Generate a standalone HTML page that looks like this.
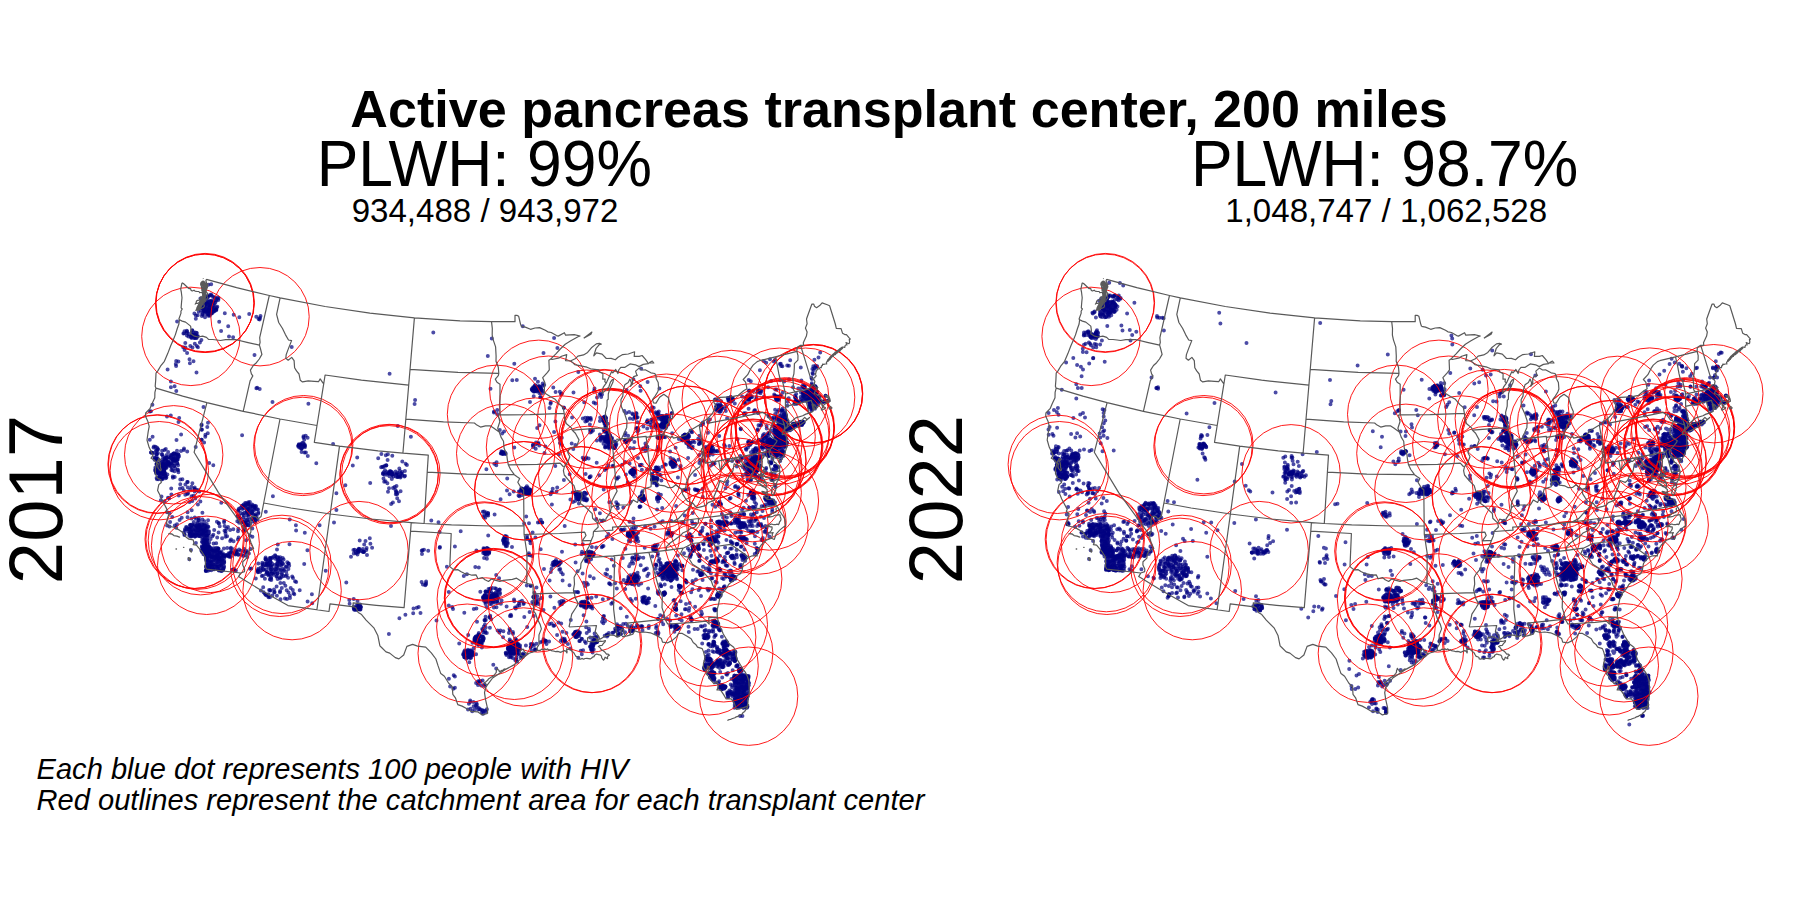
<!DOCTYPE html><html><head><meta charset="utf-8"><title>Active pancreas transplant center, 200 miles</title><style>
html,body{margin:0;padding:0;background:#fff;overflow:hidden}
svg{display:block}
text{font-family:"Liberation Sans",Arial,Helvetica,sans-serif;fill:#000}
.st{fill:none;stroke:#595959;stroke-width:1.2;stroke-linejoin:round}
.c{fill:none;stroke:#f00;stroke-width:.9}
.d{fill:none;stroke:#000080;stroke-width:4;stroke-linecap:round;opacity:.7}
</style></head><body>
<svg width="1800" height="900" viewBox="0 0 1800 900">
<rect width="1800" height="900" fill="#fff"/>
<path class="d" d="M208.4 284.8h0m-1.4 12.7h0m2.9-2.3h0m4.5 2.3h0m4.1 0.9h0m-16.4 6.7h0m0.5-0.7h0m0.5 1.5h0m0.8-1h0m0.5 1.3h0m0.9-1.8h0m0.2-1.5h0m0.8 5h0m1.1-4.8h0m1.1 4h0m1.1-5.8h0m0.4 6.2h0m0.3-3.2h0m0.7-0.3h0m0.9-3.4h0m1 1.2h0m1-0.7h0m1.6-1h0m-21.1 13.4h0m6.3-3.1h0m2.4-0.4h0m1.2 1.4h0m1 0.3h0m0.5-1.2h0m0.7 1.6h0m1.3 1.9h0m0.1 0.3h0m0.8-4.9h0m0.8 0.9h0m0.7 0.9h0m0.5 0h0m0.6 1.8h0m1.1-0.3h0m1.3-1.2h0m1-0.7h0m1.7-1.4h0m-39.3 12.1h0m42.1 0.3h0m40.4-2.4h0m-72.8 11.4h0m34.3 0.1h0m-36.9 2.4h0m4.7 0.8h0m2.5-1.4h0m0.9 2.7h0m1-0.2h0m0.8 2.8h0m0.8-1h0m0.5-4.4h0m0.5 4.2h0m0.6-3.9h0m0.8 3h0m236-3.4h0m-248 10.4h0m9.5 0.9h0m6.6-3.7h0m53.1 14.9h0m565.7-2.6h0m-630.3 10.8h0m576.3-0.5h0m14.6 1.1h0m-613.2 5.8h0m473.6-0.8h0m141.2-2.5h0m30 2.7h0m3.2-3.3h0m-426 8.1h0m399.4 5.5h0m23.9-5.4h0m-555.7 13.8h0m277.4 0.2h0m2 0.1h0m2.4-0.3h0m1-0.5h0m3.1-1.4h0m104.5-3.8h0m123.5-1h0m30.2 6.9h0m2.2-1.2h0m7.9 0.3h0m0.7-0.2h0m1.4-0.8h0m1.7 0.4h0m-638.9 4.6h0m355.4-2.1h0m1.1-0.1h0m0.8 0.5h0m0.7 1.2h0m1.2 0.5h0m1.5-2.5h0m1.1 1.7h0m0.7-0.3h0m0.7-0.3h0m0.4 0.3h0m1.1 3.1h0m1.6 0.1h0m18.3 1.1h0m33.6-5.6h0m32.1 1.3h0m122.1 1.1h0m8.4 1.8h0m2.4-0.9h0m14.7 2.6h0m2.5-5.1h0m21.6-0.9h0m5 5.1h0m1.9-0.5h0m1.1 1.8h0m1.1-2.7h0m0.3-1.7h0m0.4 0.5h0m0.4 4h0m0.5 0.6h0m0.4 0.1h0m0.3-3h0m0.1 2.1h0m0.3-4.1h0m0.4 4.4h0m0.6-4.1h0m0.4-0.9h0m0.2-1h0m0.6 5.1h0m0.4-6.1h0m0.6 5.7h0m0.4-0.1h0m0.4-3.3h0m0.2 3.4h0m0.1-3.9h0m0.8 2.8h0m0.8-1.8h0m0.6 1.3h0m9 3.6h0m-295.6 6.1h0m20.5 1.9h0m45-0.3h0m120.3-4.2h0m12.2-0.6h0m1-0.8h0m0.8 0.5h0m1.1-0.9h0m0.4 2.1h0m0.6 1.2h0m1.1-0.7h0m10.7 1.9h0m2.6-5.3h0m1.4 1.1h0m0.8 1.5h0m0.9-1.3h0m2.8-1h0m23.3 0.3h0m0.7 0.3h0m1 0.9h0m0.5-1.4h0m0.5 2h0m0.8-1h0m2-2.1h0m13.5 6.9h0m0.9 0.2h0m0.6-5.7h0m0.4 5h0m0.6 0.8h0m1.3-0.2h0m0.3-0.1h0m2.3-3.7h0m1.9-2.5h0m1.4 0.5h0m1.8 3.4h0m2.1-1.4h0m1.1-0.1h0m0.4 1.1h0m0.3 1.8h0m0.3-1h0m0.6 0.3h0m0.5 2.4h0m0.6-4h0m0.4-0.5h0m0.5-1.4h0m0.3-0.5h0m0.5 0.5h0m0.2 1.6h0m0.6-2.4h0m0.6 1.5h0m0.4-1h0m0.6 2.8h0m0.3-2.9h0m0.6 0.8h0m0.7-1h0m1.9-0.4h0m2.4 4.5h0m3.4 0h0m-674.3 10h0m343.1 0.3h0m69.9-3.5h0m89.7-0.4h0m62.5-0.9h0m0.6 1.7h0m0.1 0h0m0.8-1.9h0m1-0.8h0m1.1 0.3h0m0.7 0.5h0m0.4 4.6h0m1-3.4h0m26.7 0.9h0m28.8 3h0m4.6-1h0m2.7 0.3h0m24.5-4h0m1.2-2.5h0m1 3.1h0m0.5 1.9h0m2.6-1.8h0m0.5-0.2h0m-644.2 8h0m401.3 2.1h0m16.3 0.8h0m11.8-1h0m3.4 0.2h0m0.7-0.6h0m0.5 1.5h0m1.3-0.2h0m26.1-4.7h0m2.9 2.8h0m1.4 0.8h0m14.9 2.3h0m4.8-6h0m2.1 5.2h0m0.3-0.3h0m2.8-2.3h0m2.4 3.2h0m0.6-1.4h0m2.3 0.4h0m0.6 0.3h0m4.5-5.4h0m72.1 1h0m14.2-1.6h0m15.2 5h0m3.4 2.1h0m2.3-0.4h0m1.2 0h0m3-2.9h0m0.9-2h0m1.4 0h0m0.6 0.5h0m-584.5 9.6h0m335.6 3.4h0m49.7-7.6h0m16.3 0h0m1.5 1.3h0m1 5.1h0m31.8-4.4h0m9.9-0.8h0m4.1 6h0m4.4-4h0m3.2 3.3h0m2.2-2.4h0m0.4 0.2h0m0.8-2.6h0m0.5-0.2h0m0.4 4.8h0m0.7-6h0m0.7 2.7h0m0.6-2.7h0m0.4 2h0m0.4 0.6h0m1 1.4h0m1-0.1h0m39.8-2.5h0m53.3 3.1h0m11.6 1h0m3.8-0.5h0m1.6 1.2h0m0.2-2.1h0m0.2 1.6h0m0.4-0.2h0m0.3-3.8h0m0.3-1.9h0m0.7 0.5h0m0.6 4.5h0m0.7 1.8h0m0.4 0.5h0m0.2-1.4h0m0.2-1.9h0m0.3 1h0m0.6-0.5h0m0.4-1.1h0m0.1 2.5h0m0.3-6.3h0m0.1 1.2h0m0.5 6.3h0m0.1-3.8h0m0.5-3.4h0m0.4 6.8h0m0.1-2.3h0m0.6-3.5h0m0.9 0.4h0m0.5 6.2h0m0.7-0.7h0m0.2-0.3h0m1.2 1h0m0.8-0.3h0m1.2-0.8h0m0.7-2.9h0m0.4 1h0m0.9-1.3h0m0.7 1.8h0m0.5-1.7h0m0.3 1.4h0m0.7 0.3h0m0.4-0.8h0m1.6-0.5h0m0.6 1.6h0m1.3-1.2h0m0.9-2.1h0m0.1-0.6h0m0.3 2.1h0m0.7 0.8h0m1.3-2.3h0m-601.7 7.3h0m40.4 5.5h0m262-3.6h0m86.9-1.5h0m12.7-0.2h0m2.8 1.9h0m1 2.4h0m0.4 0.3h0m1.7 0.1h0m15.9-1.7h0m12-1.1h0m18.9-3h0m5.7 6.8h0m22.5-0.9h0m2.9 0.5h0m0.3-0.6h0m4.3-2.3h0m48.5-3.9h0m22.3 6.8h0m5.4-2.3h0m5.3 0.2h0m1.2-2.9h0m0.3 4.1h0m0.4-6h0m0.3 7.6h0m0.6-7.2h0m0.5 1.4h0m0.5 3.1h0m0.3-3.9h0m0.3 1.9h0m0.3-1.2h0m0.2 5.9h0m0.3-2.5h0m0.6 1.7h0m0.5-4.8h0m0.2 0.6h0m0.2-2.1h0m0.3 0.4h0m0.3 5.5h0m0.4-2.8h0m0.2-0.1h0m0.3-2.2h0m0.2 2.6h0m0-2.5h0m0.2 6h0m0.3-4.3h0m0.4-1.3h0m0.2 2.7h0m0.3-1.8h0m0.2 1.9h0m0.3-0.6h0m0.4-3.9h0m0.3 1.8h0m0.2 0.8h0m0.4-2.9h0m0.2 2.9h0m0.5-2.9h0m0.4 0.7h0m0.4 1.4h0m0.7-1.8h0m0.6 0.6h0m0.8-0.9h0m0.9 0h0m0.3 0.3h0m0.4-0.3h0m0.4 1.1h0m0.6-0.5h0m0.7-0.3h0m-590.6 11.3h0m100.8 3.4h0m1.5 0.3h0m232.2-0.9h0m23.9 0.4h0m37-2.4h0m3.9 0.3h0m2.7 3h0m0.8-0.7h0m1.1-3.2h0m0.8-1.1h0m0.2 0.4h0m0.9-0.1h0m0.3 0.3h0m0.2 3.7h0m0.5-6.2h0m0.8 1.3h0m0.7 2.5h0m0.8 0.4h0m0.6-1.4h0m0.8-1.6h0m13 2.6h0m3.1-0.4h0m17.3 3.3h0m13-5.9h0m2.6-0.5h0m20.9 2.8h0m1.1-2.9h0m1.5 1.4h0m1.3-1.5h0m0.7 4.5h0m1.4 0.3h0m0.3-0.5h0m0.9-4.9h0m5.4 5.8h0m4.7 1.6h0m2.1-3.7h0m47.4 2.8h0m0.8 0.6h0m4-1.6h0m7.6-1.5h0m1.7 1h0m0.2 2.5h0m1-3.1h0m1.8 2h0m0.9-5.2h0m0.9 5.1h0m0.4-1.5h0m0.5 0.3h0m0.6-3.3h0m0.4 5h0m0.4-1.5h0m0.6 1.9h0m1.2-2.9h0m0.5 2.8h0m0.3-2.9h0m0.2 2.1h0m1-0.1h0m1.2 0.8h0m1.2-1.5h0m0.1-2.7h0m0.6 0.4h0m0.2 1.3h0m0.7-4.7h0m0.1 2.3h0m0.4 2.1h0m0.5-0.9h0m0.1 0.1h0m0.3-3.1h0m0.6 0.8h0m0.7 2.4h0m0.3-2h0m0.3 5.7h0m0.6-7.3h0m0.5 1h0m0.1 2.1h0m0.1-0.2h0m0.4-2.6h0m0.3 3.4h0m0.6-3.6h0m0.6 2h0m0.7-1.8h0m0.5 5.2h0m1.3 0.2h0m-632.7 4.5h0m3.1 1.2h0m7.4 2.2h0m16.5 1.1h0m14.7-4.1h0m103.1-1.6h0m2 2.2h0m0.6-3h0m0.5 3.4h0m2.6-1.8h0m28.6-2h0m200 3h0m6.1-1.5h0m36.2-0.7h0m32.2 2.2h0m1.6 1.3h0m4.6-0.4h0m0.9-0.3h0m1.7-3.7h0m27.1 4.3h0m3.9-1.5h0m22.7 4.6h0m18.9-6.7h0m3.7 2h0m15 2.8h0m0.6-1.2h0m1.1-2.6h0m0.6 4.9h0m0.6-3.6h0m0.8 3.1h0m1.3 1.1h0m1.4-0.3h0m10-6.2h0m22.2 5.1h0m6.7 0.2h0m2.4-1.4h0m1.5 1h0m4.8-2.3h0m1.9-1.2h0m1.7 0.5h0m0.5-1.6h0m1.2-0.3h0m1 7.3h0m0.2-3.4h0m0.3-1.8h0m1-0.9h0m0.6 1.2h0m0.5-0.2h0m0.5-1.4h0m0.3 2.8h0m0.4-0.3h0m0.2-0.9h0m0.3-2.9h0m0.4 0.7h0m0.4 1h0m0.4 0.1h0m0.2-1.9h0m0.5 4.2h0m0.7 0.2h0m0.6-2h0m0.3 3.3h0m0.3-4.9h0m0.3 1.5h0m0.3 2.2h0m0.5-1.6h0m0.4-1.6h0m0.3 1.5h0m1.8-0.3h0m0.6-2.3h0m1 0.4h0m0.4 6.6h0m0.4 0.1h0m2.1-6.5h0m1.9 1.2h0m-632.3 6.9h0m2.4 6.8h0m0.4-3.2h0m1.3-3.6h0m5.1 3.5h0m3.1 1.5h0m1.4-0.7h0m3.2 0.7h0m1.4 1.5h0m0.9-5.3h0m0.3 4.8h0m1.1-5.4h0m0.9 4.4h0m1.1-1h0m1-1.2h0m0.4 1.3h0m0.6-2.6h0m129.4 1.5h0m78-0.8h0m115-1.6h0m1.2-1.5h0m1.3 0.9h0m1.9 0.9h0m77.5 3.8h0m3.5-0.3h0m86.9 1.8h0m30-5.6h0m6.7-1h0m3 1.9h0m29.8 3.2h0m7.7-1.4h0m2.2 3.3h0m1-6.1h0m1.1 3.3h0m0.5-0.8h0m0.6 4h0m0.2-2.6h0m1 1.3h0m0.5 0.3h0m0.8-0.5h0m0.9 0.1h0m0.9-2.2h0m6.6-1.5h0m0.9-2.7h0m0.7 3.4h0m0.8 0.5h0m0.2-0.2h0m3.2 3.2h0m2.6-5.3h0m1-0.2h0m1 2.4h0m1.2-2.4h0m0.6-1.3h0m1.1 1.5h0m1.2 0.2h0m0.9 0.1h0m0.6-2.1h0m1.2 0.8h0m-626.9 10.7h0m0.6 3.7h0m0-0.2h0m1.1 0.9h0m1.4-0.3h0m0.8-5.7h0m0.8 2h0m0.4 1h0m0.5 0.9h0m0.5-2h0m0.2-0.1h0m0.3 0.7h0m0.7-3h0m0.2 0.3h0m0.9 5.8h0m0.9-6.3h0m0.4 5.5h0m0.5-1.5h0m0.8-2.2h0m0.8 2.5h0m0.9-1.5h0m2.4 3.5h0m2.1-6.7h0m0.3 4.8h0m2.5-5.5h0m1.2 5.1h0m174.7 0.3h0m32 0.3h0m20.8-2h0m91-1.6h0m116.2 3.6h0m16.8-2.2h0m26.1 4h0m6.6-0.9h0m8.1-4.5h0m1.1 2.6h0m1.2-2.3h0m0.3 2.7h0m0.3 1.1h0m0.6-4.4h0m0.5-0.1h0m0.5 0.5h0m0.3 1.8h0m24.2-1h0m11.5 2.5h0m16.4-4.3h0m9.6 5.3h0m7.7-1.3h0m2.9-1.1h0m0.3 0.4h0m0.7 0.5h0m1-2.5h0m0.2 4.3h0m0.4 0h0m0.1-0.3h0m0.4-1.1h0m0.6 1.5h0m0.5-3.4h0m0.4-0.4h0m0.5 3.8h0m0.7-4.1h0m0.6-1.4h0m0.5 5.6h0m0.2-0.8h0m0.3-5h0m0.7-0.6h0m0.5 0.2h0m0.1-0.3h0m0.6 0.4h0m0.4-0.5h0m0.6 4h0m0.5 0.2h0m0.5 0.7h0m0.8 0h0m6.6 2.5h0m5.1-5.5h0m4.5 4.4h0m4.4-5.7h0m-624.2 10.5h0m0.4-1.7h0m1.7-1.6h0m0.8 5.3h0m0.7 1.5h0m0.7-0.9h0m0.6 0.1h0m1.1-2.3h0m0.7 1.3h0m0.6 0.5h0m0.4-5.4h0m0.6 3.8h0m0.2 2h0m1.2-6.1h0m8.8 3.1h0m3.9 1h0m206.2 2.6h0m2.4-0.1h0m2.1-1.1h0m0.9-2.7h0m0.5 0.8h0m0.5 1.4h0m0.9 1.5h0m0.9-1.2h0m4-0.1h0m3.1-2.3h0m2.4 4.6h0m167.4-1.3h0m36.5-5.9h0m24.5 3.7h0m0.7-1.6h0m1.1 1.9h0m0.5-3.3h0m0.5 2.6h0m0.6-1.1h0m0.7 0.9h0m0.5 0.7h0m16.6 2.7h0m2.7-3.9h0m2.2-2.7h0m1 6h0m1.8 0.4h0m82.9 1.2h0m3.8-3.2h0m1.3-0.8h0m0.7-0.3h0m0.8 1.8h0m0.6-2.6h0m0.3 0.6h0m0.3-0.3h0m0.3-0.1h0m0.4-2.7h0m0.7 1.4h0m0.2-0.5h0m0.3-0.5h0m0 1.7h0m0.1-2.2h0m0.1 2.1h0m0.4 0.1h0m0.2-1.6h0m0.6-0.6h0m0.5 2.2h0m0.5-1.6h0m0.5 0.4h0m0.5-0.8h0m0.6 3.1h0m0.3-0.6h0m0.1-2.4h0m0.2 2.2h0m1.5-2h0m7.9 4h0m6.7-3.4h0m3.3 1.1h0m-617.6 8.8h0m1.2-2h0m1.6 1.3h0m2-2.3h0m2.4-0.2h0m8.9 0.9h0m13 5.2h0m196.5-0.3h0m7.6-2.8h0m6.1-2.1h0m2.6 0.6h0m189.1-0.3h0m27.6 1.5h0m34.6 1.3h0m0.9-1h0m0.2-2.6h0m1.1 2.9h0m0.2 1.5h0m1.1-0.4h0m0.4 0.1h0m1.3-2.7h0m20.9-0.2h0m72.6 2.6h0m5.6-3.6h0m15.2 3.2h0m-591.4 8.7h0m5.5-3.9h0m8.9 4.6h0m1.8 0.8h0m191.9 1.8h0m7.5-1.7h0m111.5 0.5h0m14.2-0.7h0m0.7-1.3h0m2.5 1.3h0m1.3-2.2h0m0.8 2.2h0m1.2-2.1h0m0.7 2.6h0m1.3-1.1h0m0.6 0.9h0m26.2 1.3h0m86-0.2h0m40.5-0.7h0m11.8-1.4h0m3.6 1.2h0m36.6-3.4h0m15.9 4.9h0m1.6-1.4h0m23.1-3.6h0m-604.2 7.5h0m16.7-1.2h0m84.8 3.1h0m124.1-2h0m112.6 0h0m14.1-1.7h0m2 1h0m3 0.3h0m21.9 0.3h0m22.2-1.8h0m3.1 2.4h0m0.3-1h0m0.6 0.5h0m0.8 4.3h0m0.4-0.3h0m0.5 1.3h0m1.1-4.9h0m0.7 1.1h0m0.5-0.3h0m0.5 0h0m0.6 0.9h0m0.9 2.9h0m1.2 0.6h0m0.5-0.3h0m2.3-6.4h0m53.1 5.9h0m0.6-0.5h0m1.2-2.8h0m0.2 0.7h0m0.5-1h0m0.6-0.1h0m0.4 1.3h0m1.5 2.5h0m12.9-1.6h0m0.8 1h0m2.3-3.9h0m77.4-1h0m12.1 0.2h0m0.6-0.7h0m0.5-0.8h0m0.4 1.5h0m0.3 3.8h0m0.7-1.4h0m0.6-3.5h0m0.6 4h0m10.9 1.4h0m0.8-0.9h0m0.7 2.3h0m1.4-1.4h0m0.5-0.6h0m0.7 2.1h0m-604.4 1.5h0m35.7 0.3h0m42.2 3.9h0m2.5 0h0m1-2.2h0m2 1.2h0m1.8-2.3h0m2.5 4.6h0m2.6 1h0m144-6.5h0m179.9 2.4h0m37.3-1.3h0m7.1 5.2h0m17.2-0.9h0m3.1-6.5h0m32.5 5.9h0m42.6-3.2h0m1.3 0.8h0m26-2.8h0m7.2 6.3h0m8.5-0.9h0m4.2-6.1h0m2.6 0.7h0m0.5 0.1h0m0.3-0.5h0m0.5-0.4h0m0.8 0.1h0m0.8 4.7h0m1.1-0.7h0m0.8-3.5h0m-606.2 11.6h0m35.3 0.5h0m36.5-4h0m4.1 5.3h0m3.4-5.6h0m0.7 4.1h0m1.3-3.4h0m0.4 6.4h0m2.5-2.6h0m1-1.2h0m3.1 3.8h0m2.9-1.9h0m224.5-1.8h0m3.7 2.2h0m1.7 1.6h0m129.6-7.3h0m104.1 5.6h0m18 1.5h0m4.3-1h0m10.2-0.6h0m17.9-4.4h0m-590.6 8.3h0m13.1-0.2h0m4 0.5h0m5.6 3.2h0m14.5 2.4h0m18.7-6.8h0m3 1.9h0m3.2 3.3h0m2 1.1h0m2.8-6.2h0m3.5 1.9h0m2.2-0.7h0m0.9 4.1h0m2.4-2.9h0m180.9 3h0m87.7-5.8h0m14.6 3.2h0m60.8 1.2h0m31.9-2.3h0m48.2 4.1h0m13.6 1h0m21.9-1.4h0m1.4-0.3h0m1.4 0.5h0m0.2-0.9h0m2.7 0.8h0m0.9 0.7h0m0.8-0.2h0m1.4-0.3h0m0.9-5h0m4 5.7h0m3.8-0.2h0m1.9-1.5h0m0.6-1.9h0m0.4-0.1h0m0.8 3h0m0.8-5.4h0m2.2 5.9h0m3 0h0m7.1-4h0m4.4-0.1h0m5-2.6h0m-591.4 10.2h0m15.4 2.7h0m1.7-1.9h0m2.5-0.3h0m0.7-1.5h0m0.9 1.7h0m0.4-2h0m0.4 0.1h0m0.7 4.7h0m1.8-1h0m1.1-2.8h0m1.1 3.4h0m0.4-3.9h0m0.3 3.1h0m0.4 1h0m0.6-3.2h0m0.8-0.8h0m0.6 3.8h0m0.1-0.2h0m0.5 1.9h0m0.9-3.9h0m0.3-1h0m1 0.9h0m0.8 2.6h0m0.4-0.5h0m0.6-5.1h0m0.6 3.6h0m0.6-0.8h0m0.4 0.7h0m1.2-3.8h0m1.5 7.4h0m11.5-5.3h0m6.8 2.3h0m11.5 2.8h0m6.8-1.6h0m1.2-4.3h0m6.3 3h0m138.7-2.5h0m230.2 4.2h0m10.3-1.1h0m4.5-1.9h0m32.7 2.9h0m42.6-3.2h0m8.6-2h0m4.1 0.2h0m1.3-0.2h0m1.5-0.7h0m12.6 3.3h0m1.1-3.4h0m0.3 3.2h0m0.5-2.5h0m1.8-0.1h0m0.3 1.9h0m0.5-2h0m1.2 0.7h0m4.6-0.6h0m3.5 6.7h0m5.7-6.7h0m3.6 2.5h0m3.4 2.6h0m-581.2 4.9h0m5-1h0m1.3 0.8h0m1.2 0.9h0m1.2-1h0m1.3 2.3h0m1.6-1.4h0m1.5-0.5h0m1.1 1.4h0m1.3-3.8h0m0.9 1.8h0m1.2 5.3h0m0.9-4.7h0m0.7-2.6h0m0.5 0.8h0m1.4 2.7h0m0.6-3.5h0m0.5 3.8h0m0.6-1.7h0m1.4-0.9h0m8.3 4.2h0m8.3-4h0m13.1 4h0m131.2 0.8h0m134-0.2h0m1.2-1.8h0m2.3 3.1h0m25.3-6.8h0m79.8 6.5h0m15.4-6h0m0.5 2.8h0m1.2-0.3h0m1-0.2h0m1 0h0m0.5-2.6h0m0.3 3.5h0m1.4-2.7h0m2.5 3h0m1.9-3.8h0m31.6 1.7h0m1.7-0.1h0m15.4 1.5h0m3-1.6h0m2 2.1h0m15.2 2.4h0m1.5 0.6h0m2.7-1.1h0m0.7 1.6h0m0.7-2.8h0m2.3 2.4h0m1.6-5.4h0m9.9 5.8h0m13.1-0.1h0m1.2-3h0m1.5 2h0m1.3-1.9h0m0.7 1.6h0m6.5-6.3h0m10.8 7.8h0m-565.6 3.1h0m6.3-1.4h0m1.1 0.7h0m0.2 4.3h0m0.2 0.5h0m0.3-2.9h0m0.2 2.7h0m0.3-6.5h0m0.1 5.8h0m0.3-3.5h0m0.3 3.2h0m0.4-5.4h0m0.5 7.2h0m0.4-5.6h0m0.3 2.8h0m0.4-1.9h0m0.3 3.9h0m0.6 0.7h0m1.1-1.4h0m7-3h0m14.7 4.4h0m58.6-3.4h0m80.9-0.6h0m84.5 2.9h0m48.9-2.8h0m1.1-3.3h0m2.1 5.5h0m22.8-5.5h0m53 3.8h0m19.6 2h0m32.9-5.3h0m17.8 5.7h0m3 0.2h0m36.4-0.5h0m0.9-0.3h0m1.6 1.7h0m3.4-2.7h0m10.8 0.1h0m1.2-0.9h0m1.8-3h0m1.6 0.4h0m1.2-0.9h0m1.5 7h0m8.6-0.3h0m7.6-4.6h0m4.9 1.2h0m9-0.9h0m-545.3 7.3h0m0.9 0.4h0m0.7-2.4h0m0.6 1.5h0m0.4 1.1h0m0.2 0h0m0.3 2.8h0m0.4-5.1h0m0.2 4.4h0m0.6 1.1h0m0.3-5.9h0m0.3 6.3h0m0.2-1.4h0m0.6-5.2h0m0.4 3.3h0m0.4-2.5h0m0.3-0.7h0m1.1 6h0m0.4-3h0m0.5 0h0m0.8 2.5h0m0.4-0.2h0m0.9-2.8h0m0.8 2.2h0m1.3 2.6h0m1-0.7h0m0.5-3.8h0m1.2-1.1h0m0.8 4.8h0m0.7-6.1h0m1 3.7h0m2-0.9h0m2 2.7h0m0.9 1.6h0m3.5-0.4h0m2.6-2.4h0m1.6-4.2h0m3.4 5.7h0m0.8-1.3h0m2.8-3.5h0m5.2-0.6h0m2.5 1.9h0m28.3 4.4h0m78.7-1.8h0m3.7-3h0m0.7 1.5h0m0.8-0.6h0m4 0.6h0m3.3-1.9h0m55.7 3.9h0m54.4-3.5h0m7.3-1.3h0m0.8 4.4h0m0.7 0.5h0m0.5-0.8h0m1.4 1.6h0m1.1-2.5h0m0.6 0.2h0m39.2 2.1h0m12.7-5.4h0m43.7 3.9h0m2.7-0.6h0m1 2h0m1.1-0.7h0m0.5 0.8h0m0.6-0.7h0m1.1-0.9h0m0.8 1.2h0m1.4-0.3h0m43.6 1.6h0m18.3-7h0m2.2 7h0m30.2-7.2h0m3.2 6.2h0m2-3.9h0m1-0.2h0m4.6-1.4h0m1.4 6.3h0m15.8-5.6h0m12.4 2.6h0m3.9 3.1h0m9.1-0.2h0m3.1-5.9h0m12.8 3.1h0m0.5-3.3h0m-551.8 9.8h0m1-0.2h0m1-2.5h0m1.2 5.8h0m0.7-0.1h0m1.2-0.5h0m0.5-4.2h0m1.8 4.2h0m0.6-3.3h0m2-1.3h0m0.6 1.8h0m0.6 1.8h0m0.7-3.7h0m0.7-0.3h0m0.9 2h0m0.5-0.2h0m0.6-0.4h0m0.3 1.5h0m1.3-2.2h0m0.6 2.4h0m1.2-1.6h0m0.3 0.1h0m6.7-1.6h0m33.6 6.9h0m1.4-3.7h0m1.8 1.8h0m2-3.6h0m1 4.2h0m2.5-5.4h0m3.9 6.9h0m0.6-3.6h0m1.7-1.3h0m2.2 0h0m1.1-0.7h0m5.8 5.5h0m195.6-5.5h0m70.4 3.7h0m2.9 0.5h0m3.2-0.4h0m25.5-0.6h0m1.7-5.1h0m1.4 0.3h0m22.5 3h0m20.7-2h0m3.3 2.3h0m4.2-2.2h0m19.5 1.5h0m7.4 4.8h0m1.3 0h0m2.3 0.1h0m5.8-2.4h0m23-0.5h0m11 1.1h0m1.6-0.1h0m2.7-0.4h0m1-0.4h0m0.6 0.8h0m0.5-0.8h0m0.3-2.3h0m1.4 2h0m6-0.7h0m1 0.2h0m6.9-2.4h0m2.2 4.8h0m8.1-2.8h0m2.6 0.7h0m-539.2 6.2h0m0.7 3.8h0m0.9-6.2h0m1.4 0.2h0m0.9 2.6h0m0.8-3.1h0m0.7 6h0m0.9-5.6h0m0.7 0.1h0m0.5 4.6h0m1.3-5.2h0m1.9 4h0m0.9-1.5h0m0.4 1.4h0m0.9 2.4h0m1.3-0.7h0m1.3-3.9h0m1.5 4.2h0m0.3-0.7h0m8.7 0.5h0m18.1-1.1h0m8 1.2h0m2.7-2.2h0m2.1-2.6h0m1.9-0.1h0m2.4-0.6h0m2 0.4h0m1.8 4.5h0m0.6-2.6h0m3.2 2.3h0m2.2-0.2h0m2-3h0m1.8-1.4h0m3 6.6h0m2.6 0.8h0m160.6-5.1h0m104.6 2h0m2.4-4.5h0m0.6 0.2h0m4.7 0.3h0m47.9 4.8h0m36.8 0.7h0m11.8-1.5h0m4.7-1.9h0m1.3 0.4h0m0.8 1.8h0m1.1 1.6h0m0.1-0.3h0m1.1-0.5h0m0.2-3.1h0m0.2 0.3h0m0.4 1.3h0m0.2 3.3h0m0.2-3.7h0m0.4 1.8h0m0.1 0.1h0m0.6 0.4h0m0.1-2.8h0m0.2 1h0m0.2 2.1h0m0.3-3.5h0m0.3 0.4h0m0.2 4.5h0m0.1-1.8h0m0.5-3.9h0m1.4 3.8h0m0.4-0.3h0m0.2-0.7h0m0.5-3.3h0m0.4 4.3h0m0.3-2.4h0m0.5 1.3h0m0.7-2.8h0m0.1 2.9h0m0.3-1.5h0m0.2-2.7h0m0.5 0.3h0m0.4-0.5h0m0.4 3.8h0m0.4-0.3h0m1.3 0h0m2.2-4h0m3.1 1.6h0m15.1 5.8h0m11-0.2h0m1.2-7h0m10.1 6h0m6.7-4.6h0m4.9 5.4h0m9.7-6.3h0m-479.2 11.3h0m5-3.9h0m2.7 2h0m1.5 3.6h0m0.9-4.4h0m4.5 3.1h0m1.6-3.2h0m3.7-0.3h0m5 1.8h0m177.1 1.2h0m87-3.9h0m39.2 4.1h0m20.4 0.7h0m18.5 2.6h0m1.9-0.5h0m1.7-2.3h0m1.5-2.4h0m0.5 3.4h0m1.4-1h0m1.3-0.9h0m0.6 0h0m10.8-2h0m11.6 1.7h0m2.4 3.8h0m0.6-2h0m0.5 1.3h0m1.8-4.5h0m1-1.1h0m0.8 1.6h0m0.2-0.4h0m0.3 0.5h0m0.2 0.9h0m0.4 1.5h0m0.3-1.9h0m0.4 1.3h0m0.2-2.7h0m0.5 2.2h0m0.4-2.8h0m0.4-0.6h0m0.5 3.3h0m0.3 0.4h0m0.2-0.8h0m0.9 0.8h0m0.4-2.9h0m0.3 0.5h0m0.4-1.6h0m1.2 3.9h0m1.6-1h0m19.6 4.2h0m4.6-4.5h0m0.4-0.1h0m0.5-1.4h0m9.4-0.2h0m11.2 5.1h0m4.1-1.7h0m3.6 0.5h0m0.7 0.1h0m1.9-0.9h0m0.8 2.8h0m0.6-0.8h0m1.1-1.1h0m-458.3 9.2h0m8.8-0.7h0m136.2-3.8h0m4.4 1.3h0m104.6 2.3h0m32-5.1h0m24.1 2.5h0m24.1 1.7h0m15.3-1.7h0m3.1-1.1h0m1.1 1.4h0m2.2-1.9h0m3.9 0.4h0m2.3 3.2h0m22.6 1h0m10-5.5h0m7.9 6.4h0m0.3-0.9h0m0.9 0.7h0m5-6.1h0m7.1 0.5h0m24.2 1.5h0m14-2.2h0m-467.1 12h0m4.9 2h0m3.9 1.2h0m4.5 0.2h0m11.6-3.1h0m5 0.6h0m155.3-1.1h0m36.2 2.8h0m1.1-2.9h0m3-0.3h0m0.9-2.4h0m2.1 6.4h0m1.3 0h0m1.8-2.2h0m1 2h0m0.9-2.6h0m1.4-1.3h0m1.4 1.2h0m75-0.8h0m50.3-3.1h0m33.5 5h0m4.8-0.9h0m0.6 1.4h0m0.6-0.9h0m16.7-0.7h0m11-3.5h0m15.9 1.2h0m9.3 5.4h0m0.7-1.7h0m0.9 0.9h0m1.1-0.3h0m-452 1.2h0m16.7 2.4h0m27.2 4.9h0m45.3-2.3h0m125.9-4h0m0.8 1.4h0m0.3-0.9h0m1.1 4.3h0m0.8-3.9h0m0.5 2.5h0m0.5-0.9h0m0.9 0h0m0.9-0.9h0m0.7-0.1h0m0.8-0.2h0m0.5-0.7h0m0.8 3.9h0m0.5-3h0m1-1.3h0m0.7 4.3h0m0.6 0.9h0m1.1-1.5h0m0.2-0.5h0m1.3 0.3h0m3.5 3h0m18-0.4h0m4.9-0.3h0m9.8-5.4h0m2 2.1h0m1.6-3.4h0m22.2 5.7h0m4.1-1h0m18.4 1.6h0m1.7 1.2h0m1.8-0.1h0m2.1-0.7h0m4.1-5.2h0m19.7 6h0m24.5-5.1h0m7.3 0.7h0m0.3 1.1h0m2 0.5h0m1.2 2.6h0m2.3-5.1h0m26.8 5.2h0m25.3-7.6h0m14.1 3h0m3-2.3h0m-364.3 9.7h0m1.4 3.3h0m1.8-4.9h0m1 2h0m1.5-2.4h0m0.6 0.1h0m0.4 2.4h0m56.3 0.8h0m36.2 1.1h0m38.5-4.8h0m23.5 3.5h0m20.3-3.4h0m25 0.5h0m21.6 0.1h0m3 0.4h0m0.8-1h0m0.8 1.9h0m2.1-1h0m3.3 1.5h0m82.8 2.5h0m1.4-0.8h0m8.8 1h0m10.2-2.5h0m19.7 3.7h0m-309.4 4.3h0m79.1 5.1h0m5.4-2.8h0m20.9-2.4h0m22.9 1.2h0m70.2 0h0m54.4 3.2h0m17.9-3.7h0m14.5 2.4h0m10.3-2.6h0m-217.2 11.4h0m6.1 1.1h0m63.6-1.9h0m17.3-5.7h0m32.6 3.2h0m14.4 3.2h0m4 1h0m9.2 0.2h0m5.9-2.8h0m5.5 1.7h0m19.2-5.1h0m9.1 5.1h0m5.1-0.8h0m1.1-0.4h0m2.2 2.1h0m21.7-1.3h0m11.6-0.7h0m1.2-3.9h0m0.8-1.1h0m0.5 1h0m0.5 1.6h0m0.7 2.4h0m0.6 1.2h0m0.8-3h0m0.4 1h0m-249.7 10.3h0m10.6-1.9h0m3.9-3.2h0m4.1 3.1h0m16.6-1.7h0m9.5 0.6h0m53.5 1.2h0m8.5-0.8h0m0.5 1.9h0m0.2 0.5h0m0.5-0.3h0m0.2 0h0m1.5-0.3h0m0.7 0.1h0m0.6-0.7h0m9.8-4.8h0m17.9 5.9h0m2-1.6h0m6.6-2.1h0m2.6 4.6h0m1.9-2.3h0m2.5-2.9h0m7.8-0.7h0m0.8 0.2h0m1.7 1h0m9.8-0.5h0m15.1 1h0m17.2-3.1h0m2.8 0.7h0m25.8 6.5h0m1.6-4.7h0m2.6 4.2h0m4.1-3.7h0m4.1 3.9h0m4.7-5.1h0m-246 8.6h0m0.6 0.5h0m1 3.6h0m1-6.1h0m0.4 0.3h0m0.8 1h0m0.2-0.2h0m0.1-1.2h0m0.5 6.1h0m0.9 0.7h0m1.5 0h0m0.5 0.1h0m0.6-3.5h0m0.5-0.8h0m20-1.8h0m8.7 6.6h0m3.5-5.5h0m1.6 4.6h0m23.5-0.8h0m4.4-1.6h0m16 0.1h0m3.2-0.7h0m0.7 0.2h0m11.1-3.1h0m4.1 4h0m5.9 1.9h0m6.5-2h0m0.8 1.2h0m0.9 0.7h0m0.4-2.7h0m0.4 2.9h0m0.6-2.5h0m0.7-3.6h0m1.2 4.8h0m106.4-4h0m1.4 0.4h0m2.8-0.4h0m5.5 3.7h0m0.9 1.3h0m8.5 0.4h0m0.8-0.7h0m2.9-1.1h0m-261.1 10.5h0m3.1-1h0m2.6 0.9h0m7.3-6.7h0m29.4 3.2h0m0.6-0.9h0m0.6-0.5h0m0.7 5.1h0m0.3-5.8h0m0.6-0.4h0m0.3 4h0m0.9-2.3h0m0.7 1.8h0m0.2-1.4h0m0.5-3.5h0m0.9 0h0m0.3 0.5h0m0.6 2.9h0m0.3 1.9h0m0.8-4.8h0m1.5 4.1h0m0.5 0.2h0m0.9-3.5h0m0.6 1.9h0m6.3-2h0m5.8-1h0m3.4 5.3h0m35.1-1.3h0m20.3-2.1h0m0.9-1.1h0m0.5 3.3h0m0.5 1h0m0.7-4.1h0m115.3-0.8h0m4 6.4h0m1.5-6.7h0m2.9 3.8h0m1 0.9h0m2.3 1.5h0m3.6-0.7h0m0.5-3.3h0m0.3 4.5h0m0.2-6.3h0m0.4-0.1h0m0.3-0.2h0m0.1 6.3h0m0.9-1.5h0m1.2-4.4h0m7.5 6.6h0m-271 4.1h0m0.6 1.6h0m0.6-0.3h0m1.7-4.5h0m1 4.1h0m0.6 0.6h0m0.5-1.9h0m0.6-1.9h0m0.6 1.1h0m0.6-0.4h0m0.8-1.7h0m0.7 2.5h0m33.7-1.1h0m2.9 3.4h0m1.4-1.3h0m1.8-2.4h0m1.8 0.1h0m1 0h0m1.7-1.1h0m1.9 1.1h0m3.9 0.8h0m55.8 3.4h0m127.7 0.9h0m0.8 0.9h0m2.3-1h0m1.2 0.8h0m9 0.6h0m3-7h0m1.6 2.9h0m1.5-1.8h0m0.6 1.6h0m0.3-0.7h0m0.4-0.6h0m0.7 3.8h0m0.8-5.5h0m1-0.2h0m1 0.6h0m2.5 3.1h0m0.6 1.4h0m1.2-2.9h0m0.2 2.2h0m0.5 3.1h0m0.4-1.3h0m-219.1 2.9h0m188.5 3.2h0m0.6-4.4h0m1.9 0h0m1.5 4.7h0m0.4 2.6h0m0.5-7.6h0m0.9 3.9h0m0.1 0.6h0m0.6 0.5h0m1.1 1.9h0m0.6-2.6h0m2.8-1.3h0m1.4-2.5h0m0.9 1.4h0m0.2 5h0m0.9-1.3h0m0.4-4.2h0m1.4 2.3h0m1.2-0.6h0m0.4 4h0m0.9-0.7h0m3.3-3.6h0m2.2 1.6h0m1-4.4h0m4.8 1.1h0m2.4 4.5h0m-33.2 2.6h0m0.9 1.5h0m0.5 0h0m3.7 3.5h0m1.4-4.6h0m0.7-0.5h0m1 3.4h0m0.5 1.9h0m0.6 2.2h0m6.2-7.6h0m8.2 4.9h0m8.4 2.8h0m2.6-5.7h0m0.7 1.6h0m0.6-2.5h0m0.8-0.4h0m0.3 1.3h0m1.7 5.5h0m-288.1 0.8h0m24.3 4.6h0m231.2-3.3h0m1.5-1.1h0m0.5 2.7h0m0.8 0.6h0m0.9-0.3h0m4.1 3.3h0m15.5-4.8h0m0.6 2.1h0m0.6 0.6h0m1.1-4.8h0m0.5 7.5h0m0.4-1.1h0m0.9-4.6h0m0.6 1.6h0m0.9 3.1h0m0.9-0.1h0m0.7-6h0m0.7 2.8h0m1.3 2.7h0m0.4-5.7h0m0.4 0.1h0m1.1 2.7h0m0.8-2.1h0m0.7-0.1h0m0.3 0.5h0m1 4.4h0m0.6-0.9h0m0.5-4.5h0m-295.4 12.5h0m31.2-2.9h0m235.6 2.2h0m1.4-2.9h0m0.6 1.8h0m0.3-0.7h0m0.5 0.5h0m1.6-0.6h0m0.5 1.1h0m4.4 3.2h0m2.7-3h0m3.1-3h0m0.7 0.6h0m0.9 3.4h0m0.8 0.7h0m1-0.1h0m0.4-0.9h0m1 0.7h0m0.3 0.7h0m0.6 0.5h0m0.7-3.3h0m0.7 4.6h0m0.9-1.5h0m0.3-3.4h0m0.3 2h0m0.8-2.1h0m0.6 3.6h0m0.3 0.1h0m0.6-5.9h0m0.4 4.2h0m0.9-0.8h0m0.8 1.3h0m-20.6 5.9h0m0.8 2.3h0m2.9-3.3h0m1.3 2.5h0m1.9-2.3h0m0.4 4.3h0m0.9 1.5h0m0.4-7h0m0.4 1.2h0m0.4-1h0m0.6 5.4h0m0.6-6h0m0.3 5.3h0m1-5.6h0m0.6 2.9h0m0.7 4.4h0m1.2-6.2h0m0.6 0.7h0m0.4 3.1h0m0.7 2h0m0.7 0h0m0.5-3.6h0m0.2 0.9h0m0.7 1.4h0m0.3-1.6h0m0.6 2.5h0m0.4-1.5h0m0.4-1.2h0m-277.3 4.5h0m6.2 2.6h0m258-1.6h0m0.7-0.7h0m0.7 2.3h0m0.9 3.2h0m0.4-6h0m1.4 2.3h0m0.6 4.7h0m1.3-2.6h0m0.7-3.2h0m0.7 5.2h0m1.3-2.1h0m0.7 1.2h0m1.3-3.7h0m0.6 1.9h0m0.3-1.4h0m0.9 5.2h0m-276.3 1.1h0m8.9 0.4h0m3.5 1.9h0m3.9-1.8h0"/>
<path class="d" d="M211.2 284.3h0m-3.8 12.2h0m3.6-2.1h0m4.4 3.9h0m-13.8 9.4h0m0.6-1.8h0m0.5-1.4h0m0.6-0.2h0m0.9 3.6h0m0.4-2.3h0m0.7-0.3h0m0.2-1.2h0m1.2 2.6h0m1.1-5.2h0m1.2 1h0m0.7 0.8h0m0.4 3.1h0m0.5-4.6h0m0.5 0h0m1 4.7h0m0.9-3.6h0m1.3 1.5h0m1.8-3.6h0m-20.2 14.6h0m6.4-1.1h0m1.1-3.2h0m1.4-2.2h0m0.5 0.6h0m0.8-1.2h0m0.4 3.4h0m1.3-2.5h0m0.3 2.6h0m0.8 3h0m0.8 0.9h0m0.5-7.7h0m0.6 1.7h0m0.5 3.1h0m1.3-3.7h0m1.2 1.3h0m1.6-1.2h0m9.4 4.1h0m-29 5.4h0m43.5-1.5h0m20.7 0.7h0m-72.9 13.5h0m41.1-5.1h0m-41.3 9.2h0m4.1 1.8h0m0.5-1.3h0m1.2 0.6h0m0.7-1.3h0m0.8 1.3h0m0.8 0h0m0.5-1.4h0m0.4 0.7h0m0.6-0.1h0m1.4 0.5h0m293.9 2.3h0m-306.3 9h0m11.3-1.7h0m94.9 1.1h0m196.1 8.9h0m-311.6 5h0m17.3 0.4h0m576.5-2h0m20.2 0.9h0m-614.4 3.9h0m584.1 6.1h0m27.3-4.7h0m26.1 0.8h0m3 1.1h0m-299.5 12.5h0m294.6-2.2h0m-640.5 9.5h0m341.4-6.9h0m22.6 4.9h0m3-3.5h0m1.1 5.1h0m1.3-0.3h0m3.9-1.4h0m204.5-5h0m31.4 0.2h0m21.3 0.1h0m2.8 7.1h0m7.6-2.7h0m0.6 3.1h0m1.1-1.5h0m2.1 0.2h0m-559.2 1.7h0m275.5 1.3h0m1.1-1.6h0m0.7 1.6h0m0.8 1.8h0m1.6-0.6h0m1.4-2.7h0m0.7 2.9h0m0.6-2.5h0m0.7 1.3h0m0.7-1.2h0m1 0.2h0m1.6 2.1h0m19.1 2.6h0m37.6 1.2h0m41.1-4h0m108.6-0.2h0m8.2-0.8h0m3.1 3.5h0m14.2 2.6h0m7.9-3.1h0m18.4-0.1h0m3.3 0h0m1.3-0.6h0m1 2.4h0m0.9-3.2h0m0.3 1.6h0m0.3-0.9h0m0.7 0.6h0m0.2 1.1h0m0.4-3.4h0m0.3 3.7h0m0.2-3.5h0m0.2 5.3h0m0.9-1h0m0.1-3.9h0m0.5 1.6h0m0.2 3.1h0m0.5-5.6h0m0.8 3.8h0m0.2 0.1h0m0.4-1h0m0.5 0.4h0m0.1 1.5h0m0.6 0.8h0m0.3-5.5h0m0.9 2.1h0m0.9 1.5h0m-544.5 8.3h0m261.2-5.7h0m17.1 6.3h0m46.2-5.1h0m120.9 2.9h0m10.5 0.4h0m0.8-1.6h0m0.8 0.8h0m0.9-1.2h0m0.4 2.7h0m1-1.9h0m0.8-0.1h0m11.4 3.9h0m2.4-4.9h0m1 1h0m1.2 1.5h0m0.6-3.4h0m6.3 1.7h0m19.7-0.1h0m0.5-0.7h0m1.1-0.1h0m0.4 0.6h0m0.6-0.4h0m0.7-0.1h0m8.7 3.4h0m7.4-4.2h0m0.4 4.2h0m0.6 1.1h0m0.6-0.2h0m0.7-0.8h0m0.9 0.1h0m0.4-0.1h0m3.4-1.4h0m1.3-4.5h0m1 1.4h0m2.5 0.8h0m1.4-0.5h0m0.9 5.6h0m0.4-2.2h0m0.3 2.6h0m0.4-2.8h0m0.9 1.9h0m0.3 0.1h0m0.5-6.5h0m0.5-0.3h0m0.3 4h0m0.3-2.4h0m0.5-1.2h0m0.3 0h0m0.8 5h0m0.4-4h0m0.4 4.6h0m0.5-5h0m0.5 2.1h0m0.6 3.3h0m1.9-0.9h0m0.6-5h0m2.8 5.6h0m5.7-1.7h0m-675.7 4.2h0m344.9 5.2h0m127.1 1.2h0m34.4 0.4h0m57.8-5.3h0m0.2 2.3h0m0.3 0.6h0m0.8 0.4h0m1.1 0.1h0m0.8 2.3h0m0.9-6.4h0m0.4 3.7h0m3.7-0.6h0m29.6 2h0m24.2-0.5h0m3.5 0.2h0m5.3-4.5h0m22.1-1h0m1.2 2.7h0m0.9 0.6h0m0.3-0.3h0m2.8-2.3h0m1.3-0.2h0m-636.8 12.7h0m403.6 0.6h0m7.2 0h0m13.3 0.1h0m0.4-0.5h0m0.6-1.4h0m0.8-0.4h0m21.1-3.3h0m6.8 1.3h0m2.4 3.4h0m1.2-4.1h0m15.8 5.9h0m4.9-3.6h0m1.1-2.1h0m2.2 2.5h0m1.8 3.1h0m1.4-3h0m0.8 3.5h0m2.2-4h0m2.6 2.9h0m40.5 0.5h0m35.8-6.2h0m22.8 1.7h0m6 4.5h0m2.3-2.6h0m3.2-1.4h0m1.4 2.8h0m1.8-0.3h0m1.1-0.5h0m1.2-1.3h0m0.9 2.9h0m-579.1 7.9h0m332.2-1.6h0m47.6-4.4h0m16.4 0h0m1.4 2.3h0m1.1 3.7h0m37.4-0.5h0m4.1-6.2h0m5.7 1.3h0m3.4 3.8h0m4 0.1h0m0.9 1.2h0m0.6-2.1h0m0.5-1.6h0m0.5 0.8h0m0.5 1.5h0m0.6 1.9h0m0.7-0.9h0m0.6-3.5h0m0.5 2h0m0.3-2.3h0m1.1-1.4h0m33.8 4.3h0m57.3 0h0m2.9-4.8h0m12.9 5.3h0m2.9 1.8h0m1.2-6h0m0.1 3h0m0.3 3.2h0m0.5-0.7h0m0.2 0.6h0m0.3-1.9h0m0.9 1.8h0m0.6-6.8h0m0.6 5.3h0m0.2 0.5h0m0.3 0.8h0m0.1-4.5h0m0.4 3.8h0m0.7-4.4h0m0.2-0.1h0m0.2 3.4h0m0.2-4.2h0m0.4 0h0m0.2 2.4h0m0.3-3.4h0m0.4 2.3h0m0.4 4.8h0m0.1-6.8h0m0.7 3.9h0m0.9-1.4h0m0.3 4.8h0m0.7-0.3h0m0.5-0.8h0m0.9-0.3h0m1.2 0.8h0m1 0.1h0m0.7 0h0m0.3-2.4h0m1.2-1h0m0.4 0.9h0m0.4 0.3h0m0.5-1.2h0m0.5 1.6h0m0.5-0.4h0m1.7 0.3h0m0.9-1.2h0m1.2-2h0m0.5 0.1h0m0.2 0.1h0m0.5 0.2h0m1-1h0m0.7 1.1h0m-601.6 6.6h0m103.9 6.3h0m248.4-3.9h0m37.5-0.1h0m12.7-0.1h0m2.4 0.5h0m0.9 3.3h0m0.5-5.7h0m1.9 6.2h0m18.1-0.3h0m9.8-7.5h0m21.9 7.3h0m12.3-2.2h0m12.7 1.4h0m2.8 0.1h0m1.1 0.3h0m10.8 0.6h0m41.4-6.5h0m23.3 4.9h0m4.1 0.9h0m6.2-6.8h0m0.5 3h0m0.3-1.9h0m0.2 3.3h0m0.4-1.2h0m0.6-2h0m0.5 3.3h0m0.5 2.2h0m0.3-4.8h0m0.4 0.2h0m0.2 0.6h0m0.2 2.4h0m0.2-3.4h0m1.1-0.8h0m0 2h0m0.2-1.4h0m0.3-0.5h0m0.2 6.5h0m0.4-0.1h0m0.3-3.4h0m0.2 3.8h0m0.3-7.7h0m0.2 3h0m0.1-2h0m0.1 3.3h0m0.3 0.8h0m0.4-3.4h0m0.3 2.3h0m0.2 0.7h0m0.3-1.8h0m0.3-0.4h0m0.3-0.7h0m0.3 0.6h0m0.2-0.6h0m0.4 1.5h0m0.3-2.8h0m0.4 0.3h0m0.5 2h0m0.5-0.5h0m0.5-2.2h0m0.6 0.7h0m1 1.1h0m0.7-0.4h0m0.4-0.8h0m0.4-0.4h0m0.4-0.3h0m0.8-0.1h0m-641.9 11.5h0m51.9 0.1h0m101.3 3.3h0m1.2-3.3h0m233.8 3.5h0m22-3.8h0m40.3 0h0m1.7-2.7h0m1.8 2h0m0.6 2.2h0m1.1-3.1h0m0.7 0.7h0m0.4-2.2h0m0.7 5.2h0m0.3-4.9h0m0.2 1.4h0m0.9 1.2h0m0.4 0.3h0m0.7-2.3h0m1.1 3.9h0m0.5 0.7h0m3.3-0.5h0m10.5 0.2h0m4.2-1.5h0m27.9-2.6h0m2.2-0.1h0m4.5-0.3h0m18.7 3.3h0m1-3.2h0m1.2 1.1h0m1.2-0.7h0m1.4 0.6h0m0.5 5.1h0m0.4-6.2h0m2.3 5.6h0m7.5-4h0m2.4 3.8h0m37-3.2h0m11.2 3.9h0m1.8 0.4h0m6.1-0.5h0m5.3-1.6h0m0.8 1.9h0m0.5-5.5h0m1.3-1h0m1.2 0.4h0m1.3 3.8h0m0.6 1.7h0m0.3 0.6h0m0.6 0.2h0m0.6-1.3h0m0.5-2.4h0m0.2-0.7h0m0.7 2.1h0m1.1 0.5h0m0.7-0.9h0m0.1 1.6h0m0.2 1.5h0m1.3-1.9h0m1.2-3.5h0m0.9 0.2h0m0.3 0.7h0m0.4-0.7h0m0.3 2.3h0m0.6-0.7h0m0.2 2.8h0m0.4 0.5h0m0.4-5.1h0m0.2 5.3h0m0.4-7.7h0m0.5 0.4h0m0.6 0.9h0m0.4-0.1h0m0.4-0.6h0m0.5 2.2h0m0.4 1h0m0.2-2.7h0m0.3-0.7h0m0.1 4h0m0.6 1.7h0m0.5 0.5h0m0.5-4.6h0m0.7-0.3h0m0.6 4.1h0m1.2 1h0m-631.2 3.7h0m1.8 2.5h0m8.4-0.1h0m18 0.8h0m114.5-3.4h0m0.6-2.2h0m1.9-0.1h0m0.8 7.7h0m0.5-7.8h0m2.7 1.6h0m196.6 5.5h0m31.7-6.4h0m12.3 1.6h0m59.8 1h0m3.4-0.5h0m1.4-2.9h0m4.4 2.2h0m0.5 1.1h0m15.2 0.8h0m15.3 2.9h0m11.9-0.7h0m18.3-2.5h0m13.6-3.3h0m16.4 2.6h0m2.4 4.1h0m0.5-0.2h0m1.1-1.5h0m0.5-3.3h0m0.8 0.4h0m1 4.9h0m1-0.5h0m2.5 0.5h0m9.7-5.2h0m22.9 1.1h0m5 4.4h0m2.6-3.6h0m1.5 0h0m5.4-1.1h0m2-0.2h0m0.9-1h0m0.8 1.2h0m1.1 2.2h0m0.7-1h0m0.4-2.4h0m0.5-0.1h0m0.6 2.3h0m0.7-0.4h0m0.6-3.3h0m0.4 3.4h0m0.5-0.4h0m0.1 0.4h0m0.3-2.1h0m0.3 5.5h0m0.6-7.1h0m0.2 0.6h0m0.3 2.7h0m0.3-2.8h0m0.4 2.8h0m1 2.8h0m0.4-1.4h0m0.3 0.4h0m0.2-1h0m0.4 1.2h0m0.3-4.7h0m0.5 0.6h0m0.4 2.1h0m0.3 0.3h0m1.7-0.8h0m0.8 3.7h0m1.2-3.8h0m0.1 2.9h0m1 1.5h0m1.9-5.8h0m-633.7 7.2h0m3.4 5h0m1.9 1.3h0m0.6-4.6h0m4.8-0.1h0m2.5 5.7h0m2.3-2.3h0m3.8 0.3h0m0.8-1.7h0m1.2 3h0m0.8-0.1h0m0.4-5.7h0m1.3 1.9h0m1-0.9h0m0.7 1.9h0m1 0.3h0m0.5-1.1h0m1.1 0.8h0m178.1 1.1h0m30.4 2.5h0m113.7-6.6h0m1 0.2h0m1.2-1.3h0m2.2 1.3h0m78.2 5.4h0m4.7-0.5h0m89.9 1.3h0m29-3.9h0m2.7-2.8h0m30 2.9h0m5.7 4h0m5-7.7h0m2.1 5.4h0m0.5-0.9h0m1.2-0.7h0m0.6 0.9h0m0.4 0.4h0m0.7 2.6h0m0.6-1.6h0m1-1.3h0m0.8 1.1h0m0.6 0.5h0m1.3-0.4h0m6.2-6h0m1.1 0.9h0m0.3 2.4h0m0.7-0.8h0m0.5-0.3h0m4 0.1h0m1.7-0.8h0m0.9 2.2h0m1-1.8h0m1.5-0.8h0m0.7 0h0m1.5 0.3h0m0.4 4.7h0m0.9-5h0m0.9-0.1h0m-627.6 14.2h0m1.6-3.7h0m0.5-3.5h0m0.1 3.8h0m1.3 2.5h0m1.3-0.7h0m0.7 2.1h0m0.7-1.5h0m0.5 1.1h0m0.5-0.7h0m0.4-2.9h0m0.2-0.4h0m0.6 0.2h0m0.4 3.4h0m0.8-1.5h0m0.3 1.7h0m1-7.2h0m0.6 3.9h0m0.6 0.1h0m0.5-0.2h0m0.9-1.8h0m1.9 4.3h0m1.5-2.7h0m1.9-1.6h0m0.2-1.9h0m2.8-0.1h0m32 2.9h0m171.9 4.3h0m5.2-1.8h0m20.6-0.4h0m148.4 0.8h0m58 0.3h0m26.6-0.8h0m16.5 2h0m8.3-3.1h0m6.1 0.3h0m1.4-3h0m0.5 5.1h0m0.5 0.1h0m0.1-0.2h0m0.9-0.9h0m0.2-2.1h0m0.6-1.6h0m0.4 1.9h0m24.6-3.8h0m12.6 2.5h0m15.3-2.5h0m9.9 1.4h0m7.6 0.7h0m2.1 3.7h0m0.8-4.3h0m0.2 3.7h0m1-4.8h0m0.3 5.7h0m0.3 0.6h0m0.3-4.2h0m0.2 3.6h0m0.7-1.3h0m0.5 2.1h0m0.4-3.9h0m0.4-0.3h0m0.8 1.1h0m0.6-3.6h0m0.5 7.6h0m0.3-6.6h0m0.2-1.2h0m0.6 0h0m0.5 3.4h0m0.3 3.6h0m0.6-6h0m0.2 4.7h0m0.6-5.4h0m0.6 1h0m0.6 6.4h0m0.7-1.3h0m9.5-4.4h0m2.2 0.9h0m4.5 3.5h0m-620.8 3.9h0m1-1.8h0m0.3 2.3h0m1.9 1.4h0m0.7 1.2h0m0.7-5.4h0m0.8 1.3h0m0.9-0.8h0m0.7 5.2h0m0.7 0.4h0m0.6-2.8h0m0.8-0.4h0m0.1 1.8h0m0.4 1h0m2.7 0.8h0m7.8-6.3h0m207.7 5.3h0m2.1-3.3h0m3.4 2.8h0m1-1h0m0.6 1.2h0m0.8-0.6h0m0.4-0.7h0m1 0.3h0m3.5-0.8h0m1.8 1.2h0m3.2 0.6h0m4.2-2.3h0m180.7 3.1h0m21.1-5.8h0m24 4.6h0m1.2-2.3h0m0.6-0.1h0m0.6 4.1h0m0.5-4.8h0m0.6 0h0m1 1h0m6.7-1.1h0m10.3 4.1h0m2.5-2.9h0m2.4-0.5h0m1.1 0h0m2.5 4.9h0m84.1-6h0m2.3 5.7h0m1-3.8h0m0.2 1.3h0m0.9-2.9h0m0.5 4.7h0m0.3-3.3h0m0.3-0.9h0m0.4 0h0m0.7 0.8h0m0.3-1.6h0m0.2 0.3h0m0.3 0.9h0m0.1-0.9h0m0 0.9h0m0.3-1h0m0.3-0.9h0m0.2 2.4h0m0.6-1.8h0m0.5 0.7h0m0.4 1.3h0m0.6-2.2h0m0.5 1.9h0m0.6-1.7h0m0.2 1.5h0m0.2-1.8h0m0.5 1.3h0m1.4-1.1h0m12.1 4.7h0m3.2-4h0m2.6-1.7h0m-617.6 8.3h0m1.8 1.7h0m1 1.5h0m3.2-2.3h0m1.5 0.1h0m13.9 2.1h0m12.1 3.7h0m193.1-1.9h0m7.9-4.9h0m5.1-0.1h0m5.9 0.3h0m185.3 0.6h0m28.9 0.1h0m33.3 2.2h0m0.8-1.7h0m0.6 1.3h0m0.7 0.4h0m0.5-1.7h0m0.9 1.6h0m0.4 0.9h0m1.4-1.8h0m70.2 3.1h0m23.7-1.8h0m8.2-2h0m12.3 1.5h0m-591.3 5h0m7.5 3.3h0m6.8 1.5h0m3.1 0.9h0m191.3-1.8h0m7.2 3.2h0m117.5 0.2h0m7.5-3.2h0m1.7 2.5h0m2-1.2h0m0.8-1.1h0m0.8 1.4h0m1.3 2h0m0.8-0.4h0m1.4-1.6h0m0.4 1.8h0m26.8-4.3h0m99.3-3.4h0m28.6 5.7h0m10.3 0.1h0m7.1-0.9h0m33-3h0m15.9 5.1h0m1.8-0.1h0m-591.7 5.4h0m17.3-1h0m12.7 0.9h0m144.9-3h0m60.8 5h0m121.3-2.8h0m5.5-1.7h0m2.5 0.2h0m2.5-1.6h0m22.3-0.1h0m24 0.1h0m0.7 3h0m0.2-1.6h0m0.7 2.3h0m0.8-2.9h0m0.5 4.3h0m0.5 1.6h0m1.3-3.7h0m0.4-0.1h0m0.4-0.6h0m0.5 0.4h0m0.6 0.2h0m1.3 1.3h0m0.9 2.7h0m0.8-2.1h0m2.3 2.1h0m52.7-1.6h0m0.9 1.2h0m0.9-2.9h0m0.5 2h0m0.3-2.5h0m0.8 0.5h0m0.1 2.7h0m13.5 0.6h0m0.9-2.1h0m0.9-0.8h0m44.1 0.5h0m35.6-2.8h0m12-0.6h0m0.8 0.1h0m0.3 0.3h0m0.6-1.2h0m0.2 0.6h0m0.6 1.9h0m0.7 3.9h0m0.7-5.4h0m11.1 5.1h0m0.5-0.9h0m0.7 0.3h0m1.4 0.8h0m0.4-0.6h0m0.7 1.2h0m-579.6 2.5h0m31.8 0.7h0m22.2 3h0m1.7-2.8h0m2.6 0h0m0.5-0.8h0m2.1 3.7h0m2.5-0.4h0m3.2 0.8h0m295.8-1.9h0m34.1-4.2h0m31.2 5.2h0m13.3-3.7h0m10.9-0.8h0m2.4-0.8h0m68.7 4.7h0m6.7-0.2h0m1.7 0.2h0m28.3 2.8h0m5.4-5.5h0m9.4 3.9h0m4.2-4.1h0m0.8-0.8h0m0.1-1h0m0.3 3.1h0m0.4-0.9h0m0.9 0.6h0m0.8 0.5h0m1.1-1.1h0m0.7 0.9h0m-603.8 9.8h0m68.2 2.8h0m1.6-0.3h0m4.4-7.3h0m2.7 3.6h0m0.7 1.3h0m1.4 1.2h0m0.4-5.6h0m2.8 0.8h0m2.1-0.5h0m1.6 5.3h0m3-1.9h0m225.7-0.9h0m3 3.6h0m7.5-0.5h0m162.5-5.2h0m73.1 2.8h0m11.8-2.4h0m8.9 4.8h0m5.9-2.3h0m-586.7 9.7h0m17.4-4.8h0m8.6 1.6h0m2.8 1.9h0m9.2-0.4h0m16 1.9h0m14.7-2.9h0m3.9 2.7h0m2.3 1.2h0m1.9-3.3h0m2 0h0m3.3-0.8h0m2.3-0.8h0m1.2 1.6h0m34-0.4h0m194-2.4h0m45.3 6.1h0m13.2-0.8h0m61-2h0m57.2 2.2h0m23.4 0.1h0m21.4 1h0m12.1-2h0m1.3 0.1h0m1.4 2h0m0.4-0.5h0m2.6 0.2h0m0.9-0.8h0m1.4 0.7h0m0.7-1.8h0m1 1.3h0m4.4-6.8h0m3.3 5.2h0m2.2-1.5h0m0.5 1.8h0m0.3 1.2h0m1.1-0.3h0m0.4 1h0m2.8 0.3h0m6.5-2.5h0m3.1 2.3h0m4.3-5.1h0m5.1 5.5h0m-586.2 1.6h0m10.3 5.2h0m2.3 0.2h0m1.8-2.2h0m1-3.9h0m0.6 6.8h0m0.3 0.1h0m0.7-6.4h0m0.8 0.3h0m1.5 1.3h0m1.8 3.5h0m0.5 1.3h0m0.2-0.7h0m0.4-3.9h0m0.3 2.7h0m0.7 1.1h0m1-4.4h0m0.4-1.7h0m0.3 5.2h0m0.5-4h0m0.6 3.9h0m0.8-4.9h0m0.6 5.2h0m0.7-5h0m0.5 6h0m0.7-0.8h0m0.6-5.3h0m0.5 6h0m0.7-4.5h0m0.8 2.7h0m1.7-2.5h0m16.1 3.9h0m3.5-3.9h0m10.3 1.8h0m6.5-2.9h0m1.9-1.4h0m49.2 0.9h0m164.8 6h0m162.4-1.3h0m8.9 1.9h0m13.1-5.4h0m55.6 4.9h0m15.7-0.1h0m3.6-6.6h0m4.6 5.7h0m0.9-5.4h0m2-0.7h0m12.4 1.7h0m0.7-0.5h0m0.3-1h0m0.6 0.5h0m1.6 1.6h0m0.4-0.5h0m0.9-1h0m1.8 3h0m4.4-2.2h0m2.9 6h0m7-7.2h0m3.8 7.1h0m2.3-4.2h0m-577.4 8.1h0m0.8-0.9h0m1.3 0.2h0m1.1 0.8h0m1.7-0.7h0m1.1 1.5h0m1.5-2h0m1.3 1.1h0m1.8 0.2h0m0.9 0.7h0m1.1-3.6h0m0.9 2.3h0m0.9-0.6h0m0.5 4.8h0m0.4-2.3h0m1.6-0.2h0m0.4 2.4h0m0.5-3.9h0m0.9 3.3h0m2.7 0.2h0m8-6.5h0m8.5 3.7h0m22.7-0.7h0m189.8-3.4h0m64.7 7h0m1.3-2.6h0m21.4 2.5h0m8.4-1.4h0m92.2-2.3h0m0.3-2h0m0.6 0.8h0m1.2 1.5h0m0.9-2.9h0m0.9 3.9h0m0.6-2.5h0m1.2 1.2h0m0.8-1.6h0m2.4 0.6h0m30.4 0.3h0m3.3-1.8h0m1.3 0.6h0m16.2 4.3h0m2.2-3.1h0m10.1-0.4h0m7.4 0h0m1.6 4.9h0m2.7 0.6h0m0.3-0.7h0m1.1-0.1h0m1.9-2.2h0m3.4-0.4h0m11.8-0.2h0m9.9 0.5h0m1.1 1.4h0m1.4-1h0m1.2 1h0m1.7 1.4h0m5.8-7.1h0m11.5 5.7h0m-561 8.2h0m0.6 1.6h0m0.9-2.6h0m0.3 1.3h0m0.2 0.4h0m0.2-6.4h0m0.3 0.4h0m0.2 4.3h0m0.2-3.7h0m0.3 2.2h0m0.2-3.6h0m0.6 0.4h0m0.4 2.2h0m0.4 1h0m0.3 3.3h0m0.3-4.4h0m0.6 1.5h0m0.6 2.5h0m0.8-4h0m8.1 5.3h0m16.3-6.6h0m126.1-0.8h0m12.4 7.3h0m114.8 0.2h0m17.2-5.9h0m1.5 2.8h0m1.8-2.4h0m23.1 0.7h0m61.4 3.8h0m11.6-1h0m34.8-4.8h0m16 6.7h0m3.2-3.2h0m35 1.8h0m1 0.6h0m3.7-0.1h0m1.5 0h0m11.3-1.6h0m1.5-1.1h0m0.8-2.5h0m2-1.7h0m0.9 0.9h0m2.1 0h0m13.4 0.3h0m5.8 2.9h0m4.3 2.6h0m14-3h0m-552.9 6.5h0m0.3-0.1h0m0.9 1.2h0m0.5-0.1h0m0.4-0.2h0m0.2 1.4h0m0.3-0.9h0m0.4 2.7h0m0.6-2.4h0m0.2-3.5h0m0.3 3.2h0m0.3-0.7h0m0.2 1.6h0m0.5 0.6h0m0.4-2.3h0m0.4-1.7h0m0.4-0.7h0m1 1.2h0m0.5 5.2h0m0.5-1.3h0m0.8 0.1h0m0.7-4.2h0m0.6 4.1h0m1.2-5.3h0m0.9 3.2h0m1.2 2.4h0m0.7-5.5h0m1 1.9h0m0.6 1.9h0m0.7 3.4h0m1.6-2.5h0m1.6 2.4h0m1.9 0.2h0m0.7 0.1h0m4.1 0.2h0m2.2-7.2h0m2.8 4.7h0m2.2 0.4h0m1.9-2.2h0m3.3-0.8h0m3.4 0.4h0m2.9 1.1h0m29.8-2.7h0m77.7 0.1h0m2.8 4.7h0m0.9-2.3h0m1.1-3h0m3.7 2.7h0m3.4-3.7h0m55.8 2.1h0m60.8 2.8h0m0.6 0h0m0.7-0.1h0m0.8-3.5h0m1.3 2.8h0m0.8-3.7h0m1.1 5.2h0m0.6-0.4h0m39.8-0.1h0m33.1-1.5h0m23.8 1.2h0m1.8-0.7h0m0.8 0.6h0m0.9-0.8h0m0.6 0.7h0m0.5 2.5h0m1.2-0.8h0m0.6-1.4h0m1.5 0.6h0m59.6-3.8h0m2.5-0.2h0m2.1 4h0m31.5-3h0m3.3-0.8h0m0.4-0.1h0m1.8-1.6h0m3.8 0.5h0m5.2 1.5h0m16 5.6h0m10.4-7h0m6.1 7h0m5-0.4h0m13.3-1.2h0m2.5-5.5h0m1 1h0m-552.1 8.5h0m1.1 2h0m0.7 1.2h0m1.3-3.9h0m0.9 0.1h0m1.2 5.1h0m0.9-5.5h0m1.1-1h0m0.9 0.5h0m1.8 2h0m0.7-1.9h0m0.5 5.2h0m0.7 0.1h0m0.8-1.6h0m0.9-3.3h0m0.4 4.5h0m0.5-2.2h0m1.1-0.2h0m1 1.4h0m0.4 1.9h0m1 0.5h0m1.9-6.9h0m21.4 0.9h0m18.1 2h0m1 4.3h0m1.3-2.3h0m2.2-0.6h0m0.8-2.4h0m4.5-2h0m2 1.8h0m0.9-0.6h0m1.7 4.3h0m2 1.8h0m1.2 0.6h0m5.7-0.3h0m198.2-4.9h0m69 3.1h0m1.7 0.7h0m3.1 0.3h0m26-6.4h0m1.6 1.1h0m2.4-0.6h0m32.1 1.2h0m9.6 0.5h0m4.1 0h0m6.8-0.8h0m17.1 5h0m6.6 0.6h0m1.7-0.2h0m6.4-1.5h0m1.2 0.2h0m23.4-1.5h0m10.9 3.1h0m1.5-2.1h0m2.4 0.2h0m1.2-0.7h0m0.5 0.9h0m0.6-2.6h0m0.2 0.7h0m5.4 2.3h0m2.1-0.8h0m6.1-5.1h0m2.7-0.3h0m3.6 1.2h0m6.7-0.1h0m1.8 0.9h0m-539.4 12h0m0.8-3.4h0m1.1-2.2h0m1.1 3.6h0m0.8-3.4h0m1.3 2h0m0.3-2.3h0m0.9 0h0m0.8-0.3h0m0.4 4.8h0m1.3-1.8h0m2.4-0.2h0m0.6 2.2h0m0.2-2.1h0m1.1 3.3h0m1-4.4h0m1.5-1.3h0m1.4 4.6h0m0.4-0.6h0m10 0.8h0m18-0.7h0m6.7 2.4h0m3.1-0.5h0m2-4.2h0m2.7 3.2h0m1.3-3.9h0m2.9 0.3h0m0.9 1.6h0m0.6 4.1h0m3.2-6.7h0m2.1 2.3h0m2.1 2.7h0m1.9 0.4h0m3.2-0.3h0m4.3-1.1h0m186.9-1.8h0m76.9-2.2h0m1.9-0.6h0m1.5 0.3h0m3.7 5.1h0m54.6-4h0m31.5 3.6h0m10.9-3.8h0m4.3 3.8h0m1.5 0.3h0m0.8-3.7h0m0.7 2h0m0.9-1.5h0m0.3 1.1h0m0.3 4.2h0m0.1-0.5h0m0.4-2.2h0m0.3-2.2h0m0.2 1.6h0m0.3 0.3h0m0.3-3.5h0m0.4-0.1h0m0.1 2h0m0.3-2.6h0m0.2 5.1h0m0.3 0.2h0m0.2 0.6h0m0.2-5.2h0m0.2 0.4h0m0.6 3.1h0m1.3-3.1h0m0.3 1.4h0m0.3 2.8h0m0.7 2h0m0.3-0.7h0m0.2-3h0m0.7 1.3h0m0.4-4.8h0m0.2 0.2h0m0.3 4.1h0m0.2-1.2h0m0.6-0.7h0m0.4 3.7h0m0.2-0.1h0m0.9-5.6h0m1-0.5h0m4.1 1.7h0m1 4.1h0m16.5 0.8h0m9.9-3h0m8.3 1.3h0m2.7 0.1h0m7.7-3.7h0m7.3-1.7h0m-478.9 14.3h0m7.2-2.6h0m4.1-2.6h0m2.9 6.3h0m1-1.2h0m2.4-3.6h0m3.4 1.3h0m2.8 1.2h0m2.3-3h0m6.2 3.5h0m178.8-3.4h0m94.2-2h0m32.6 5.9h0m34.5 1.7h0m1.8-2.2h0m0.8-0.9h0m1.8 0.3h0m1.5-0.5h0m1.1 0.6h0m1.4-0.7h0m0.7 1.4h0m1 2h0m18.8-7.1h0m3.4 0.6h0m2.1-0.6h0m0.8 5h0m0.3-4.3h0m1.9 4.9h0m0.9-0.7h0m0.8-0.5h0m0.3 1.8h0m0.3-3.2h0m0.2 0.8h0m0.4-4.3h0m0.3 3.2h0m0.3-2.6h0m0.2 1.7h0m0.6 1.6h0m0.4-1.3h0m0.6-2.2h0m0.2 3.5h0m0.4 0.1h0m0.3 0.4h0m0.7-2.7h0m0.4-1.6h0m0.4 5.9h0m0.7-0.7h0m1.2-3h0m1.6 3.5h0m23.1-4.1h0m0.8 1h0m0.6-0.7h0m0.4 0h0m9.7 4.2h0m12.2 0.4h0m2.6-2.5h0m4.1 1.7h0m1.3 1.6h0m1 0.2h0m0.6-1.9h0m0.8-1.5h0m1.3 2.2h0m-454.9 4.4h0m14.6-1.9h0m127.9 3.4h0m3.2-3.1h0m104.7 4.6h0m38.7-0.8h0m18.4-0.9h0m27.2-1.2h0m11.3-0.1h0m3.3-1.1h0m1.8-1.4h0m2.9 0.4h0m2 1.6h0m4.8 0.8h0m23.5 1.1h0m6.8 2.4h0m7.7-0.7h0m0.8 1.4h0m0.6-0.3h0m5.1-6.9h0m7.2 2.8h0m31 4h0m7.1-6.8h0m-466.3 13.4h0m4.4-3.8h0m4.9-0.6h0m5.9 2.8h0m10 3.4h0m4.4-1.4h0m186-2.4h0m5 3.8h0m0.8-0.6h0m3-3.3h0m1.4-3.2h0m1.8 4.9h0m2.3 2.1h0m0.7 0h0m0.9-0.5h0m1.3-0.5h0m2 0h0m0.4-0.4h0m77.4-2h0m70.8-3.6h0m15 5.9h0m0.4-0.7h0m0.9-1.3h0m0.8 1.1h0m16.6-0.4h0m16.9-3.1h0m11.2-0.9h0m7.7 5.8h0m1.3 0.4h0m0.5-1.8h0m1.3 1.9h0m-452.2 1.8h0m18.5 1.7h0m62.3 1.2h0m133.8-1.8h0m0.9 2.5h0m0.3 0.2h0m0.6 0.7h0m1-2h0m0.5-2.2h0m0.7 1.9h0m0.5-2.4h0m0.7 0.9h0m1.4-0.2h0m0.4-0.3h0m0.9-1.2h0m0.3 2.1h0m1-1.5h0m0.6-0.1h0m0.9 1.5h0m0.6-1.3h0m0.5 0.5h0m1.1 0.4h0m0.1 1h0m1.6-1.2h0m3.9 2.8h0m18.3 1.4h0m12.4 0.2h0m1.3-5.1h0m2.2 6.2h0m2.7-3.3h0m22.6 4.1h0m2.7-1.8h0m18.4-0.4h0m1.9 0.5h0m1.3-0.2h0m2.3-3.7h0m8.5-1.8h0m16.3 6.1h0m29.7-4.8h0m1 4.8h0m0.3-1.5h0m1.9-3.8h0m1.4 5.4h0m2.2-4.1h0m31.7 2.6h0m29.7-2.1h0m7-2.9h0m1.8 0.7h0m-365.3 12.1h0m1.5-0.6h0m1.6 1.2h0m1.5-4.1h0m1.1 2.6h0m0.6 1.2h0m0.3-2.9h0m58.2 0.5h0m55.1 2.2h0m20.1-1.7h0m21.8 1.2h0m22.7-4.5h0m42.4 1.3h0m2.6 1.4h0m1.5 0.8h0m1.1-0.8h0m1.5-0.8h0m1.2-1.5h0m3.6 3.9h0m82.4-0.5h0m1.4-2.8h0m9.9 4.1h0m15.3 2.5h0m14.3-2.2h0m-302.4 3.7h0m72.4 3.5h0m4.6-1h0m21 0.3h0m72.4-0.7h0m21 4.3h0m55.6-4.3h0m19.3 4h0m11.7-0.4h0m10.8-5.2h0m-217.2 6.7h0m42.4 6.6h0m27.1-1.6h0m31.8 1.9h0m19-6.4h0m13.4 5.7h0m4.7-2.7h0m8.3 2.2h0m6.7 0.2h0m10.4 1.6h0m14.6-3.6h0m7.6 2.7h0m5.4-1.3h0m1.2 1.3h0m4.3-6.5h0m20.5 6h0m10.8-0.8h0m0.9-0.3h0m0.7-2.6h0m0.3 1.9h0m0.7 0.9h0m0.8-3.5h0m0.4 0.9h0m0.7-0.7h0m0.6 1.2h0m-239.8 11.5h0m1 0.1h0m4-2.6h0m14.3-2h0m11.3 2.4h0m4.1 0.9h0m60.3 0.8h0m1.7-0.7h0m0.4-0.2h0m0.4 1.1h0m0.4-3.2h0m1.3 2h0m0.5-2.1h0m0.5-0.3h0m0.6 4.5h0m10-4.8h0m18.1 4.1h0m5.3-2.2h0m3.3-2.6h0m2.4-0.2h0m1.8 4.3h0m2.4-4.5h0m7.9 1.4h0m0.8-2.4h0m1.7 1.4h0m22.9 2.9h0m2.2 1.6h0m18.1-5.6h0m12.8 3h0m15.5 3.2h0m1.1-0.8h0m2.2 0.5h0m5.5-5.5h0m5.5-0.8h0m-259.4 14.8h0m15.6-2.8h0m0.7-3.8h0m0.7 6.4h0m1.3-5.8h0m0.1 2.4h0m0.8-0.5h0m0.1 0.2h0m0.2 2h0m0.6-5.4h0m1.7 6h0m0.7-2.1h0m0.6-1.5h0m0.3-1.9h0m0.6 3.4h0m26.4 1.5h0m2.5 1.5h0m3.6-2.4h0m1.8 3.3h0m24.9-2.6h0m3.4-0.6h0m16.6-2.2h0m2.1 1.7h0m0.8 0.9h0m11.3-3.9h0m5 1.4h0m8.6-1.1h0m2.2 0.2h0m0.8 5.2h0m0.9-0.9h0m0.4-0.5h0m0.5-1h0m0.4-2.2h0m0.8 3.2h0m1.3-4.7h0m106.9 0.5h0m1-1.1h0m3.1-0.3h0m5.1 7.5h0m0.7-6.4h0m8.7 6.1h0m2.1 0.5h0m2-1.1h0m-260.7 8.5h0m3.4-0.1h0m1.7 0.5h0m7.2-7.2h0m29.2 2.9h0m0.6 1.7h0m0.9 2.2h0m0.3-2.3h0m0.4-0.1h0m0.5 2.6h0m0.9-4.9h0m0.5 3.4h0m0.5 0.6h0m0.3-4.1h0m0.6 4.4h0m0.8-6.7h0m0.3 1.6h0m0.5-1.6h0m0.4 3.6h0m1.3 2.3h0m1 1h0m0.5-6.8h0m1 5.9h0m0.6-1.8h0m10.9-0.6h0m2.2-3.5h0m2.7 5.3h0m45.2 1.3h0m10.1-3.8h0m0.5 1.9h0m0.6 2.1h0m0.5-3h0m0.7-3.4h0m115.3 5.9h0m4.1-3.8h0m1.8-1.5h0m2.9 2h0m0.6 4.4h0m4.6-7.3h0m1.2 2.1h0m0.6-0.9h0m0.2 4.9h0m0.3-4.7h0m0.3 0h0m0.3-0.5h0m0.2 6.2h0m1.2-0.8h0m1-5.7h0m-264.8 9.7h0m1.3-1.2h0m0.7-0.1h0m0.4 0.2h0m1.6 0.2h0m1.4 2.7h0m0.3-1.5h0m0.4 0h0m0.6 0.6h0m0.7 2.5h0m0.7-0.2h0m0.8-5.4h0m1.1 2.9h0m33.1-2h0m3.6-0.3h0m1.2 4.3h0m1.4-4h0m1.8 0.3h0m1.1 6.4h0m1.9-7.3h0m3.3 2.4h0m2.3 2h0m59.1-2.7h0m124.6 4.2h0m1-2.4h0m2.1 2.2h0m2 1.6h0m9.4-6h0m1.9-0.3h0m1.6-0.2h0m1.2 2.4h0m0.6-1.3h0m0.4 3.5h0m0.2-3.4h0m0.7-1.7h0m1 0.2h0m1.1 4.1h0m0.8-3.1h0m2.6 5.8h0m0.5-6.3h0m1.1-0.4h0m0.1 5.3h0m0.6 1.3h0m0.3-1.8h0m-218.5 3.4h0m188.1 4.4h0m0.4 0.9h0m2.1-2.5h0m1.3 0.1h0m0.5 3.5h0m0.8-3h0m0.5 2.9h0m0.1-1.1h0m0.7-0.5h0m1-1.6h0m0.6 0.5h0m3.3-0.7h0m1-3.5h0m0.9 2.8h0m0.1-1.8h0m1.1 2.3h0m0.3-0.5h0m1.4-2.5h0m1.1 0.8h0m0.5 5h0m1.2-3.1h0m3.7 1.1h0m2-1.7h0m4.8-2.8h0m1.5 5.8h0m1.7-1h0m-33.5 3.5h0m1 0h0m0.7-0.4h0m4.3 4.7h0m0.5-4.3h0m0.9-0.2h0m0.7 6.2h0m0.7-2.4h0m0.9 0.1h0m6.2-0.4h0m12.5-1.7h0m3.8 5.6h0m2.6-4.3h0m0.5-0.4h0m0.7-2.4h0m0.8 3.1h0m0.6-0.6h0m2.8 3.8h0m-268.4 7.8h0m4.4-1.7h0m230-4.4h0m1.6 2.8h0m0.4-1.4h0m0.7 0.9h0m0.9 0.1h0m5 2.1h0m14.9-2h0m0.4-1.5h0m0.6 5.3h0m1-1.6h0m0.6-2.8h0m0.5-2.1h0m0.9 1.7h0m0.8 5.4h0m0.6-7.1h0m1.1-0.5h0m0.5 3.6h0m1.2-3.2h0m0.9 5.5h0m0.2-2.2h0m1-2.5h0m0.5-0.3h0m1.2 1.8h0m0.4-2.7h0m0.4 1.3h0m1.1 3.4h0m0.4-3.5h0m0.5 5.6h0m-293.9 4.8h0m29.7-3.1h0m235.6 0.4h0m1.6 4h0m0.4-4h0m0.2 1.7h0m0.7-1h0m1.6 2.2h0m0.5-1.5h0m5.3 5h0m1.7-5.9h0m3.2 4.2h0m0.7-1.9h0m0.9 1.8h0m1-1.8h0m0.6 2.4h0m0.8-0.2h0m0.7-4.5h0m0.3 3.8h0m0.6-2h0m0.6-2.8h0m1.1 4.1h0m0.6 1h0m0.4-3.4h0m0.2 5.5h0m0.9-7.6h0m0.5 1.9h0m0.3-0.1h0m0.6 2.4h0m0.4-4h0m1.4 1.7h0m0.5-1h0m-20.9 9.3h0m1-1.7h0m2.9 0.8h0m2.2 1.3h0m0.8-2.4h0m0.5 6.4h0m1-6.6h0m0.2 3.6h0m0.6 1.3h0m0.3 1.7h0m0.6-0.9h0m0.6 0.6h0m0.2-3.8h0m1.2 1h0m0.7-2.1h0m0.7-0.8h0m1.3 3.8h0m0.3-2.8h0m0.6 1.8h0m0.7 0h0m0.4 4.2h0m0.5-2.9h0m0.3 2.4h0m0.7-5.3h0m0.3 0h0m0.6 2.7h0m0.5-2.9h0m1.3-0.7h0m-275.2 9.1h0m3.4 5h0m257.7 0.6h0m1-1.4h0m0.4-6.2h0m0.9 1.2h0m0.7 5.1h0m1-4.6h0m0.7-1h0m1.2 6.1h0m1.3 0.2h0m0.9-4.2h0m0.8-0.4h0m0.5 2.2h0m1.3 1.4h0m0.6-2.7h0m0.2 4h0m1.3-0.5h0m-275.1 4.4h0m8.5-1.8h0m2.4 4.3h0m259.3 2.2h0"/>
<path class="d" d="M200.4 298.5h0m7.2-2.5h0m4-0.6h0m6.1 2h0m-16 9.7h0m0.6-2.1h0m0.4-0.5h0m0.7-0.6h0m0.8 1.4h0m0.4 0.2h0m0.8 2.4h0m0.2-3.6h0m1.2-0.8h0m1.2 1.1h0m1.2 3.1h0m0.6 0.1h0m0.4-0.9h0m0.7 0.8h0m0.9-1.4h0m0.7 0.1h0m0.7-1.2h0m1.6 2.3h0m1.8 0h0m-18.9 7.7h0m4.7-2h0m1.3-1.7h0m1.1-1.9h0m0.6 0.5h0m1-1.6h0m0.5 0.1h0m1 3.1h0m0.2 4h0m1.2-5.9h0m0.4 1.4h0m0.7-0.9h0m0.7-2.2h0m0.6 5.5h0m1.1-1.8h0m1.2-0.2h0m1.9-2h0m17.8 5.1h0m-31.8 1.4h0m54.4 0.6h0m4.2-0.7h0m-68.2 14.3h0m330.5-4h0m-335.9 6.8h0m4.2 3.1h0m0.4 0.5h0m1.4-1.6h0m0.8 0.3h0m0.8-0.9h0m0.6 2.5h0m0.4-1.6h0m0.4 2.5h0m0.8 0h0m32.3-1.5h0m325.1 1.6h0m-363.8 8h0m7.6 1.2h0m-13.3 2.7h0m358.9 3h0m-365.1 8.6h0m335.9 2.2h0m259.5-2.1h0m40.6-1.8h0m-638.3 6.3h0m603.8-2.1h0m9 1.7h0m24.9 4.2h0m3.4-3.6h0m-282.2 12.5h0m276.9 0.2h0m-641 2.4h0m362.3 5.9h0m2.1-0.4h0m2.9 0h0m1.1 0.4h0m1.2 0.1h0m12.8 0.1h0m197.5-6.3h0m33.4 0.4h0m18.7 5h0m1.4-0.6h0m7.5-2.7h0m0.8 3.4h0m1.7 0.7h0m1.4 0.5h0m-556 1.1h0m272.8 1.6h0m0.9-1.1h0m0.5 0.1h0m0.7 1.2h0m2.3 0.7h0m0.6-2h0m1.1-0.9h0m0.5 1h0m0.4 3.6h0m0.7-4.2h0m1.2 0.8h0m14.2 2.1h0m17.9 0.6h0m27.1 0.9h0m58.8-5h0m90.9 6.9h0m7.6-3.8h0m3-1h0m14.4-1h0m19.7 6.2h0m7.8-2.4h0m1.6-4.9h0m1.8 4h0m0.5-1.5h0m1 3.6h0m0.2-2.3h0m0.4 0.4h0m0.5-2.2h0m0.2 5.2h0m0.5-5.1h0m0.3 1.8h0m0.2 0.3h0m0.2 2.1h0m0.8-0.5h0m0.2-5.4h0m0.4 2.2h0m0.6 0.4h0m0.2-2.5h0m0.8 5.4h0m0.2-3.1h0m0.4-0.2h0m0.4 4.9h0m0.1-6.8h0m0.7-0.1h0m0.5 2h0m0.8 1.8h0m0.8-1h0m-508.7 12h0m231.8-6.6h0m44 5.1h0m17-5.3h0m119.9 4.2h0m7.8-1.1h0m0.8 1.3h0m0.9-4.4h0m0.4 2.1h0m0.4-1.1h0m0.9 0.4h0m2.5 5.2h0m10.7-5.4h0m1.7-0.7h0m0.8-1h0m1.3 2.8h0m1.5-1.7h0m5.7-0.6h0m19.4-0.1h0m0.6 3.1h0m0.8-3.5h0m0.5 2.9h0m1-1.9h0m0.3-0.3h0m9.6 1.1h0m6.4 2.7h0m0.7 2.4h0m0.3-2.6h0m0.8 0.3h0m0.8 0.7h0m0.6 0.8h0m0.6-0.7h0m3.3-1h0m1.3-4.7h0m1.7 4.2h0m2.4-1.2h0m0.7-1.8h0m1.1 4.2h0m0.3 0.5h0m0.3 0.7h0m0.5-1.9h0m0.7-2.2h0m0.3-2.7h0m0.6 1.4h0m0.5 1.3h0m0.3-1.5h0m0.5 1.3h0m0.2 0.9h0m0.4-3.2h0m0.9 6.6h0m0.3-4.3h0m0.3-1.3h0m0.5 1.7h0m0.7 3.7h0m0.4-4.5h0m2.2 2.2h0m0.7 1.8h0m4.2-0.2h0m4.2-1.2h0m-624.9 6.3h0m346 1.1h0m101.2 2.6h0m65-1.2h0m0.9 1h0m0.2 0.1h0m0.6-2.9h0m0.8-2h0m1-0.3h0m1 3.7h0m0.6-1.7h0m0.6-1.1h0m4.4 4.6h0m29.3-0.7h0m26.2 1.4h0m1-0.5h0m26.6-4.9h0m1.1-0.9h0m1.3 5.1h0m0.3-4.1h0m0.5 1.5h0m2.7-2.2h0m2.7-1h0m-323.6 7.9h0m91.3 5.3h0m5.5 0.2h0m12.7 1.1h0m0.3 0.3h0m0.7-0.9h0m1.3-0.4h0m23.4-6h0m3.9 6.9h0m2.7-2.8h0m0.9 1.6h0m17.9 1.9h0m2.9-6.6h0m1.1 4h0m2.7 2.1h0m1.3-3.3h0m1.4 2h0m2.2-0.5h0m1 0.3h0m2.4-1.1h0m57.6 1.7h0m26.9-6.3h0m14.6 4.4h0m6.6-2.3h0m1.8 3.8h0m3-0.4h0m1.4-3.1h0m2.2 0h0m0.7-1.3h0m1.3 6.5h0m-607.1 2.4h0m29.5 0.8h0m347.4-1.2h0m34.5 2.9h0m13.7-3.6h0m1.6 4.8h0m1-4.7h0m40.8 0.8h0m3.3 3.1h0m4.8 0.4h0m2.5-0.8h0m3.1 1.9h0m0.9-2.2h0m0.6-0.3h0m0.7 3.5h0m0.3-3.6h0m0.8-1.6h0m0.3 0.1h0m0.9 0.7h0m0.4 1.3h0m0.6-1.7h0m0.2 4h0m1-2.8h0m35.5-1.3h0m57.4 3h0m1.6-4.8h0m13.4 5.2h0m1.9 2.1h0m1.3-2.1h0m0.1 1.6h0m0.4-3.2h0m0.3 0.7h0m0.2 0.2h0m0.5 1.4h0m0.8-1.1h0m0.6-3h0m0.6 3.3h0m0.1-1.9h0m0.3-0.6h0m0.2 3.5h0m0.7-4.1h0m0.3 0.7h0m0.2 1.8h0m0.3 1.6h0m0.1-6.4h0m0.5 0.3h0m0.2 6.9h0m0.3-0.5h0m0.4 0h0m0.3-4h0m0.1 3.6h0m0.8-2.8h0m0.8 4h0m1-0.3h0m0.2 0h0m0.4 0.3h0m1-0.9h0m1.1 0.3h0m0.9-0.7h0m0.7-2.7h0m0.6 0.6h0m1-0.5h0m0.4 0.8h0m0.4-0.3h0m0.6 0.1h0m0.5-0.3h0m0.6-0.9h0m1.5 1.7h0m1.1-3h0m1.3-0.3h0m0.1 2.5h0m0.2 0.1h0m0.5 0.2h0m1.3-2.7h0m0.7 0.2h0m-598.3 12.6h0m294.4-4.6h0m90.2-0.1h0m3 0.6h0m11.9 0.8h0m2.1-0.2h0m0.7 2.8h0m0.5-2.3h0m2.1 4.2h0m26-7.5h0m2.2 1.6h0m22.2 1h0m22.2 4.9h0m2.2-1.3h0m2.6 1.3h0m2.8-5.5h0m17.5 2.4h0m49.6-2.6h0m9.1-1.7h0m2.8 4.6h0m5.1 1.8h0m0.4-5.2h0m0.3 5.3h0m0.3-0.5h0m0.3-4.3h0m0.8 3.8h0m0.4-0.4h0m0.5-3h0m0.2 4.7h0m0.5-4.3h0m0.1 3.8h0m0.2-3.3h0m0.4 2.8h0m0.9 1.7h0m0-0.4h0m0.3-5.4h0m0.2 1.3h0m0.4-1h0m0.2 1.8h0m0.4-0.4h0m0.3 2.4h0m0.2-2.4h0m0.1-0.1h0m0.1-2h0m0.1-0.6h0m0.4 5.8h0m0.3-1.6h0m0.4-2.4h0m0.3-0.2h0m0.3 2.7h0m0.1-2.5h0m0.4-2.4h0m0.3 0h0m0.2 0.5h0m0.4 0.8h0m0.4-1.9h0m0.3 1h0m0.5 0.1h0m0.4-0.9h0m0.8 2.4h0m0.4-1.2h0m1.1-1.2h0m0.6 1h0m0.4 1h0m0.5-1.5h0m0.2 0.4h0m0.9-0.3h0m-639.2 7.9h0m51.5 5.8h0m99.4-6.3h0m4.1 1.5h0m231 5.5h0m23.2-5.4h0m38.6 0.2h0m2.8-0.7h0m0.8-0.4h0m0.5 1.8h0m1.1 1.9h0m0.7-3.3h0m0.5-0.9h0m0.6 5.3h0m0.3-3.4h0m0.2 3.2h0m0.9-2.4h0m0.4 4.1h0m0.7 0.6h0m1.1-3.7h0m0.6 0h0m3.9 2.1h0m10.4-0.2h0m5.3-2.8h0m26.5-2.5h0m2 1.5h0m5.4-1h0m17.8 0h0m1.2-0.5h0m1.2 2.2h0m1 4.3h0m1.4-6.8h0m0.4 4.3h0m0.3 1.5h0m2.5 0.7h0m8 1h0m1.8-1h0m47.5-1h0m1.1-1.1h0m1.9 2.3h0m7.4-3.4h0m3.8-2.2h0m0.5 6h0m0.9-6.9h0m1.8-0.6h0m0.4 7h0m1.2-2.1h0m0.7 2.6h0m0.4-0.7h0m0.3-2.6h0m0.6 3.7h0m0.6-1h0m0.7-2.9h0m0.4 0h0m1 1.3h0m0.5-0.3h0m0.2 0.8h0m0.1 0.9h0m1.5-0.1h0m1.2-4.1h0m0.7-0.6h0m0.6 2.7h0m0.2-0.5h0m0.3 3.8h0m0.6-6h0m0.2 2.6h0m0.3-2.1h0m0.5 5h0m0.1-6.8h0m0.4 0h0m0.5 1h0m0.7-0.1h0m0.3 1.6h0m0.7-1.9h0m0.2 3.9h0m0.5 2.7h0m0.1-0.4h0m0.3-0.5h0m0.2-2.1h0m0.6-3.2h0m0.4-1.3h0m0.5 0.1h0m1 5.6h0m0.4-3.1h0m1.4 4h0m-631.2 7.7h0m2.3-1.4h0m9.9 2.8h0m15.9-3.4h0m114.3-3h0m1 1.8h0m1.7-2.5h0m0.6 3.5h0m1.9-2.8h0m1.4 1.7h0m209.4 0.3h0m21.2-3.2h0m26.4 0.5h0m43.3 2h0m3.5-2.7h0m3.7 2.7h0m2.1 1.2h0m0.4-3.2h0m18.8 3.4h0m12.3-2.2h0m11.9 0.8h0m30.1-2.4h0m3.2 3.1h0m15.6 1.7h0m1.3 1.9h0m0.6-1.8h0m1.1-0.5h0m0.6 1.1h0m0.6-1.4h0m1.1-2.5h0m0.8 3.8h0m4.1 0.9h0m12.4-4.9h0m19.7-0.8h0m5.4 5.6h0m1.3 0.6h0m2.8-0.5h0m4.1-3.9h0m2.3-1.5h0m0.6 0.5h0m0.8-0.6h0m0.9-1.3h0m0.8 3.2h0m0.3 0.1h0m0.8-3h0m0.7 4.4h0m0.4-2.7h0m0.6 1.9h0m0.3-0.4h0m0.5-1.5h0m0.3 0.2h0m0.2-0.9h0m0.3 1h0m0.6 4.8h0m0.2-7.1h0m0.3 6.9h0m0.4 0.5h0m0.4-2.4h0m1 2.1h0m0.3-2.6h0m0.3 0.5h0m0.2-4.2h0m0.3 2.6h0m0.5-3.2h0m0.3 3.1h0m0.5 0.4h0m1.1-2.5h0m0.9 2.5h0m1.1-2.6h0m0.8 6.7h0m0.2-6.9h0m1.6 3.1h0m1.2-2.5h0m-633.6 6.9h0m3.5 7.3h0m1.8-6h0m1.2 5.3h0m4.7-4.2h0m2.3 4.3h0m2.1-4h0m3.7 0.1h0m0.8-0.4h0m1.3 0h0m0.7 0.8h0m0.5 2.9h0m1.2 0.8h0m1.2-5h0m0.7 3.9h0m0.7-2h0m0.7 1.1h0m126.3-4.7h0m73.7 5.7h0m9.7-4h0m113.7-1h0m1.1 0.6h0m0.9-1.5h0m40.9 0.5h0m39.4 6.7h0m54.1-1.5h0m50.1 0h0m20.9-2.7h0m1.5-2.9h0m30.5 6.9h0m5.3-1.6h0m5.3 1.8h0m1.6-1.5h0m1 0.6h0m0.6-6h0m0.5 6.9h0m0.4-2.1h0m0.9 1.6h0m0.6 0.7h0m0.9-0.6h0m0.9-0.9h0m0.6 0.4h0m3.7-4.5h0m3.7-0.6h0m1.1 1.1h0m0.2 1.2h0m0.9-1.4h0m0.3 0.2h0m4.3-2.5h0m1.5 3.1h0m0.9 0.5h0m0.9-3h0m1.6 0.7h0m0.9-0.8h0m1.3 0.5h0m0.3 1.5h0m1-0.1h0m1 1.3h0m-626.8 8.1h0m0.7 0.3h0m0.4-0.4h0m0.1 1h0m2.1 1.1h0m0.7-2.8h0m0.7-0.7h0m0.7 1.5h0m0.4 2.5h0m0.6 1.2h0m0.3-5.4h0m0.1 1.7h0m0.7 1.4h0m0.3-3.8h0m0.8 1.8h0m0.5-3.2h0m1 7.6h0m0.5-5.7h0m0.5 1.9h0m0.9-1.8h0m0.6 2.8h0m2.4-1.1h0m1-3.5h0m1.9 5.5h0m0.9-5.7h0m2 3.3h0m36.1 1.7h0m169 1.6h0m4-1.5h0m108-1.5h0m102.4-1.1h0m25.5 2h0m18.1 0.3h0m16.5 2.7h0m9.1-3h0m5.4-3.2h0m0.9-0.6h0m0.6 6.2h0m0.4-1h0m0.1 0.2h0m1-2.8h0m0.3 1.8h0m0.4 1.2h0m0.6-0.8h0m27.9-5.2h0m9.9 3.6h0m18.7-3.1h0m6.7 0.6h0m6.7 3.6h0m2 1.3h0m0.9-2.5h0m0.7 0.5h0m0.4 2.6h0m0.4-3.5h0m0.2-2.9h0m0.4 5.8h0m0.4 0.1h0m0.5-1.3h0m0.5 2.2h0m0.3-3h0m0.9-2.3h0m0.7 0.6h0m0.3 0h0m0.4-2.1h0m0.3 0.6h0m0.2 5.8h0m0.6-1.2h0m0.6 0.6h0m0.2-5.1h0m0.6 0.1h0m0.3-1.5h0m0.9 2.2h0m0.3 2.1h0m0.6 3.4h0m0.6-2.2h0m11-2h0m4.2 2.5h0m2 0.8h0m-621.5 2.5h0m0.7 4h0m0.3-2.5h0m1.9-0.5h0m0.7 0.5h0m0.8 1.1h0m1 1.4h0m0.7 1.6h0m0.9-6.7h0m0.7 4.9h0m0.6-3.3h0m0.5-0.5h0m0.1 1.2h0m0.8 4.9h0m6.3-5.4h0m6.3-0.4h0m205.4 4.3h0m3-0.4h0m2.4-0.3h0m1 0.4h0m0.8-1.3h0m0.5 1.4h0m0.5-0.5h0m1 1.2h0m3.6 0.3h0m3 0h0m2.9-1h0m3.2 2h0m194.3-0.5h0m26.6-0.6h0m5.2-2.4h0m1-0.3h0m0.6 2.6h0m0.7-1.5h0m0.2-3.5h0m0.7-1.1h0m0.9 3.2h0m11.9-2h0m7.4 0.9h0m1.6-1h0m1 1.8h0m1.7-2.1h0m21.5-1h0m64.9-0.2h0m2.1 2h0m0.8 1h0m0.8 2h0m0.4-3.5h0m0.5 1.5h0m0.3 1.2h0m0.5-2.6h0m0.2-0.3h0m0.7 1.3h0m0.2-1.3h0m0.2 0.1h0m0.3 0.5h0m0.1-0.3h0m0 1h0m0.3-0.9h0m0.3-0.5h0m0.3 6.3h0m0.6-6.1h0m0.5 4.3h0m0.5-4.1h0m0.5 2.8h0m0.5-3.7h0m0.5 1.1h0m0.3-0.3h0m0.1-1.4h0m0.6 2.3h0m4 4.7h0m10.6-0.2h0m2.9-0.4h0m-618.2 3.5h0m3.2-1h0m1.2 1.5h0m1.4-0.1h0m3.3-1.8h0m7.1 0h0m9.6 2.6h0m187.8 3.7h0m17.2 0.4h0m8.6-6.9h0m3.5-0.1h0m107.7 2.1h0m83.5-2.1h0m37.1 6h0m24.4-3.1h0m0.5-2.3h0m0.7 3.2h0m0.7-0.7h0m0.6 3.5h0m1-2.9h0m0.3 1.1h0m1.7-2h0m90 0.4h0m8-3.4h0m3.9 0.3h0m13.3 3.5h0m-590.4 8h0m7.7 1.9h0m4.5-2.3h0m4.7 3.9h0m193.6-3.5h0m3.5-1.9h0m122.3 5.6h0m2.7-0.8h0m1.5-1.8h0m1.9 0.4h0m0.9 0.7h0m1 0.2h0m1-1.4h0m0.9 1.9h0m1.5-0.3h0m0.4 0.9h0m73.1-1.9h0m53.1-3.9h0m28.9 4.3h0m11.2-0.1h0m28.6-1.6h0m12.6 0.6h0m13.4 3.1h0m2.3 0h0m-585.8 5.9h0m17.3-3.1h0m8.3 1.1h0m202.2-1.6h0m1.8-1.2h0m121.8 3.3h0m4.8-3.7h0m2.8 1.6h0m2.1-0.3h0m23.1-1.7h0m23.5 2.1h0m0.3 0h0m0.4 4.3h0m0.7-3.1h0m0.7 0h0m0.5 0.2h0m0.4 3.7h0m1.4-2.7h0m0.5-2h0m0.4 1.7h0m0.4-0.3h0m0.7-0.8h0m1.2-1.8h0m1.1-0.8h0m1.4 1.4h0m53.4 5.2h0m0.9-2.9h0m0.9 0h0m0.8-3.3h0m0.4 2.6h0m0.7 2.4h0m0.4-1.8h0m0.3 3h0m13.4-1.9h0m1.4-3.7h0m0.5 4.8h0m70.7 0.2h0m9.1-2.6h0m11.9-1.4h0m0.6-2.5h0m0.3 3.2h0m0.6 3.1h0m0.3-5.9h0m0.8 6.2h0m0.5-1.6h0m0.8 1.4h0m11.1-0.4h0m0.5-1.5h0m0.7 2.5h0m1.4-1.3h0m0.6 1.9h0m0.5-0.1h0m-577 1.3h0m48.1 7h0m3.3-0.9h0m1.8-1.2h0m2.4-2.7h0m0.5 1.2h0m2.7 2.3h0m3.4 0h0m136.6-2.8h0m181.9-2h0m13.6-1.3h0m30.9 4.4h0m22 1.9h0m3-6.1h0m15.6 0.7h0m57.3 5.2h0m3.9-2.8h0m1.7 0.2h0m28.4 3.6h0m6-0.6h0m9.4-0.5h0m3.6-2.3h0m0.6-3.8h0m0.2 0.5h0m0.3-0.2h0m0.8 0.2h0m1 1.3h0m0.5-0.5h0m1-0.1h0m0.8 1h0m-586 9.5h0m50.5-1.9h0m2.8 2.8h0m3 2.5h0m2.9-0.2h0m0.7-5.8h0m1.3 4.2h0m0.3-1.9h0m3.1 1h0m1.6 2.2h0m3.1-5.9h0m8.9 2.6h0m218.3 3.5h0m4-2.1h0m107.1-4h0m89.5 6.2h0m47-1.1h0m10.6-0.4h0m11.5 0.2h0m8.7-3h0m-590.3 5.9h0m19.2 1.6h0m6.1 3.9h0m3.9 0.7h0m15.5-1.5h0m7.3-1h0m15 2.1h0m3.8-0.7h0m2.2-2.7h0m2 0.8h0m3.1 3.4h0m2.8-7.5h0m1.7 4.5h0m1.6-1.9h0m77.6 3.7h0m151.3-4.7h0m52.6 4.7h0m4.3 0.2h0m87.3-0.8h0m33.2-0.6h0m29.3 0.4h0m13.7 2.1h0m12.6-0.1h0m0.5-2.1h0m1.2 0.9h0m0.7 0.3h0m2.4-5.1h0m1.2-1.1h0m1.4 7.4h0m0.3-0.3h0m1.1-1.1h0m4.6 1.1h0m3.7-6.4h0m1.5 4.7h0m0.6 0h0m0.3-2.4h0m1.1 1.8h0m0.4 1h0m2.8 0.6h0m8-1.7h0m2.2-4.8h0m3.8 3.4h0m7.9-1.7h0m-587.8 9.7h0m9.9-0.7h0m2.4 2.3h0m1-0.3h0m1-0.4h0m0.4-3.9h0m0.3 0.9h0m0.8 5.2h0m0.7-6.4h0m1.7 5.9h0m1.6 0.8h0m0.6-4.6h0m0.1-1.3h0m0.3 3.4h0m0.3 1.9h0m0.7 0.6h0m1-6.1h0m0.4 4.5h0m0.3-4.1h0m0.7 0.9h0m0.4 1.9h0m1.1 1.4h0m0.4-5.4h0m0.8 4.8h0m0.5 0.7h0m0.7 0.8h0m0.4-0.5h0m0.5-1h0m1.2-0.1h0m0.5-1.3h0m2.2 3.6h0m15.5-5.3h0m5.5 3.9h0m13.2 1h0m1.8-6.9h0m3.3 1.3h0m47.7 5.2h0m268.6-4.4h0m59.9 3.1h0m8.9-1.6h0m17.1 1.1h0m51.6 2.1h0m16.1-5.8h0m2.2 3h0m4.3-2.8h0m1.2 0.1h0m11.9 0.4h0m2.4-0.6h0m0.3 2.2h0m0.4-0.5h0m0.6-2.6h0m1.6 0.4h0m0.3 1.3h0m1.1-1.3h0m2.5 1.8h0m4.4 4.5h0m5.6-4.8h0m3.7-1.1h0m4.5 1h0m-581.5 6.5h0m5.6 0.2h0m0.7-0.2h0m1.5 4.1h0m0.9-2.3h0m1.9-2.2h0m1.2 3.7h0m1.5-1.1h0m1.5-1.6h0m1.4 2.9h0m0.9-0.1h0m1.3-1.3h0m1-1.3h0m0.4 2.1h0m0.5 0.1h0m0.7 3.8h0m1.4-6.8h0m0.3 2.9h0m0.5 4.6h0m1.6-7.1h0m3.8 3.3h0m9.7 2h0m8.9 1.4h0m21.4-2.9h0m235.8-1.2h0m16.2 4.1h0m1.4-0.6h0m21.2-3.2h0m79.7 1.2h0m21-2.5h0m0.2 0.5h0m0.7-1.9h0m1.2 4.9h0m1.3-2.6h0m0.5 1.1h0m0.6-4.2h0m1.2 0.9h0m0.7 0.9h0m2.5 5.1h0m30.4-6.3h0m3.7 1.1h0m1.1 1.1h0m17.5 4h0m1.2-1.6h0m10-4.4h0m7.2 1.6h0m3.1 4.4h0m0.9-6.6h0m0.3 5.2h0m1.6 2.2h0m2.5-0.5h0m2.4-3h0m16.8-3.6h0m4.8 5.5h0m1.2-5.7h0m1.6 6.4h0m1.1-1.2h0m1.9 1h0m9.1-2.6h0m12.3-2.8h0m-565.4 13.8h0m0.5-0.3h0m1-4.1h0m0.2 4.6h0m0.2-2h0m0.4-2.9h0m0.2 4.8h0m0.2-1.4h0m0.2-0.5h0m0.3 0.8h0m0.4 0.3h0m0.3-1.1h0m0.5-3.3h0m0.3 4.6h0m0.4 1.3h0m0.3-7.8h0m0.5 7.4h0m0.8-0.8h0m2 0.9h0m16.6 0.2h0m19-7.6h0m118 4.1h0m75.5 3.3h0m63.2-7.4h0m1.5 0.6h0m1.4 5.4h0m2-2.8h0m23.1-3.2h0m65.3 7.1h0m32.6-6.7h0m15.9 7.1h0m10.1-2h0m36.4-5.3h0m1.7 7.1h0m0.9-0.1h0m3.7-0.7h0m5.7-3.3h0m6.9-2.7h0m1.7 0.4h0m0.6 0.3h0m2.4-0.9h0m0.4 0.8h0m2.5 6.5h0m13.4-5.6h0m5.7 2.1h0m4.8 2.1h0m21-6.3h0m-560.6 11.8h0m0.5-3.1h0m0.9 5.3h0m0.2-0.2h0m0.5-1.8h0m0.1-3.4h0m0.4 0.5h0m0.4-0.4h0m0.6-0.7h0m0.1 6.5h0m0.3 1h0m0.3-4.9h0m0.5-0.7h0m0.3-1.8h0m0.5 5.7h0m0.3-1.7h0m0.4 2h0m0.9-0.8h0m0.8-3.8h0m0.2 6h0m0.8-6.3h0m0.7 1h0m0.9 4.3h0m0.9-4.1h0m1.7-2.3h0m0.6 2.6h0m0.9 0.2h0m0.8 4h0m0.8-6.1h0m1.1 3.3h0m1 1h0m2.2 1.7h0m1.2 0.7h0m2.3-0.8h0m2.5-1.7h0m2.5-1.4h0m2.9 0.8h0m1.8-2.4h0m2.3 4.3h0m3.2 0.2h0m3.8 0.3h0m3.8-1.5h0m58.5-3.2h0m48.3 1.8h0m2.2-1.9h0m0.9-1.4h0m2.9 2.2h0m1.9 0.5h0m3.4 3.4h0m57-5.1h0m59.5-1.6h0m0.5 2.4h0m0.6 0h0m0.9 3.7h0m1.4-0.9h0m0.8-2.6h0m0.9-1.7h0m0.6 3.4h0m40.7 2.8h0m51.6-1.4h0m4.7-1h0m1.5-0.6h0m1 3.7h0m0.6-4.4h0m0.8 2.4h0m1-1.9h0m0.6 3.4h0m0.7 0.2h0m33-7h0m28.1 1.1h0m2.7 1.1h0m21.7 4.5h0m12.6 0h0m2.4-6.4h0m0.6 0.5h0m4.6-0.5h0m0.9-0.4h0m11.4 2.2h0m16.3 2.5h0m5.1-4.8h0m4.8 6.1h0m7 0.7h0m12.8-7.2h0m0.9 0.8h0m-568 10.3h0m17 1.2h0m1.1-2.3h0m0.7-1.7h0m1.4 0.1h0m0.7 4.6h0m1.1 0.4h0m1.3-4.4h0m1.1 2.7h0m0.6-0.1h0m1.7-3.1h0m0.8 5.1h0m0.6-2.7h0m0.6 3.9h0m1.3-5.2h0m0.3 5.8h0m0.6-7.5h0m0.6 5.3h0m1 2.6h0m0.8-1.5h0m0.7-6.3h0m0.9 6.1h0m4.5-5.7h0m29.6 6.9h0m7.3-4.2h0m0.8 0h0m2 4.8h0m1.8-5.3h0m1.8 5.1h0m3.4-5h0m2.2 2.9h0m0.8-1.2h0m1.8-3.2h0m2 3.2h0m1.4-1.1h0m20.6 4.5h0m248.6-1.1h0m3.2-2.8h0m2.8 2.7h0m16.8-0.1h0m11.2-1.9h0m1.9 1.4h0m2.4-2.9h0m39.2 4.7h0m2.9-0.5h0m4.7-4.5h0m14.4-2.3h0m8.5 7.3h0m6.5-0.7h0m2.6-0.2h0m5.3-1.3h0m14.5-5.6h0m10 0.4h0m11.4 5h0m2.2-0.8h0m1.3 0.1h0m1.2-1.3h0m0.6 2.3h0m0.4 0.4h0m0.7-2.7h0m5.6 1.5h0m1.7-3.9h0m6.1-0.3h0m2.6 0.6h0m8.4-0.8h0m2.2 2.4h0m-538.3 11.7h0m0.3-4.4h0m1-1.7h0m0.8 4h0m1.6-2.9h0m0.3 4.1h0m1.4-1.7h0m0.5 0h0m0.7-3.6h0m0.9 4.4h0m0.5-3.6h0m1-0.6h0m2.5-0.5h0m0.5-0.1h0m0.3 2.2h0m1.4 0h0m1.4 0.4h0m0.9 4.2h0m1.3-6.7h0m0.8 1.8h0m10.8 4h0m23 1.3h0m0.6-2.6h0m4-4.4h0m0.9 5.4h0m2.9-4.3h0m2-1.1h0m2 7.5h0m1-1.7h0m1.4-6.1h0m3.2 7.2h0m1.3-5.4h0m3.1-1.5h0m1 1h0m4.8 1.7h0m3.3-1.2h0m189.6 1.6h0m74.7-2.8h0m0.7-0.6h0m3.3 1.4h0m2.7 3.6h0m68.9-2.8h0m17.8 2.2h0m9.4-3.6h0m4.4 6.5h0m1.6 0h0m0.7-1.8h0m0.6-1.9h0m0.9 3.1h0m0.4-3.9h0m0.2 0h0m0.3 1.3h0m0.3 0.2h0m0.2-0.4h0m0.3 0.1h0m0.3 2.4h0m0.3-2.9h0m0.3 0.7h0m0.2-1h0m0.3 1.1h0m0.1 0.2h0m0.3-4.3h0m0.2 2.7h0m0.2 3.3h0m0.4 1.7h0m0.7-0.6h0m1.3-4.1h0m0.1 4.1h0m0.4 0.6h0m0.5-0.5h0m0.3-2.7h0m0.4 1.6h0m0.6-2.3h0m0.3-0.5h0m0.2-2.4h0m0.3 3.2h0m0.5-2.1h0m0.4 1.2h0m0.3 0.3h0m0.3 0.8h0m1.1 1.4h0m1.1-3.1h0m4.2-1.1h0m0.7 0.2h0m20.5 0.8h0m6.3 4.5h0m9.8-2.1h0m1.4 1h0m8.3 1.1h0m11.3-5.2h0m-482.2 6.2h0m7 6.5h0m3.7-3.3h0m1.6 3.8h0m1.1 0.8h0m3.2-7.2h0m2.8 0.4h0m2.8 5.3h0m3.4-2.4h0m8.7 0.4h0m204-1.4h0m66.6-0.8h0m42.6-0.6h0m23 4.4h0m1.8 1h0m2.1 0.8h0m0.4-0.2h0m1.6-1.5h0m1.1-1.3h0m1.4-1.6h0m0.8-2.5h0m1.5 4.6h0m19.8-2.7h0m3.1-0.9h0m0.7 1.2h0m0.8-2.5h0m1.2 0h0m1.3 4.6h0m1-1.8h0m0.4 4.3h0m0.2-4.9h0m0.4 4.3h0m0.2-5h0m0.3-1.9h0m0.4 2.5h0m0.2-1.4h0m0.3 4h0m0.5-1.2h0m0.6-0.6h0m0.5-0.4h0m0.2 2h0m0.3-0.8h0m0.9-3.9h0m0.3 0.4h0m0.3 0h0m0.3 4.3h0m1.1-1.7h0m1.6 1.2h0m1 2.7h0m23.4-4.3h0m0.5 0.1h0m0.4-0.5h0m0.9-1.3h0m10.1 5.1h0m12.1-4.1h0m5-0.9h0m0.9 4.2h0m1.4-4.1h0m1.1 2.9h0m0.7 1.6h0m0.8-0.2h0m1.1-0.6h0m-453.6 10.8h0m14.4-5.8h0m129 3.2h0m67.1 2.6h0m44.2-0.3h0m47.3-4.9h0m25.4 0.6h0m11.7-0.6h0m6.8-2.4h0m2.1 1.2h0m2 2.3h0m2.6 1h0m2.1-3.4h0m23.7 2.8h0m10.4-3.8h0m8.2 5.2h0m0.6 1.9h0m0.7-0.9h0m0.8-0.4h0m5.6-4.5h0m16.1-1.6h0m21.3 7.2h0m8.1-6.7h0m-466.2 13.8h0m4.2-4.1h0m4.2 2.2h0m6-1.4h0m10.5-3.1h0m9 2.3h0m184.6 5.3h0m1.2-4.2h0m2.7 0.4h0m1.2 3.8h0m1.5-4h0m2.2 3h0m1.8-6.3h0m1 4.3h0m1-1.1h0m0.9-0.5h0m1.8-1.6h0m34.8 3.3h0m43.8-0.4h0m79.6 0.6h0m5.6 1.5h0m0.5 0h0m0.6-1.2h0m14.1-3.2h0m3.4 2.8h0m17.9-4.7h0m17.1 7.2h0m0.7-1.9h0m1.4 1.4h0m0.3-1h0m2.9-4.8h0m-452.3 8.3h0m20 0.7h0m59.6 5.8h0m133.6-6.7h0m0.8 2h0m0.3-2.9h0m1.2 3.8h0m0.5-2.8h0m0.6 1h0m0.6-1.3h0m0.5 3.2h0m0.8 1.1h0m1.3-2.4h0m0.9-0.5h0m0.3-0.8h0m0.8 1.6h0m0.5 1.2h0m0.6 1.5h0m1-5.7h0m0.5 1.2h0m1.2 1.3h0m0.4-1h0m0.6-1.4h0m1.3 6.7h0m16.1-3.3h0m8 1.2h0m11.3-4h0m1.2 0.1h0m1.6 4.8h0m5.2-3.6h0m20.1 2.8h0m19.4 1.6h0m1.9-0.1h0m1.7 1.2h0m2.6-1.9h0m1.1 2.2h0m14.7-4.6h0m27.6-0.2h0m11.9 1.4h0m0.9 1h0m0.7-3.6h0m1.9 5.2h0m1.7-2.7h0m26 0.2h0m12.5 3.3h0m25.3-5.4h0m6.4-2.4h0m2.2 0.1h0m-365.6 13.5h0m1.5-2.2h0m1.5-1.7h0m1.9 3.4h0m0.4-0.6h0m0.7-0.7h0m0.7-0.7h0m87.8-1.6h0m27.6 2.8h0m20.1-1.2h0m20.9-1.1h0m26.1 3.9h0m37.5-4.6h0m3.2 0.7h0m0.8-1.9h0m1 3.3h0m2.1-3.2h0m1.7 2.8h0m30.9 1.1h0m54.6 0.7h0m0.9 0.8h0m12.7 1h0m25.3-1.7h0m1.8 1.2h0m-295.5 2.9h0m65.3 6.8h0m5.4-0.6h0m33.1-2.3h0m78.5 1.4h0m24-1.7h0m36.5-0.5h0m18.2-1.9h0m10.2 5.6h0m-255.2 0.7h0m48.5 3.8h0m64.5-0.4h0m9-1.6h0m27.9-0.8h0m30.5 4.5h0m1.9 1.3h0m7-3.7h0m7.4 3.9h0m8.1-1.6h0m7.6 0h0m21.2-5.6h0m2.2 5.3h0m3.9 0.8h0m2.3 0.9h0m10-0.6h0m16.4-1.3h0m8.2 0.6h0m0.9 0.1h0m0.6-5.3h0m0.7 1.2h0m0.3 0.9h0m0.8 1.6h0m0.5 1.1h0m0.9-1.7h0m0.5-0.1h0m-239.8 10.7h0m1.6 0.9h0m5-4.5h0m14.3 1.5h0m10.1-3.6h0m47.6 6h0m16.5-1h0m1.5 0h0m0.3-0.6h0m0.4-1.2h0m0.5 3h0m1.2-3.7h0m0.7 1.1h0m0.3 0.4h0m1.6-0.1h0m14.5 0.6h0m12.8 2.4h0m5.8-3h0m3.9-2.1h0m1.5 3.1h0m1.9-5.3h0m4.6 3.7h0m5.2-3.3h0m1.3 1.4h0m1.3-1.9h0m23.2-0.4h0m2.4 4.9h0m17.6-4.4h0m18.5 0.5h0m9.9 1.7h0m1.3-0.6h0m3.1 2.1h0m4.4-0.4h0m5.8-2h0m-246.6 13h0m2.3-3.5h0m1-2.8h0m0.9-0.4h0m0.8 1.8h0m0.3 3.3h0m0.6 1.5h0m0.1 0.1h0m0.3-0.9h0m0.6-0.8h0m1.7-0.1h0m0.6-4.6h0m0.6 3.5h0m0.7 1.2h0m0.3-4h0m26.4 2.3h0m2.7 2.9h0m3.6 0.2h0m14.8 1.5h0m12.7-4.7h0m2.3 1.8h0m17.1-1h0m1.7-1.3h0m10.6-2h0m2.7-0.5h0m4 2.7h0m9.3 5h0m1.7-1.1h0m0.8-2.1h0m0.4-0.5h0m0.5-3.4h0m0.4 4h0m0.6-0.5h0m0.9 1.8h0m10.6-5.8h0m97.6 1.6h0m2.3-1.5h0m1.5 0.4h0m5.1 5h0m8.3-5.1h0m1.3 6.4h0m2.1-1.7h0m-261 10.3h0m3.6-2.1h0m2.1 1.2h0m2.4 0.7h0m8.7-7.6h0m26.8 5.3h0m0.8-3.8h0m0.9 6.5h0m0.2-0.4h0m0.3-0.6h0m0.6-3.2h0m0.9-0.8h0m0.4 1.8h0m0.6-3.9h0m0.2 6.3h0m0.6-4.4h0m0.8 2.6h0m0.5 0.3h0m0.4-4.4h0m0.5 1.7h0m1.5 3.2h0m0.7-5.4h0m1.1 3.9h0m0.3 1h0m0.6-0.1h0m11-2.8h0m3.1-1.1h0m12.6-1.6h0m36.6 6.2h0m8.1-0.6h0m0.4-3.2h0m0.7-0.5h0m0.6 0h0m0.6-0.7h0m115-1.2h0m4.2 0h0m2.1 1.5h0m2.6 6.2h0m2 0.1h0m4-1.8h0m0.4 0.6h0m0.5-4.7h0m0.2 3.9h0m0.4-3.8h0m0.2 0.7h0m0.3-2.6h0m0.6 7.2h0m0.8-1.1h0m1.7 1.6h0m-264.8 0.9h0m0.7 4.4h0m0.8-2.8h0m0.9-2h0m1 5.4h0m1.4-4.7h0m0.4 2.9h0m0.4-0.5h0m0.5-1h0m0.7 3.3h0m0.6-4.2h0m0.8 1h0m4.2-0.4h0m30.3 0.8h0m3.7 1.1h0m1-1.2h0m1.4-0.3h0m1.9-0.9h0m2 5.5h0m0.8-4.4h0m3.6 3h0m2.3-4.3h0m69.5-1h0m113.9 6.2h0m1 0.8h0m2.4-0.8h0m4-6.6h0m7 1.8h0m2 1h0m1.9 0.2h0m1 0.7h0m0.4-2.2h0m0.4-0.2h0m0.6 0.7h0m0.5 4.1h0m1-4.9h0m1.2-0.2h0m2.7 3.6h0m0.5-1.4h0m0.9-0.2h0m0.6 0.8h0m0.5-0.1h0m0.4 3.8h0m-266.2 2.6h0m234.8 5h0m1.2 0.3h0m0.5 0.2h0m2.7-1.3h0m0.7-2.8h0m0.5-2.5h0m0.9-0.1h0m0.3 6.3h0m0.2-2.5h0m1 0.3h0m0.6-2h0m1.2 3h0m3-3.7h0m0.8-0.5h0m0.7 1.1h0m0.5 2.4h0m0.7-1.4h0m0.6 1.3h0m1.2 0.9h0m1 0.6h0m0.5-0.8h0m2.2-4.5h0m3.6 3.3h0m1.3-2.1h0m4.7-1.6h0m2.3 4.2h0m-283.3 9.9h0m251.3-5.3h0m0.4-1.7h0m3.4 5.3h0m1.5 0.5h0m0.9-1.7h0m0.7 1.3h0m0.5 0h0m0.8 0.4h0m1.1-1.1h0m11.9 1.1h0m8.1 1.8h0m3.9 0h0m1.2-6.3h0m0.3 2h0m1.1-2.7h0m0.3 1.7h0m1 4.4h0m3.4 1h0m-267.8 5.6h0m4.9-1h0m228.1-3.6h0m1.4 1.6h0m0.5-1.2h0m0.8-0.3h0m1.2 1.3h0m7.6-0.8h0m11.8-0.4h0m0.4 4.2h0m0.6-1.6h0m1.1-0.1h0m0.7 1.7h0m0.7 1.7h0m0.6-2.1h0m0.8 2.8h0m0.7-2.6h0m1-0.6h0m0.7 2.5h0m0.9-0.1h0m0.9-4.6h0m0.3 1.3h0m1.1-0.3h0m0.4 2.2h0m1.2-4.7h0m0.3 5.3h0m1-4.9h0m0.5 0h0m0.5 5.9h0m0.4 0h0m-270.8 2h0m241.2 1.9h0m1.6 2h0m1.1 0h0m0.3-2h0m0.4 1.1h0m1.4-0.1h0m0.7-0.7h0m0.7-0.7h0m5.2 5.3h0m4.1-1.8h0m0.9-2.9h0m0.6 1h0m0.9-1.2h0m1.2 4h0m0.5-2.4h0m0.6 2.1h0m0.8-2.7h0m0.3-2.9h0m0.6 3.2h0m0.8-4.2h0m1 3.4h0m0.5 1.2h0m0.3-1.6h0m0.4 3h0m0.8 0.1h0m0.6-4.1h0m0.4 4.2h0m0.4-3h0m0.9 4.5h0m0.9-3.2h0m0.6-3.1h0m-21 8h0m3.1 1.2h0m1.1-2.7h0m2.2 3.1h0m0.7-0.9h0m0.3-0.3h0m1 1.6h0m0.2-3.3h0m0.6 6.5h0m0.4-2.2h0m0.5-0.5h0m0.5-0.2h0m0.2-1.5h0m1.4-1.8h0m0.6 6.3h0m1.2-2.3h0m0.8-2.5h0m0.4 0.2h0m0.4-1.6h0m0.7 1.5h0m0.6 2.2h0m0.3-2.1h0m0.3 1.2h0m0.8 1.2h0m0.3-4.3h0m0.6 1.1h0m0.4 0.2h0m-278.4 10.1h0m4.7 2.5h0m3.3-1.6h0m257.8 0.4h0m0.9-3.8h0m0.3 3.7h0m0.9-1.9h0m1.1 3.2h0m0.8 0h0m1-5.6h0m0.9 2.8h0m1.1 0.6h0m1.1 2.2h0m0.7 1.7h0m0.7-0.4h0m1.4-4.3h0m0.3 2.1h0m0.2 1.5h0m1.4-0.5h0m-272.9 2.9h0m7.2 3.2h0m3.1-1.7h0m255.2 5.4h0"/>
<path class="d" d="M206.7 299h0m1.8-2.2h0m4.6-0.1h0m5.2 3.2h0m-16.4 7.6h0m0.5-4.9h0m0.3-0.4h0m1.1 5h0m0.5-3.8h0m0.5 1.7h0m0.6-1.6h0m0.7-1.8h0m1 1.5h0m1.2 0h0m1.3 2.2h0m0.2-3.1h0m0.4-1.4h0m0.7 2.1h0m0.9-1.4h0m1 6.1h0m0.8-5h0m1.7 0.1h0m2 4h0m-18.6 4.9h0m4.3-3.3h0m1.1 7.3h0m1-3.3h0m0.5-0.9h0m0.8 2.3h0m0.9-1.1h0m0.6-1.8h0m0.7-1.1h0m0.8 0.8h0m0.4 4.2h0m0.8-4.8h0m0.6 3.3h0m1.2-2.3h0m1.2-0.2h0m0.8-2.7h0m1.8 2.1h0m33 3.7h0m-44.2 3.3h0m53.6 1.8h0m-74.1 12.3h0m7.8-0.5h0m-8.9 2.6h0m5.1 3.2h0m2.9-0.4h0m0.2 1.9h0m1.3-5.9h0m1 0.2h0m1 5.6h0m0.3-1h0m0.4 0.3h0m0.5 0.4h0m0.6-4.7h0m36.4 4.3h0m-49.9 9.9h0m9.3 0.2h0m7.4-4.8h0m-12.8 10.3h0m370.3-4.9h0m-367.9 11.2h0m574.3 1.8h0m11.2-1.3h0m43.5-2.1h0m-240.2 14.4h0m202.9-6.1h0m19.6 1.7h0m13.7 0.4h0m-618 4.4h0m436.9 6.8h0m179.1-6.2h0m-637.9 13.3h0m359.7 0.5h0m1.1-1.2h0m3.3 0.3h0m1.1 1.8h0m2.9-4.3h0m97.6 2.8h0m127.8 1.1h0m24.9-0.1h0m10-2.2h0m2.1 1.7h0m6.8 0h0m0.9 1.1h0m2.3-1.6h0m1 1.5h0m-325.6 1.1h0m42 1.6h0m1 1.1h0m0.7-2h0m0.6 1.2h0m2.1-2.5h0m1.2-0.2h0m0.5 2.6h0m0.8-0.9h0m0.1-1.3h0m1.1 0h0m0.9 1.5h0m18.3 1.9h0m34.3-1.1h0m7.9 3.7h0m145.5 0.8h0m5.7-4.1h0m4.8-2h0m3.4 2.1h0m14.2 4.7h0m20.6-2h0m6.9-0.9h0m1.6 2h0m1.6-1.3h0m0.8 0.2h0m0.6 0.1h0m0.2-3.2h0m0.4 1.6h0m0.5-1h0m0.2 1.8h0m0.6-1.7h0m0.2 4.2h0m0.3-1h0m0.3-4.6h0m0.7 3.6h0m0.2 0.1h0m0.3 0.1h0m0.6-1.5h0m0.2 3.3h0m0.8-1h0m0.4-3.3h0m0.4 2.5h0m0.3-0.3h0m0-0.1h0m0.8 0.6h0m0.6-1.1h0m0.7-2h0m9.2 4.7h0m-410.5 4.3h0m125.4-2.8h0m53.2 5.4h0m121-2.8h0m13-1.9h0m1.3 2.9h0m0.7-3h0m1.2 0.5h0m0.4-0.8h0m0.4 0.6h0m1.1 0h0m9.3-1.6h0m3.7 5.8h0m1.5-3.3h0m1-1.5h0m1 0.9h0m1.7-1.4h0m12.6-0.1h0m12.5-0.6h0m0.6 3.9h0m0.7-2.7h0m0.7 2.7h0m0.9-0.1h0m1-4h0m14.4 7.8h0m1-6.2h0m0.5 4.4h0m0.3-2.7h0m0.7 4.4h0m1.2-2.1h0m0.4 1.2h0m2.2-6h0m1.7-0.9h0m1.6 2.1h0m1.8 0.1h0m2.2 1h0m1 2.8h0m0.5 1.8h0m0.2-2.7h0m0.4-3.4h0m0.5 3.1h0m0.6-2.2h0m0.3-0.9h0m0.6 6.1h0m0.6-4.2h0m0.3-3.4h0m0.4 6.5h0m0.3-6.3h0m0.4 2h0m0.8 3.5h0m0.4-2.3h0m0.7 2.7h0m0.3-2.9h0m0.5-0.4h0m0.3 0.4h0m2.4-0.8h0m0.9 2.7h0m4.5-0.9h0m-675.1 11h0m264.8-7.3h0m149.2 3.5h0m88.2-0.3h0m64.2-0.6h0m0.5 2.9h0m0.2-5.1h0m0.7-0.3h0m0.9 6.9h0m1.1-1.1h0m0.8-5.5h0m0.5 4.9h0m0.9-2.2h0m4.3-1.3h0m49 3.9h0m6.8-0.4h0m0.7-1h0m26.4-0.7h0m1.1-3h0m1.2 0.4h0m0.5 1.7h0m0.9 1.9h0m2.2 0.1h0m-647.9 7.7h0m330.1-2.4h0m90.6 3.7h0m3.2 2h0m12.6-2.1h0m0.5 0.9h0m0.8 0h0m0.9-0.8h0m24.2 0.7h0m5-1.5h0m1.2-3.9h0m1.5 4.1h0m18-5h0m2 0.3h0m0.9 1.7h0m2.8 5.6h0m2.3-0.4h0m0.5-1.7h0m2.5-2.8h0m0.6 5.1h0m4.6-6.8h0m72.1 0h0m14.1-0.1h0m14.3 5.1h0m4.3-1.5h0m1.8 2.4h0m1.6-0.2h0m2.8-1.6h0m1.1-3h0m1 0.8h0m1.2 1.8h0m-584.6 8.6h0m196.3 0.4h0m187.5-4.3h0m14.6-0.7h0m4.5 2.5h0m1-3.1h0m2.2 3.4h0m39.7-1.2h0m3.3 0h0m4.8 4.5h0m3.2-1.5h0m2.6 0.2h0m0.5 1.5h0m0.6-3.3h0m0.7 1h0m0.3 2.9h0m0.7-1.2h0m0.4-6.6h0m1 3.4h0m0.4 4.5h0m0.4-4.6h0m0.5-0.2h0m0.7 0.6h0m35.7 0.2h0m58.2-2.1h0m5.3 4.3h0m9.8 1.2h0m1.7 0.4h0m0.4-0.4h0m0.1-0.3h0m0.5-2h0m0.2 2.6h0m0.4-1h0m0.3-0.9h0m0.9-0.6h0m0.7 1.4h0m0.4 0.1h0m0.2 0.1h0m0.2-0.6h0m0.2-2.6h0m0.7 4h0m0.5-5.5h0m0.1 0.4h0m0.2-1.3h0m0.1 6.7h0m0.5-0.3h0m0.2 0h0m0.3-6.8h0m0.6 2.1h0m0.1 0.1h0m0.3-1.4h0m1.1 6.3h0m0.4-5.6h0m0.9 5.4h0m0.2 0.4h0m0.8-1.3h0m1 0.7h0m0.9 0.5h0m0.9-0.3h0m0.6-1h0m1-1.8h0m0.6-0.5h0m0.5 0.5h0m0.2-0.1h0m0.6-0.7h0m0.6-0.7h0m1.1 1.5h0m1.2-0.4h0m0.9-2.1h0m1.2 1.7h0m0.1 0.2h0m0.2-1.8h0m0.6 2.5h0m1.4-2.7h0m-622.1 12.4h0m26.7-1.4h0m294.3 0.2h0m88.1-1h0m9.7 2.1h0m6.2 1.4h0m1.2-4.9h0m0.5-0.1h0m1.5 4.1h0m15.5 0.2h0m12.1-7.2h0m10.3 0.5h0m13.6 7.3h0m22.6-0.3h0m1.9-0.1h0m2.5-0.7h0m3.5-2.9h0m27.9 4.1h0m38.6-6.6h0m10.3 4.4h0m3.5-3.3h0m3-1h0m0.5 3.3h0m0.3-4.6h0m0.3 0.8h0m0.7 1.3h0m0.4 0.6h0m0.6 4.1h0m0.3-4.9h0m0.1-1.6h0m0.5 6.5h0m0.2 0.8h0m0.3 0.2h0m0.4-0.1h0m0.7 0.1h0m0.1-6.8h0m0.3 0.6h0m0.2 2.5h0m0.4-0.8h0m0.1-2.4h0m0.4 6h0m0.3-5.3h0m0.2 6.2h0m0.1-4.3h0m0.1 0.7h0m0.2 3.4h0m0.5-3.6h0m0.2-1.4h0m0.3-0.9h0m0.3 2.6h0m0.3-1.8h0m0.2 1.7h0m0.4-1.7h0m0.2-1h0m0.4 1.2h0m0.2-0.1h0m0.5-0.9h0m0.3 0.3h0m0.4-1.3h0m0.5-0.4h0m0.8-0.4h0m0.7 1.4h0m0.8-0.7h0m0.5-0.7h0m0.4 0.8h0m0.6 0h0m0.3 0.3h0m0.9-0.5h0m-615.5 11.4h0m28.8-3.2h0m98.2 0.7h0m107.4-0.8h0m148.3 0.7h0m12.5 6h0m29-6.7h0m2.6 1.6h0m0.8 0.6h0m1.3 1.6h0m0.6-0.9h0m0.4 2.1h0m0.8-0.5h0m0.4 2.5h0m0.1-4.9h0m0.2 4.2h0m1-2.8h0m0.5 1.4h0m1.1-3.8h0m0.6 4.5h0m0.5-3.7h0m13.4 2.1h0m1.3 1.6h0m8.1-0.3h0m23.9-4h0m1.7-0.1h0m18.9 1.1h0m4.1 0.6h0m1.4-2.3h0m1 1.6h0m0.9 3.1h0m1.6-5.9h0m0.3 1.1h0m0.3 5h0m4.6-1.3h0m6-0.5h0m1.8 1.1h0m47.4 0.4h0m1.1 0.5h0m2.5-0.5h0m6.8-1.7h0m3.9 1.2h0m0.3 0.3h0m1-3.2h0m1.8-0.5h0m0.7-0.6h0m1 6.2h0m0.6-3.7h0m0.5 4h0m0.5-2.2h0m0.2 1.3h0m0.7-1.4h0m0.6-1.8h0m0.6 3.6h0m1-2h0m0.3 2h0m0.3 0.1h0m0.9-1.5h0m1-1h0m1.4-2.2h0m0.2 0.5h0m0.5-1.4h0m0.2-1.5h0m0.6 2.2h0m0.3 0.3h0m0.3 3.8h0m0.3-4.3h0m0.4 3.8h0m0.3 0.7h0m0.4-3.4h0m0.7 3.1h0m0.4-5.4h0m0.4 0.4h0m0.6 1.1h0m0.5-2h0m0.1 0.2h0m0.1-0.8h0m0.3 6.4h0m0.2-4.4h0m0.8 0.2h0m0.3-1.2h0m0.6 1.9h0m0.8-1.7h0m1 0.7h0m-632.8 9.4h0m3.3 3.4h0m5.3 0h0m14.9 0h0m10.2 0.8h0m111.6-6.4h0m1.5-0.6h0m1 4.1h0m0.5-1.4h0m2.1-1.2h0m1-1.1h0m228 0.3h0m2.8 3.4h0m37.6 0.2h0m32.3-2.8h0m3.6 1h0m3.5 0h0m1.9 0.6h0m1.4-2.3h0m26.3 3.9h0m4.8-0.7h0m11.7 0.5h0m29.9-2.2h0m3.5 1.4h0m14.7-0.4h0m1.3-1.4h0m0.9 2h0m0.8 0.1h0m0.7-0.4h0m0.5 2h0m1.2-3.1h0m0.9 1.3h0m4.4 3h0m28.3-2.7h0m4.4-4h0m4.7 4.7h0m1 1.8h0m5.6-4.1h0m1.1 2h0m2.4-2.7h0m0.6-0.1h0m1.2-1.7h0m0.7 3.4h0m0.5-3.6h0m0.3 6.8h0m1-5h0m0.6 1h0m0.4 1h0m0.6 0.1h0m0.2-2.5h0m0.5 1h0m0.3-2.5h0m0.2 3.2h0m0.3-1h0m0.6-0.7h0m0.4-1.1h0m0.2 0.7h0m0.4-1.4h0m0.4 6.6h0m1-2.8h0m0.2 1.3h0m0.4 2.8h0m0.2-4.3h0m0.2 2.4h0m0.5-3.6h0m0.5-0.4h0m0.3 5.7h0m1.8-5.4h0m0.4 0.8h0m1-2.8h0m0.7 0.3h0m0.3 6.6h0m1.6 0.5h0m1.4-4.9h0m-632.8 6h0m2.6 5.7h0m1.6 0h0m1.4 0.5h0m4.8 0.5h0m2.2-1.6h0m2.4 0.6h0m3.3-1.1h0m1-2h0m1.5 2.7h0m0.3 1.6h0m0.6-6.1h0m1.1 6.1h0m1.2-6.8h0m1.2 1.2h0m0.4 5.3h0m0.4-5h0m127.7-2h0m75.5 1.6h0m10.9 1.7h0m109.6-3.4h0m1.2 1.4h0m1.8-1.2h0m54 1.7h0m26.6 4.9h0m85-1.1h0m28.8-3.1h0m9.8-2.8h0m1.7 0.2h0m30.3 5.7h0m6.7 1.3h0m4 0.3h0m1.7-0.8h0m0.8 0.3h0m0.6 0.3h0m0.7-0.8h0m0.3 0.8h0m0.9 0.5h0m0.4-3.5h0m1 3.6h0m0.8-1.9h0m0.8-2.2h0m6.7-2h0m0.8 0.6h0m0.8-2.2h0m0.6 0h0m0.5 1.8h0m1.8-1.5h0m3.8 2.4h0m1.1-0.4h0m0.8 0.4h0m1.2-2.2h0m0.9 1.8h0m1 1.4h0m1.1-2.9h0m0.4-0.9h0m1.1 2.1h0m0.8 0.4h0m-626.5 9.4h0m0.6 1h0m0.2-0.6h0m0.7-0.3h0m1.7 0.7h0m0.8 2.5h0m0.9 0.1h0m0.2-1.3h0m0.5-2h0m0.6-0.1h0m0.2 1.9h0m0.4 1.7h0m0.6-1.2h0m0.2 0.8h0m0.9-2.3h0m0.8 0.8h0m0.6-2.3h0m0.4 1.5h0m0.9-2.5h0m0.5-0.8h0m0.9 1.9h0m2.2-0.5h0m2.2-2.9h0m0.6 0.5h0m2.4-0.6h0m0.6 3.2h0m139-0.1h0m67.1 3.8h0m18.9-5.4h0m94 3.6h0m112.2 0.3h0m16.7-3.6h0m16.5 2.8h0m16.7 2.7h0m12-4h0m0.9-1h0m1.1 0.2h0m0.6-1.2h0m0.3 0.4h0m0.1-0.6h0m1-0.6h0m0.4 1.1h0m0.2 0.6h0m5.7 3.8h0m22.8-5.3h0m11.1 2.8h0m22.2-2.5h0m6.2 6.2h0m4.3-3h0m0.4 2.5h0m0.7-0.2h0m1-5.6h0m0.2 2.4h0m0.5 4h0m0-1.7h0m0.4-5.6h0m0.6 2.4h0m0.5 1.5h0m0.3 1.4h0m0.3-1.2h0m0.9-1.7h0m0.8 4.2h0m0.3-0.8h0m0.4-4.8h0m0.3 6.2h0m0.6-4.3h0m0.2-2.6h0m0.5 4h0m0.3 1.2h0m0.6-5.2h0m0.7 6.4h0m0.5-0.4h0m0.4 0.5h0m0.8-5.1h0m0.6 4.5h0m10.8-4h0m4.1 3.7h0m3.7 1h0m-622.9 4.7h0m0.5-2.2h0m1.8 3.8h0m0.4-4.7h0m0.6 4.8h0m1.2-2h0m0.6-2.7h0m1-0.2h0m0.8 3.4h0m0.5 2.1h0m0.5-0.2h0m0.5-4.8h0m0.1 3.2h0m1 1.1h0m7.1-2.7h0m5.6-0.3h0m205.6 2h0m3.2-0.3h0m2.1 1.3h0m0.8-0.7h0m0.7-0.1h0m0.5-1.1h0m0.8 3.5h0m1-0.6h0m3.6 0.5h0m3-6.4h0m2.8 3.5h0m84.3-2.7h0m118.4 0.8h0m25.1 1.9h0m1.2-1.1h0m1.3 3.4h0m0.3-2.8h0m0.8-2.9h0m0.6 2.5h0m0.5-1h0m0.6 3.2h0m15.1-4.4h0m4.2 2h0m2.3 0.2h0m0.3-0.7h0m2.2-0.9h0m35.8 5.6h0m50.5-0.8h0m1.7-1.4h0m0.9 1.8h0m0.9-5.5h0m0.5-0.8h0m0.2 0.5h0m0.4 3h0m0.4-1.3h0m0.4-1.7h0m0.6 0.4h0m0.1 0.8h0m0.5-0.1h0m0 0.1h0m0.1-1h0m0.1-0.1h0m0.2 1.7h0m0.3-1.2h0m0.5 0.9h0m0.5-1.7h0m0.6 6.6h0m0.4-0.2h0m0.6-3.3h0m0.5-0.6h0m0.4-3h0m0.2 3.3h0m0.1-0.1h0m1-2.1h0m8 0.1h0m6.4 6.1h0m3.4 0.5h0m-618.5 3.3h0m2.8-1.3h0m1.2-0.3h0m2.1 1.1h0m2.6-0.4h0m7.2-0.6h0m14.3 4.3h0m196.3-3.5h0m6-2.3h0m7.8 0.9h0m3.1-0.7h0m163.5 3.7h0m52.3-1.8h0m18.1-1.8h0m18.3 6.2h0m0.2-3.2h0m1 1.8h0m0.4-0.1h0m1-3.6h0m0.5 1.6h0m1.1 1.4h0m4.6 0h0m86.6 0.6h0m8-4.6h0m5.5 2.4h0m-590.3 9.4h0m12.6 2h0m7.6-3.6h0m3.3 4.8h0m150.7-6.4h0m49.2 1.8h0m6 4.2h0m119.4 0.2h0m1.7-2.1h0m2.6 1.3h0m1.2-0.8h0m0.4-0.4h0m1-3.1h0m1.4 4.6h0m1.3 0.5h0m0.6-1.3h0m22.5-1.4h0m77-4h0m27.2 0.2h0m31.7 4.1h0m9.5 1.8h0m28.8-6.4h0m11.3 2.8h0m13.5 4.7h0m23.7-6.9h0m-606.2 13.3h0m18.1-4.4h0m8 4.6h0m200.9-5.9h0m104.4 6.7h0m21-4.1h0m3.1-2h0m3.5 0.5h0m1.4-0.3h0m40.8 6.2h0m5.4-7.4h0m0.2 5.4h0m0.6-1.7h0m0.9-3.8h0m0.4 7.1h0m0.5-2h0m0.8 0.2h0m1-3.7h0m0.6 1.1h0m0.5 1.8h0m0.2-1.1h0m1.2 1.5h0m1.1 0.1h0m0.7-4.4h0m1.6 6.6h0m53.4-1.3h0m0.7 0.4h0m1.3-0.7h0m0.4 0.6h0m0.4 0h0m0.6-1.5h0m0.4 0.3h0m1 1.4h0m13.4-0.6h0m0.9-0.4h0m1.1 0.7h0m70.9-0.3h0m17.7-2.8h0m2.7-2.7h0m0.3 1.6h0m0.6-0.6h0m0.2 0.2h0m0.6-1.1h0m0.8 5h0m0.3-4h0m0.8 0h0m11.2 3.7h0m0.5 2.5h0m1.5-1.3h0m0.5-0.1h0m0.7-0.3h0m-608.2 2.3h0m37.1 4.2h0m43.9 1.4h0m1.9-1.3h0m2.4 0.5h0m2 1.8h0m0.6-3.1h0m3.4 0.7h0m2.8 1.3h0m138-3.2h0m182.3-1.5h0m34.1 1.1h0m8.6 2.1h0m21.8 2.1h0m2.8-5.4h0m19.7 7h0m56.2-3.6h0m1.3-2.8h0m24 6.2h0m8.8-0.5h0m3.7-3.3h0m9.4 0.5h0m2.9-3.6h0m0.5 0.7h0m0.3-0.2h0m0.2 1.6h0m0.8-0.5h0m1.1-0.6h0m0.4-1.4h0m1.2 3.9h0m2-2h0m-583.3 7.8h0m46.8 0.8h0m3.8-2h0m2.1 3.8h0m2.7-3.1h0m0.7 1.5h0m1-1.8h0m2.2 1h0m1.2 2.9h0m2.1-3.2h0m3.7-0.5h0m78.4 0.3h0m149.9 2.5h0m1.8 0.9h0m111.8 0h0m92.8-0.2h0m47 2h0m4.4-1.1h0m10.1-5.7h0m18 3.4h0m-592.6 8.3h0m14.1 1.9h0m4.9-1.8h0m3.8-0.6h0m16.3 3.6h0m18.6-1.8h0m1.9-3.7h0m3.9 0.1h0m2.2 5h0m3-0.7h0m3.5-3h0m1.3 2.4h0m2.1-4.4h0m1.4-1h0m174.7 4.4h0m92.8 3h0m15.5-1.2h0m56.7-3.3h0m36.8 3.7h0m38.2-1.6h0m21.2 2.8h0m18.7-3.3h0m7.3 1.9h0m1.2 1.5h0m0.4-1.7h0m0.8 1.2h0m2.8-2.1h0m0.6-0.1h0m1.4 1.2h0m0.4 0.1h0m4.5 1.1h0m4-3.7h0m1.8 2.8h0m0.7-2h0m0.5 0.4h0m0.4 1.2h0m1.1-2h0m1.3 3h0m2.9 0.3h0m8-3.1h0m3.1 0.6h0m3.8 2.5h0m-591.1 1.9h0m9.9-1.2h0m9.4 4.7h0m2.6-0.6h0m0.5 0.8h0m1.1 0.1h0m0.4 2h0m0.4-3.2h0m0.8 3.5h0m0.9-1.6h0m1.6-5.8h0m1.3 1.2h0m0.6-1.1h0m0.1 0.6h0m0.6-0.7h0m0.3 2.9h0m0.4 1h0m1-2h0m0.4-1.2h0m0.3 2.6h0m1 2.1h0m0.3-0.4h0m1 0.4h0m0.5-0.2h0m0.7-1.6h0m0.6-1h0m0.6 2.6h0m0.5-3.8h0m0.6 0.5h0m0.9 5.6h0m1.5-5.2h0m6.3 3.5h0m11.4 1.2h0m7.7-1.9h0m10.7-1h0m1.7-3.2h0m3.1 0.1h0m70.8 0h0m301.4 4.5h0m9.6 1.9h0m4.3-1.7h0m19.7-3.2h0m48 1h0m16.5 1.1h0m2.1 1.5h0m4.1-5.3h0m1.1 0h0m11.7 6.9h0m2.2-0.5h0m0.3-3.5h0m0.7-1.6h0m0.7-1.4h0m1.3 2.4h0m0.4-0.9h0m1.2-1.7h0m3.3 5.8h0m4.6-4.5h0m4.6 5.9h0m3.5-6.5h0m4.4 6.3h0m-580.9 3.2h0m5.3-0.4h0m0.8 1.9h0m1.6-1.2h0m1-1.1h0m1.5-0.7h0m1.7-0.8h0m1.2 0.8h0m1.4-1.2h0m1.1 1.4h0m0.9-0.3h0m1.4 0h0m0.9 5.9h0m0.4-6.9h0m0.7 7.5h0m0.6-1.3h0m1.4-3.6h0m0.3 0.2h0m0.5 4.5h0m1.7-3.8h0m4.5-1.1h0m12.2 2.1h0m12.4 2.7h0m66.9-6.7h0m198.8 6.7h0m1.4-3h0m1.7 0h0m20.4 1.4h0m81.3-3.8h0m19.4 0.3h0m0.4 1.4h0m1.1-0.4h0m1.1-2.6h0m1 0.9h0m0.3-1.6h0m0.5 3.9h0m1.2-0.6h0m1.4 1.9h0m2.7 0.8h0m30.8-5.7h0m2.8 3.6h0m1.6-2.9h0m16.7 4.4h0m1.3-0.1h0m14.3 2h0m3.3-0.4h0m2.7 0.8h0m0.7-1.4h0m0.8-0.9h0m1.2 2.2h0m2.6-2.2h0m2.4-5.3h0m20.2 6h0m1.8-1.2h0m1.1 1.2h0m1.1 1.5h0m1.2-0.6h0m2.8 0.5h0m10.1-7.5h0m12.3 4.5h0m-567.2 5.4h0m0.7 5.3h0m0.6-5.8h0m0.3 5h0m0.3 0.7h0m0.2-5.9h0m0.2 0.9h0m0.2 3.6h0m0.2-5.7h0m0.3 4.3h0m0.4-3.9h0m0.5 0h0m0.3 7.4h0m0.3-2h0m0.6-0.2h0m0.1-0.5h0m0.6-0.9h0m1.1 3.4h0m4.6-4.2h0m16.6-2.5h0m47.6 3.6h0m87.7-3.5h0m74.4 6h0m63.7-5.4h0m1.1 1.3h0m1.3-0.4h0m6 4.5h0m63.2-2.5h0m26.6 2.7h0m28.5-5.8h0m22.6 6.3h0m2.1-2.5h0m36.6-4.6h0m1.3 6.6h0m1-0.4h0m4.5-1.7h0m5.3-0.9h0m6.4-0.8h0m2-3.1h0m1.4 1.1h0m1.4-0.4h0m0.8 0.1h0m2.7 1.5h0m13.6 1h0m4.8 0h0m6.5-3.5h0m-552.3 9.9h0m11.1 0.3h0m0.7 1.8h0m0.7 0.1h0m0.2 0.2h0m0.4-2.7h0m0.2 2.4h0m0.3-0.3h0m0.4 0.2h0m0.6 1.7h0m0.2 1.2h0m0.3-4h0m0.3-0.5h0m0.5-0.5h0m0.3 0.1h0m0.5-0.7h0m0.2 0.1h0m0.9 3.3h0m0.6 2.5h0m0.6 0.7h0m0.3-6.9h0m0.7-0.4h0m1 1.2h0m0.9 1.1h0m1.4-0.6h0m1 1.3h0m0.5-0.7h0m1.1 3.8h0m0.8-2.6h0m0.7-3.1h0m1 4.5h0m1.3-0.9h0m2.2 2.3h0m1-6.5h0m2.6 6.7h0m3.1-1.8h0m2-1h0m3.4 1.1h0m1.2-2.3h0m2.1 3.5h0m5 1.3h0m1.8-3.4h0m5.4-3.7h0m102.9 1.2h0m2.7 3.2h0m2.1-1.7h0m0.6-2.2h0m4.1-0.4h0m1.3 2.9h0m57.5-1.2h0m6.5 0.1h0m55.3 0.5h0m0.7-1.8h0m0.5-0.8h0m0.9 4.6h0m1.5-5h0m0.8 1.7h0m0.8 1.3h0m1.3-1.5h0m42.1 6.1h0m49.9-4.1h0m4.6 3.7h0m1.4 0.1h0m0.8-0.8h0m0.6 0.1h0m0.7-0.3h0m1.1 0.1h0m0.9-2.1h0m1.3 2.7h0m42.1-0.8h0m19.7-3.4h0m1.1-0.4h0m27.7 2.6h0m6.5 0.8h0m2.5-3.2h0m0.5-2.8h0m4.8 6.4h0m0.8 1.4h0m12.4-0.2h0m16.1-2.6h0m4.5 2.8h0m4.5-5.8h0m7.3 4.9h0m13-2.4h0m0.6-2.1h0m-551.8 6.1h0m0.8-0.1h0m1 4.8h0m0.8-0.9h0m1.2 2.4h0m1.4-2.7h0m0.5-1.3h0m1.2-2.1h0m1.3 3.4h0m2-3.7h0m0.4 0.6h0m0.6-0.2h0m0.6 0.3h0m0.9 1.5h0m1 1.5h0m0.3 2.9h0m0.5-4.9h0m0.6 2.6h0m1.1-1.4h0m0.8 3.2h0m1.1-5.5h0m0.4 3.9h0m6-3.8h0m32.1 5.6h0m3.3-5.3h0m1 6.5h0m2.6-1.1h0m1.2-1.3h0m1.9-3.5h0m4.5-0.8h0m0.8 0.2h0m1.2 3.2h0m1.5 0.9h0m2.3 2.1h0m4.6-1.3h0m63.8-5.6h0m203.2 5.1h0m2 1.4h0m3.4 0h0m26.4-3.4h0m1.2-3.4h0m1.8 1.2h0m2.8-1.5h0m40.2 5.4h0m2.8-4h0m3.2 1.2h0m20.5 2.4h0m7.6 2.6h0m1.4 0.1h0m2.7-0.5h0m5.2-2.9h0m14.9-3.4h0m16.5 1.1h0m4.4 3.1h0m2.1 1.3h0m2.1-0.3h0m0.5-1.5h0m0.6-2.4h0m0.4 0.3h0m1.1 2.2h0m5.9 0.5h0m1.1 0.4h0m7-3.4h0m2.2 0.5h0m8-1h0m2.9-0.4h0m-539.3 13.5h0m0.6-0.6h0m1-1.7h0m0.7 2.2h0m1.6-2.8h0m0.5-2.3h0m1.1 0.5h0m0.8 0.4h0m0.7 1.3h0m0.5 0.5h0m1.3 0.8h0m1.6-3.3h0m1.2-1.9h0m0.4 4.7h0m0.3 0.6h0m1.7-4.9h0m1.2 6.5h0m1.5-0.7h0m0.7-0.4h0m0.9-2.5h0m11.8 3.3h0m21.9 0.6h0m2.3 0.7h0m2.3-3.4h0m1.6 1.2h0m3.1 2.3h0m1.7-4.1h0m1.7-3.3h0m0.6 0.6h0m3.2 4.3h0m1.6-0.2h0m1.4-5h0m3.4 5h0m2.1-0.9h0m3.5-2.2h0m39.4 4.6h0m218.3-1.9h0m9.7-3.5h0m0.8-1.2h0m3.7 0.5h0m19.4 6.5h0m63.1-5.9h0m14.7-0.9h0m4.6 5.1h0m1.4 0.5h0m1.1-1.1h0m1-1.7h0m0.2 2.2h0m1-2.7h0m0.2-0.2h0m0.2 1.2h0m0.3 0.3h0m0.3 0h0m0.3-2.3h0m0.3 1.6h0m0.2-0.3h0m0.3 1h0m0.3 0.9h0m0.2 1.8h0m0.3 0.9h0m0.2-3.1h0m0.3-3.9h0m0.2 5.9h0m0.2-4.4h0m0.3 3.6h0m0.9 1.8h0m1.1-2.6h0m0.1 2.4h0m0.4-0.1h0m0.6 0.5h0m0.2-2.8h0m0.5 1.8h0m0.6-2.2h0m0.2-1.6h0m0.3-0.5h0m0.2-0.1h0m0.6 0.6h0m0.4 1.4h0m0.4 3.6h0m0.2-5.9h0m1.1 0.1h0m1.4 3.2h0m4.3-3.6h0m10.7 4h0m12.8-1.3h0m3.8 1.2h0m9.8-1.2h0m6.2-3.3h0m4.9 5.5h0m10.1-3.3h0m-482 4.7h0m7.4 2.3h0m3.1 0.3h0m1.8 0h0m0.8-1.1h0m3.4-1h0m2.5 6.4h0m4-2h0m4.2-1h0m7.2 2.1h0m206.1 0.2h0m83.5-4.7h0m24.4 1.2h0m21.5 1.9h0m1.8-1.3h0m2 1.3h0m0.8-1.7h0m1.3-0.8h0m1.2 5.7h0m1.3-2.5h0m0.8 1.8h0m9.6-3.1h0m11.8-1.6h0m3.1 3h0m0.5-3.4h0m1-1h0m1.3 1.6h0m1-2.5h0m1 2.6h0m0.4 0.9h0m0.3-1h0m0.3 1.3h0m0.2-0.2h0m0.4-2.5h0m0.3 2.3h0m0.3-0.6h0m0.3 2.1h0m0.6-0.6h0m0.4 3.6h0m0.6-7.1h0m0.3 6.8h0m0.2-2.5h0m0.9 2h0m0.3-1.3h0m0.3-4.9h0m0.2 3.5h0m1.3-1.5h0m1.5-1.9h0m0.9 0.8h0m23.6-0.9h0m0.4 0.8h0m0.4-1h0m1.3 1.6h0m13.8 0.5h0m8.6-1.5h0m4.5 3.8h0m0.8 0.4h0m1.6-1.3h0m0.9-0.2h0m0.8 2h0m0.6-0.1h0m-471.1 9.3h0m20.6-4.3h0m62.5-0.4h0m79.6 2h0m100.9 0.9h0m22.8-5.1h0m35.9 5.6h0m24-2.3h0m14.3-3.6h0m4.4 3.7h0m1.9-1.5h0m2 1.6h0m2.6-2.6h0m1.9 1.5h0m24.3 3.5h0m9.7-5.7h0m8.3 5.2h0m0.5 0.8h0m0.9 0h0m5.1-6h0m1.1 1.8h0m28.9-0.7h0m9.2 4.6h0m-463.7 4.3h0m5.2 4.6h0m4.5-4.6h0m4 1.3h0m12.1-1.6h0m6.1-0.4h0m19.1 4.3h0m173 1.2h0m0.8-3.8h0m2.8-2.7h0m1.2 6.5h0m2.4 0h0m1.1-1h0m1.8 1.3h0m1.1-6.9h0m1 6.6h0m0.7-5.4h0m1.9-0.3h0m35.1 5.3h0m82-6.6h0m41 2.8h0m5.6 1.5h0m0.6 2.1h0m0.7-2.5h0m15.7 0.5h0m10.8-0.6h0m16.2-3.5h0m9.7 6.6h0m1.1-1.2h0m1-5.6h0m0.8 4.3h0m2.6-3h0m-442.1 9.4h0m27.1 2.4h0m46.1-2.7h0m129.7-1.3h0m0.7 1.9h0m0.3-0.4h0m1.2 4.8h0m0.4-5.8h0m0.7-1.9h0m0.5 1.6h0m1.1-1.6h0m0.5 5.7h0m1.1 2.1h0m0.8-6.5h0m0.4 3h0m0.9-2.9h0m0.4 3.8h0m1-3.8h0m0.7 3.9h0m0.6-4.8h0m1 1.2h0m0.4 1.5h0m0.9 1.9h0m1.3-3h0m16 3h0m9.2 2.6h0m9.8 0h0m2.1-0.3h0m1.7-1h0m13.3-6.2h0m11.6 7.6h0m19.4-0.6h0m1.9-0.7h0m1.2-1.3h0m3-3.6h0m0.9 6h0m20.1-5.4h0m23.4 2.7h0m10.7 0.2h0m0.8-4h0m0.6-0.6h0m2.6 3.8h0m2 2.1h0m25.9-2.5h0m15.1 3h0m24-4.1h0m4.4-2.8h0m-364.3 11.7h0m1 0.1h0m2 1.7h0m0.6-1.9h0m2-2.2h0m0.6 4h0m0.6-0.1h0m53-1.1h0m38.7-1.3h0m34.3-0.2h0m20.1-0.5h0m12.8-1h0m35 2.4h0m27-2.9h0m3 1.6h0m0.7-2.4h0m1.2 3.6h0m2.2-2.9h0m2.7 2h0m64.1-0.7h0m20.6 2.5h0m0.4 1.2h0m13-1.9h0m25.5 1.7h0m-315.4 8.6h0m64.9-5.4h0m25.1 4.8h0m20.5-1.7h0m19.7-3.9h0m73.9 4.4h0m54.4 2.4h0m9.3 0.2h0m23.1-2.3h0m1.7 2.9h0m-215 2.2h0m8.7 5.7h0m65.9-4h0m9.6-0.1h0m40.8-1.6h0m15 2.4h0m3.2 1.9h0m7.7-0.2h0m8.2 1.5h0m5.4-0.5h0m14.9-1h0m13.9-0.6h0m4.3 1h0m1.8 1.5h0m2.2 0.2h0m12.6-7.9h0m21.2 1h0m0.8 0.9h0m1.2 4.6h0m0.4-2.6h0m0.5 2.5h0m0.7-0.8h0m0.6-1.4h0m0.6-1.8h0m0.7 2.1h0m-329 9.5h0m89.8 1.9h0m3.5-6.9h0m3.2 3.6h0m15-2.1h0m9.6-0.3h0m52.5 1.5h0m12.1 3.3h0m0.5-2.9h0m0.5 2.2h0m0.3 1h0m0.4-1.2h0m1.3-1h0m0.6 1.2h0m0.6-1.7h0m7.9 0.2h0m18 2.9h0m3.3-0.8h0m7.1-6.2h0m2.7 6.1h0m1.3-0.4h0m2.1-0.6h0m9-2.5h0m0.4-2.5h0m1.5 2.6h0m1.2-1.6h0m24.1 3.2h0m17-1.3h0m2.6-2.9h0m20.7 0.2h0m7.2 5.9h0m1.3 0.3h0m2.9-4.5h0m6 4.6h0m4.7-4.9h0m-245.4 9.4h0m0.6-2.1h0m1 4.6h0m0.9 1.2h0m0.6-5h0m0.6 1.5h0m0.4-1.5h0m0.1 3.5h0m0.4 0.7h0m0.8 0.7h0m1.5-1.5h0m0.7-5.4h0m0.4 3.6h0m0.7-0.9h0m0.8-0.9h0m27.1 2.9h0m2.8 1.9h0m2.7-3.3h0m20 3.8h0m8.1-1.6h0m4.5-0.5h0m13.9 0.1h0m1.7 0.1h0m10.8-5.6h0m3.8 4.8h0m5.5 0.5h0m7.2 1.5h0m1.1 0.4h0m0.9-3h0m0.2 2.3h0m0.5 0h0m0.4-2.1h0m0.6-0.3h0m1 1.9h0m105.5 1.2h0m2.6-5.5h0m2.2 0.7h0m2 5.3h0m5.1-1.9h0m8.2 1.2h0m1-1.7h0m2.6-0.3h0m-261.2 9.4h0m3.3 0.6h0m2.6-1h0m3-1.9h0m8.3-0.9h0m26.2 4.6h0m0.7-3.6h0m0.9-2.6h0m0.2 5.1h0m0.5-0.7h0m0.5 1.6h0m0.8-7.1h0m0.8 4h0m0.1 0.8h0m0.3-4.9h0m1.1 0.7h0m0.4 3.5h0m0.5-2.3h0m0.4 3.4h0m0.6 0.1h0m1.2-4.2h0m0.9 0h0m0.9 4h0m0.4-4.6h0m0.8 0.4h0m11.5 5.2h0m3.3-1.2h0m33-5.5h0m22.1 2.6h0m1.4 2.5h0m0.3-2.9h0m0.7-0.3h0m0.7 2.7h0m0.6 0.7h0m116.6-3.1h0m2.5-1.3h0m3.9 6.7h0m0.9-2.8h0m2.1 1h0m3.8-2.9h0m0.5-2.7h0m0.4 5.5h0m0.3-3.2h0m0.2 3.9h0m0.4 0.2h0m0.2-1.4h0m0.7 1h0m1.1-4.5h0m5.9 5.6h0m-269.4 3h0m0.6 2.7h0m0.8 0.5h0m1 1.1h0m1.1-1.1h0m1.3-0.6h0m0.4-2.9h0m0.6 2.6h0m0.5-0.4h0m0.7-0.8h0m0.7-3.1h0m0.8 0.3h0m33.4 0.1h0m2.3 0.8h0m2.2-0.3h0m1.9-0.4h0m0.7 5h0m1.8-5.4h0m1.9 5.1h0m1.1-5h0m4 2.9h0m2.7-0.7h0m181.6-2.7h0m0.7 4.4h0m2.1-1.9h0m1.5 4.7h0m9-6.3h0m1.8 0.8h0m2.6 0.3h0m1.4 5.8h0m1-0.9h0m0.2-3.4h0m0.5-3.1h0m0.5 7.4h0m0.6-6h0m0.9-1.9h0m1.2 2h0m2.7 4.9h0m0.6-4.7h0m1.2 4.8h0m0.2-6.2h0m0.6 0h0m0.3-0.5h0m-242.2 12.4h0m211.4 2.9h0m0.8-3.5h0m2-3.6h0m1.1 4.4h0m0.8 1.9h0m0.4-6.7h0m0.9 7h0m0.2-0.5h0m0.3-0.1h0m1-3.2h0m0.7 3.5h0m2.8-3.4h0m1.4 3h0m0.9-4.5h0m0.4 2.5h0m0.9-0.9h0m0.5-0.4h0m0.9-3h0m1.6 5.7h0m0.4-1h0m0.5-1.5h0m3-3h0m2.6 2.2h0m1.2 1.1h0m4.9-3.1h0m2.4 5.9h0m-241.1 2h0m208.9-0.3h0m0.3 0.3h0m3.5 4.4h0m1.7 1.7h0m0.7-2h0m0.7 1.7h0m0.8 1.6h0m0.5-1.6h0m1.3-0.8h0m12.4 1.3h0m7.5 0.8h0m4.4-5.3h0m0.6 1.1h0m0.6 4.3h0m0.8-5.7h0m0.4-1h0m0.9 6.7h0m-293.3 3.1h0m29.9 4.2h0m231.2-5.4h0m1.8 1.2h0m0.4-2h0m1 1.7h0m0.8-0.9h0m1.5 4.7h0m15.9-3.1h0m2.7 0.8h0m0.5 3.1h0m1.3-5.2h0m0.3 3.5h0m0.6 1.1h0m1-2.6h0m0.4 4.1h0m0.8-0.5h0m0.8-2.9h0m1.1-3.1h0m0.6 3.5h0m0.9 2.6h0m0.8-7.2h0m0.4 3.2h0m0.9 0.8h0m1.1 2.8h0m0.6-1.9h0m0.3-4.7h0m1 6.6h0m0.5-7h0m0.4 2.1h0m-298.3 8.3h0m31.1-0.9h0m238.8 1.3h0m1 1h0m1 1.4h0m0.3-3.1h0m0.5-0.6h0m1.4 3.1h0m0.7-1.2h0m0.7-0.6h0m5.1-2.4h0m4.2 0.9h0m0.8-0.6h0m0.9 4.8h0m0.9-4.2h0m0.9 1.8h0m0.4 2.9h0m0.7-3.7h0m0.8-1.6h0m0.3 1.4h0m0.8-1.4h0m0.8 3.1h0m1 3h0m0.2-3.2h0m0.4 4h0m0.5-2.3h0m0.7-0.6h0m0.5-1.6h0m0.5-0.3h0m0.3-1.2h0m1 0.7h0m0.8 1.6h0m-20.9 4.6h0m0.6 4.3h0m3.3-3.3h0m1.4-0.4h0m1.9 6.1h0m0.5-4h0m0.6-2h0m0.6 3.6h0m0.4-1.1h0m0.4-1.8h0m0.5 3.7h0m0.7-1.3h0m0.2-3h0m0.5 6.4h0m1.2-2.7h0m0.5 2.5h0m1.5-1.8h0m0.6 1.2h0m0.4-1h0m0.4-4.9h0m0.8 1h0m0.7 0.3h0m0.1 3.3h0m0.3 2h0m0.8-1h0m0.5-3h0m0.3 3.9h0m0.6-3.8h0m-277.3 6.2h0m5.5 3.5h0m3 2.4h0m256.3-5.3h0m0.6 1.4h0m0.9 2.9h0m0.5-3.6h0m1.3-0.2h0m0.5 0.2h0m1.2-0.3h0m0.6-0.8h0m1.2 3.1h0m1.3-5.1h0m0.5 6.6h0m1.1-6.1h0m1 2.7h0m0.3-2.7h0m0.6-0.2h0m-278.6 8.9h0m10.1 0.1h0m4.6 0.8h0m3.1 1.8h0"/>
<g class="c"><circle cx="634.9" cy="579.5" r="49.2"/><circle cx="282.0" cy="564.4" r="49.2"/><circle cx="292.1" cy="590.6" r="49.2"/><circle cx="279.7" cy="567.3" r="49.2"/><circle cx="157.1" cy="464.3" r="49.2"/><circle cx="157.7" cy="463.9" r="49.2"/><circle cx="159.3" cy="470.7" r="49.2"/><circle cx="173.7" cy="454.8" r="49.2"/><circle cx="194.2" cy="539.3" r="49.2"/><circle cx="195.1" cy="539.3" r="49.2"/><circle cx="197.4" cy="540.2" r="49.2"/><circle cx="210.2" cy="543.4" r="49.2"/><circle cx="206.7" cy="565.3" r="49.2"/><circle cx="200.6" cy="545.7" r="49.2"/><circle cx="390.9" cy="473.8" r="49.2"/><circle cx="389.1" cy="474.8" r="49.2"/><circle cx="389.2" cy="473.5" r="49.2"/><circle cx="752.1" cy="468.7" r="49.2"/><circle cx="752.9" cy="468.2" r="49.2"/><circle cx="748.6" cy="696.2" r="49.2"/><circle cx="709.1" cy="665.8" r="49.2"/><circle cx="718.3" cy="624.7" r="49.2"/><circle cx="706.7" cy="637.1" r="49.2"/><circle cx="723.7" cy="652.8" r="49.2"/><circle cx="669.1" cy="570.9" r="49.2"/><circle cx="668.0" cy="570.7" r="49.2"/><circle cx="702.3" cy="571.9" r="49.2"/><circle cx="610.7" cy="437.5" r="49.2"/><circle cx="611.2" cy="439.4" r="49.2"/><circle cx="610.2" cy="438.1" r="49.2"/><circle cx="610.2" cy="438.0" r="49.2"/><circle cx="608.0" cy="438.5" r="49.2"/><circle cx="587.7" cy="475.4" r="49.2"/><circle cx="632.5" cy="471.9" r="49.2"/><circle cx="561.6" cy="445.0" r="49.2"/><circle cx="523.6" cy="490.7" r="49.2"/><circle cx="657.7" cy="499.2" r="49.2"/><circle cx="640.9" cy="497.3" r="49.2"/><circle cx="591.5" cy="643.5" r="49.2"/><circle cx="592.6" cy="643.4" r="49.2"/><circle cx="537.4" cy="602.9" r="49.2"/><circle cx="757.0" cy="460.9" r="49.2"/><circle cx="756.7" cy="461.1" r="49.2"/><circle cx="813.6" cy="393.7" r="49.2"/><circle cx="813.3" cy="394.1" r="49.2"/><circle cx="813.3" cy="393.6" r="49.2"/><circle cx="805.6" cy="397.2" r="49.2"/><circle cx="658.6" cy="425.8" r="49.2"/><circle cx="666.4" cy="423.2" r="49.2"/><circle cx="538.7" cy="389.3" r="49.2"/><circle cx="548.5" cy="405.2" r="49.2"/><circle cx="588.8" cy="603.3" r="49.2"/><circle cx="581.0" cy="495.7" r="49.2"/><circle cx="581.3" cy="496.0" r="49.2"/><circle cx="523.9" cy="490.8" r="49.2"/><circle cx="505.7" cy="453.3" r="49.2"/><circle cx="780.5" cy="430.2" r="49.2"/><circle cx="779.8" cy="435.1" r="49.2"/><circle cx="773.7" cy="446.3" r="49.2"/><circle cx="359.0" cy="550.6" r="49.2"/><circle cx="784.8" cy="427.7" r="49.2"/><circle cx="785.0" cy="429.1" r="49.2"/><circle cx="784.8" cy="428.6" r="49.2"/><circle cx="785.3" cy="426.9" r="49.2"/><circle cx="779.6" cy="397.2" r="49.2"/><circle cx="731.2" cy="399.5" r="49.2"/><circle cx="717.2" cy="405.4" r="49.2"/><circle cx="737.0" cy="522.2" r="49.2"/><circle cx="735.8" cy="524.3" r="49.2"/><circle cx="718.9" cy="523.9" r="49.2"/><circle cx="713.6" cy="540.2" r="49.2"/><circle cx="759.0" cy="525.0" r="49.2"/><circle cx="496.5" cy="414.3" r="49.2"/><circle cx="686.7" cy="435.3" r="49.2"/><circle cx="687.0" cy="435.1" r="49.2"/><circle cx="672.7" cy="463.2" r="49.2"/><circle cx="655.5" cy="480.3" r="49.2"/><circle cx="483.7" cy="551.0" r="49.2"/><circle cx="484.8" cy="551.9" r="49.2"/><circle cx="190.9" cy="336.4" r="49.2"/><circle cx="772.5" cy="446.2" r="49.2"/><circle cx="772.9" cy="446.1" r="49.2"/><circle cx="772.8" cy="445.2" r="49.2"/><circle cx="752.7" cy="445.0" r="49.2"/><circle cx="710.5" cy="449.8" r="49.2"/><circle cx="710.0" cy="449.6" r="49.2"/><circle cx="751.1" cy="432.9" r="49.2"/><circle cx="766.1" cy="436.7" r="49.2"/><circle cx="732.7" cy="578.9" r="49.2"/><circle cx="630.6" cy="534.7" r="49.2"/><circle cx="587.8" cy="555.3" r="49.2"/><circle cx="494.3" cy="598.0" r="49.2"/><circle cx="493.5" cy="597.6" r="49.2"/><circle cx="493.6" cy="598.5" r="49.2"/><circle cx="486.3" cy="598.9" r="49.2"/><circle cx="514.3" cy="650.3" r="49.2"/><circle cx="523.5" cy="657.0" r="49.2"/><circle cx="467.2" cy="653.2" r="49.2"/><circle cx="485.8" cy="627.0" r="49.2"/><circle cx="303.7" cy="444.7" r="49.2"/><circle cx="302.8" cy="446.4" r="49.2"/><circle cx="736.6" cy="487.1" r="49.2"/><circle cx="752.2" cy="492.6" r="49.2"/><circle cx="769.4" cy="501.0" r="49.2"/><circle cx="750.3" cy="469.9" r="49.2"/><circle cx="205.2" cy="302.6" r="49.2"/><circle cx="204.8" cy="303.2" r="49.2"/><circle cx="204.8" cy="303.3" r="49.2"/><circle cx="260.0" cy="316.7" r="49.2"/><circle cx="694.7" cy="488.6" r="49.2"/><circle cx="712.8" cy="463.1" r="49.2"/><circle cx="586.6" cy="419.2" r="49.2"/><circle cx="604.1" cy="418.6" r="49.2"/><circle cx="605.0" cy="419.3" r="49.2"/><circle cx="535.5" cy="447.1" r="49.2"/></g>
<g transform="translate(0,0)"><path class="st" d="M206.5 279.3l30.1 8.3l32.7 7.9l10.8 2.4l45 8.6l44.8 6.6l44.5 4.8l45.7 2.9l31.4 0.8l23.5 0.1l0-6.4l2.2 0.1l1.5 0.9l1.7 7.3l0.9 2.7M179.5 319.7l2.7 1.4l3.4 1l2.5 2l2.5 2l0.6 4.2l-0.6 3.4l3.9 2.5l3.5 0.8l4.6-0.9l3.9 1.3l2 2l4.3 0.1l4.1 0.5l3.6 0.5l5.1-0.8l4.9 0l4.9-0.2l11.6 2.8l12.4 2.9M269.3 295.5l-9.6 42.2l0.4 4.6l-0.7 2.9M259.4 345.2l1 3.3l1.5 5.9l-2.6 4.6l-2.9 3.7l-3.1 2.8l-2.9 4.6l1 3.7l1.4 2.1l-1.7 3.1l-1 1.9l-6.9 30.4M156 388.2l26.7 7.9l24.2 6.5l36.3 8.7l36.8 7.7l37 6.5M206.9 402.6l-12.8 49.7l24.4 40.3l30.9 42.5M280 419l-16.3 84l-2.6 13.5l-3.2 2.5l-2.3-2.4l-3.9-0.2l-0.9 3.3l0.1 5.2l0 7l-1.5 3.2M249.4 535.1l0.2 2.7l1.3 4.6l2.7 6.1l-4 2l-2.5 3.3l-0.4 4.3l-3.9 3.6l-0.1 3.4l1.9 3.9l-0.1 2.6l-3.9 1.4M263.7 503l27.2 5l39.3 6l40.7 5l40.3 3.6l12.9 0.9l27.4 1.4l40.4 1.1l32.1-0.1M339.5 446.2l-9.3 67.8M317 425.5l-2.7 16.9l25.2 3.8M339.5 446.2l38.6 4.7l24.8 2.3l25.4 1.9l-1.1 17.1M323.7 383.9l-6.7 41.6M280.1 297.9l-3.5 16.4l2.1 8.2l3.8 6l2.9 6.1l3.1 5.4l3.1 0.6l-2.9 7.3l-2.5 6.7l-0.4 3.6l2.4 2l3.5-2.8l2.4 3.2l0.5 7.1l1.9 3.2l2.5 3.1l1.3 6.3l2.2 1.6l5.7-1.1l6.1 0.5l4.2 0.4l1.7-2.8l2 2.9l1.5 2.1M323.7 383.9l1.4-8.9l36.3 5.2l47.3 5M414.4 317.9l-5.7 67.3l-2.9 34l-2.9 34M410 369.3l48 3.1l40.8 0.9M405.8 419.2l37.7 2.6l30.9 1.2l2.5 2.1l3.6 2l5-1.3l5 0.1l3.1 2.2l3.1 2.1l2.5 1.7M427.2 472.2l39.4 1.9l47.7 0.6M427.2 472.2l-3.1 51.3M330.2 514l-13.3 95.9M411.2 522.6l-0.6 8.5l-3.7 42.6l-2.8 34l-27.8-2.4l-23.2-2.4l0 2.6l0.9 1.3M410.6 531.1l40.6 2.4l-1.4 33.1l4 3.3l4.2-0.2l2.7 1.8l3.5 1.8l4.8 1l2.8 0.9l4.2-0.4l2 4l4.3-1.3l2.7 2.3l3.5 1.7l2.9-2.5l3.5 1.2l4.9 1.1l3.5-0.9l4.9-0.6l4.2-0.4l4.2-1.2l5 3.3l5.2 1.8M524 525.9l0.1 8.6l2.9 18.8l-0.2 30l3.2 1l3 0.5l0.2 9M533.2 593.8l0.4 17.4l2 2.5l1.6 5.1l3 5.8l1.2 4.3l-2.4 6l-0.1 5.1l0.3 4.2l-2.1 3.4l0.2 2.9M524 525.9l-0.4-35.9l-3.2-3.4l-2.6-4.3l1.9-3.9l-2.6-1.7l-2.8-2M514.3 474.7l-3.7-5.2l-2.3-4.7l-1-5.5l-0.6-5.1l-2.6-6l-0.6-6.9l-2.5-4.2l-1.8-5.2M499.2 431.9l-1.5-3.7l2.1-6.5l-1.5-6.5l1.6-0.3l0.1-30.7l-3-2l-1.7-3.1l3-3.4l0.5-2.4l-0.5-6.1l-2.3-5.9l0.1-5.1l-0.5-9.3l-2.3-6.8l-1.1-5l0.1-6.7l-0.8-6.8M499.9 414.9l30.1-0.3l34.2-1.2M508.3 464.8l29.2-0.5l22.6-1.1l3.1 3.3l1.1 0.3M551.1 358.7l-2.2 1.6l0.4 9.5l-1.8 2.6l-4.8 5.3l2.2 5l-0.6 6.8l0.3 3.4l5.6 3.5l5 2.9l4.5 5.3l3.4 2.9l1.1 5.9l0.5 5.1l1.5 5l5.2 4.4l0.7 2.2M572.1 430.1l20.6-1.4l14.9-1.2M572.1 430.1l3.3 3.2l3.6 6.6l-2.2 6.1l-7.4 2.5l-1.7 4.1l2.1 4.1l-1.7 4.4l-3.8 5.7l-0.9 3.9l0.9 4.3l4.8 5.8l4.9 4.8l1.6 5.6l5.9 0.9l0.6 4.2l-1.9 7l6.3 4.7l5.7 5.7l0.4 4.6l5 4.8M612.1 440.5l3.7 40.4l-1.2 4.4l2.5 5.8l-2.9 5.4l-2.2 4.5l-1 4.4l0.2 2.5M651.4 481.5l-0.4 5.2l-7 2.2l-1.9 7.4l-2.5 1.2l-2.2 5l-4.2-2.6l-2.9 4.9l-5.3 0.2l-6 0l-5.9 1.1l-1.9 1.8l-1 4.4l-4.2 6.4l-0.4 2.2l-6.2-1.7l-1.8 3.9M646.2 437.3l5.2 44.2M616.2 439.4l29.9-3.1l0.1 1l17.1-2.6M651.4 481.5l4.8-0.6l3.2 4.3l5.4 0.7l2.9 1.7l4.6-0.1l3.6-2.7l2.3 1.9l3.7 2.6l3.8-1.1l0.6-5.3l2-4.6l2.7-3.9l3.4-3.9l5.3-3.5l1.4-3.7l1.4-8l-1-5.9l1.4-1.8M699.1 424.7l3.8 22.9l2.5 15.6l13.3-2.3l25.3-4.7l21.7-4.5M718.7 460.9l1.6 8.8l4.1-5.5l3.4-2.8l4.6 0l2.3-2.2l5.2-0.1l2.6 4.4M742.5 463.5l3.5 2.8l3.5 1l3 1.5l0.7 3.4l-1.9 3.8l-0.2 2.7l3.9-0.8l1.8 2.3l5.1 1.5l4.4 1.7M742.5 463.5l-0.8 3.4l-7.5-3.2l-1.3 7.2l-3.4 4.6l-2.2 5.1l-2.4 1.8l-5-1.9l-1.6 6l-4.4 10.3l0.6 3.4l-6.4 2.4l-2.2 2.8l-3.3 1l-5.9 1.5l-4.1-5.1M681.9 489.3l0.6 4.6l2.6 3.9l2.5 3.5l5 1.5M692.6 502.8l-4.6 5.5l-4.2 4.4l-5.3 5.9l-6.7 3.5M671.8 522.1l26.8-3.6l22.6-2.9l26.7-4.9l28.2-5.7M671.8 522.1l-31.3 3.2l-28 1.8l0.3 3l-18.2 1.4l-1.1 0.1M597.6 523.1l0.6 3.9l-2.8 2.8l-1.9 1.8l-0.4 4.3l-1.8 4.4l-2.3 6.2l-2.5 4.4l0.3 4.3l-2.6 2.7l-3.2 5.3l-0.4 5.2l-4.6 5.4l-1.9 3.5l0.4 6.8l-1.1 6.1l0.8 2.5l1 5l3.1 5.9l-2.6 4.4l-4 6.1l-1.2 6l-1.5 6.9M524.1 534.5l35.5-1l25.1-1.3l1.3 3.3l-3.8 5.4l9.1-0.6M698.6 518.5l-0.3 4.2l-3.5 4.5l-4.6 1.4l-2.4 2.2l-4.6 1.9l-3.6 3.6l-4.5 3.1l-5 3.6l-3.7 3.9l0.1 3.5M683.1 548.2l-16.6 2.2l-17.6 2l-35.7 3.5l-29 2M683.1 548.2l4.1-1.9l5.2-2.8l18.5-2l0.3 1.7l1.5-1.1l2.8 4.4l15.2-2.2l18.2 13M683.1 548.2l-2.6 5.5l4.6 2.9l2.9 0.4l4.5 7.2l5.5 3.5l4.8 3.6l5.2 6.1l3.4 3.8l1.4 4.1l4.6 6.2l2.4 1.6l2 0.4M648.9 552.4l9.9 35.5l3.5 7.7l-0.1 5.1l-0.2 6.9l1.6 5l1.5 6.6M665.1 619.2l2.6 4.8l27.2-1.7l11.3-1.1l3 3l-0.5-6.5l6.1-0.4l2.5-0.2M665.1 619.2l-37.7 3.9l1.1 4.1l2.5 2.4l-0.5 3.4l-0.8 2.2M613.2 555.9l1.5 1.5l-0.9 32.7l-0.2 18.8l2.4 20.3l0.9 7.9M569 627l27.5-1.5l-1.3 6l2.4 3.3l2.5 4.4M533.2 593.8l41-1.1M570.9 360.8l3.8 3.8l12.2 2.6l3.7 1.6l8.4 1l0.2 2l3.7 1.8l-0.1 5.6l2.4-0.2l-0.4 2.6l1.4 1.6M707.7 418.5l0.8 4.6l34.1-6.4l20.3-4.3l3.8 2.6l3.8 5.3l2.8 1l-2.1 5l-1.3 2.9l-0.3 4.5l2.8 3.7l4.7 3.4l-0.9 1.9l-2.6 3.2l-3.2 3.4M765.7 451.7l0.9-1.6l1.1-0.9l1.6-0.2l1.1 0.3M765.7 451.7l5.8 21l8.4-1.8M771 481.2l3-0.3l4.9-2.4M773.3 421.3l11.3 3.7M787.7 424.2l-1.4-1.4l2.7-2.4l-1.2-1.5l-2.4-12.6l0.1-12.3l-3.3-14.1l-2-0.4l-1.4-5.8l-1.5-8.4l-2-8.5M785.5 394l9.7-2.1l14.1-3.1l0.4-0.8l2.5-3l2.1-0.6M785.4 406.3l20.8-4.7l5.1-1.3l0.5 2l1.2 1.8l2 1.2l1.8 2.7M806.2 401.6l1.9 6.9l0.4 4.9M795.2 391.9l-1.7-2l-0.1-5.8l-0.7-6l1.2-4.3l0.4-5.8l0.1-4.4l3.5-3.5l0.1-4.5l-1.1-4.2M814.9 380.8l-2.2-2.1l-2.7-2.5l-5.4-17.9l-4.1-13M796.9 351.4l-21.6 5.4l-15.8 3.9M182 282.9l-1.3 6.3l0.6 2.8l0.7 5.8l-0.4 4l-0.5 6l1.1 1.2l-1.3 2.3l0.1 1.8l-2.1 5.9l0.5 1.1l-0.5 3.9l-1.7 4.8l-1.8 5.8l-2.5 6.2l-2.2 5l-3 7.8l-3.3 7.7l-3.9 4.9l-2.7 4.7l-1.8 2.3l-0.3 6.9l-0.5 6.1l0.8 2l-1.1 4.2l-0.1 5.3l-2.8 6.1l-2.1 4.9l-4.2 4.3l-0.2 3.3l2.3 4.9l1.4 5.2l-1 5.2l-1.2 8.4l2.1 7.3l2.8 5.8l1 2.4l-1.8 2.7l3.2 1.9l2.5 3.3l-1.4 5l-0.1 5.3l2.2 4.5l3.4 1.5l0.4 2.8l-2.5 2.1l-1.2 5.8l2.3 4.5l1.5 3.8l2.5 4.9l3.1 5.8l-0.9 1.9l2.9 2.7l-1.4 3.9l-1.1 5.4l1.8 2.7l6.4 1.5l3.8 2.1l5 3.5l2.4 3.8l3 2.3l4.3 0.7l0.7 3.1l-0.7 1.6l3.2 0.6l2.9 3.5l2.6 3.1l3.3 5.5l0.2 6l-0.1 3.1l1.1 2.7M156.8 463.4l1.6 0.5l-0.6 1.6l0 1.8l0.7 1.3l1 1l0.8 1.1l0.9-0.7l-0.4-1.5l-0.5-1.5l0.1-1.6l-0.3-1.4l-0.2-1.5l-0.9-2l1.7-0.9l-1.7-1.2l-0.7 1.3l-0.8 1.3l-0.5 2M206.4 569.1l34.2 3.9l-2.1 3.6l23.7 14.3l25.8 14.7l41 5.9l1-7.6l24 2.9l2 1.1l2.2 4.7l3.4 2l4.5 5.5l8 8.1l3.7 7.2l2.1 10.4l1.7 1.7l4.4 4.4l3.7 1.2l5.6 4.5l3.6 1.3l4.8-3.9l3.2-8.6l5.7-2l5 1.7l8.1 1l5.6 5.7l4.6 6.2l2.2 6.9l2.7 7.7l3.6 2.7l4.3 6.9l3.6 3.5l0.5 7.6l2.6 3.5l2.4 6.8l4.3 1.5l4.8 2.6l4.1 2.6l6.6 0.5l4.6 3.1l5.4-1.4M487.6 713.5l-0.2-5.7l-1.9-8.4l-1-6.8l1.2-5l1.5-2.5l2.3-3l3.1-4.1l6.8-4.6l6.7-4.3l8.3-4.5l4.4-4l5.6-3.9l4.7-3.5l8.2-2.7M487.2 685.1l-1.2-0.6l-1-0.9l-0.8-1.1l1.4-0.3l0.9-1l1.1-0.9l0.8-1.2l1.2-0.8l1.1-0.8l1.2-0.8l1.5-0.8l1.2-1.2l1-1.4l0.7-1.1l0-1.4l0.5-1.3l0.4-1.2l0.6 1.2l1.1 0.8l0.5 1.4l1.2-0.6l1.1-0.7l1.4-0.2l0.9-1.1l1.4-0.3M524 656.3l-3-0.8l-0.8-5l2.9-1.4l1.5 3l3 1.6M537.3 650.5l1.6-0.1l1.5-0.1l1.3-1.2l1.7 0.6l1.4-0.9l1.2 0.9l1.6-0.8l1 1.3l1.5-0.6l1.1 1l1.5 0.4l1.5 0.2l1.5 0.5l1.5-0.4l1.5 0.3l1.4 0.7l1.5-0.4l1.4-0.8l1.6-0.5l1.5 0.8l0.8 1.5l0.2-1.4l-0.4-1.4l0-1.4l1.1 0.8l1.5-0.4l1.1 0.8l1.2 0.6l0.6 1.3l1.3 0.5l0.8 1.3l0.8 1.4l0.9 1.4l1.3 0.4l1.3 0.4l0.5 1.8l1.5 0.2l1.3-0.8l1.7 0.8l1.4-0.7l1.9-0.2l1.8 0.3l1.6 0.3l1.4-0.8l0.8-1l1.5-0.4l0.5-1.4l2.1-1.3l1.9 0.6l1.9 0.4l1.1 1.1l0.2 1.6l0.8 1.3l1 1.2l1-1.4l0.6-1.6l1.2 0.7l1.3 0.8l-0.2-1.4l0.6-1.2l1.4-0.9l-1.2-1l-1.7-0.1l-1-1.2l-1-1.2l-1.2-0.9l-1.5-0.7l-1-1.1l-0.9-1.5l-1.5-0.9l1.7-1l1.9-0.1l0.9-1.4l1.1-1.3l1.1-0.9l0.3-1.4l-1.8 0.6l-1.9 0.2l-1.5-0.2l-1.4 0.2l-1.5 0.3l0.6-2.3l2.2-0.1M597.3 640.7l-3.7 1.1l-5.9-0.5l-0.2-3.4l4.3-1.4l4.6 1.7l0.9 2.5M600.1 639.2l3.5-2.3l2.9-1.2l2.9-0.8l5.1 0.5l2.4 1.7l3.8-1.9l0.2-3l0.8-3.2l1.5 0.4l0.8 4.2l1.6 2.4l-3.2 0.6l4.7-0.7l2.6-0.7M629.7 635.2l3.1-1l1.9-3.3l2.3 0.7l3 0.9l4.4-0.5l6 0.8l5.4 2.3l5.6 3.3l1.1 3.8l5.3 0.6l4.2-2.2l4.7-4l1.9-3.3l3.7 0.1l4.8 2.8l4 2.5l2.1 3.8l2.5 1.9l1.8 2.7l4.7 1.5l1.3 3.3l1.6 6.1l-1.6 5l-0.2 4.2l2.5 3.6l1.3-2l0.6-3l1.7 1.4l-0.9 4.1l-2.6 2.4l2.9 3l2.3 3.6l3 3.6l2.8-2.4l1.5 4.9l-1.5 3.6l3.5-0.2l3.1 4.6l2.5 4.4l5.2 0l2.9 3.8l1.4 4l0.9 2.8l3.1-0.5l4.1-1.3l3.7-1.2l0.7-3.5l-0.2-3.3l1.3-3.1l0.3-6l-0.6-9.8l-1.3-4.1l-1.9-3.9l-3-4.1l-1.6-2.8l-4.1-6.7l-1.3-5.3l0.8-1.1l-2.7-5.4l-4.3-3.3l-2-3.1l-4.1-6.9l-1.6-3.7l-2.8-6.4l-1.6-6.8M748.8 704.1l-1 1.7l-0.3 1.9l-1.2 1l-0.8 1.4l-0.8 1.3l-1.5 1l-1 1.5l-1.4 0.9l-1.6 0.7l-1.3 0.9l-1.6 0.4l-1.4 1l-1.5 0.5l-1.5 0.5l-1.5 0.7l-1.6 0.2l-1.4 0.9M717.3 617.1l-0.1-3.2l-0.1-4l1.5-5.7l1-5.3l2.6-4.7l-0.4-0.7l2.4-2.3l2.7-3.5l1.7-3.2l2.5-2.2l2.9-2.7l3.2-4l3.2-1.8l1.8-3.8l1-6.2l1.8-3l3.9-3.5l3.3-1.5l4.3-0.1l0.6 0.3l1.1-6.3l3.3-5l4.7-4.5l5.3-1.9l2.7 1.2l2.1-5.7l3.4-3.7l3.6-3l2.2-1l-0.4-6.4l-1.7-3.2l-3.1-4.5l-2.7-4.7l-1.5-2.3l-2.4-4.8l-0.6-1.2M771.5 538.3l0.3-1.5l0.5-1.3l0-1.5l0.9-1.3l-1.6 0.1l-1.7-0.1l-1.6 0.1l1.8-0.8l1.2-1.5l0.8-1.8l-0.1-1.8l-1.6 0l-1.6-0.8l-1.7 0.7l-1.5-0.4l1.4-0.1l1.1-1.1l1.4-0.2l1.2-0.8l1.4 0l1.6 0.5l1.6 0l1.7-0.6l1.5 0.5l0.7-1.2l0.3-1.4l0.9-1.1l0.6-1.2l-0.2-1.6l-0.7-1.5l0.1-1.6l-1.4-0.4l-1.5 0.6l-1.5-0.2l-1.4 0.5l-1.4 0.7l-1.4 0.5l-1.4 0.2l-1.5 0.2l-1.5 0.3l1.5-0.8l1.1-1.2l0.9-1.4l1.3-0.5l1.3-0.5l1.3-0.3l1.3-0.7l0.5-1.4l-0.4-1.5l0.3-1.5M773.1 499l-1.4-0.1l-1.3 0.5l-1.4 0.1l-2.1-0.4l-1.1-1l-1-1.1l-1.2-0.7l1.4 0.5l1.5 0.8l1.5 0.4l0.3-1.9l-1.6-1.4l-1.1-1l-1.6-0.2l-1.2-0.9l-0.9-1.2l1.5 0.1l1.5 0.6l1.5 0.4l1.3 0.8l-0.6-1.2l0-1.4l0.1-1.3l-1.4-1l-1.2-1.1l-1.6-0.5l-1.3-0.9l-1.1-1l-1.2-1l-0.9-1.2l-1.3-0.9l0.9 1l1 0.9l1.4 0.3l0.9 1l1.3 0.5l0.8 1.2l1.5 0.2l0.9 1l0.5-1.4l-0.2-1.6l0.1-1.5l-1.4-2.1l-0.5-1.5l-0.9-1.3l-0.8-1.3l-1.5-0.7l-1.4-1l-1.4-0.9l1.6 0l1.4 0.4l1.3 0.8l-0.6-1.3l-0.8-1.2l-0.3-1.4l-1-1.1l-0.5-1.6l0.6-1.6l-0.1-1.6l-0.3-1.2l-0.1-1.3l-0.4-1.3l-2.1-0.4l1.3-0.4l1.1-0.7l1.3-0.6l1.1-1l1.1-1.2l-0.3-2.6l1.8 0.5l-0.8 1.4l-0.9 1.2l-0.8 1.4l0.3 1.5l-0.3 1.5l-0.1 1.6l0.1 1.6l1.1 1.2l1.3 0.9l-0.6 1.5l-1.2 1.2l1.5 0.7l1.7-0.2l-1 0.9l-1 0.9l-0.4 1.3l1.3 1.4l1.1 1.6l1.7 0.1l1.7 0.1l0.8 1.1l0.8 1.1l0.2 1.4l2.5 0.7l0.6 1.4l-0.2 1.5l-0.1 1.4l-1.4 1.4l-0.7 1.7l0.3 1.5l-0.5 1.4l0.2 1.5l1.1 2l0.8-1.1l1.1-0.7l-0.1-1.4l0.4-1.2l0.7-1.2l0.1-1.3l0.3-1.3l0.2-1.4l0.2-1.3l0-1.4l0.4-1.4l0.7-1.2l1-1l0.3-1.3l-0.1-1.5l0.8-1.3l-0.2-1.4l0.5-1.4l0-2l-0.7-1.4l-0.3-1.6l-0.3-1.5l-0.5-1.3l-1.4-0.6l-0.7-1.5l-1.4-0.6l-0.7-1.1l-0.8-1.1l-0.7-1.1l-0.2-1.5l-1.2-0.6l-0.7-1.1l-0.7-1.2l-0.7-2.5l0.7-1.5l0.8-1.4M770.4 449.3l-0.8 2.3l0 3.1l3.2 2.5l3.6 1.3l2.7-0.1l0.3 4.1l1.6-1.6l3.7-7.3l2.3-7.2l-0.4-3.4l-0.1-2.7l-0.1-3.4l-0.9-2.8l-3.2 0.5l0-2.6l1.9-1.7l0.4-3.6l0-1.7M784.6 425l-1.8-4.9l1.8 6.6l2.1 1.3l1-3.8l1.4-0.8l3.8-3.1l2.8-2.4l7-2.1l3.1-1.7l2.7-0.7l4.5-1.9l0.1-2.5l-1.1-5l1.9 2.1l0.5 3.4l1.6-0.5l0.8-1l2-2.3l2.6-3.2l0.8 3.7l4.2-3.1l3.9-1.8l-0.4-2.2l-1.4-3.2l-3.4-0.4l0.7 0.7l2.2 1.7l1.2 1.8l-3.5 1.8l-2.6 0l-2.6-2.4l-0.2-1.8l-1.8-2.1l-2.4-1.2l-2-0.3l0.8-2l0.7-1.1l2.3-3.2l-2.2-0.3l-1.2-1.8l-0.2-0.9l0.6-3.6M850.4 339.2l-1-1.1l-3-3.5l-1.6 0l-2.3-1.4l-1.4-4.6l-4.8-0.3l-1-4.3l-5.7-18.2l-2.3-1l-5.2-1.9l-2.4 2.7l-3.1 2.1l-2.2-1.5l-0.6-2.1l-2 0.1l-5.3 14.8l0.6 4.8l-1.7 4.3l1.7 4l-0.7 4l-3.1 6.7l0.3 2.6l-3.1-0.1l-3.4 2.3l-0.2 3.8M784.5 431.7l1.2 0.6l1.8-0.6l3.7-1.3l5.8-3.2l6.7-4.6l5.9-5.1l-2.7 2l-2.2-2.1l-3.8 4.1l-5.9 1.5l-5.1 2.1l-2.7 2.3l-2.1 1.3l-0.6 3M821 409.6l2.2-3l2.2 0.9l0 0.8l-3.2 1.8l-1.2-0.5M828.7 408.7l1.6-2.4l1.7 1.6l-1.6 1l-1.7-0.2M759.5 360.7l-2.3 0.9l-4.1 3.5l-1.9 2.7l-3.5 6.9l-4.5 4.8l2.4 2.6l1.4 6.7l-3.3 2l-5.4 4.5l-7.2 1.6l-11.3 0.4l-6.5 3.1l0.9 2.6l2.3 3.4l-4.4 7.4l-4.4 4.7l-3.8 2.8l-4.7 3.7l-3.3 1.9l-5.8 3.5l-4.4 5l-6.1 1.5l-6.3 1.2l-0.6-1.5l-2.7 0.8l-3.3-1.5l-3.4-1.2l0.9-3.1l2.4-2.9l-0.2-3.8l2.3-2l0-4l3.7-0.5l0.4-3.5l0.3-3.5l-2-4.4l-1.7-5.4l-1.2-4.2l-4.4-3.1l-4.2 3l-3.6 5.8l-2.5-0.2l-1-3.3l2.6-3.5l2.5-4.1l1.1-3l-0.5-6.5l-2.1-4l0-2.6l-1.3-2.4l-3.9-0.7l-5.2-2.9l-3.3 0.1l-3.3-1.9l-3.5 3l1 3.3l0.7 1l-3.6 1.2l-1.2 2.2l0.1 5.1l-2.1 2.5l1-3.5l-1.6-3.8l-1.7 3.3l-3.4 2.4l-1.4 4.7l-0.6 6.6l-1.9 3.6l0.4 6.8l3.2 6.9l2.5 7.6l-0.3 6.4l-2.3 5.4l-2.6 5.4l-1.7 1.6l-3.6 2l-2.6 0.3l-1.7-1.3l-1.2-2.9l-1.1-2.9l-2.4-5.2l0.1-2.3l-0.4-4.2l-1.4-4.7l-0.4-6.3l1.6-6.1l0.1-6l1.1-1l0.1-5.3l0.7-2.4l1.2-3.6l2.6-5.3l0.8-3.5l-1.7 1l-1.6 2.3l-1.4 4.4l-3.9 4.1l-2.8 2.3l0.3-3.7l1-2.7l2.7-3.6l2.5-5.4l3-6.2l1.1 1.2l2.9-3.3l2.2 4l0.8-3.5l2.1-2.7l4.2 0l5-3.4l5.5 0.9l3.5 1.8l4.2-2.2l5.3-0.7l-3-4.4l-3.4-3.8l-2.9 0.8l-5 0.1l0.4-4.6l-6.3 2.2l-5.6 0.6l-4.7 2.7l-2.7 2.5l-4.2-1.4l-4.8 0.1l-4.2-4.4l-5.6-1.2l-2.7 2.9l2.3-7.5l3.2-3.7l2-0.5l-1.9-0.7l-3.1 0.5l-4.9 3.9l-3.8 4.6l-4.1 2.5l-5.6 1.2l-2.7 2.7l-4.3 2l-5.4-0.2l0.8-3.5l0.4-2.5l-5.2 1.6l-2.2 1.6l-7.2 1.7l-1-0.8l4.8-4.8l4.4-4.9l4.9-4.8l5.6-3.4l7.2-4l2.1-0.8l-5.9-1.3l-8.6 0.5l-1.2-2.5l-6.2 3.4l-1.7-0.5l-5.3-3.1l-3.5-0.7l-2.4-1.6l-5.7-2.6l-4.6 0.4l-4.5 1.3l-5.2-2.2l-4-0.8M649 362.8l4.8 0.2l-1.5-2l-3.3 1.8M583.7 338.3l8.2-6.2l-1 2.2l-7.2 4M189 288.7l-5.6-5.2l-1.4-0.6M203 278.3l0.4 0.5M206.5 279.3l-0.7 1.6l0.6 1.2l0.3 1.5l1.4 0.6l-1.3 0.9l0.2 1.8l-1.1 1l0.1 1.6l-0.2 1.7l1.1 1.4l1 1.5l-1.1 1.9l0.9 1.5l-0.6 1.3l-1.3 0.7l-0.1 1.6l-1.2 0.8l-0.6 1.2l-0.1 1.5l0.6 1.4l-0.8 1.4l-1.8 0.9l-1.6 0.1l-1.6 0.4l-1.3 1.1l-1.5 0.5l1-1.2l1.8-0.5l0.6-1.7l0.8-1.3l1.6-0.6l0.4-1.6l0.4-1.5l0.5-1.4l0.5-1.4l0.8-1.3l-0.8 1.7l-1.6 0.8l-1.5 0.8l-1.1 1.2l-1.1 0.9l-1.7 0l-1.2 0.8l0.9-1.2l0.3-1.6l1.1-1l2-0.2l0.4-1.7l0.6-1.3l1.3-0.6l1.2-0.6l-0.5-2.3l-0.8-1.4l-2 0.6l-0.8-1.3l-1.9 0l-2-0.3l-1-1l-1.7 0.8l-1.2-0.6l-0.6-1.9l-1.5 0.2M204.9 289.4l-1.3 1.3l-0.8 1.6l0.8 1.2l0.1 1.4l0.4 1.3l1.4 1.3l-0.6-1.4l0.9-1.5l-0.2-1.4l-0.9-1.2l0.2-2.6M200.3 284.6l1.2 1.2l-0.2 1.7l2.2 0.6l0.7-1.5l0.8-1.6l-2-1.4l-1.2 0.9l-1.5 0.1M814.6 378.6L814.6 377.4L815.9 376.5L816.1 375.4L814.8 373.9L816 373L815.9 371.8L816.5 370.9L817 370L817.8 368.9L819.3 368.8L820 367.5L821.3 367.6L821.4 365.9L822.4 365.6L822.6 364.1L823.9 364.3L825 364L826.7 364L826.4 362.3L827.3 361.5L828.1 360.8L828.7 359.8L830 359.4L830 358L830.3 356.7L831.2 356L833.2 356.4L833.2 354.8L834 354L835.6 354.6L835.1 352L837 353L837.4 351.6L838.2 351.1L839.8 351.5L840 350L840.1 348.5L841.7 348.7L842 347.4L843 347L844.8 347.4L845 346L845.5 345L847 344.9L846 342.6L848.9 343.7L849.5 342.8L849.6 341.5L849.2 339.7L850.6 339.5"/><g style="fill:none;stroke:#5a5a5a;stroke-linecap:round;stroke-linejoin:round"><path d="M203 283.5l2.5 3l-1.5 3" stroke-width="5.5"/><path d="M204.5 290l-.6 8" stroke-width="3.6"/><path d="M203 299.5l-2 4l-2.6 5" stroke-width="4.6"/><path d="M190 549.6l1.2 2M188.6 558l1 2.2" stroke-width="2"/><path d="M168.9 533.6l3 .4l2 1.6l3 .6l2.6 1M176 549h.5M183.5 547.3h.4" stroke-width="1.3"/><path d="M828 360.5l4.5-5l5-4l4.5-3.5" stroke-width="2.4"/></g></g>
<path class="d" d="M1109.2 282.8h0m-2.6 16.8h0m2-3.7h0m4 0.9h0m2.3-1.5h0m3.4 1.7h0m-19.2 3.8h0m3.8 4.5h0m0.6-5h0m0.7 5.5h0m0.7 0h0m0.6-0.4h0m0.5-0.8h0m1.3-1.1h0m0.3 1h0m0.7-1.5h0m0.6-1h0m0.8 3.9h0m1.3-3.3h0m0.4 2.9h0m1-3.6h0m1.3 1.1h0m1.1 2.3h0m0.6 2.1h0m2.1-1h0m-24.6 7.2h0m7.2 0.9h0m2.2-5.9h0m0.6 5.2h0m1.1-3.5h0m1.6 5h0m1.2-6.4h0m0.3 5.3h0m1.1-6h0m0.6 4.2h0m0.6-3.8h0m1.1 2.2h0m0.3 1.9h0m1-3.7h0m1 1.6h0m1.1-1.4h0m13.2 4.4h0m-26.5 2.9h0m6 0.3h0m55.7 0.9h0m-74 13.5h0m33.1-5.6h0m42.5 5h0m-78.6 4.6h0m3.1 0.1h0m2.1 1.5h0m0.6-0.8h0m1-1.3h0m1.1 1.5h0m0.9-1.1h0m1-1.4h0m0.7 1.1h0m0.1 0.3h0m0.6 2.3h0m1.1-4.8h0m353.8 3h0m-362.5 6.9h0m5.7 1.5h0m7.3-3.4h0m-19.1 8.2h0m409.4 1.7h0m229.5 2.3h0m-628.6 5.4h0m581.6 4.2h0m-593.8 4.3h0m401.8 3.1h0m199.4-3.6h0m13.8 2h0m19.6 0.2h0m1.4 2h0m-565.4 7h0m339.2-2.8h0m201.1-0.8h0m23.1 1.5h0m-556.9 12h0m275.9 0h0m1.3-1.2h0m2.1-0.8h0m0.7 2.2h0m2 0.3h0m0.8-1.4h0m0.6 0.7h0m68.7-1.8h0m167.4 1.3h0m5.6-6.5h0m18.1 6.3h0m2.1 0.5h0m4.6-2.7h0m4.2 3.7h0m1.7-0.3h0m1.7-1.2h0m-637.6 1.7h0m197.7 4.4h0m157.1-3.8h0m1.3 0.5h0m1.1 1.7h0m0.3-1.1h0m0.6 0.7h0m1.2 0.5h0m1.7-0.6h0m1.6-1.9h0m0.3 1.5h0m0.8 0h0m1.4 1.5h0m1.3 3.2h0m56.5-1.6h0m145.2 2h0m3.1 0.7h0m5.7-4.7h0m2.3 2.7h0m3.4 1.2h0m16 0.6h0m24.5-0.4h0m3.4-6.6h0m1.6 4.6h0m0.7 2.7h0m0.8 0h0m0.6-3.1h0m0.3-0.1h0m0.5-0.9h0m0.2-2.1h0m0.1 5.3h0m0.5-1.8h0m0.6-0.3h0m0.4 1.6h0m0.2 0.6h0m0.4-1.9h0m0.1 1.7h0m0.5-0.2h0m0.3 0.2h0m0.3 0.1h0m0.2-3.4h0m0.3-0.5h0m0.1-0.8h0m0.1 3.9h0m0.3-3.5h0m0.2 3.7h0m0.3 0.7h0m0.2 0h0m0.1-1h0m1.1 1.7h0m0.6-1.3h0m1-3.9h0m8.9 5.2h0m-394.6 5.3h0m165.3 0.5h0m119.7 0.5h0m11.5-2.8h0m0.8 1.5h0m0.9-3.7h0m1.2 1.2h0m0.7 3h0m0.8-3.6h0m1.1 1.8h0m5.8 2.8h0m7.8-4.2h0m1.8 4.8h0m0.8-6.9h0m1.3 2.4h0m1.1 0h0m5 0.6h0m18.8 0.7h0m0.4-1.9h0m1 1h0m0.5-0.9h0m1.1 2.1h0m1.1-0.8h0m7.8-0.5h0m6 0.2h0m0.9 5h0m1.1-0.4h0m0.4-2.6h0m0.5 2h0m0.5 0.2h0m2.2-0.4h0m3.1-5.1h0m1.4-1.1h0m1.9 2.2h0m2 0.8h0m1.2 4.4h0m0.6-1.2h0m1-6.7h0m0.7 7.9h0m0.4-1.1h0m0.3-4.3h0m0.4 4.8h0m0.2 0.3h0m0.4-6.2h0m0.6-0.4h0m0.6 2.8h0m0.2-1.6h0m0.8-0.8h0m0.3-0.1h0m0.4 4.6h0m0.6-1.8h0m0.5 2.1h0m0.5-5h0m1.5 0.4h0m1.8-0.7h0m3.9 5.8h0m2-1.1h0m-623.9 7.7h0m296.2 1.3h0m48.6-5.9h0m104 3.3h0m3.9-2.5h0m60.6 5.4h0m1.2-0.7h0m0.4-3.4h0m0.4 3.8h0m0.5 0.2h0m1.1-4.3h0m0.6 3.3h0m0.8 1h0m0.5-4.8h0m0.8 1.8h0m13.1-3h0m19.7 6.2h0m19.4 0.3h0m2.3-0.3h0m4.6-0.5h0m2.8 1.5h0m25.6-7.3h0m0.7 3.7h0m0.6-3h0m0.7-1h0m2.7 1.7h0m0.7 1.9h0m-666.5 5.1h0m31.6 1.5h0m23.5 1.8h0m370.5-1.2h0m11.3 1.9h0m6.1 2.8h0m10-4.3h0m2.7 1.6h0m1.1 1.4h0m1 0.8h0m24.4-0.2h0m1.4-1.4h0m2.8-2.7h0m1.2 3.4h0m18.8-6.4h0m3.6 6h0m0.9-6.1h0m1 4.8h0m2.7 1.6h0m2.2-0.6h0m1.2-1.6h0m2.4 1.6h0m0.9 0.7h0m74.9-3.1h0m27-0.2h0m5.2 3.1h0m2.3 0.4h0m4.3-6.1h0m0.9 3.4h0m1.2 0.3h0m1.4 3.6h0m-583.3 3.3h0m308.2 4.3h0m90.2-7.4h0m2.2 1h0m0.7 3.2h0m0.9-4h0m1.6 6.6h0m38.4-2.8h0m3.1-2.8h0m5.6 6.2h0m4.3-6.5h0m0.8 3.6h0m1.5-3h0m0.5 0.2h0m0.6-0.4h0m0.4 5.7h0m0.4-2.3h0m0.6-2h0m1 1.2h0m0.4 0.8h0m0.5-4.5h0m0.5 5.2h0m0.3-1.5h0m1 0.7h0m33.4-1.3h0m44.2 3.5h0m17-4.7h0m12.2 5.3h0m1.4-7.4h0m1.9 7.8h0m0.6-1.1h0m0.5-0.1h0m0.4-1.9h0m0.3 3.1h0m0.2-2.2h0m0.7-1.6h0m0.4 2.1h0m0.5-3.9h0m0.4 3.3h0m0.6-0.4h0m0.3-3.5h0m1 2.3h0m0.2 3.5h0m0.2-5.4h0m0.2 0h0m0.1 4h0m0.5-3.7h0m0.3 4.9h0m0.2-6.9h0m0.2 6.4h0m0.7-0.2h0m0.4-4.9h0m0.1 3.2h0m0.5-2.5h0m0.5 0.8h0m0.9 3.9h0m0.4 0.6h0m0.7 0.2h0m0.6-0.7h0m0.6 0.5h0m1.6-0.3h0m0.9-2.7h0m1.3 0.6h0m1-1.3h0m0.3 0.1h0m0.6 0h0m0.5-0.6h0m0.2 1.1h0m0.5 1.1h0m0.4-0.2h0m0.3-1.4h0m0.1 0h0m1.3-1.4h0m1-0.7h0m1 2.6h0m0.8-1.6h0m1.3-0.6h0m-650.4 13.4h0m49.5-4.1h0m104.4 3.4h0m240.9-5.2h0m41.3 0.2h0m2.2 2.4h0m11.6-1.7h0m1.6 0.9h0m1-0.3h0m1.3 1.1h0m1.9 2.9h0m2.2 0.2h0m22.8-6.5h0m17.1-0.2h0m9.8 6.3h0m23.9 0.4h0m0.9-1.3h0m1.5 1.4h0m4.5-4.8h0m63.5-1.5h0m8.2 5.1h0m2.4-5.9h0m1.7 0.8h0m2.7 0.2h0m3.9-0.3h0m0.9 0.8h0m0.2-0.5h0m0.7-0.8h0m0.2-0.3h0m0.4 1.5h0m0.2 2.9h0m0.6-0.5h0m0.3-1h0m0.2-1.1h0m0.5 0.3h0m0.5-1.1h0m0.2-1.3h0m0.7 5h0m0.5 1.1h0m0.2-1.6h0m0.2-0.6h0m0.3 3.2h0m0.3-7h0m0.1 6.8h0m0-4.2h0m0.2 4.9h0m0.1-4.5h0m0.4 3.9h0m0.3-5.9h0m0.2 2.8h0m0.1 0.1h0m0.4-3.1h0m0.3 4h0m0.1-2.1h0m0.2-0.2h0m0.3-1.7h0m0.4 0h0m0.4 0.9h0m0.2-1.6h0m0.4 1.4h0m0.2-0.2h0m0.2 4.1h0m0.3-2.6h0m0.7-2h0m1 0.4h0m0.2-0.5h0m0.5 0.5h0m0.5-0.6h0m0.2 1.1h0m0.6-1.8h0m0.1 0.5h0m0.4 1.5h0m0.8-0.2h0m0.7-1.3h0m-591.6 8.8h0m100.3 1h0m3.2 4.9h0m231.4 0.4h0m24.1 0h0m41.4-5.8h0m0.8 2.7h0m2.3-2.4h0m0.8-1.6h0m1.2 4.9h0m0.9-2.3h0m1.1 0.7h0m0.7-0.8h0m0.6 0.6h0m0.6 4.1h0m0.2-4.7h0m0.6-2.7h0m0.3-0.1h0m0.6 2.1h0m0.3 3.3h0m3.3-0.6h0m9.7-1.4h0m2.6 2.6h0m3.7-1.6h0m25.1-0.8h0m1.8-3.5h0m2.7-0.2h0m19.7 3.7h0m3.8-2.6h0m2.4 1.5h0m0.3 3.5h0m0.2-1h0m0.6-4.5h0m0.5 3.1h0m0.5 0.1h0m0.6-1.5h0m1.3 4.2h0m7.8-3.5h0m1.9-2h0m33.5 1.9h0m16.4 1.4h0m2.9 1.4h0m9.3-2.2h0m1.1-1h0m0.2 5h0m0.3-2.9h0m1.8 1.5h0m0.3-0.4h0m0.8 1.3h0m0.4-0.3h0m1.5 0.8h0m0.5-0.2h0m0.9-1.1h0m0.3-1.5h0m0.4 1.4h0m0.5-0.6h0m0.5 0.6h0m0.5 0.6h0m0.5 0.5h0m0.6 0.4h0m0.5-0.4h0m0.3-1.9h0m1.5 1.6h0m0.5-6.5h0m0.5 4.2h0m0.4-1.1h0m0.4-1.9h0m0.3 2.2h0m0.2-2.1h0m0.3 4.2h0m0.8-2.1h0m0.4-3.5h0m0.6 3.2h0m0.3-3.2h0m0.4 2.8h0m0.7-2.7h0m0.5 4.3h0m0.2-1.8h0m0.2 0.2h0m0.1 3.7h0m0.3-4.5h0m0.4-1.3h0m0.5 1.2h0m0.7 2.5h0m0.7-3.4h0m0.9 4.5h0m0.5-4.6h0m-631.1 11.5h0m1.7 1.7h0m7 0.3h0m7.2-0.4h0m20.3-0.5h0m107.9-2.4h0m0.2-0.7h0m1.1-2.8h0m1.5 3.3h0m1.1-0.4h0m1.9-1.6h0m111.5 6.4h0m87.8-0.2h0m1-0.5h0m30.2-4h0m26.6-2.4h0m12.3 1.3h0m31.4 0.5h0m2.8 3.6h0m4.4-5.9h0m1.3 0.5h0m1.5 0.5h0m26.5 4.1h0m1.7-4.6h0m29.4 3.7h0m16.5-1.8h0m13.6 1.3h0m3.5 2.1h0m1.6-3.5h0m1 2.3h0m0.8-0.3h0m1.5 2.4h0m0.4-1.4h0m0.2-0.1h0m3.1-1.8h0m13.2-3.7h0m21 1h0m1 6.2h0m2.1-6.8h0m3.5 5.4h0m3.4-5.5h0m3.8 1.2h0m0.9 3.3h0m1-1.3h0m1.3 1h0m0.6-0.7h0m0.7 2.9h0m0.1-6.6h0m0.3 1.9h0m0.5-0.1h0m0.5 0.4h0m0.4-0.6h0m0.6 0.6h0m0.4 1.8h0m0.6-1.2h0m0.4-0.3h0m0.2 4.5h0m0.5-6.3h0m0.7 1.2h0m0.3 0.8h0m0.1 3.3h0m0.2-1.5h0m0.6 0.9h0m0.3-2.6h0m0.7 3.6h0m0.5-4.3h0m0.3 1h0m0.1-0.1h0m0.4-1.3h0m0.4 3.1h0m0.4-2.3h0m0.3 1h0m0.5 4.1h0m0.6-5.1h0m1.2-1h0m0.4 6h0m0.2-1.6h0m0.7-2.2h0m1 3.8h0m0.4-3.8h0m0.2-0.4h0m0.7 4.2h0m2.2-3.8h0m-633 6h0m1.2 4.3h0m1.8-5.8h0m2.1 6.4h0m4.3-1.9h0m1.5-3.5h0m1.3 4.9h0m2-1h0m2.8 1h0m1-1.5h0m0.9-1h0m0.7-1.8h0m0.3 0.1h0m0.4-0.3h0m1.2 3.7h0m0.3 2h0m0.3-2h0m1 1.1h0m0.7-5h0m0.3 3.7h0m0.8 0.5h0m0.6-0.5h0m126.6 2.6h0m86.2-3.9h0m109.5-3.2h0m1.3 0.9h0m2.9-1.4h0m77.8 6.2h0m4.5-0.2h0m57.5 1.8h0m28.4-0.2h0m34.3-7.8h0m1.7 0.5h0m1.6-0.3h0m27.3 0.6h0m4.4 5.4h0m8.6-4.9h0m2.4 5h0m0.7 0.8h0m0.9 0.2h0m0.7-3h0m0.4 1.8h0m0.5 0.2h0m0.3 1.5h0m0.6-4.1h0m0.7 4h0m1.2-1.4h0m3.4-3.8h0m4.1-1.6h0m0.6 3.4h0m0.4 0.3h0m1.2-2.3h0m4.1 1.9h0m0.9-1.7h0m2 0.2h0m0.5 1.6h0m1.3-1.8h0m1.2 4.4h0m0.5-3.8h0m0.3-0.1h0m0.7 5h0m1.3-5.3h0m0.6-0.7h0m-627.1 6.8h0m1 6.4h0m0.2-2.4h0m0.5 2.9h0m0.3-4h0m0.2 2.9h0m0.5 1.2h0m0.6-0.9h0m1.2-1.9h0m0.6-0.2h0m0.8 3.1h0m0.5-3.4h0m0.4 0.3h0m0.6 0h0m0.7-1.2h0m0.5-1.2h0m0.7-0.5h0m0.3 1h0m0.4-1.7h0m0.3 0.4h0m0.6-0.1h0m1.2 3h0m2.4 1.7h0m3-5.9h0m2.8 2.9h0m1.6 4.1h0m207.2-4.9h0m7.7-1.7h0m100.8 0.8h0m88.8-0.8h0m39.7 1.9h0m16.4 0.1h0m8.3 3h0m15.8-0.1h0m8.6-0.8h0m0.4-0.8h0m0.9-3h0m0.4 0.6h0m1.3 0.4h0m0.4 2h0m0.4-1.4h0m0.4 2.4h0m0.6-0.3h0m4.7-4.6h0m47.9 1.4h0m10.1 1.8h0m3.3 3.4h0m4.5-3.5h0m0.7-2.4h0m1.1 4.4h0m0.7 1.2h0m0.3-1h0m0.4 1.6h0m0.9-2.3h0m0.6-1.6h0m0.5 3.2h0m0.3-3.1h0m0.5-3.1h0m0.1 2.7h0m0.3 2.7h0m0.1 2.3h0m0.8-5.9h0m0.4 0.6h0m0.3-1.9h0m0.7 5.8h0m0.7 1.2h0m0.5-6.5h0m0.3 0.9h0m0.4-0.5h0m0.3-1.3h0m0.2 6.4h0m0.3-5.8h0m0.1 6.9h0m0.7-0.4h0m0-6.9h0m0.4 2.7h0m0.4 0.7h0m0.7 2.2h0m11.4-2.9h0m2.7 3.8h0m1.8-0.9h0m-620.5 3.8h0m2.4 1.5h0m0.5 3.3h0m0.6-3.8h0m1 1.3h0m0.6-2.6h0m1-1h0m0.1 6.5h0m0.8-5.5h0m1.5-0.5h0m0.5 5h0m0.4-5.5h0m0.3 4h0m0.9 2.2h0m1.4-1.6h0m4-2.9h0m3.3-1.4h0m2.9 2.4h0m208 1.1h0m1.5-4h0m1.6 5.6h0m0.8 0.3h0m0.8-1.2h0m1.4 0.5h0m0.3 0.7h0m0.4-0.6h0m0.8-3.2h0m3 4.3h0m1.5 0.3h0m4.5 0.5h0m167.8 0.1h0m36.7-3.5h0m20.2 0.1h0m4.7 0h0m0.4-3.7h0m1.1 2.6h0m0.7 2.5h0m0.3 0.4h0m0.4-4.4h0m0.7 2.8h0m19-2.1h0m1.1 5.5h0m0.6-1.3h0m0.2-4.3h0m0.7 1.4h0m1.4-3.5h0m0.6 0.1h0m24.4 7.7h0m30.5-2.2h0m33.1-1.9h0m1.2-0.1h0m0.4 0h0m0.6 2h0m0.5-5h0m0.2 3.3h0m0.3-1.2h0m0.6-2h0m0.4 0.7h0m0.6-1h0m0.4 0.9h0m0.1 0.4h0m0.3 0.2h0m0.2 0.3h0m0.2-0.6h0m0.2 0.4h0m0.3-0.4h0m0.3-1.7h0m0.2 2.1h0m0.3 0.4h0m0.8 2h0m0.3-4h0m0.4 3.2h0m0.3-0.4h0m0.9 3.4h0m0.6-5.8h0m1 0.7h0m3.3 4.4h0m3.8-6h0m9.1 6.5h0m0.7-5.2h0m-616.6 7.6h0m1.5 1.2h0m1.4-1.8h0m2.4 0.9h0m1.1 1.5h0m1.7-2.6h0m6 6.9h0m15.5 0h0m194.9-6.3h0m2.3 1.6h0m2.5-1.4h0m8.5-0.1h0m5.5-0.5h0m184.6 1.4h0m30.6 2.1h0m19.1-2.7h0m15.5 2.3h0m1.3-1.3h0m0.5 0.2h0m0.7 0.9h0m1.1 0h0m0.6 1.8h0m1.4-0.3h0m0.7 2.8h0m32.4-4.2h0m58.4 1.2h0m12-4h0m11.6 1.5h0m-608.3 6.6h0m12.1 4.6h0m11.4 2.5h0m1.6-2.8h0m8 2h0m153 0.7h0m43.9-0.6h0m4.8-2.1h0m120 3h0m2.2-2.9h0m2.4 2.2h0m1.9-2.3h0m1.2-2.7h0m0.6 4.6h0m0.5-5h0m1.3 5h0m0.9-1.1h0m53.8 1.9h0m68-7.5h0m35.2 5.6h0m9.1-0.9h0m33.4-4h0m7.7 1.9h0m14.6 4.6h0m2.8-0.3h0m-589.2 3h0m21.3 0.6h0m5.6-1.3h0m11.1 4.6h0m192.3-5.5h0m113.5 1.8h0m9.5-0.3h0m1.1-1.4h0m5 0.5h0m1.6 1.7h0m0.6-1.8h0m1.5 0.4h0m23.8-1.1h0m22.4 2.7h0m1.5-1.4h0m1.3 1h0m0.4 3.8h0m0.4-0.5h0m0.8-2.2h0m0.6-1.1h0m0.5 2.3h0m0.2-1h0m0.4-0.7h0m0.1 3.1h0m0.2-3.4h0m0.4-0.2h0m1.6 3.7h0m0.4 0.8h0m4.2-2.1h0m51.8 1h0m0.7-0.5h0m0.3 1.4h0m1.1-1.8h0m0.4-1.8h0m1 3h0m0.2-1.8h0m0.9 2.5h0m1.3-0.4h0m14.4 1.2h0m70-1.5h0m10.1-3.7h0m10.2-0.4h0m0.6-0.7h0m1.3 0.7h0m0.2 3.2h0m0.1-5.4h0m0.1 6h0m0.5 0.9h0m0.7-1.5h0m0.9-0.7h0m11.2 0.7h0m0.3 1.9h0m0.8 0.4h0m0.4-2.1h0m0.4 0.4h0m1 0.7h0m-600.5 8.2h0m71.2 0.6h0m5.1-3.1h0m1.2-1.7h0m3.7 1.8h0m3.3-0.6h0m0.9-0.6h0m1.1 4.7h0m3.7-0.1h0m137.8-5.4h0m181 1.3h0m7.9-2.9h0m16.5 3.9h0m16.5 0h0m39.4-4.5h0m1.9 0.1h0m26.6 2.1h0m33.7 0.8h0m1.4 1.3h0m28.4 0.9h0m6 1.1h0m4.8-1.4h0m6.9-0.6h0m1.9-0.1h0m0.3-2.7h0m0.2-0.1h0m0.5-0.7h0m0.4 1.8h0m0.9 2.6h0m0.5-0.9h0m0.1-2h0m1.1-0.1h0m1.4 1.3h0m-596.1 5.4h0m11.8 3h0m14-0.8h0m35.6-2.3h0m1.7 6.4h0m2.1-6.6h0m1.1 0.3h0m1.6 0.5h0m1.1-0.6h0m1 6.9h0m2.5-1.3h0m1.7-1.9h0m1.7-0.8h0m2.8-0.5h0m0.7-0.1h0m1.7 0.9h0m223.4 0.6h0m2.7-1.1h0m64.5 3.5h0m71.9 0.1h0m64.2-2.8h0m36.9 1.5h0m6.6 1.1h0m8.3-3.9h0m6.6-3.1h0m9.5 6.1h0m8.8 0.5h0m-594.2 8.9h0m20.5 0.2h0m10.1-2.6h0m3.7-0.1h0m3.4 2.9h0m22.1-2.1h0m12.2-3.8h0m2.6 5.7h0m1.5-2.2h0m2.8 1.6h0m3.2 0.4h0m0.3-6.3h0m1.9 4.4h0m3.2-2.8h0m0.5 2.6h0m2.6-4.2h0m52 5.3h0m175.6-5.9h0m53.9 3.7h0m2.6 1.9h0m61.9 0.9h0m30.9-1.2h0m50.2 1.1h0m8 0.1h0m23-0.8h0m1-1h0m1.2 0h0m0.5 1.6h0m3.1-6.6h0m1.3 1.1h0m0.9 3.4h0m0.4 0.7h0m0.2 2.2h0m1.6-1.5h0m0.3 0.9h0m2-1.3h0m5.7 0.5h0m1.5-0.5h0m1-2.4h0m0.3 0.5h0m0.7 0.9h0m0.5 0.4h0m1.7 2.3h0m0.6-1.3h0m2.2 1.2h0m8.3-3.8h0m3.9-0.6h0m4.4 4.8h0m-593.5 0.4h0m12.3 1.4h0m9.8 5.9h0m0.4-2.1h0m0.4-4.4h0m0.9 6.4h0m0.8-5.3h0m0.9 1.1h0m0.2-3.3h0m0.4 3.7h0m1.6-3.5h0m0.6 7.4h0m0.8-7h0m1.7 5.1h0m0.3-3.7h0m1.2 0.8h0m0.5 0.9h0m0.5 0h0m0.3 4.2h0m0.1-7h0m0.9 1.1h0m0.9 5.8h0m1.1-1.4h0m1.2-6.1h0m1.2 0.8h0m0.6 4.6h0m0.6-3.9h0m1.1 2.7h0m0.3 1.3h0m2.2 0h0m8.2-1.2h0m12.1 0.6h0m7-3.6h0m10.5 0.5h0m68.8 4.1h0m218.5-0.1h0m85.8-0.3h0m7.8 1.9h0m3.2 0.2h0m31-3.5h0m6.8 1.9h0m32.2-1.4h0m9.8 2.5h0m5.1-6.7h0m2.1-0.6h0m6 0.9h0m1.8-0.9h0m11.7 1.4h0m1.3-1.1h0m1 2.6h0m1.6-2.7h0m1.2 0.7h0m0.3-0.3h0m3.1 4.5h0m2.4 2.7h0m2.4-5.6h0m1.2 1.6h0m6.7-2h0m1.9-1h0m-580.8 7.3h0m4.1 1.4h0m3.3 3.3h0m0.8-4.3h0m1.9 1.9h0m1.5 0.1h0m1.8-2.2h0m1.6 1.2h0m3.7 1.8h0m1.4 3.4h0m0.8-3.3h0m0.7 1.1h0m0.3 0.5h0m0.7-4.6h0m0.5 6.5h0m0.6-3.2h0m0.7 2.5h0m0.5-3.8h0m0.7 3.7h0m0.4-1.6h0m0.2 2.2h0m0.6-2.8h0m0.4-2.9h0m4-0.4h0m14.2 3.8h0m5.9 2.9h0m15-5.4h0m4.5-0.1h0m116 4.3h0m135.4 0.4h0m3.4 1.1h0m22.3-3.4h0m42.7 1.5h0m55.9-3h0m0.7-1.8h0m0.6 2.8h0m0.5-3.5h0m0.9 0.9h0m0.9 4.2h0m0.9 2.3h0m0.7-0.6h0m0.3-1.4h0m1.6-0.4h0m1.8 1.5h0m30.9-6h0m3.7-0.6h0m17.4 2.7h0m1.6 4.6h0m9.8-6.4h0m9 4.7h0m1.8 1.7h0m1-1.9h0m1 0.1h0m2.2-1.5h0m0.7 3.4h0m0.4 0.2h0m1.4-4.6h0m17.6-2.8h0m4.6 5.4h0m0.5 1.9h0m0.6-1.6h0m1.7-0.8h0m1.6-0.2h0m8.6 0h0m8.2 1.8h0m10.9-1h0m-570.6 3.6h0m0.6 2.2h0m0.6-2.6h0m0.8 4.7h0m0.7 1h0m0.4-5.2h0m0.7 0.5h0m0.2 5.1h0m0.6 0.6h0m0.1-0.1h0m0.4-4.1h0m0.1-2h0m0.9-0.5h0m0.2 6.5h0m0.6-5.5h0m2.8 5.6h0m10.2-6.3h0m15.7 1.2h0m47.5-1.5h0m82.5 4.1h0m78.3-3h0m58.7 0.3h0m0.8 3.2h0m0.8 0.2h0m1.3-3.1h0m1.8-0.9h0m21.5-0.9h0m47.6 2.1h0m27.3 1.4h0m28.4 0.7h0m20.7 2.3h0m3-1.1h0m35.7-0.2h0m1.1 0.4h0m0.5 1.3h0m3.5-0.9h0m2.2-0.1h0m8.1-6.5h0m1.3 2.8h0m3-2.4h0m1.7-0.2h0m2.4 2.9h0m0.7 1.6h0m11.7-3.5h0m3.6 1.2h0m7.3-2.8h0m8.3 6.4h0m-547.1 5.5h0m1.1-3.3h0m0.5 3.1h0m0.4-0.9h0m0.3-1.3h0m0.3-1h0m0.6 4.6h0m0.7-3.1h0m0.2-1.5h0m0.5 5.6h0m0.4-3.2h0m0.4-1.8h0m0.3-0.3h0m0.3 3.4h0m0.5-2.9h0m0.1 0.3h0m0.4 3.5h0m0.4 1.9h0m0.3-1.1h0m0.2 0.8h0m0.5-2.4h0m0.2 2.5h0m0.5-2.9h0m0.6 1.6h0m0.6 1.3h0m0.6-4.8h0m0.7 1.5h0m3.8-1h0m1 5h0m2.1 0.2h0m1.2-5.8h0m0.3 5.6h0m1.1-0.4h0m0.2-4h0m0.7-0.7h0m0.7 2.8h0m1.5 1.2h0m3.9-4.2h0m3.1-0.9h0m1.7 5.4h0m1.7-3.2h0m1.3-2h0m1.8 3.3h0m2.2-3.9h0m2.8 7h0m1.5-3h0m3.3 1h0m23.3 1.8h0m79.6-3.2h0m1.9-0.8h0m3.6 1.2h0m0.7-1.7h0m3.4-2h0m2.6 3.2h0m2.8-2.5h0m59.8 5.3h0m57.5-2h0m0.8-1.9h0m0.4-2h0m0.7 1h0m1.1 2.3h0m1.2-1.8h0m0.3-1.1h0m1.2-0.2h0m21.2-0.5h0m26.5 0.7h0m47.7 5.1h0m1.4-0.8h0m1.8-0.2h0m0.6-2h0m1.2 0.8h0m0.4 2.7h0m0.7-2.8h0m2.1 2.2h0m1.2-1.3h0m40.3 2h0m19.7 0.3h0m2.7-5.7h0m1 4.3h0m29.6-4.4h0m2.6 5.4h0m2.6-7.3h0m1.3 0.6h0m1.7 1.1h0m3.4 4.1h0m5.6-3.5h0m13.5 4.3h0m17.7-5.8h0m10.2 3.9h0m9.6-3h0m0.7 0.9h0m-567.8 8.5h0m17.8-1.8h0m1.3 4.1h0m1.5-4.4h0m1.2 5.1h0m1.3 0.6h0m0.5-6.4h0m0.2-0.2h0m0.7 5.8h0m0.4 0.6h0m0.3-2.4h0m0.2 3.2h0m0.7-6.5h0m0.4 1.7h0m0.6 0.2h0m1.1-0.7h0m1.2-0.7h0m0.8-0.6h0m0.3 4.6h0m1.5-2.7h0m0.8-1.3h0m0.6 3.5h0m1-3.6h0m0.9 0.6h0m7.2-0.7h0m6.6-0.6h0m22.8 5.1h0m3.9 2.2h0m2.8-2.1h0m0.9-4h0m2.1 1.1h0m3.1 2.2h0m1.2-0.7h0m1 3.1h0m0.8-5.5h0m3.1 2.5h0m5.1 1.2h0m135 1.2h0m7.5-3.7h0m66.2-2.5h0m59.2 6.9h0m1.7-2.2h0m3.7 0.4h0m0.5 0.2h0m1.6 0.7h0m26.5-6h0m1.3 5.2h0m2-5.3h0m0.7-0.4h0m29.3 0.4h0m12.4 0.5h0m3 2h0m3.9-1.8h0m15.9 6.5h0m6.8 0.3h0m4.1-0.7h0m1.4 0h0m2.7-0.6h0m4 1.3h0m1.8-1.7h0m23.7-2.4h0m11.5 3.5h0m2.8-3.2h0m1-0.5h0m0.7-1h0m0.4 1.2h0m0.6-0.2h0m1.5 1.3h0m6-0.7h0m1.6-4.2h0m6.4 2.3h0m1.5-2.3h0m3.1 0.7h0m4.4 0.3h0m2.2 2.1h0m1.6-2.1h0m-538.9 10.4h0m0.5 1.2h0m1-0.6h0m0.9-2.5h0m0.3 0.1h0m0.2 4.3h0m1.9-3.6h0m0.7 0.7h0m0.8 0.6h0m1.1 0.1h0m0.6 2h0m0.8-4.6h0m0.2 3.4h0m1.3 1.7h0m2.1-1.6h0m1.3-1.8h0m0.4 0.7h0m0.8 2.3h0m0.5-3.1h0m0.7 4h0m0.6-5.4h0m1.6 1.4h0m16.9 2.4h0m17.8-0.4h0m1.9 1.8h0m2.5 0.3h0m2.3 0.7h0m2.4-7.2h0m1.3 1.9h0m2.1 3.6h0m1.7-2.9h0m2.4 2.3h0m1.7 2h0m2.3-2.9h0m2.4-3.8h0m2 6.5h0m1.6-3.6h0m1.8 0.3h0m157-3.4h0m98.2 0.5h0m13.6 0.6h0m2.2 0.7h0m22.3 2.7h0m27.6-2h0m35.5 0.3h0m12.5 1.1h0m5.3 0.7h0m1.3-0.8h0m0.4 1.8h0m0.6-2h0m1.1-0.7h0m0.3 1.8h0m0.2-0.8h0m0.5-0.9h0m0.3 0.2h0m0.1 1.4h0m0.2 0.1h0m0.2-0.4h0m0.2-2.6h0m0.2-0.9h0m0.1 1.7h0m0.2 2.1h0m0.4 0.6h0m0.3-0.7h0m0.6-4.1h0m0.6 0.5h0m0.4-1.2h0m0.6 6.2h0m0.2-3.3h0m0.3 0.3h0m0.4 0.2h0m0.4-1.6h0m0.3 2.3h0m0.6-0.1h0m0.1 0.4h0m0.3-2.2h0m0.7 2.8h0m0.8 0.4h0m0.3 0.2h0m1.1 0.1h0m0.2-4.4h0m1.6 3.3h0m3.8-1.8h0m0.9-0.7h0m22.5 4.3h0m3.3-2.4h0m2.1-3.1h0m9 4.2h0m2-0.3h0m9.5 2.3h0m8.1-3.4h0m-485.2 10.6h0m7.1-3.7h0m2.9 2.8h0m2.5-4.1h0m5.9 1.5h0m3.4 0h0m2.4 3.8h0m1.8 1.1h0m1.1-0.7h0m1.4-6.3h0m1.5 2.9h0m1.9 0.5h0m3-3.9h0m135.2 6.6h0m47.8-2.9h0m90-1.5h0m66.7 2.9h0m1.6 1.6h0m1.5-0.1h0m0.7-2.7h0m2 2.2h0m0.4-4.4h0m1 1.1h0m1.7 0.3h0m8.7-0.9h0m11.4 0.5h0m3.4 4.9h0m1.3-3h0m0.8-2.3h0m0.9 4.6h0m0.3-5.7h0m0.1 2.6h0m0.8-4h0m0.9 3h0m0.3 0.1h0m0.8-0.6h0m0.3 3.5h0m0.1-6.1h0m0.6 4.2h0m0.2 0.8h0m0.3-0.9h0m0.4-1h0m0.4 2.1h0m0.3-0.2h0m0.3-0.7h0m0.3-1.7h0m0.7-2.6h0m0.2 1.3h0m0.4 6.3h0m0.7-3.7h0m0.4-0.1h0m0.8 0.8h0m0.2 3.1h0m0.3-7.2h0m1.2 1h0m0.7 0.8h0m0.5 0.7h0m5.9 4.2h0m16.4-7.1h0m1.8 2h0m1-1.5h0m0.5 0.9h0m0.9 5.1h0m10.2 0.4h0m12.6-5.1h0m3.5 5h0m1.2 0.9h0m2.2-4.2h0m0.4 3.8h0m0.3-7.3h0m0.3 1.2h0m1.5 4.8h0m-473.3 9.5h0m9.6-4h0m5.4 3.7h0m10.6-3.9h0m4.4 3.3h0m129.1-5.2h0m4.7 2.9h0m104 3.4h0m54.3-6.8h0m28.1 1.2h0m10.4 2.6h0m5.7 1h0m2.3-4.4h0m2.5 2.3h0m1.4 1.7h0m0.8-4.2h0m0.6 2.5h0m1.8-1.3h0m3.6 1.5h0m20.7 1.2h0m9.3-4.9h0m8.4 6.3h0m0.7-0.2h0m0.8-0.4h0m4.6-5.4h0m14.1 1.8h0m20.1 5h0m4.2-6.9h0m8.9-0.3h0m-463.8 14.4h0m7.9-2.1h0m10.4-0.3h0m6.4-0.3h0m13.5 1.8h0m171.5-4h0m7.7-0.3h0m2 5.2h0m0.6-3.1h0m1 4.6h0m2.7-5.2h0m1.9 2.8h0m0.5-0.7h0m1.2 2.3h0m1.3-0.8h0m1.8-2.3h0m29.3-3.1h0m6.9 6.7h0m44.3-5.9h0m20.1 2.1h0m54.6 1.6h0m8.5-0.2h0m0.8 1.5h0m0.5-0.1h0m13.9-3.9h0m3.2 0.2h0m9.8-0.6h0m10.6 5.4h0m8.1-6.5h0m7.3 5.4h0m1.2 0.3h0m1.6-1.7h0m1.8-3.7h0m-453.3 6.4h0m31.4 0.6h0m55.9-0.3h0m110.3 5.4h0m17.8-3.6h0m0.3 0.5h0m0.7 1.3h0m0.9-1h0m0.8 1.8h0m0.9-3.1h0m0.3-0.3h0m0.7 4.7h0m0.6-2.9h0m0.6 2h0m1-4.5h0m0.7 4.1h0m0.2-2.2h0m0.9-0.3h0m1 4.1h0m1.3-3.1h0m1.4 2h0m0.6-2.9h0m0.5-0.9h0m0.5 2.2h0m0.6-1.9h0m13.9 5.7h0m7.2-3.2h0m3.7 2.9h0m11.3-4.8h0m1.4 2.2h0m2.3-2.8h0m5.1 2.4h0m15.6 2.9h0m21-0.4h0m3.2-0.2h0m3-1h0m1.4 1.6h0m1.3-6.2h0m3.2 5.8h0m17.5-4.1h0m25.6-0.4h0m8 4.5h0m1.2-5.3h0m1.4-0.1h0m1.8 5.4h0m1-2.3h0m25.1-1.4h0m7.3 1.8h0m30.3-1.5h0m6.2-2.9h0m1.7 0.4h0m-364.8 12.5h0m1.4-2.4h0m1.6 1.8h0m1-3.3h0m1.5 4.5h0m0.5-1.3h0m0.9-3.4h0m0.8 3h0m56.5-1.4h0m34.8 2.3h0m39.1-4.8h0m21.8-0.1h0m18.4 0h0m3.8 3.8h0m45.3-2.1h0m1.1-1.4h0m1 0h0m0.5 3.8h0m0.8-0.9h0m2.1 0h0m7.1-2.3h0m53.1-0.8h0m27.6 0.3h0m1.5 4h0m24.1-4h0m15.6 4.3h0m-231.6 7.8h0m23.1-4.1h0m17 5h0m79.9-2.7h0m54.8 2.4h0m17.6-2.3h0m5.4 0.7h0m7.2 1.9h0m11.8-5h0m-229.8 13.5h0m9.9 0.2h0m44-3.3h0m34.9 2.1h0m40.6-3.9h0m2.6 1.8h0m11.9 4.5h0m4.2-4.4h0m1.6 1.8h0m3.1-1.1h0m11.8 3.9h0m6.7-3.1h0m18.1-2.4h0m10.2 3.8h0m1.6 1.1h0m3.7 0.8h0m1.7-0.7h0m0.3-0.6h0m2.8-6.3h0m21.6 7.5h0m9.3-4h0m0.6 1.4h0m0.7-0.3h0m0.4 1.7h0m1.2-1.5h0m1.1-1.8h0m0.9-1.1h0m0.5 2.4h0m0.4 0h0m-239.8 11h0m1.8 0h0m2.7-4.3h0m2.1 1.8h0m16.8-0.2h0m9.3 1.1h0m52.7-2.8h0m11.1 0.5h0m0.7 4.1h0m0.7-3.9h0m1.5 3.8h0m0.9-2.1h0m1-0.5h0m0.8 2.4h0m5.7-6.1h0m7.8 6h0m10-2.3h0m5.8 1.7h0m6.2-6.2h0m1.7 6.9h0m3-5.6h0m2.9 5.7h0m7.3-6h0m0.4 0h0m0.8 1.8h0m0.5-1.1h0m11.5-1.9h0m13.3 3.1h0m17.4-3.3h0m21.5 1.3h0m8.3 5.5h0m1.5 0.7h0m3.2-4.2h0m5-2.5h0m4.1 3.1h0m-243.8 8.5h0m1 2.1h0m0.8-6.1h0m1.2 3.6h0m0.5 2h0m0.3 1.6h0m0.5 0h0m0.7-3.7h0m0.4 0.2h0m0.2-3.5h0m0.5 0.9h0m0.7 2.2h0m0.3 2.5h0m2.3-3.8h0m0.6 0.9h0m24.7 3.5h0m2.7-6.5h0m1.5-0.2h0m2.1 6.2h0m0.6 0.7h0m0.9 0.3h0m7.1-3.3h0m16.1-0.1h0m4.8-1.4h0m16.2 3.3h0m1.7-2.8h0m1.7-2.7h0m11.3 0.2h0m1.6-0.5h0m0.5 3.5h0m7-2.5h0m6.8 4.2h0m0.6-3.8h0m0.9 6.4h0m0.7-3.2h0m1.1 2.1h0m0.7-0.9h0m1.3-0.6h0m0.2 1.2h0m7.9-6.5h0m99.2 0.1h0m1 0.4h0m1 2.4h0m1.2-2.3h0m1.6 5.3h0m3.9 0.3h0m9.1-5.1h0m1.6 5h0m0.9-0.6h0m0.7 0.8h0m-261.4 9.4h0m2.8-1h0m3.4 0h0m1.6-5.2h0m3.7 1.9h0m32.2 4.1h0m1.1-4.1h0m0.6 4.3h0m0.2-6.4h0m0.2-0.2h0m1.6 0.2h0m0.9 0.2h0m0.4 3.8h0m0.3-2.7h0m0.3 1.1h0m1.3-3.6h0m0.6 5h0m1.9 2.2h0m1.5-2.3h0m0.6 2.9h0m0.5-3.2h0m1-0.7h0m10.5-3.9h0m2.4 1.2h0m2.3 1.1h0m43.5 4.6h0m11.8-3.7h0m0.9 0.7h0m0.3-3.2h0m0.2 5.3h0m0.2-3.2h0m0.4-0.9h0m0.7-0.9h0m113.7 6.5h0m1.9-6h0m3.7-1.3h0m1.3 1.3h0m4.3 3.9h0m0.8-1.4h0m1 2.1h0m2.7-5.2h0m0.7 1.8h0m0.4-2.4h0m0.7 6.2h0m0.6-2.8h0m0.4-0.1h0m0.7-1.3h0m0.4 5.1h0m0.8 0h0m5.8-0.3h0m-271.1 7.2h0m2.5-2.4h0m0.2 0h0m1-3.7h0m0.9 1.5h0m0.9 0h0m0.4-1h0m0.3 3.3h0m1.5-1.4h0m0.4-0.1h0m0.5 2.9h0m1.5-1.8h0m0.3-2.7h0m31.5-0.8h0m2.3 2.6h0m3 2.7h0m1.3-5h0m0.8 1.6h0m1-2h0m2.6 0h0m1.6 0.4h0m0.7-0.1h0m2 5.6h0m2.5-4h0m60.6 3.5h0m6.5-4.6h0m117.9 1.8h0m0.8 5.2h0m2-1h0m10.8 0.8h0m2.6-6h0m1 2h0m0.8-0.5h0m0.4-1h0m0.4 2h0m0.1 2.7h0m0.4 0.3h0m0.3-6.3h0m0.8 2.5h0m1.4 1.7h0m3.3-3.6h0m0.6 6.4h0m0.6-6.7h0m0.6 4.6h0m1.1-3.2h0m0.3-0.4h0m-224.2 8.3h0m192.9 4.6h0m0.4-1h0m0.6-0.7h0m1.9-5.3h0m1.1 7h0m0.4-1.6h0m0.5 0.7h0m0.2 0.5h0m0.8-4h0m0.5-2.3h0m0.7 2.4h0m0.2-2.6h0m1.6 6.2h0m0.3-0.5h0m3-1.4h0m0.4 2.2h0m1-2.8h0m0.8-2h0m0.9 0.8h0m0.3-0.9h0m0.7 5.1h0m0.8-4.1h0m1.1-1.2h0m0.8 3h0m1 0.1h0m0.8-3h0m1.7 2.6h0m3.1-2.4h0m3.1-0.8h0m1 1.6h0m2 2.4h0m4 0.4h0m-239.5 4.6h0m204.7-0.2h0m4.3 2.9h0m0.3-0.1h0m0.9 1.7h0m1.2-0.5h0m0.5-1.2h0m0.8 3.3h0m1.1-3.3h0m11.6 1.1h0m9.5-2.2h0m3.6-0.1h0m1-2.6h0m0.5 0.3h0m0.9 0.9h0m0.5-0.5h0m2.4 4.8h0m-266.3 7.7h0m2.5 0.2h0m9.4-1.6h0m220.6-4h0m1.5 3.5h0m0.2 0h0m1-1.4h0m0.8 0.4h0m2.1 3.8h0m3.9-5.3h0m13.9 4.8h0m0.2-4.2h0m1 0.4h0m0.4 0.3h0m0.3-2.9h0m0.3 5.4h0m0.4-4.4h0m0.9 4.9h0m1-2.3h0m0.6 3.3h0m0.7-5.7h0m0.7 6.1h0m0.4-4.9h0m1.1 2.4h0m0.5-4.4h0m0.6 4.4h0m0.8-1.7h0m0.4-2.1h0m0.8 2.3h0m1.2 2.3h0m1.2-5.4h0m0.4 1.7h0m1 2.1h0m-290.8 7.4h0m28.2-2.4h0m235.1 4.1h0m0.2-0.7h0m0.6-2.9h0m0.3 2.7h0m1.1-3.6h0m1.1 2h0m0.5 1.2h0m5.1 3.1h0m3.3 1h0m1.6-0.8h0m0.6-1.8h0m0.7-1.2h0m0.7 0h0m0.4 0.7h0m0.9-4.2h0m0.5-0.6h0m0.9 5h0m0.7-1.3h0m0.6-0.5h0m1.1 4.5h0m0.4-2.1h0m0.6-0.8h0m0.4 0.9h0m0.4-5.2h0m0.4 3.5h0m1.4-2.9h0m0.2 6.3h0m0.3-3.6h0m0.6-0.8h0m1.2 4.7h0m-275.9 7.5h0m252.7-4.3h0m2.9-0.3h0m2.4-1.7h0m0.6 0.8h0m3.4 0.4h0m0.7-1h0m0.2 2.6h0m1.3 3.2h0m0.6-6.6h0m1.3 6.5h0m0.6-3.9h0m0.4 3.7h0m0.8-1h0m0.5 2h0m1.3-5.9h0m1 2.8h0m0.5-4.2h0m0.5 1.2h0m0.6-1.4h0m0.7 6.4h0m0.6-0.1h0m0.7-4.7h0m0.6 2.7h0m0.4 3.1h0m1.9-7.3h0m-278 9.3h0m4.2 1.8h0m259-0.6h0m1.2-1.2h0m0.6 4.6h0m0.5-4.7h0m0.9 4h0m0.6 0.8h0m0.3-2.9h0m0.7-2.2h0m0.5 5.1h0m0.7 0.8h0m0.4-2.7h0m1-4.2h0m0.9 6.2h0m1-1.3h0m0.3-1.5h0m0.7-2.8h0m0.8-0.3h0m0.3 2.3h0m0.9 1.3h0m-270.6 5.1h0m9.3 2.8h0m253.4-4h0m2.8 8h0"/>
<path class="d" d="M1119.9 283h0m-12.8 15.6h0m1.6-1.9h0m4.2-0.5h0m2 3.5h0m3.9-4.2h0m-16.7 11.3h0m1-1.4h0m0.5-0.3h0m0.6 1.5h0m0.8-3h0m0.6-0.7h0m1.3 3.7h0m0.5-4.2h0m0.4 3.2h0m0.6 1.1h0m0.5-0.1h0m1 0.2h0m1.1-0.8h0m0.6 0.5h0m0.9-3.7h0m1.4 4.7h0m1-3.3h0m0.6 1.5h0m3.1-5.4h0m-24.1 11.2h0m5.7 4.2h0m2.3-6.6h0m0.5 6.2h0m1-4.7h0m1.7 1.1h0m1.2-0.2h0m0.4 0.9h0m0.9 0.4h0m0.7-0.9h0m0.9 0.8h0m0.7-2.6h0m0.6 0.2h0m1.1-0.7h0m0.7 0.3h0m1.7 1.4h0m42.4 4.6h0m-54.9 1.1h0m6.8-0.3h0m54.7 1.6h0m-67.2 13.3h0m26.1-1h0m-38.7 5h0m2.2-3.1h0m3.1 1.8h0m1.4 1.4h0m0.6 1.9h0m1.6-1.5h0m0.5 1.6h0m1.2-1.9h0m0.7 0.3h0m0.7-2.6h0m0.1 2.3h0m1 0h0m1.2-2.9h0m354.1 5.5h0m-362.1 5.3h0m6.2 0.8h0m34.2-4h0m-47.6 11.5h0m448.1 2.2h0m-464.9 8.2h0m27.2-4.3h0m586 5.6h0m-596.3 5.8h0m581.2 1.2h0m18-3.9h0m14.8 1h0m19.3 2.3h0m1.4-3.5h0m-296 13.1h0m113.6-4.2h0m174.8 1.9h0m7 0.2h0m-387.1 2.4h0m104 7h0m2.3 0h0m1.1-1h0m0.7 1h0m2.2 0.1h0m0.6-1.5h0m3.3-2.3h0m204.1 1.5h0m30.1-1.7h0m12.1 3.4h0m11.6-5h0m3.4 5.4h0m2.9-3.1h0m3.9 2.6h0m1.8 1.3h0m1.9 0.3h0m-559.7 0.1h0m247.3 1.7h0m29.7-0.2h0m1.1 0.9h0m1 0.9h0m0.2-2.9h0m0.5 1.1h0m1.6 0h0m1.7-1.6h0m1.2 1.9h0m0.2 5.6h0m0.9-6.5h0m1.8 0.3h0m1.1 0h0m57.4 2.7h0m144.8-0.1h0m4.9 0.7h0m4.4-4.3h0m2.3 4h0m12.5-0.2h0m10.8 3.2h0m20-0.2h0m3.5-0.3h0m1-1.2h0m0.7 0.8h0m0.7-3.6h0m0.6 1.5h0m0.4 1.5h0m0.3-0.1h0m0.2-1.3h0m0.3 1.7h0m0.3-3.7h0m0.6 2.7h0m0.5 2.1h0m0.2-4.8h0m0.3 5.5h0m0.1-5.4h0m0.5 1.1h0m0.4 3.3h0m0.3-2.4h0m0.2 0.9h0m0.2-3h0m0.1 4.5h0m0.1-4.8h0m0.3 3.9h0m0.4 1h0m0.2-1.2h0m0.1-0.5h0m0.5-4.8h0m1.1-0.4h0m0.9 3.2h0m0.4 2.8h0m8.9 1.5h0m-296.7 2.8h0m70.4-2h0m119.1 3.5h0m9.5-1.4h0m0.4 0.3h0m0.8-1.5h0m1.3 0h0m0.6 3.5h0m0.9-3.1h0m1.1 1.3h0m11-2.8h0m3.2 3.7h0m1.3 0h0m1-2.9h0m1.3-0.1h0m1 0.6h0m7.5-1.2h0m16.3-0.2h0m0.3 1.7h0m1 2.6h0m0.8-3.6h0m0.7 0.4h0m1.1 1.1h0m9.1-2.2h0m4.9 5.7h0m0.8-0.2h0m1 0.1h0m0.3 1h0m0.6-1.1h0m0.7 1.7h0m2.5-4.6h0m3.1-0.7h0m1.3 0.5h0m1.7 1.8h0m2-1.8h0m1.2 3.6h0m0.4-2.1h0m0.9 2.6h0m0.8-5h0m0.4 1.7h0m0.3-0.7h0m0.4 5.3h0m0.2-1h0m0.4-5.4h0m0.7 0.5h0m0.4-1.6h0m0.5 6.5h0m0.5-5h0m0.5 2.5h0m0.3-2.1h0m0.7 1h0m0.3 0.5h0m0.8 2.4h0m1.4-2.5h0m2-0.8h0m4.1 3.7h0m1.6-0.1h0m-622.3 7.5h0m294.6 0.1h0m65.7-2.9h0m87.3 3.2h0m5.3 1.5h0m59.3-4.4h0m0.5-1.5h0m0.5 1.4h0m0.5 3.1h0m0.8 0.9h0m0.7 0.2h0m1-5.7h0m0.4 4.8h0m0.6-3.2h0m2.8-1h0m23.3 2.8h0m9.3-0.8h0m17.4-0.5h0m4.1 0.9h0m3.7 2.8h0m2.1-1.1h0m25.5-5.8h0m1 3.8h0m0.5 1.7h0m0.5-6.3h0m2.6 1h0m1.1-1h0m-658.7 8h0m26.2 0.9h0m103.6 0.5h0m297.1 3.5h0m3.3 2.3h0m5.1 0.2h0m12-1h0m0.9-0.3h0m0.9 0.3h0m21.1-4.7h0m3.9 1.6h0m2.7 3h0m2 0.8h0m1.2-3.5h0m18.9-0.4h0m3.3-0.2h0m0.7 4.7h0m1.8-1.6h0m1.9 0.8h0m2.1-2h0m1.2 0h0m2.5 1.8h0m1.5-3.1h0m92.4 4.2h0m12.8-1.6h0m1.3 0.8h0m3.3 1h0m3.5-1.7h0m1.3 1.2h0m0.5-5.7h0m-636.2 13.1h0m55.7-6.4h0m383.7 4.5h0m15.1-3.2h0m0.8 2.6h0m0.4 2.1h0m0.8-5.2h0m31.5 6.5h0m10.6-7.4h0m1.5 2.5h0m5.4 5h0m4.1-1.8h0m0.8-1.3h0m1.4 1.1h0m0.4-2.1h0m0.9-0.2h0m0.3 1.3h0m0.4 2.8h0m0.7-2.1h0m0.7-0.8h0m0.5-1.7h0m0.4 0.2h0m0.6 3.8h0m0.5-3.9h0m0.8 0.3h0m36.4-1.1h0m43.1 3.8h0m17.3-4.7h0m10.3 5h0m2.6-0.1h0m0.3-0.6h0m0.7-4h0m0.6-0.3h0m0.3 3.3h0m0.2 0.1h0m0.2 1.7h0m0.8-0.5h0m0.5 1.6h0m0.3-1.5h0m0.6-4.2h0m0.4 5.3h0m0.7-3.7h0m0.8-3.3h0m0 6.7h0m0.2 0.3h0m0.2-6.5h0m0.1 4.5h0m0.5-1.7h0m0.3-2.8h0m0.3-0.5h0m0.2 6.8h0m0.7-3.3h0m0.3 3.9h0m0.3-3.2h0m0.4-4.1h0m0.8 7.4h0m0.6-0.2h0m0.3 0.1h0m0.7-1.1h0m0.7 0.2h0m1.1 0.5h0m1-2.8h0m1 0.8h0m1.3-1.3h0m0.9 0.1h0m0.5 0.9h0m0.7 0.1h0m0.2 0h0m0.3-0.7h0m0.4-0.1h0m0.5-0.4h0m0.2 0.1h0m0.2 0.3h0m1.6-2h0m0.7 1.4h0m1-1.2h0m0.8-1h0m-654.2 7.9h0m22.6 4.7h0m32.5 1.7h0m269.2-4.6h0m76.4 2.3h0m40.4-2.9h0m2.9 1.3h0m11.8-1.3h0m1 1.9h0m0.9-0.9h0m1.5 3.2h0m1.8-0.9h0m2 2h0m24.5-7.7h0m23.5 7.1h0m4.3-4.9h0m21.2 4.5h0m1.7 1h0m2 0h0m8.8-1.9h0m60.5-1.2h0m6.7 1.5h0m1.7-0.4h0m1.7-0.2h0m3.8-1.8h0m2.5-0.9h0m0.9 4.1h0m0.2-6.9h0m0.7 0.5h0m0.1 1.8h0m0.4 3.3h0m0.3-0.7h0m0.5-0.6h0m0.3-2.7h0m0.4 3.3h0m0.4 1h0m0.5 0.7h0m0.4-1.8h0m0.4 2.9h0m0.6-1.9h0m0.2-4.9h0m0.2 6.8h0m0.4-6.1h0m0.1-1.3h0m0.1 2.8h0m0.1 1.3h0m0.1-2.7h0m0.2 2.4h0m0.4 2.1h0m0.3-6.1h0m0.1 1.3h0m0.3 2.5h0m0.3-2.4h0m0.2 1.2h0m0.1-1.1h0m0.2 0.1h0m0.4 3.1h0m0.4-4.2h0m0.3 1h0m0.3 1.1h0m0.3-1.1h0m0.3 0.2h0m0.2 0.1h0m0.3-0.6h0m0.9-0.2h0m0.7 0.6h0m0.3 0.2h0m0.7-0.1h0m0.3-1.6h0m0.2 2h0m0.5-2.3h0m0.3 0.1h0m0.4 0.5h0m0.6-0.4h0m1.7 0.5h0m-592.2 14.4h0m100.2-6.7h0m181.1 0.3h0m55 5.9h0m25.3-6.3h0m38.4 2.7h0m1-2.5h0m2.1 1.8h0m1.1 0.3h0m0.9-1h0m1.2 4.7h0m0.9-4.1h0m0.7 1.2h0m0.7 4.1h0m0.4-1.5h0m0.3-1.8h0m0.5-4.3h0m0.4 0.8h0m0.6 3.9h0m0.3 0.4h0m3.7 0.8h0m9.6-1h0m2.4 1.1h0m3.9-1.4h0m25.5-3.8h0m1.9 0.4h0m3.3 1.1h0m18.5 3.1h0m3.9-3.8h0m2-0.1h0m0.3 5.4h0m0.7-5h0m0.3 5.5h0m0.3-0.1h0m0.6-5.7h0m1 4.2h0m4-1.9h0m4.8-3.5h0m2.3 6.8h0m47.2 0.1h0m4.4 0.2h0m1.2-0.6h0m8.8-5.4h0m1.1 4.7h0m0.1-0.3h0m1.1-2.8h0m1 3.6h0m0.3-5.8h0m0.9 3.5h0m1 2.1h0m0.8-0.5h0m0.7 1.2h0m0.7-6h0m0.6 3.7h0m0.2-0.8h0m0.6 3.7h0m0.3-3.2h0m0.5 2.9h0m0.8-1.8h0m0.4-3.2h0m0.4 3.8h0m0.5-5.5h0m1.5 2.4h0m0.5-1h0m0.5 1.6h0m0.4-1.7h0m0.2 1.1h0m0.3-2.9h0m0.4 7.7h0m0.6-3.9h0m0.6-3.6h0m0.4 0.3h0m0.5 2.6h0m0.2-2.6h0m0.4 1.6h0m0.9 4h0m0.3-5.5h0m0.1 1.8h0m0.2-2.2h0m0.1 2h0m0.5 3.2h0m0.5-0.5h0m0.3-3.6h0m0.7 5h0m1.1-6.5h0m0.4 2.8h0m0.7 4.3h0m-630.9 6h0m1.7-0.3h0m8.8 1.9h0m13.4-0.4h0m22.8 0.8h0m97-5.4h0m0.9 0.5h0m0.8 0.7h0m1.2 0.3h0m1-2.6h0m1.9 0.7h0m175.4 1.9h0m24.2 4.4h0m1.3-0.3h0m30.7-6.8h0m26.9-0.1h0m13.9 4.4h0m29.7-0.4h0m1.6-4.4h0m4.4 0.8h0m1.8 2.8h0m1.1-3.1h0m27.4 1.8h0m2.8 0.7h0m31.8 2.1h0m15-4.1h0m12.1 3.2h0m2.6 3.5h0m0.9-2.3h0m1.6 2.4h0m0.7-2.1h0m1 0.3h0m0.4-1.9h0m0.8 0.7h0m6-0.6h0m26-0.9h0m4.9-3h0m1.3 1.3h0m2.6 3.1h0m3 1.8h0m3.3-5.5h0m3.5 0.4h0m0.9 0.1h0m1.7 0.9h0m0.5-1.5h0m0.7-0.9h0m0.7 3.4h0m0.1 0.2h0m0.2-1.7h0m0.7 5.8h0m0.4-5.8h0m0.4-0.9h0m0.7 2.9h0m0.3-2.4h0m0.5 0.8h0m0.5-0.4h0m0.2-1.4h0m0.4 2h0m0.7-1.1h0m0.3 5.7h0m0.3-6.6h0m0.1 5.3h0m0.6-1.9h0m0.3 1.8h0m0.7 0.9h0m0.4-2.5h0m0.3 1.7h0m0.2-1.6h0m0.5 0.3h0m0.3-0.5h0m0.5-0.2h0m0.1-1.8h0m0.7-1.3h0m0.8 3.1h0m0.9-1.5h0m0.3-0.2h0m0.2 1h0m0.8-3.2h0m0.9 7.3h0m0.4-5.2h0m0.5 0.5h0m1.3 0.7h0m2-0.3h0m-633.5 5h0m1.6 6.7h0m1.2-0.1h0m2.5-5.1h0m4.9 6h0m0.9-1h0m1.1-1.5h0m2.2-0.2h0m2.6 1.4h0m0.9-3.7h0m1.2 3.4h0m0.4 0.4h0m0.2 0.8h0m1-5.2h0m0.6 4h0m0.5-3h0m0.4-1.6h0m1 4.8h0m0.5-0.5h0m0.3 0.9h0m0.7 0.2h0m124.4-5.3h0m80.7 4.4h0m9.1-0.3h0m109-4.1h0m1.3 0h0m6.9 1.9h0m74.6 2.9h0m3.5 0.6h0m60.2 0.3h0m26.1-6h0m34.1-0.8h0m1.9 0.3h0m2.1 0h0m26.7 6.7h0m11.4 0.4h0m1.5-7.1h0m2.4 6.6h0m0.8 0.2h0m0.6 0.5h0m0.7-0.6h0m0.3-2h0m0.5 0.5h0m0.3 1.6h0m0.7-2.9h0m0.8 0.1h0m2.2-1h0m5.6-2.4h0m0.7-0.9h0m0.8 1.6h0m0.3-0.3h0m1.3 1.4h0m4.2 1.1h0m0.7-3.9h0m2 1.5h0m0.9-0.5h0m1.2 2h0m1-3h0m0.4 2.4h0m0.6-2.5h0m0.8 0.4h0m1.2 1.6h0m0.8 0.5h0m-626.8 10.2h0m0.2-3.9h0m0.2 3.5h0m0.5 2.9h0m0.2-2.9h0m0.2 3.2h0m0.6-2.2h0m0.6 2.5h0m1.5-2.6h0m0.3-2.9h0m0.9 1.2h0m0.5-1.8h0m0.3 2.1h0m0.6 0.2h0m0.8 1.3h0m0.4-1.5h0m0.7-1.5h0m0.3 3.4h0m0.3-2.4h0m0.4 3.1h0m0.5-3.9h0m1.3 0.7h0m3 4h0m2.6 0.6h0m2.6-7.3h0m165.8 3.5h0m44.6 3.4h0m6.9-3.2h0m101.8-0.1h0m101.9-2.9h0m25.5 2h0m17 1.4h0m16.6 0.6h0m6.5 1.1h0m8.2-3h0m0.8-2.3h0m0.5 2.3h0m0.4 2h0m1.5-0.6h0m0.3 0h0m0.4-3.9h0m0.4 5.4h0m0.5-3h0m37-0.8h0m16.8-1.7h0m10.1 0.8h0m4.3 5.4h0m2.5-5.7h0m0.8 6.4h0m0.9-2h0m0.8 0.9h0m0.2-2.9h0m0.4 2.2h0m1.1-1.1h0m0.3-0.5h0m0.6 2.9h0m0.3-1.7h0m0.4-2.1h0m0.1 0.8h0m0.4-0.3h0m0.2-2.2h0m0.8 5h0m0.3-6.5h0m0.2 1.4h0m0.8-1h0m0.6 2h0m0.6 3h0m0.5-5.2h0m0.2 0.8h0m0.2 0.2h0m0.2 4.6h0m0.3 0.3h0m0.2-1.5h0m0.6-1.3h0m0.1 2h0m0.4 1h0m0.4-6.4h0m0.8 5.9h0m11.5-5.6h0m2.7 5.8h0m2 0h0m-621 2.6h0m2.5 1.2h0m0.5 0.7h0m0.5 3.4h0m1.1-4.4h0m0.5-1.7h0m1 6.6h0m0.1-2.8h0m1.2-0.1h0m1.3 3.8h0m0.4 0h0m0.4 0.1h0m0.4-2.9h0m1.1 3h0m4.4-0.8h0m1.5-5.4h0m3.8 5.1h0m2.6-3.7h0m206.9-0.2h0m1.9-1.3h0m1.3 4.9h0m1.1-2.8h0m0.6 3.4h0m1.3-2.3h0m0.3-0.7h0m0.4 1.1h0m1.1 0h0m3.2 1.4h0m1.3-1.6h0m4.5-1.2h0m186.8 2h0m18.7-5.1h0m22.4 2.9h0m1.2-0.9h0m0.8 0.4h0m0.7 4h0m0.7-3.6h0m0.2 2.2h0m0.8-0.5h0m0.9-1.8h0m18.8-0.5h0m0.8 0.7h0m0.5 0.2h0m0.5-0.9h0m1-2.4h0m1.1 0.2h0m0.8 2.3h0m35.7 2.2h0m47.4-4.6h0m4.5 5.6h0m1.2-2.9h0m0.4-0.6h0m0.5 2.5h0m0.5-0.8h0m0.3-0.1h0m0.6-3.1h0m0.2 0.4h0m0.6-0.3h0m0.4-0.1h0m0.4 1.7h0m0.1-1.5h0m0.4-0.4h0m0.2 0.7h0m0.1 0.2h0m0.3 0.4h0m0.3-2.1h0m0.2 5.5h0m0.3-3.5h0m0.3 0.5h0m0.8-1h0m0.2 1h0m0.6-0.2h0m0.4-0.7h0m0.7 1.6h0m0.5-1.9h0m2-0.9h0m2.3 5.6h0m5.7-2.7h0m7.5 3.3h0m1.4-0.9h0m-617 4.6h0m1.3 0.3h0m1.7-1.5h0m1.8 0h0m1.3 0.4h0m1.5-0.7h0m6.2-0.6h0m16.4 7.2h0m194.5-7.2h0m1.5 3.4h0m6-3.1h0m8 0.2h0m5 0h0m186 0.6h0m27.1 1.6h0m25.6 2.8h0m9.2-1h0m0.7-2.7h0m0.8 2.1h0m0.9 3.3h0m0.9-4.4h0m0.4 4.2h0m1.5-3.6h0m0.5-0.8h0m71.6 1.9h0m21.1-1.2h0m11-1.5h0m11.4-0.5h0m-608 11.2h0m11.4-0.1h0m11.5-2.9h0m2.1 4h0m8.9-1.6h0m188.2 3.4h0m8.9-0.3h0m3.1-2.5h0m121.1 0.5h0m1.2 1.8h0m2.2 0.7h0m2.2-0.7h0m0.8-1.1h0m0.5 1.4h0m0.6-2.8h0m1.4 1.7h0m1.3 1.8h0m54.4-0.4h0m70.6-7h0m32 2.8h0m8.7 3.3h0m34.3-5.9h0m6.8 0.5h0m15.3 5.5h0m2.2 0.7h0m-585.2 5h0m18.2-3.8h0m5.1 0.4h0m179.5-0.5h0m24.3-0.5h0m113.9 0.8h0m8.3 4.1h0m2.4-2.9h0m3.6-0.2h0m1.8 0h0m0.7 0.3h0m2.1-1.6h0m23.4 0.4h0m22.6 3.7h0m0.8-2.1h0m1.2 2.4h0m0.4-4.5h0m0.4 4.4h0m0.9-3.5h0m0.5-0.1h0m0.5-0.6h0m0.1 6.1h0m0.4-2h0m0.1-1.2h0m0.4-1h0m0.4 0.9h0m1.5-3.2h0m0.6 1.5h0m4.7-0.7h0m51 5.2h0m0.9-0.3h0m0.5-1h0m0.9-0.9h0m0.4 1.3h0m0.8-1h0m0.7 3h0m0.7-0.5h0m13.4 0.6h0m2.8-2h0m69.2 1.1h0m18.4-2.9h0m2-3h0m0.5-0.4h0m1.4 0.4h0m0.1 1.1h0m0.1 0h0m0.3-1.6h0m0.4 2.1h0m0.7-2.2h0m1 0.3h0m11 5.3h0m0.5 1.5h0m0.6 0h0m0.5-1.2h0m0.5 0.6h0m1-1h0m-580.2 5.2h0m52.5 4.3h0m3.6-2.7h0m3.7-0.8h0m2 1.8h0m2.4 2.3h0m0.9-4.4h0m1.4 3.3h0m12.5-5.5h0m167.5 3.2h0m144.4-2.6h0m5.9-0.4h0m32.2 1.3h0m6.7 3.9h0m33.9-5h0m1.1-1h0m37.4 1.8h0m23.8 2h0m0.9-1.7h0m28.9 3.8h0m6.3-4.6h0m4.2 2h0m7.9-1.4h0m0.4-1h0m0.3-0.2h0m0.1 1.1h0m0.6-2.2h0m0.4 0.4h0m0.9 2.7h0m0.4-1.3h0m0.3-1.6h0m0.9 1.3h0m1.9 1h0m-588.9 12.4h0m5.8-6.1h0m13.6 4.5h0m34.7-1.4h0m1.4 0.6h0m2.4-3.4h0m1.5 0.8h0m0.9 4.4h0m1.1 0h0m0.9 0.9h0m3.4 0.1h0m0.9-6.7h0m1.7 4.4h0m2.8-3.2h0m1.1 0.6h0m1.6 2.4h0m223.7 2.6h0m3.1-0.4h0m74.6-5.4h0m62.2-0.3h0m63.2 3.4h0m37.3-0.1h0m6.6 2.8h0m8.8 0.3h0m10.8-7.3h0m4.8 7.3h0m8.3-4.5h0m-584.5 9.9h0m12.5-1.2h0m9.3-0.4h0m3.3-1.9h0m19.5 4.4h0m11.3-1.2h0m6.1 0.2h0m2.9 0h0m1.7-1.1h0m3.3-0.1h0m2.2 2.7h0m0.6 1h0m3.3-0.7h0m1.6-6h0m0.9-0.6h0m2.7 1.6h0m74.4 5h0m195.6-0.7h0m11.4-0.2h0m61.6-0.1h0m26 2h0m17-1.3h0m40.9 1.2h0m12.4-4.2h0m18.3 3.1h0m0.9-0.3h0m1.1 0.1h0m1.1 1.1h0m2.5-0.6h0m1.3 0.1h0m1-0.6h0m0.3 1.1h0m1.3-2.1h0m0.5 0h0m1.6-4h0m0.8 4.5h0m5.8-1.2h0m1.6 0.3h0m0.7 1.8h0m0.3 0.5h0m0.7-2.4h0m0.7 2.7h0m1.6-0.2h0m0.5-0.8h0m7.5-1.9h0m4-3h0m3.4 2.6h0m7.2-3.4h0m-596.3 7.1h0m19.7 6.7h0m1.9 0.7h0m0.5-5.5h0m1 2h0m0.2 1.3h0m0.9 0.3h0m0.8 1.2h0m0.2-3.4h0m1.1 4.5h0m1-4.1h0m0.5 0.8h0m1.4-2.6h0m1.3 1.4h0m0.4-2.5h0m0.9 7.1h0m0.8-0.9h0m0.4-0.3h0m0.2-2.5h0m0.6 0.1h0m0.4 2.6h0m1-2.3h0m1.2-0.2h0m0.9-1.6h0m1.2 2.9h0m0.7-3.3h0m0.7 2.5h0m0.9 2.4h0m0.3-0.9h0m2.6-3.9h0m8.9 3.1h0m16.6 1.8h0m2.5-6.3h0m21.9 5.9h0m125.8-1.4h0m173-4.1h0m62.8 4.3h0m8.2 1.5h0m2.6-1.2h0m30.7-5.7h0m7.1 6h0m36-5.5h0m5.6 6.2h0m5-6.9h0m2 5.4h0m6.1-5h0m12.5 1h0m0.9 1.2h0m1.4 0.5h0m0.8-2.1h0m2.1-0.3h0m0.6 1.4h0m0.9-1.1h0m2.7 4.9h0m2.7-5.3h0m1.9 6.1h0m4.9-6.2h0m3 0.9h0m7.1-1.1h0m-584.6 12h0m2.8-2.8h0m3.7-1h0m0.7-0.7h0m1.9 3.3h0m1.1-0.1h0m1.8-1.5h0m1.6-1.1h0m3.8-0.4h0m1.7 1h0m0.5 3.7h0m0.7-1.7h0m0.7 3.7h0m0.5-6.5h0m0.4 0.2h0m0.6 0.9h0m0.7-1.5h0m0.5 1.2h0m0.7 6.6h0m0.3-0.2h0m0.3-0.1h0m0.6-5.9h0m0.3 1.1h0m5.7 5.1h0m12.5-3.6h0m12 0.4h0m9.5-2.1h0m17.1-0.8h0m102.9 2.2h0m135.9 3.6h0m3.2-0.1h0m23.3 0.4h0m45.8-4h0m51.5-0.3h0m0.9 0.2h0m0.5-1.1h0m0.4-0.9h0m1 1.9h0m0.7-3.7h0m1 2.6h0m0.5-1.8h0m0.5 1.1h0m1.8 5.3h0m31.7-5.7h0m1.2 0.1h0m8 1.6h0m12.7 3h0m2.2 0h0m9.6-5.5h0m9.4 6.7h0m1.5 0.2h0m0.6-0.9h0m1.2-1.1h0m2 1.9h0m0.4-1.8h0m0.4 2.1h0m1.6-6.1h0m20.4-0.2h0m1.7 2.8h0m0.5 1.3h0m0.8 1.6h0m1.9 0.2h0m3.5-0.3h0m8.2-3.4h0m7.3 4h0m11.3-2.3h0m-572.1 3.7h0m0.6 5.4h0m0.6-6.4h0m1.1 1.1h0m0.6 3.9h0m0.4 1h0m0.5 0.5h0m0.3-6.4h0m0.6 2.2h0m0.2 2h0m0.2 1h0m0.2-2.7h0m0.9-0.6h0m0.3 3.4h0m0.9-5.3h0m8.4 3.3h0m8.8-3.1h0m12.4 1.3h0m54.2-0.7h0m77.3 2h0m115 5h0m19.1-7.2h0m1.1 1.6h0m1 0h0m1.1 2.9h0m2.1-4.4h0m22.9-0.8h0m59.6 6.5h0m27.6 0.5h0m18.4-2.8h0m17.9 1.2h0m1.7 1.9h0m35.9-1h0m0.9 0.2h0m0.3 0h0m4.8-1.1h0m4.1-5.2h0m5-0.1h0m1.8 4.4h0m3.7-2.3h0m1-1.6h0m1.8 0.5h0m2.9 2.1h0m10.7 3.7h0m7.1-2.1h0m3.5 1.4h0m15.2-2.5h0m-554.6 6.1h0m1 1.9h0m0.4-2.8h0m0.4 0.7h0m0.3-0.8h0m0.3 2.7h0m0.9 1h0m0.3-1.1h0m0.3-3.2h0m0.5 1h0m0.5 1.5h0m0.3-0.9h0m0.3 6.1h0m0.3-5.5h0m0.4 3.6h0m0.3-2.2h0m0.2-1.6h0m0.5-0.4h0m0.2 2.2h0m0.3-2.1h0m0.4-0.9h0m0.3 2.3h0m0.5-1.2h0m0.6-1.1h0m0.6 6.6h0m0.7-2.7h0m0.6-4.1h0m3.7 1.3h0m1.5 5.6h0m1.9-1.3h0m0.9-3.3h0m0.8 1.3h0m0.7-1.1h0m0.2-2.3h0m0.7 6.7h0m1 0h0m2.9-1.5h0m2.3-0.3h0m4.3 1.4h0m0.6-6.3h0m1.6 4.6h0m1.1-0.2h0m2.1-0.7h0m3.6-1.7h0m1.4 1.5h0m1.9 1.7h0m4.2-2.5h0m24.1 3.8h0m77.2-3.2h0m3.2-4h0m2.4 2.8h0m1.2 2.1h0m4.5-1.4h0m2 0.9h0m2.1-2.5h0m115.3 0.3h0m1.8 3.1h0m0.6 0.5h0m0.6 0.1h0m0.6-4.9h0m1.3 4.7h0m1-0.7h0m0.6-1h0m0.8-3h0m24 2.9h0m59.7 1.2h0m12.1 1.2h0m1.1-0.8h0m1.9 1.7h0m0.8-2.6h0m0.9-1h0m0.4 3.4h0m0.6-2.8h0m2.1 2h0m5 1.2h0m46.8-7.8h0m9.7 1.9h0m2.7 5.2h0m19.9-0.2h0m11-4h0m2.4 4h0m2.2-5.5h0m1.8-0.8h0m4 6.9h0m1.1-6.9h0m11.9 0.5h0m16.4 2.3h0m8.4-1.9h0m14.8 3.8h0m4.7-1.5h0m0.9-3.2h0m-552.6 7.9h0m2.8-0.2h0m1.2 5.8h0m1.4-0.6h0m1-5.3h0m1.3 3.6h0m0.5-3.6h0m0.2 2.1h0m0.7 2.1h0m0.4-2.8h0m0.2-1.1h0m0.4-0.2h0m0.5 4.5h0m0.7-3.3h0m0.4 3.6h0m1.7-2.6h0m0.8 2.7h0m0.7-5h0m0.7 7h0m0.9-3.2h0m0.8-0.8h0m0.7 1.5h0m1 2h0m4.9-6.6h0m4.1 1.2h0m7.7-0.7h0m20.8 7.4h0m3.8-6.4h0m2.8 2h0m1.7-2h0m2.9 3h0m1.7-2.6h0m1.3-1.8h0m0.7 7h0m1.7-4.2h0m2.7 0.4h0m27-2.6h0m116.6 2h0m43.9-1.8h0m42.5 7h0m43.4-1.7h0m2 1h0m2.7-1.5h0m0.4 0.3h0m17.2-2.2h0m10.9-1.7h0m1.7-0.8h0m1.5 0h0m1-1.1h0m34.3 7.4h0m7.5-5.9h0m4 3h0m2.6-2.5h0m17 4.8h0m7.6-5.1h0m2.1 5.4h0m3.1 0.5h0m3.2-0.6h0m2.1-2h0m14.9-4.4h0m10.3 4.2h0m11.6 0.7h0m3.2-0.1h0m0.7-1h0m0.7-1.2h0m0.5-0.1h0m0.5 0.7h0m5.2 0.4h0m2.3-0.4h0m6.1-2.1h0m2.3 0.8h0m1.1-2.2h0m3.9-0.5h0m4.5 1.9h0m1.6 1.9h0m1.3-0.5h0m-539.1 8.7h0m0.9 1.4h0m0.6-5.3h0m0.9 6.1h0m0.3-3.8h0m1 3.2h0m1.2-1.6h0m1.1-2.7h0m0.5 3.1h0m1.1 1.4h0m0.6-4.3h0m0.6 1.7h0m0.4-1.8h0m1.5 1h0m1.7-0.9h0m1.5-0.3h0m0.5 0.7h0m0.5 2.3h0m0.6-1.4h0m1-0.8h0m1-1.4h0m5.8 4.5h0m29.2-1.7h0m0.9-2.9h0m3.3 6.5h0m1.6-3.4h0m1.4 3.8h0m2.5-6.2h0m2.7-0.6h0m1.2 1h0m1.2 1.8h0m3.2 4h0m1.4-5.1h0m2-1.9h0m2.5 2.3h0m2.5-2.1h0m0.8 5.5h0m2.1-1.9h0m178.6-3.7h0m87.8 1.2h0m2.5-1h0m2 1.2h0m23.3 5.6h0m58.8-5.1h0m4.2 3.7h0m11.8-4.8h0m5.1-1.1h0m1.3 5.4h0m0.2-4.6h0m0.6 1.4h0m1.1-0.1h0m0.3 2.1h0m0.4-2.5h0m0.3 0.9h0m0.2 0.1h0m0.1 0.5h0m0.2 1.3h0m0.2-0.9h0m0.2 1.6h0m0.2-2.5h0m0.2 3.7h0m0.2-4.7h0m0.4-0.7h0m0.5 5.4h0m0.3 0.1h0m0.7-2h0m0.6 2.8h0m0.4-4.7h0m0.2-0.7h0m0.4-0.6h0m0.3 5.6h0m0.4 0.2h0m0.2-4.3h0m0.6-2.4h0m0.2 4.4h0m0.3-2h0m0.8 1.5h0m0.7-2.7h0m0.3-0.7h0m1 3.7h0m0.3-1h0m1.7 1.1h0m3.7-2.2h0m17.8 3.4h0m6.9-1.5h0m2.2 1.8h0m2-6.2h0m9.1 5.6h0m6-5.7h0m6.2 7.2h0m9-3.3h0m-481.1 5.3h0m1.3 3h0m3 0.4h0m6.7 0.8h0m1.6 1h0m3.3-2.4h0m3.3-0.5h0m0.9 4.1h0m1.8-0.8h0m0.6-1.3h0m2-4.1h0m2.3 2.5h0m4.7-3.8h0m173.4 1.9h0m27.3 0.9h0m120 2.1h0m17.3-0.4h0m1.3 0.9h0m1 0.1h0m1.1 0.2h0m1.6 0.2h0m0.5-2.3h0m1.3 3.5h0m2.2-1.9h0m10.3-5.2h0m9.8 2.5h0m3.2 1h0m0.5-2.4h0m1 6.4h0m0.9-7.2h0m0.1 6.5h0m0.3-2.6h0m0.7-2.9h0m0.9 1h0m0.4 0.6h0m0.6-3h0m0.3 0.1h0m0.3 2.6h0m0.4 4.6h0m0.2-4.7h0m0.4 0.9h0m0.3-1h0m0.4-0.2h0m0.4 1.8h0m0.3-0.2h0m0.3-1.8h0m0.7-1.6h0m0.2 2.7h0m0.3 1.2h0m0.7-3.9h0m0.6 0.2h0m0.7 2.7h0m0.2 3.3h0m0.6-6.4h0m0.9 0.7h0m0.6 0h0m0.5-0.4h0m20.7 6.3h0m3.1-5.2h0m0.9-1.2h0m0.7 0.6h0m0.5-0.2h0m1.9 6.1h0m8.9-0.3h0m12.6-4h0m4.4 4.8h0m1.7-4.2h0m1 4.2h0m0.2-6.9h0m0.3 6.2h0m1.1-1.8h0m0.9-0.8h0m-470 8.9h0m6.7 2h0m5.8 0.3h0m11.4-5.8h0m7.4 6h0m124.8-6.6h0m75.5 6.4h0m35.8-6.4h0m53.4 0.6h0m27.1 0.4h0m9.2 2h0m6.4-1.8h0m2.6 0.9h0m1.6 0.5h0m1.4-2.5h0m0.7 2.5h0m1.4-2h0m1.6-1.7h0m22.7 5.3h0m3.9-0.1h0m7.1 1.1h0m8 0.4h0m0.4-1h0m0.9 1h0m4.7-5.9h0m23.4 3.2h0m12.7 3.3h0m9.2-6.9h0m1.8 0.2h0m-463.5 14.2h0m11.1-4.6h0m8.4 5.6h0m6-5.8h0m40.3 0.8h0m150.6 3.9h0m0.8-5.4h0m2.2 0.4h0m0.5 5.1h0m1.7-5.4h0m2.2 1.5h0m1.6 0.1h0m0.6 3.1h0m1.2 1.4h0m1.3-5.7h0m2.7 1h0m31.9-1.1h0m44 1.4h0m6.7 0.4h0m28.5-2.1h0m45.2 5.1h0m6.4-1.2h0m0.7-0.2h0m0.6-0.9h0m14.4-0.9h0m2.7 0.3h0m9.9-0.9h0m14.5 2.5h0m10.9 1.8h0m0.4 0.3h0m1.4-2.1h0m1.6 1.6h0m2.8-6.1h0m-445.2 8.7h0m32.9 1.1h0m45.4 2.2h0m126.9-2.9h0m1 1.9h0m0.4-0.4h0m0.6-2.1h0m0.9 3.7h0m1.1-1.8h0m0.5-0.3h0m0.5 1.1h0m0.5-0.6h0m0.7-2.4h0m1 3.8h0m0.7-3.7h0m0.5 3.9h0m0.4 0.4h0m1.2-3.9h0m1.1 2.8h0m1.5-3.8h0m0.7 2.9h0m0.7 0.1h0m0.4-1.4h0m0.5-0.5h0m4 0.9h0m11.8 4.7h0m7.2 0.4h0m11.7-3.2h0m2-0.5h0m1.6-2.7h0m2.1 1.7h0m5.4 0.1h0m15.8 3h0m21.5 0.5h0m2.8-0.5h0m2.8 0h0m1 1.3h0m2.5-2h0m2.6 0.5h0m20-3.7h0m29.9 4.2h0m0.8 0.6h0m1.9-2.5h0m1.1-0.5h0m1.2-0.2h0m1 1.3h0m26.6-0.3h0m13.6 2.6h0m23.8-3.9h0m4.9-3.3h0m1.7 0.5h0m-364.8 10.5h0m1.5 0.3h0m1.4-2.1h0m1.2-1h0m1.5 6.2h0m0.6-5.8h0m0.9 1.2h0m39.6 2.8h0m20.7 1.1h0m63-3.3h0m8.5 1.6h0m22.1-2.9h0m18.9 2.2h0m28.7-3h0m18.7 0.7h0m1.1-0.3h0m1.2 1.6h0m0.8 0.1h0m0.7-2.1h0m2.1 2.4h0m30.7-0.9h0m56 3.4h0m1-0.2h0m1.3-0.1h0m37.7 0.4h0m5.2 0.2h0m-233.8 7.3h0m25.2 0.4h0m14.3 0.2h0m81.4-1.4h0m53.9 2.7h0m16.6-4.2h0m6.3-0.7h0m6.3 4.2h0m12.5-5.9h0m-222.8 15.1h0m2.6 0.3h0m47.2-2.2h0m31.5-0.9h0m40.3-1.8h0m3.4 5.2h0m11.6-1.7h0m3.7-3h0m2.2 1.5h0m6.8-0.5h0m8.1 2.9h0m9.7-6.9h0m15.5 1.3h0m10.1 2.9h0m2.8 1.6h0m2.3 1.5h0m1 0h0m0.3-1.1h0m3.6-6.2h0m22.6 5.3h0m7.5-1.7h0m0.7-1.8h0m0.6 1.8h0m0.9 1.6h0m0.7-2h0m1.7-1.1h0m0.3 0.7h0m0.6 2.9h0m1.1-4.2h0m-240.1 14.1h0m1.9-0.1h0m2.3-6.6h0m2.8 0.7h0m16 1.2h0m10.6 3.5h0m61 0.4h0m1.4-3.3h0m0.7 3.6h0m1 0.1h0m1.3-0.5h0m0.8-1.2h0m1-0.3h0m1.1 2.1h0m6.2-2.3h0m9.6 0.3h0m8.3-0.4h0m5.2 0.7h0m6.4-1.2h0m1.4-0.7h0m4.7-1.5h0m1.9 3.2h0m6.5-4.7h0m0.8 0.1h0m0.5 2.1h0m0.4-0.6h0m15.2-1.2h0m9.7 5.4h0m17.5-1.1h0m25.1-5.1h0m5.2 1h0m1.1 5.1h0m2.9-3.1h0m5 0.4h0m4.1-1.8h0m-243.8 7.9h0m1.1-1.1h0m1.2 4h0m0.7 1.3h0m0.6 0.6h0m0.1-3.6h0m0.8 0.3h0m0.5-3h0m0.3 0.8h0m0.6 6h0m0.6 0.5h0m0.3-4.2h0m1.9 1h0m0.7 0.9h0m3.7 0.9h0m22.3 1.2h0m2-0.2h0m1.6-7.1h0m1.9 7.6h0m0.6-2.6h0m1 2.6h0m13.3-0.4h0m10.3-4.7h0m4.7 0.1h0m15.8 1.8h0m1.7-1.4h0m1.9 2h0m11.4-3.9h0m1.3-0.8h0m1.2 0.3h0m7.4 3.2h0m5.8 2.2h0m1.1-0.4h0m0.5 0.8h0m1.1-2.7h0m1.1 0.6h0m0.1 2.4h0m1.3-4.7h0m0.3-1.1h0m12-0.9h0m95.3 1.7h0m0.8-1h0m1 0.2h0m1.6 6.6h0m1.6-1.3h0m3.5-0.8h0m9.5-5h0m1.2 7h0m1.1-1.1h0m1.1-0.3h0m-261.1 9.7h0m3.9-4.9h0m2 3.6h0m1 0.5h0m7.2-1.8h0m28.8-0.6h0m1-3.7h0m0.5 3h0m0.2-0.2h0m0.5 2.3h0m1.4 1.4h0m1-4.9h0m0.2 2h0m0.5 1.5h0m0.4 0.2h0m1.2-0.8h0m1.3-0.3h0m1 0.4h0m1.5 0.2h0m0.6-2.2h0m0.9-0.6h0m4.9 4.6h0m7.6-1.1h0m2.6-2.4h0m29.6-3.8h0m17.1 1.3h0m9.4 2.2h0m0.8-1.2h0m0.4 0.1h0m0.2 0.5h0m0.2 1.1h0m0.5-0.5h0m0.5 1.8h0m114.4 1.4h0m1.6-7h0m3.7 1.5h0m2.6 3.6h0m2.9 0.1h0m0.9 1h0m2.7-5.1h0m1.1 4.9h0m0.3-4.5h0m0.5 4.8h0m0.6-4.6h0m0.8-0.5h0m0.3 0.2h0m0.5 2.2h0m0.4-2.5h0m1 0h0m5.6 6.7h0m-270.3 2.9h0m1.8-0.7h0m0.8 1.3h0m0.3-0.6h0m1.2 3.5h0m0.8-5.3h0m0.3 3.1h0m0.8 0.6h0m1-3.4h0m0.3-0.2h0m1.5 2.1h0m0.6-1.5h0m0.4 0.9h0m31.4-1.6h0m2.9 0.4h0m2.9-1h0m1.3 1.1h0m0.3-0.8h0m1.3 0.9h0m2.9-1.2h0m1.2 3.9h0m0.6-3.6h0m2.4 4.2h0m1.9-1.4h0m61.7 2.1h0m121.3 2.1h0m2.1 0.3h0m1.7-0.7h0m2.6-0.2h0m10.2-6.6h0m1.8 1.7h0m0.9-0.6h0m0.8 2.5h0m0.4-2.4h0m0.3 0.9h0m0.2 0.2h0m0.4-2.1h0m0.4 0.6h0m1.2 4.6h0m0.9-0.6h0m3.5-4.1h0m0.4-0.8h0m0.7 3h0m0.5-0.4h0m1.1-2.2h0m-286.2 8.1h0m63.6-0.8h0m191.7 6.1h0m0.2 0.2h0m0.7 0.8h0m2.1-6.3h0m1 0.6h0m0.3 4.4h0m0.5-0.5h0m0.3-4.9h0m0.7 3.5h0m1-0.5h0m0.1-0.7h0m0.8 2.2h0m1 1.6h0m0.3 0.4h0m3.2-2h0m0.2-3h0m1.1-0.4h0m0.8 2.9h0m0.8 2h0m0.7-6h0m0.4 0.6h0m1.1 3.3h0m0.8-0.3h0m0.7 1h0m1.2-1.8h0m0.7-1.4h0m2.9-1.6h0m2.3 0.9h0m2.9-0.5h0m0.7 1h0m4.4 4.1h0m-289.4 3.4h0m255.5-0.4h0m0.8-0.1h0m4.2 5.1h0m0.6-5.3h0m0.7 3.7h0m1.4-4h0m0.3 6h0m0.7-1.3h0m1.2 1.2h0m11.8 1h0m10.1-1.9h0m3.1-2.2h0m0.7 0.8h0m0.6-0.8h0m0.7 5h0m0.6-2.1h0m4.1 1.9h0m-267.4 1.4h0m2.4 6.1h0m228.9-5.9h0m1.1 1.8h0m1.1-2.2h0m0.4 1.6h0m0.8-0.5h0m0.7-1.7h0m3.1 6.4h0m3.3 0.6h0m13.4-5.9h0m0.5-0.3h0m0.7 6.6h0m0.4-3.7h0m0.3-2h0m0.3 5.3h0m0.6-2.7h0m0.8-1.6h0m0.9-2.1h0m0.8 3.1h0m0.7 1.4h0m0.6 2h0m0.3-3.9h0m1.1 4.5h0m0.5-2.4h0m0.7 2h0m0.8-5.9h0m0.5 3.1h0m1-2.8h0m0.9-0.7h0m1.4 6h0m0.2-6h0m-296.7 8.7h0m26.5-0.4h0m241.9 2.6h0m1.7-1.8h0m0.4 3.1h0m0.6-1.9h0m0.3 1.4h0m1-1.4h0m1.2-1.8h0m0.6 1h0m6.4 0.5h0m2.6-0.5h0m0.9-1h0m0.5 1.3h0m0.8 0.7h0m0.6-1.6h0m0.6 0.6h0m0.6 1.3h0m0.7-0.2h0m0.9 0.7h0m0.6 1.8h0m1-3.1h0m0.8-1.3h0m0.6 3.2h0m0.2 1.9h0m0.4-4.7h0m0.5 3.7h0m0.8-1h0m1-3.2h0m0.1-1.7h0m0.4 5.6h0m1.2-4h0m0.6 1.8h0m-276 11.7h0m253.9-2.8h0m2.5-4.3h0m1.6 0.1h0m0.8 4.4h0m3.4-2.9h0m0.6-0.8h0m1 1h0m0.8 4.6h0m1.1-4.4h0m0.5 3h0m0.5-3.1h0m0.5 3.4h0m1.1-1.1h0m0.4 0.1h0m1.2-2.1h0m0.9-1h0m0.4 4.3h0m0.9-4.9h0m0.3 5h0m0.7-3h0m0.6-1.9h0m0.6 0h0m0.7 0h0m0.4 1h0m-278.9 13.5h0m3.1-3.4h0m11.5 3.9h0m251.4-5.6h0m1.2 4.4h0m0.8-4.9h0m0.4 4.9h0m0.8-0.2h0m0.5 0.5h0m0.9-3h0m0.3 1.4h0m0.5-4.5h0m0.7 0.1h0m0.3 1.9h0m1.4-2.9h0m0.5 0.9h0m1 0.7h0m0.2 1.1h0m0.8 2.5h0m0.7 0.8h0m0.7-2.9h0m0.7 2.2h0m-269.6 6.6h0m8.1-2.6h0m256.8 6.2h0m-13.3 9.1h0"/>
<path class="d" d="M1123.2 285.5h0m-16.1 13.8h0m1.7-3.7h0m5.2 0.4h0m3.3 3.2h0m3.1-0.4h0m-18.1 7.8h0m0.8-1.2h0m0.6 0.7h0m0.7 1.3h0m0.8-1.4h0m0.5-3.9h0m1.3 1.3h0m0.4 3.6h0m0.5-4.9h0m0.5-0.1h0m0.5-0.1h0m1.4 3.8h0m0.8-0.1h0m0.7-1.2h0m1.1-2.4h0m1.4 2h0m0.7 2.2h0m0.6-1.5h0m18.8-2h0m-39.9 9.5h0m5.7-0.2h0m2.4 0.8h0m0.4-4.8h0m1 0.7h0m1.8 2.5h0m1.2 0.7h0m0.4-0.8h0m1.2 0.9h0m0.4 2.5h0m0.9-2.4h0m0.7-2.4h0m0.5 1.6h0m1.3-0.5h0m0.6-0.9h0m1.7 1.9h0m104.5 0.9h0m-114.3 4.6h0m52.3 0.1h0m63.2 6.2h0m-123.4 6.6h0m32.8-0.2h0m-45.8 4.6h0m3.6-2.6h0m2.7 0.5h0m0.3 3.9h0m0.6-2.8h0m1.6 2.6h0m1.1-1.3h0m0.6 0h0m1.2 1h0m0.1-0.3h0m0.2-2.9h0m1.1 3.9h0m1.1-0.7h0m-14.2 8.8h0m7 0.5h0m5.3 2h0m150.2-4.2h0m-159.9 9.3h0m632.2 1.7h0m-645.5 4h0m31.4 3.7h0m611.1-0.4h0m-358.2 4.2h0m312-1.4h0m13.3 7.7h0m30-3.6h0m3.5-1.7h0m1.7 0.8h0m-267.8 5.7h0m209.2 1.6h0m54.1 3.2h0m-637.3 6.5h0m356.1 3.2h0m1.9-1.6h0m2.4 0.3h0m0.9 0.5h0m1.1 0.5h0m1.8-0.7h0m0.7 0.9h0m33.1-4h0m174.8-2.9h0m31.2 6h0m10.2 0.2h0m11.7-1.8h0m3.5 0.8h0m3.4-2.9h0m3.4 4.7h0m1.8 0.4h0m1.7 0h0m-559.3 0.1h0m272.7 1h0m4 0.6h0m1.4-0.3h0m0.6 5.2h0m0.3-4.8h0m0.5-1.6h0m2.4 2.5h0m1.4-0.8h0m0.6-1.4h0m0.7 7h0m1-0.7h0m1.4-2.9h0m15.5 1.1h0m86.7-1.3h0m101.7 3.9h0m5.6-3h0m3.1-0.8h0m2.3 3.1h0m15.5 0h0m8.4-0.6h0m21-0.7h0m1.8 1.3h0m1.2 0.3h0m0.4-2.6h0m0.8-1h0m0.6 0.2h0m0.3 0.1h0m0.4 1.2h0m0.2 0.6h0m0.4-1.8h0m0.2-0.7h0m0.8 3.3h0m0.3 0.6h0m0.2-2.5h0m0.3-0.4h0m0.4-0.2h0m0.2 0.7h0m0.3 1.6h0m0.3-4.1h0m0.2 5.7h0m0.2-7.2h0m0.1 0.9h0m0.3-1h0m0.2 1.5h0m0.3 0.8h0m0.2-1.6h0m0.1 4.6h0m0.8-3.7h0m0.9 4.5h0m1-2h0m0.2-0.2h0m-640.8 6h0m372.9 3.9h0m54.6-5.9h0m115.5 5.2h0m9-3.2h0m0.7 2h0m0.8 0.7h0m1.4-0.4h0m0.4-1.8h0m0.7 0.7h0m1.2-0.4h0m11-0.6h0m3.1-0.8h0m1.4 0.2h0m1.1 2.5h0m1.2-0.7h0m1-1.3h0m22.9 0.5h0m0.8 0.2h0m0.6-2.9h0m0.8 1.5h0m0.8 0.6h0m1.4 0.1h0m3.3-1.6h0m9.5 5.5h0m1.6-3.9h0m0.9 2.7h0m1 1.7h0m0.4-2.2h0m0.4 0.2h0m0.7 0.6h0m2.9-3.1h0m3 2.5h0m1-4.1h0m2 1.1h0m1.9 2.3h0m1 1.4h0m0.4-4.6h0m1.1 4.9h0m0.6 0.6h0m0.3-4.9h0m0.5 0.6h0m0.2 5.1h0m0.3-0.1h0m0.5-5.3h0m0.6 0.5h0m0.3-1.2h0m1 0.1h0m0.1 0.5h0m0.5-1.8h0m0.3 7h0m0.8-2.9h0m0.2-1.6h0m1.4 2.5h0m1.3 1.4h0m3.5 0.2h0m3.1-1.2h0m-672.2 8.7h0m276.5-5.9h0m85.8 5.7h0m60.7-2.8h0m75.9-0.4h0m7.2 4.9h0m56.7-2.4h0m0.4-4.2h0m0.4 2.6h0m0.8-2.1h0m1 1.5h0m0.5-2.1h0m0.7 2h0m0.5-2h0m0.7 3.7h0m4.6-1.8h0m27.6 4.8h0m3.2 0.1h0m18.7-5.7h0m3.5 1.6h0m3.5 4h0m26.4-2.3h0m0.9-4.9h0m0.6 0.3h0m0.7 2.3h0m0.9-1.8h0m2.2 1.7h0m1.9-1h0m-658 8.8h0m26.5 2.9h0m309.8-4.4h0m89.6 5.6h0m3.1-1.7h0m12.9 2.4h0m3.8-2.4h0m1-0.1h0m1.1 2.3h0m20.7-6.9h0m5 5.1h0m2.1-0.9h0m1.7 0.2h0m12.5 2.7h0m8.9-6.5h0m2 5.6h0m0.6-1.7h0m1.9 1.5h0m1.8-1.2h0m2.2 2.4h0m1.1-1.5h0m2.7-1.5h0m45.7 0.3h0m53.4-3.5h0m7.5 5.1h0m2.4 1.2h0m4.4-3.1h0m1.2-1h0m1.2-2.8h0m1.2 2.9h0m-629.4 12h0m152.3-0.4h0m280.1-6.8h0m14.6 0.7h0m0.9 0.2h0m0.4-0.3h0m0.7-0.4h0m32 6.1h0m10.1-0.3h0m3.2-5.7h0m5.7 3.1h0m2.6 3h0m0.5-2.2h0m1.3 0.3h0m0.4-3.2h0m0.8 5h0m0.4-2.3h0m0.3 1.7h0m0.7-1h0m0.8-0.9h0m0.7-3.5h0m0.5 2.2h0m0.2 0h0m1.1 3.3h0m0.3-2.4h0m38.3-1.4h0m51.6 4.3h0m16.6 1.2h0m0.6-2.2h0m2.5 1h0m0.5 0.2h0m0.7-1.2h0m0.4-0.1h0m0.3 0.6h0m0.4-0.8h0m0.2 1h0m0.8 1h0m0.3-1.3h0m0.5-0.2h0m0.7-1.1h0m0.3 0.9h0m1-5.4h0m0.3 2.9h0m0.1 2.2h0m0.2-4.1h0m0.1 1.7h0m0.2 3.6h0m0.5-5h0m0.2 0.2h0m0.3 5.9h0m0.5-3.7h0m0.5 3.4h0m0.2-0.5h0m0.4-5.5h0m0.5 2.5h0m0.7 3.8h0m0.5 0h0m0.7-0.8h0m0.3 0.6h0m1-0.6h0m1.7-0.4h0m0.6-2.8h0m1.2 1.3h0m0.8-1.2h0m0.7 1.1h0m0.6-1.5h0m0.7 0.7h0m0.2 0.4h0m0.4 0.2h0m0.6-0.1h0m0.1 0.4h0m0.3-1.3h0m0.8 0.4h0m1-2.2h0m0.7 0.4h0m1.3 0.5h0m0.5-0.1h0m-654.1 12h0m28.4-1.6h0m27.1-2.8h0m296.4 1h0m53.6 1.3h0m36.6-0.9h0m10.2 2.1h0m3.6-2.4h0m0.8 0.3h0m1.1-0.6h0m2.2 3.9h0m1.6 0.2h0m16.5-2.4h0m11.5-1.7h0m22.3 4.8h0m11.4-1.9h0m13 1.6h0m1.8-1h0m2.8-4h0m59.5-0.8h0m11.1-1.5h0m4.5 5.4h0m1.8 1.1h0m2-1.7h0m4.6 2.7h0m1.6-7.5h0m0.6 2.7h0m0.2-0.4h0m0.8 3.4h0m0.1-3h0m0.4 2h0m0.4-4h0m0.5 1.9h0m0.3 1.8h0m0.3 1.5h0m0.3-6.2h0m0.5 1.7h0m0.6-1.2h0m0.3 6.2h0m0.5-6.7h0m0.3 3h0m0.2-2.7h0m0.3 4.4h0m0.2-0.2h0m0-2.3h0m0.1-1h0m0.2 0.3h0m0.1 6h0m0.5-7.2h0m0.3 1.1h0m0.1 3.1h0m0.2 0.7h0m0.4 0.2h0m0.1-1.6h0m0.1 0.1h0m0.2-1.8h0m0.5 2.3h0m0.4-4.4h0m0.3-0.1h0m0.4 4h0m0.2-3.9h0m0.2 0.1h0m0.3 2.1h0m0.4-1.6h0m0.8 1h0m0.7-1.6h0m0.3 1.2h0m0.6-1.3h0m0.4 0.7h0m0.1 1.9h0m0.5-2.5h0m0.4 0.7h0m0.6 0.6h0m0.6-0.7h0m-616.1 8.7h0m32 0.7h0m94.8-2h0m203.3 0h0m52.6 0.4h0m30.8 1.5h0m12-1.9h0m2.4 1.6h0m0.7 2.3h0m1-1.9h0m1.2-1.8h0m1.4 7h0m0.7-3.2h0m0.3-2.8h0m1 3.3h0m0.2 0.6h0m0.5 2.7h0m0.5-4.4h0m0.2 2.4h0m0.6-1.5h0m0.2-0.3h0m4.3 2.7h0m9.3-5.3h0m4.1 4.3h0m5.3-1.7h0m22.4-3.8h0m2.7 0h0m4.4 0.7h0m16.8 3.2h0m3.9-2.2h0m1.7-0.2h0m0.1 0.4h0m0.8-0.5h0m0.2-1.4h0m0.5 3.2h0m0.5-3.2h0m1.4 4.4h0m7.6 1h0m2.1 1h0m20.8 0.7h0m27.8-0.4h0m4.4-0.3h0m6.2-4.2h0m3.3 0.5h0m1.1-1.3h0m0.2 5.2h0m1.2-0.8h0m0.8-4.8h0m0.8 5.8h0m0.6-2.2h0m1.2 2.9h0m0.8-1.6h0m0.7-4.7h0m0.3 4.7h0m0.6-2.8h0m0.3-1.7h0m0.5 3.6h0m0.4 0.5h0m0.6-0.9h0m0.8 2.8h0m0.3-0.4h0m0.3-2.2h0m1 0.4h0m1.1-1.3h0m0.6-0.1h0m0.4 3.4h0m0.4-5.6h0m0.2 1.2h0m0.3-0.2h0m0.3-1.5h0m0.7-0.2h0m0.5 1.9h0m0.5-2.8h0m0.4 0h0m0.3 1.3h0m0.5 1h0m0.8 0.6h0m0.2 4.5h0m0.2-7.6h0m0.1 6.3h0m0.3-4.8h0m0.3 1.1h0m0.6-0.4h0m0.3 0.2h0m0.8-1.2h0m1.1 0.2h0m0.4 5.9h0m-633.9 7.3h0m3.6-4.5h0m1.9 0.9h0m9.8 3.2h0m16.4-0.8h0m29.7 1h0m85.9-6.2h0m0.9 3.4h0m1.4 0.8h0m1-2.5h0m0.8-1.9h0m2.5 3.1h0m195 4h0m4.1-0.3h0m29.1-3.4h0m2.9-1.9h0m34.2 0.8h0m30.9-1h0m5.4 0.7h0m1.6-0.7h0m4.2 3.4h0m1.9-1.7h0m1.1-2.4h0m27.4 6h0m12.5-0.9h0m32.6-5.3h0m5.4 1.6h0m12.5 3h0m1.3 1.7h0m0.9-0.3h0m1.4 0.9h0m1.4-4.6h0m0.2 3.5h0m0.5 1.7h0m1-1.6h0m11-3.4h0m24.5 1.5h0m1.2-3h0m1.3-0.9h0m4 5h0m1.8-0.2h0m4-4.5h0m3 1.1h0m0.6 4.2h0m1.8-5.7h0m0.5 3.6h0m0.6 2.5h0m0.5-2.4h0m0.2 3.4h0m0.3-3h0m0.5-1.3h0m0.5 0.6h0m0.4-0.7h0m0.6-1.2h0m0.3-1.8h0m0.6 4.2h0m0.4-4.3h0m0.2 1.8h0m0.7-1.5h0m0.5 0.3h0m0.2 2.1h0m0.3-0.6h0m0.3 0.4h0m0.5-0.1h0m0.7 2.2h0m0.5 1.3h0m0.3-3.8h0m0.1 4.2h0m0.2-1.1h0m0.5-1.9h0m0.3-0.6h0m0.5-0.8h0m0.5-0.5h0m0.5 5.8h0m0.8-4h0m0.8 4.6h0m0.2-7.6h0m0.3 2.4h0m1-0.3h0m0.6-1.9h0m0.4 5.4h0m0.6 1.2h0m1.7-3.4h0m1.7-1.2h0m-633.4 6.6h0m1.4 6.2h0m2.5-1h0m4.3 0.4h0m2-4.1h0m0.7 2.8h0m1.6-0.1h0m1.9 1.5h0m2.8-1.4h0m0.5-0.8h0m1.2-1.4h0m0.4 0.6h0m0.2 2.2h0m1.1-1.3h0m0.6-2.4h0m0.3 1.2h0m0.4 2.7h0m1.1-2.4h0m0.5 0.8h0m0.6-0.3h0m0.4-1.4h0m125.9 2.3h0m81.1-0.7h0m17.3-2.3h0m99.4-1.5h0m1.1 1.8h0m41.8-0.3h0m39.8 3.7h0m33-1.3h0m38.7-1.1h0m22.1 1.5h0m29.7-4.5h0m2.3 3.6h0m7.1-3.2h0m22.1 6h0m11.4-3.3h0m0.8-3.2h0m2.4 3.9h0m0.8 0.8h0m0.9 0.3h0m0.3 0.9h0m0.2 1.6h0m0.6-1h0m0.3-1.6h0m0.7-2h0m1.1 0.3h0m2.8 1.9h0m4.6-5h0m0.8 3.5h0m0.8-0.4h0m0.7-1.4h0m0.9 0.3h0m4.2-1.7h0m1 1.4h0m1.6-1.3h0m1.1 1.2h0m1.1-0.8h0m1 0.7h0m0.4 0.1h0m0.5 1h0m1-2.6h0m1 2.4h0m1.1-2.7h0m-627.1 14.2h0m0.3-6h0m0.4 5.3h0m0.4-0.6h0m0.1 0h0m0.2 2.2h0m0.6 0.2h0m0.7-2.3h0m1.3-1.9h0m0.4 1.9h0m0.8-1.5h0m0.5 2.3h0m0.4-1.1h0m1-2.7h0m0.5 2.6h0m0.2-3.3h0m0.8 0h0m0.3 2.2h0m0.3 4h0m0.6-1.6h0m0.7-2.2h0m1.9 1.6h0m2.2-2.5h0m3-1.2h0m2.3 4.4h0m207.7 0.5h0m3.4-1.9h0m10-3.1h0m100.3-0.3h0m103.7 1.2h0m23-0.9h0m15 5.1h0m18.8 0.8h0m12.1-5.8h0m0.6 3.4h0m0.6-2h0m0.7 1.1h0m0.3 2.2h0m1.5-0.1h0m0.2 0.2h0m0.6-1.3h0m0.3 0.4h0m0.5-3.6h0m37 3h0m22.9 1h0m4.5-3.2h0m3.8 5.1h0m2.5-6.3h0m0.7 3.3h0m0.9 0.1h0m0.8 1.2h0m0.3-0.4h0m0.7-1.3h0m0.9-0.8h0m0.2-0.3h0m0.5-1.3h0m0.3 0.4h0m0.4-0.6h0m0.2 0.8h0m0.3 3.3h0m0.7-2.9h0m0.4 4.3h0m0.3-5.2h0m0.4-1.3h0m0.6 2.6h0m1 3.3h0m0.1-5.8h0m0.5-1h0m0.2 7.2h0m0.2 0.1h0m0.2-1.2h0m0.3-4.2h0m0.2 3h0m0.6-0.1h0m0.2 0h0m0.3 0.3h0m0.7-1.6h0m10.9-1.5h0m1.2-0.9h0m2.8 5h0m3.1 0.3h0m-621.9 1.5h0m2.2 1.9h0m0.4 4h0m0.5 1h0m1.4-5.5h0m0.8 4.6h0m0.5 0.8h0m0.4-3.7h0m0.8 0.2h0m1.4 3h0m0.4-3.1h0m0.4-1.7h0m0.6-0.3h0m1.1 6.6h0m4.3-7.5h0m1.3 7.3h0m4.3-5.4h0m207.7-1.1h0m1.6 4.8h0m2-5.2h0m1 5.2h0m1.1-1.3h0m0.7 0.5h0m1.3-0.3h0m0.1-0.3h0m0.6 0.8h0m1.6-2.1h0m3.2 0.2h0m2.2 1.8h0m3.6-2.3h0m187.8 3.9h0m20.6-5.8h0m19.3 3.7h0m0.7-2.1h0m0.9 2.9h0m0.8-1h0m0.5 1.1h0m0.3-2.8h0m0.8 2.5h0m2.5-3h0m17.3 0.7h0m0.9 2.6h0m0.3-2.1h0m0.5-2.3h0m1.2-0.1h0m1 0.5h0m14.8 2.8h0m33.9-2.2h0m39.1-1.9h0m0.8 6.3h0m0.9-0.5h0m0.3-4.2h0m0.7 0.6h0m0.4 2h0m0.3-3.4h0m0.5 2.5h0m0.3-2.4h0m0.7 1.7h0m0.3-1.6h0m0.4-0.3h0m0 0.2h0m0.4 0.4h0m0.2 0.3h0m0.3-1.9h0m0.1 2.3h0m0.4 4.6h0m0.2-0.9h0m0.3 0.9h0m0.8-5.1h0m0.4 2.7h0m0.1-4.3h0m0.6 2.7h0m0.4 0.1h0m0.9-1.2h0m0.2-1.4h0m2-0.3h0m5.3 6.1h0m7.1-5.7h0m3.4 1.4h0m2.1 0h0m-617.7 8.1h0m1.2 0.3h0m1.5-1.6h0m1.9 0h0m1.5 2.1h0m1.4-2h0m11.8 3.6h0m118.5-0.6h0m87.8 3h0m0.5-5.2h0m6.2 1.9h0m8.4-2h0m116.6 2.8h0m79.9-3.9h0m32.8 5.1h0m16.3-2.2h0m6.8 0.9h0m0.7-2.5h0m0.6 1.5h0m0.8 0.2h0m1 2.2h0m0.7-4h0m1.3 1.6h0m0.3 4.1h0m90.6-2.1h0m4.1-5h0m19 6.2h0m-609.6 4.3h0m6.3 1.5h0m9.4 1.5h0m10.3-4h0m4.3 2.9h0m153.2-2.9h0m43.3 4.3h0m7.7 0.1h0m3.1 1.1h0m120.6-1.8h0m2.1 0h0m1.5-2.6h0m2.4 2.8h0m0.5-0.4h0m0.6 1.9h0m0.6-4.5h0m1.2 3.5h0m26.1-1.4h0m32.3-2.6h0m68.4-1h0m31.9 2.5h0m8.8-1.6h0m34.2-0.1h0m6.5 0.7h0m15.4 4.8h0m22.3-7.4h0m-597.5 9.7h0m10.3-0.3h0m6.9 0.7h0m192.2 5h0m11.7-6.9h0m113.8-0.2h0m6.6 1.3h0m3.6 0.7h0m3.3-1.5h0m0.8 1.2h0m0.8 0.3h0m2.6-1.8h0m38.8 6.6h0m6.8-3.7h0m1.2-2.3h0m0.5 1.3h0m0.5 1.1h0m0.6 1.8h0m0.7-2.6h0m0.5 3.3h0m0.5 0.8h0m0.1-4.7h0m0.3 2.7h0m0.2-2.1h0m0.4 1.4h0m0.3-0.6h0m1.6-1.2h0m1 3h0m4.7 0.8h0m50.6-0.5h0m0.9 1.8h0m0.7-2.1h0m0.7-0.3h0m0.6 0.2h0m0.6-2.6h0m0.7 2.8h0m0.7-0.6h0m13.6 2.2h0m44.3-0.3h0m34-4.7h0m13.5 2.6h0m0.6-2h0m0.3 0.4h0m1.3 3.3h0m0.1-5.4h0m0.1-0.2h0m0.4-0.2h0m0.7 4.7h0m0.6-0.3h0m2.6 0h0m9.2 0.2h0m0.9 0.2h0m0.2 0.5h0m0.7 0.4h0m0.3 0.9h0m2.4 0.8h0m-568.6 3.8h0m40.4 2.7h0m3.1 0.1h0m3.2-2.1h0m2.5-1.1h0m2.4 3.5h0m0.6-3h0m1.6 1.7h0m18.5-3h0m163.5 1.5h0m146.5-2.9h0m1.5 0.4h0m32.2 0h0m24.2-0.1h0m16.5 0.4h0m2.1-1.3h0m56 5.3h0m4-1.4h0m9.4-0.4h0m21.8 3.7h0m5.3-6.5h0m7.5 3.4h0m4.2-3.2h0m0.4-1.1h0m0.4 1.7h0m0.2 0h0m0.6-1h0m0.8-0.4h0m0.4 3.6h0m0.3-1.1h0m0.9 1.5h0m1-1.7h0m-607 11.9h0m20.2-4.1h0m6.9 0.7h0m44.3 3.5h0m2.3 1.4h0m1.6-5.7h0m2.2 1.8h0m1.2-3.9h0m1.3 2.9h0m0.9 3.6h0m1.3-6.3h0m3.4 4.1h0m0.7 2h0m1.6-5.3h0m2.7 3.7h0m1.3 1.7h0m9.7-3h0m215.6 1.1h0m5.7 0.6h0m104.2-2.2h0m45.2-2.6h0m57.9 1.6h0m31.1 2.4h0m7.8 2.3h0m6.6 0.8h0m9.3-1.3h0m3.4-6.1h0m16.4 3.1h0m-588.6 10h0m13.8-3.4h0m4 6h0m4-7.2h0m19.5 4.7h0m14.2-3.3h0m2.4-0.8h0m2.9 3h0m1.7-1.5h0m3.6 4.2h0m1.8-4.2h0m1.3 2.6h0m3.2 1.1h0m1-5.3h0m1.1-0.3h0m4 0.8h0m94.5 1.7h0m174.6 2h0m10.9 2.5h0m62.6-3.1h0m29.5 1.5h0m30.8-6.1h0m23.3 7.4h0m24.9-3.5h0m5.2 1.8h0m1.3 0.3h0m0.6 1h0m1.5-0.1h0m2.3-0.1h0m1.3-2.2h0m0.7 0.4h0m0.3 0.5h0m1.4-4.4h0m0.6 6h0m1.7 0.3h0m1.7-1.3h0m5.5-0.8h0m1.1-0.6h0m0.4-1h0m0.5 2.1h0m0.6-1h0m1.2 2.4h0m1.3-1.3h0m0.8 0.7h0m7.3-2.2h0m5.4-2.2h0m1.8 1.9h0m10.2 3.1h0m-598.7 1.2h0m20.6 7.3h0m0.5-5.8h0m0.3 4.6h0m0.9-1.5h0m0.9-1.6h0m0.5 0.9h0m0.5-0.7h0m0.1-3.5h0m1.4 1.7h0m0.9 5.1h0m0.6 0.7h0m1.9-7.1h0m0.5 7.2h0m0.7-6.4h0m0.7 5.3h0m0.9-1.5h0m0.2-2.4h0m0.2-1.9h0m0.7 7h0m0.8-0.4h0m0.9-6h0m1-0.1h0m0.7 5.8h0m1.5-2.6h0m0.8 0.3h0m0.5-3.4h0m0.8 3.5h0m0.5-1.4h0m5.1-2.4h0m9.8 6.5h0m13-0.9h0m3.7-1h0m32.1-5.5h0m244.2-0.3h0m45.4 2h0m62.2 2.2h0m6.5 3.7h0m6.5-3.2h0m30.5 1.6h0m19.7-1.4h0m19.8 2.5h0m9.2-1.4h0m1.4 1h0m4.1-1.6h0m4.4-0.1h0m12.1-3.4h0m1.2 0.4h0m1.4 1.6h0m0.8-2.7h0m2 2.2h0m0.4-2.6h0m1.7 4.6h0m2-2h0m3.1-2.1h0m2 4.2h0m4.4-3.1h0m3.4-0.9h0m20.4 4.1h0m-595.9 4.7h0m1.7-1.9h0m2.3 3.2h0m0.6-3.2h0m2.1 1.3h0m1.9 2.4h0m1.3-1.5h0m1.2 0.4h0m3.8 1.5h0m1.7 2.8h0m0.5-0.2h0m0.6-3.5h0m0.8-0.1h0m0.5 4.1h0m0.5-3.7h0m0.8-0.6h0m0.4-1.8h0m0.7 3.6h0m0.4-1.1h0m0.3-0.2h0m0.3-2.9h0m0.6 1.4h0m3.2 0.4h0m11.8 4h0m6-2.3h0m12.4 1.5h0m8.6-5.3h0m32.4 6.1h0m135.3-2.7h0m86.9 0.6h0m20.8-0.7h0m6 0.1h0m60.6-3.2h0m35.7-0.2h0m1 0.3h0m0.5 0.7h0m0.5 1.9h0m1-2.8h0m1.1 6.4h0m0.5-5.6h0m0.6 1.7h0m0.5-2.5h0m2.3 1.3h0m31.5-1.3h0m0.8 1.6h0m19.3 4.6h0m1.3-0.2h0m2.3-3.2h0m15.1-2.8h0m4.1 6.6h0m1.3-0.4h0m1-1.9h0m0.9 1.2h0m2-0.9h0m0.2 0.4h0m0.4 1h0m11 0.3h0m11.6 0.5h0m1.2-0.2h0m0.8-2.2h0m0.8 0.7h0m2.1 1h0m3.4 0.3h0m10-6.3h0m8.2 0.2h0m-572.5 7.8h0m8.6 3.9h0m1 1.9h0m0.2 0.9h0m1-2.1h0m0.7-2.2h0m0.4 3.3h0m0.5-0.9h0m0.3 0.6h0m0.5-4.9h0m0.3 5.5h0m0.1 0.8h0m0.4-7.1h0m0.7 4.4h0m0.6-0.9h0m2.3 1.9h0m6.9-3.6h0m8.7-1.6h0m24.1 5.6h0m99.2-2.9h0m23.5-2.3h0m130.3-0.2h0m1.1 3.4h0m0.9-2.4h0m1.2 1.9h0m1.6-0.8h0m19-2.6h0m6.4 0h0m67.8 7.2h0m20.1-5.9h0m30.5 5h0m4-1.1h0m35.7-5.4h0m2.4 5.2h0m0.5 0.9h0m2.5 0.5h0m2.5-1.8h0m4 0.2h0m5.7 0.4h0m1.3-5.5h0m3.7 2.2h0m1.5-1.3h0m1.2 6.6h0m7.3 0.3h0m7.1-1.2h0m6.8-2h0m3.8-4.6h0m18 0.9h0m-558.2 11.6h0m0.9-0.7h0m0.4-3.5h0m0.4 0.7h0m0.4-0.7h0m0.5 2.8h0m0.6 0.6h0m0.3-1.6h0m0.5 1.9h0m0.4-1.2h0m0.5 1.9h0m0.2-2.5h0m0.3-0.7h0m0.4 2h0m0.4 0.8h0m0.3-2.2h0m0.2 3.7h0m0.5 1h0m0.2-4.5h0m0.3-0.9h0m0.3 1h0m0.5 4.8h0m0.5-7.4h0m0.6 7.9h0m0.7-0.6h0m0.7-3.5h0m0.6 2.4h0m4.2 1.7h0m0.8-7.3h0m2.2 6.9h0m0.6-1h0m0.9 0h0m0.5 1.3h0m0.5-3.4h0m0.4 2h0m2-3.5h0m2.8-2.1h0m2 2.7h0m3.7-0.9h0m1.2-0.7h0m1.5 2.1h0m1.7-3.8h0m1 1h0m4.1 6.3h0m1.4 0.4h0m1.8-5.4h0m4.1 0.7h0m24.5 4.3h0m77-2.8h0m3-0.2h0m2.1-2h0m3.3 0.3h0m2.6 3h0m2-1.9h0m3.1 0.2h0m114.7-1.3h0m1.6 0.5h0m0.3-1.6h0m0.5 0.2h0m0.7 1.2h0m1.4-1h0m0.8-1.4h0m0.6 4.8h0m1-3.5h0m41.4 5.7h0m50.8 0.2h0m4.3-0.1h0m1-0.7h0m1.2 0.5h0m1.2-2.8h0m0.7-0.6h0m0.3 2.6h0m0.5 0.2h0m2.3-1.2h0m10.4-5.4h0m43.9 2.7h0m6.9-1h0m2.9 0.2h0m26.8 1.1h0m5.3 4.6h0m2.8-6.5h0m0.9 1.6h0m1.7-1.4h0m3.7 5.3h0m1-6.5h0m12.5 6h0m16.7-1.8h0m8.6 3.1h0m14.2-3.3h0m4.3-0.6h0m1.7-0.3h0m-552 9.7h0m1.3-0.4h0m1.8 2.1h0m0.9-4.2h0m1-1.7h0m1.4 3.6h0m0.4 1h0m0.2 1.1h0m0.6-6.4h0m0.5 3h0m0.2 0h0m0.3-2.6h0m0.8-0.4h0m0.4 0.5h0m0.8 1h0m1.3-0.5h0m1 5.5h0m0.6-5.6h0m0.9 6h0m0.7-5.9h0m0.9-0.4h0m1.3 3.9h0m0.4 2.6h0m4.7-6.9h0m4.6-0.5h0m26.8 7.8h0m3.4-4.9h0m2.5 4.4h0m2.2-4.4h0m1.9 2.9h0m2.6-4.5h0m1.5 2.5h0m2 1.6h0m0.4-1.2h0m1.6 1.6h0m2.5-1.6h0m73.8-1.9h0m70.8 4.7h0m59.3-5.5h0m42.9-1.5h0m27 5.4h0m3.1 1.6h0m1.2 0.5h0m0.9-0.4h0m23.6-6.4h0m4 3.2h0m1.7 1.4h0m1.5-4.9h0m22.5 2.4h0m17.2 5h0m4-4.5h0m3.5-0.1h0m2.2-2.1h0m20.9 3.3h0m4.2 2.5h0m1.9 0.4h0m3.2 0.3h0m3.9-3.2h0m1.7-0.4h0m16.7-3.1h0m14.3 0h0m5.3 4.6h0m2.9-2.7h0m0.8 1.1h0m0.7-1.4h0m0.5 0.9h0m0.8 1h0m5.7 1.3h0m1.5-0.3h0m6.4-5h0m2.1 2.5h0m1.4 3.8h0m5.9-5.2h0m2.1-0.1h0m1.6 0.9h0m-538.2 11.4h0m0.5-4.7h0m0.9 2.9h0m0.5-0.5h0m0.9 0.2h0m0.3 2.2h0m0.9-0.8h0m1.6-3.4h0m0.8-0.2h0m0.6 4h0m1-4.8h0m0.9 0.3h0m0.3 5.5h0m0.6 0.3h0m1.5-3h0m1.6-3.2h0m1.3 5.6h0m0.6-1.9h0m0.5-0.1h0m0.5 0.7h0m1-3.4h0m1.1 3.1h0m7.4 1.5h0m27.8-0.2h0m1.2 0.4h0m3.2-0.4h0m1.5-3.5h0m1.6-0.2h0m1.9-1h0m2.8 2.7h0m1.1 3.5h0m1.7-4.8h0m2.8 4.1h0m1.6-6.1h0m2.6 5.9h0m1.7-2.1h0m2.4-0.5h0m1-3.2h0m2 4.8h0m202.5 1.2h0m64.5-5.9h0m2.7 1h0m2.6-0.6h0m23.2 3.9h0m58.7 1.1h0m4.8-0.9h0m13.4-1h0m1.9 2.1h0m1.1-5.4h0m0.1 5h0m1.3-2.9h0m0.4 0.2h0m0.4 3.2h0m0.4 0.7h0m0.3-2.6h0m0.2-0.5h0m0.1-2.6h0m0.2 1.3h0m0.1 3.5h0m0.3-0.8h0m0.2 0h0m0.2-2.8h0m0.1 2.4h0m0.4-4.3h0m0.7 4.7h0m0.1-1.1h0m0.9 2.9h0m0.4-1.5h0m0.4-0.5h0m0.2 0.1h0m0.5 2.1h0m0.3-0.4h0m0.3-4.3h0m0.3 1.4h0m0.6 2.8h0m0.1-2.5h0m0.6 0.3h0m0.7-0.6h0m0.5 0h0m0.7 1.6h0m0.7-1h0m0.4 1.9h0m3.1-6.1h0m2.5 2.2h0m19.5 0.4h0m4.9 2.2h0m2.4 2h0m8.1-1.9h0m3.1-0.7h0m6.6-4.5h0m7 1.6h0m-485.8 10.3h0m12.4 1.8h0m1.8-2.6h0m3.1-0.4h0m5.7 3.7h0m4-4.6h0m1-0.1h0m3.3 1.1h0m1.1 3.9h0m1.5-5.6h0m1.2-0.9h0m1.6 2h0m2 0.4h0m11.2 2.5h0m167.5 2.5h0m93.1-6.9h0m63.4 6.3h0m7.6-0.3h0m1.3-2.8h0m1 2.2h0m1.8 1.6h0m0.9-1.3h0m0.8-2.4h0m1.7 1.1h0m1.6-0.2h0m11.2-2.1h0m9.5-0.8h0m2.6-1h0m0.5-0.7h0m1.3 0h0m0.4 7.2h0m0.1-3.1h0m0.3-0.5h0m0.8-2.1h0m0.8 4.9h0m0.5-2.7h0m0.5-0.5h0m0.3 0.2h0m0.6 0.2h0m0.2-2.4h0m0.2 2.6h0m0.5-2h0m0.3-1.6h0m0.2-0.5h0m0.4 2h0m0.3-1.8h0m0.4 2.6h0m0.6 1.9h0m0.3 2.1h0m0.4-2.3h0m0.5 0.5h0m0.8 1.9h0m0.5-6.4h0m0.2 0.2h0m0.6 4.7h0m1.1 1.3h0m0.5-3.4h0m0.4 1.4h0m21.6 2.6h0m2.3-5h0m1-1.7h0m0.5 2h0m0.7-1.5h0m8.7 1.4h0m5.5-1.5h0m9.3 3h0m4.1 0.5h0m2.3-0.5h0m0.6 2.7h0m0.1-2h0m0.5 2.7h0m1.3-1.4h0m0.6-0.2h0m-466.7 7.9h0m5.1-5.8h0m7.7 5.9h0m8.5-2.3h0m8.3 3.7h0m124.9-4.6h0m75.4 4.8h0m35.2-0.4h0m54-6.1h0m26.7 2.2h0m8 0.8h0m6.4-3.1h0m2.9 0.2h0m1.1-0.6h0m1.8 0.3h0m0.3 0.4h0m1.7 4.1h0m1.3-3.4h0m22.9 2h0m5.7 1h0m12.1 0.8h0m1.2-0.8h0m0.3 1.5h0m1 0h0m5-4.7h0m29 0.2h0m7 5h0m9.1-6.7h0m-467.9 10.9h0m8.6 1.7h0m14-2.9h0m4.2 3.6h0m7.3 0h0m138.4 2.2h0m50.1-5.6h0m1 2.4h0m1.8 1.9h0m0.8 0.8h0m1.5 0.4h0m2.1-4.7h0m1.7 3.7h0m1.1-6.7h0m1.1 7.1h0m1.8-5.2h0m2 0.9h0m33.6 0.6h0m43.7-1.7h0m10.9-0.2h0m39.6-1.5h0m29 4.2h0m6 0.5h0m0.3 0.3h0m0.8 1h0m16.2-3.2h0m1.5-1.8h0m18 5.5h0m7.6-5.8h0m8.8 5.2h0m1 1.3h0m0.8-2.1h0m1.7 1.2h0m-452.9 3.3h0m16.6-0.5h0m32.2 6h0m42-3.1h0m125-3h0m0.9-0.9h0m0.5 4.9h0m0.6 0.3h0m0.7-3.7h0m1.4 3.6h0m0.2-2.9h0m0.6 3.2h0m0.5-1.9h0m0.8 1.6h0m0.8-1.5h0m1.1 0.8h0m0.1-1.9h0m1 1.2h0m1 0.9h0m1.1-1.4h0m1.1-2h0m1 3h0m0.5-0.5h0m0.4-1h0m0.5 0h0m4.1 1.9h0m14.1 1.2h0m5.9-2.2h0m10.5 3.2h0m2.1-6.8h0m1.8 1.2h0m4.2 3.9h0m16.7 2h0m3.9-0.1h0m20.9-1.1h0m2.2 0.3h0m2.7 0.3h0m1.1 0.1h0m3.1-1.7h0m13.7-1.2h0m24.9 1.5h0m12.8-4.2h0m0.8 0.8h0m2 3.9h0m1.1 0.5h0m1.3-3.2h0m1.5 0.6h0m26.1 1.4h0m13.5 1.8h0m23.8-4.3h0m5.7-2.1h0m-365.4 9.7h0m1.8-0.1h0m1.4 4.5h0m1.5-0.8h0m1-5.7h0m1.3 5.7h0m0.6-1.5h0m0.9-1.6h0m51.5 4.4h0m9.3-2.8h0m63-0.7h0m12.2-3.2h0m19.4 3.9h0m17.8-3.3h0m46.6-1h0m1.1 3.5h0m0.3-3.5h0m1.4 3.4h0m0.7-3h0m1 3.3h0m1.9-1.8h0m56.9 1.2h0m29.7 1.3h0m1 0.9h0m10 0.2h0m29.5-0.1h0m-306.9 8h0m80.4-1.5h0m23.4-3.6h0m25.6-0.3h0m120.8 4h0m5.6 1.6h0m16.2 2.2h0m8.9-0.4h0m2.7 0.2h0m20.8-0.7h0m-231.2 7.1h0m5.4-3h0m62.9 1.7h0m12.1 0.3h0m39.5-4.9h0m4.7-0.2h0m10.7 7.1h0m3.3-3.4h0m2.2 0.3h0m9.3 2.1h0m10.3 0.7h0m8.3-0.6h0m12.3-4.1h0m10 3.1h0m4 2.1h0m1.4 0.1h0m0.6-0.9h0m0.5-0.7h0m9.9-0.2h0m22.1-5.3h0m1.6 2h0m0.6 2.3h0m0.7 2h0m1-1.5h0m0.6 0.7h0m1.7-1.6h0m0.5 1.9h0m0.3-3.3h0m-240.3 13.2h0m2.2-1h0m2.1 0.2h0m1.9-0.8h0m3.3-4.6h0m17.4 3.6h0m52.2-5.2h0m17.9 4.5h0m0.4-0.5h0m0.6 0.8h0m2 0.7h0m0.4 1.3h0m0.9-1.4h0m0.9 1.1h0m1.1-0.8h0m6.3-2.3h0m10.7 4.2h0m9.3-1h0m5.8-3.8h0m4.4 0.9h0m1.2 0.7h0m4.2-1.8h0m2.2-0.6h0m6.2-0.7h0m0.6 2.2h0m0.6 1h0m0.5-3.6h0m23.5 3.4h0m1.6 0.9h0m18.6-5h0m27.3 7h0m1.9-5.1h0m2.3 4.4h0m5.3-2.9h0m2.7 2.7h0m2.8-4.4h0m-243.9 8.3h0m1.4 3.3h0m1.1-0.6h0m0.5-0.8h0m0.4 2.6h0m0.1-5.9h0m1 0h0m0.4 6.5h0m0.1-3.9h0m0.6 2.7h0m0.7-5.4h0m0.3 2.4h0m2.1-1.2h0m0.8 2.7h0m18.8-3h0m6.8 5.8h0m2.2-5.4h0m2.2 3.5h0m1.1-0.6h0m1.3 1.6h0m0.4-1.8h0m22.1 0.5h0m2.7-2.2h0m5.5 1.8h0m14.6 0.4h0m1.7 1.1h0m1.7-1.9h0m11.9-3.3h0m0.4-1.1h0m1.4 0.3h0m7.5 6.2h0m5.6 0.6h0m0.7-1.2h0m0.5-0.5h0m1.1 0.6h0m1.2 0.1h0m0.8-0.4h0m0.5 0.5h0m0.5 0h0m19.5-4.5h0m87.8-0.6h0m0.9 1h0m0.7 0.3h0m2.3-1.7h0m1 6.6h0m4.8-0.7h0m9 1h0m0.3-1.7h0m1.1 0.7h0m2.3-0.3h0m-261.6 8.5h0m3.3 0.4h0m2.2 0.1h0m0.8-0.3h0m17.8-3.8h0m18.8 3.3h0m0.5-6.3h0m0.4 5.1h0m0.1-1.4h0m0.8-3.5h0m1.3 4.3h0m0.8-3.5h0m0.2 6.2h0m0.5-3.4h0m0.5-2.8h0m1.2 5.6h0m1.5-1.2h0m1.6-2.9h0m0.7-1.5h0m0.6 6.1h0m0.8-1.8h0m9.6-2.7h0m3.2-1.7h0m2.3 0.9h0m29.8-1.4h0m19.6 1h0m6.8 1.4h0m0.8 2.8h0m0.3-1.9h0m0.2 3.6h0m0.4-2.7h0m0.3 0.1h0m113.4 0.9h0m2-4.9h0m1.6 1.6h0m3.2-0.7h0m2.9 2.4h0m2.8 1.8h0m0.7 1.2h0m3-4.9h0m0.9 3.9h0m0.5 0.1h0m0.2 0.4h0m0.8-0.3h0m0.7 0.1h0m0.4 0h0m0.3-0.8h0m0.7-5.6h0m1.2 7.7h0m5.2-2.2h0m-269.1 5.7h0m0.5 1.5h0m0.9-3.4h0m0.2-1.3h0m1.7 0.6h0m0.5 1.5h0m0.1 2.4h0m1.1 0.1h0m0.9-0.1h0m0.1-0.2h0m1.8-0.7h0m0.5-1.3h0m2-0.1h0m30.2 1.1h0m3-2.6h0m2.3 3h0m1.3 0.3h0m0.4-4.2h0m1.1 0.7h0m3.2-0.1h0m1.1 0.4h0m0.7 3.8h0m2.2-1.3h0m3.1-0.5h0m60.5-2.8h0m122.5 3.3h0m1-0.8h0m1.7 0.2h0m2.8 4.7h0m9.9-4.5h0m1.7 0.8h0m1.2-3.8h0m0.7 3.5h0m0.3 0.1h0m0.3-2h0m0.2-0.3h0m0.4 5.4h0m0.5-1.2h0m1.1-5.6h0m1.1 5.2h0m3.4-4.5h0m0.2 3.2h0m0.8-1.3h0m0.6 2.6h0m1 1.9h0m-246.9 7h0m25.2-3h0m190.8 1.2h0m0.2-0.1h0m1 1h0m2.2-0.2h0m0.6 1.9h0m0.4-6.5h0m0.3-0.4h0m0.6 5.3h0m0.6-0.2h0m0.8-0.6h0m0.2-4h0m0.8 6.5h0m1-1.5h0m3.1-1.6h0m0.4-0.5h0m0.1 3.1h0m1.3-4.2h0m0.8 4.4h0m0.7-3.2h0m0.7-2.5h0m0.4 1.2h0m1.1-0.9h0m1.1 2h0m0.5-2h0m1.1 4h0m1.4-5h0m2.6 2.8h0m1.9-0.3h0m2.9-2.6h0m1.6 0.3h0m4 4.9h0m-282.7 10.1h0m248.3-6.7h0m0.9-0.8h0m4.2 6.2h0m0.8-2.6h0m1.3 0.4h0m0.5 1.4h0m0.6 0.8h0m1.1-1.9h0m5.2-1.2h0m7.1 4.1h0m12.4-5.1h0m0.9 0.2h0m0.5-0.8h0m0.7 6.1h0m0.7-5.5h0m0.6-0.5h0m5.9 5.9h0m-269.3 7.3h0m5.8-2.1h0m225.6-2.6h0m1.1 0.3h0m1-0.9h0m0.7-1.2h0m0.9 1.1h0m0.7 1.7h0m3.4 2h0m4.5-4.2h0m11.5 5.5h0m0.9-4.4h0m0.3 0.7h0m0.4-2.4h0m0.4 7.5h0m0.4-7.1h0m0.6 6.1h0m1.1-2.7h0m0.6 2.4h0m0.9-6.4h0m0.5 2.7h0m0.7 1h0m0.5-0.3h0m1.1 2.6h0m0.2-5.3h0m0.6 4.1h0m0.9-3.6h0m0.5 2.8h0m1.4-2.4h0m0.7 5.6h0m1.1-5.8h0m0.3 1.2h0m-296.5 10.2h0m30.5-2.5h0m237.8 0.5h0m1.6 2.1h0m0.4-2.6h0m0.5-1.2h0m0.6 3.9h0m0.9-2.7h0m1.1-1.2h0m0.7 1.3h0m6.8 1h0m2.2-1.7h0m1 0.9h0m0.3 4.4h0m0.7-5.1h0m0.7-2h0m0.6 1.8h0m0.6 0h0m0.7 0.1h0m0.8 5.7h0m0.8-7.2h0m0.9 6.1h0m0.7-6.5h0m0.7 0.7h0m0.5 7.2h0m0.1-0.9h0m0.5 0.5h0m1-7.2h0m0.7 4.6h0m0.3-4.9h0m0.6 2.7h0m0.8 1.5h0m0.6-1.3h0m-274.7 12.5h0m252.7-3h0m2.5-1.9h0m1.8-2.5h0m1 1.6h0m3.1 2.5h0m0.4 2h0m1.2-2.9h0m0.6 0h0m1.1-1.9h0m0.5 5.5h0m0.6-0.2h0m0.8-6.6h0m0.8 6.2h0m0.8-4.5h0m0.8-0.7h0m1.1 2.1h0m0.4-0.2h0m0.6 1.6h0m0.6 1.9h0m0.4-6.4h0m1.1 0.8h0m0.7 2.9h0m0.1 2.2h0m0.6-5.1h0m-277.8 9h0m4-1.6h0m10.7 7.7h0m250.1-7h0m1.2-0.5h0m0.8 4.5h0m0.6-2.9h0m0.6-1.4h0m0.5 7.2h0m0.9-6.6h0m0.4 5.7h0m0.5-3.1h0m0.5-3.5h0m0.3 5.2h0m1.8-0.5h0m0.2-0.4h0m0.9-0.7h0m0.6-1.2h0m0.4-1.6h0m0.8 6.5h0m0.8-5.3h0m-273.8 8.9h0m4.8-1.7h0m8.1 2.6h0m257.1 3.5h0"/>
<path class="d" d="M1101.2 298.7h0m6.7-1.4h0m2.3-1.8h0m4.6 0.4h0m3.2 1.5h0m2.6 0.6h0m-18.3 9.5h0m0.9-5h0m0.7 1.2h0m1-0.1h0m0.4 0.3h0m0.5 0h0m1.4 1.3h0m0.3 0.8h0m0.4-3.5h0m0.9 4.9h0m0.3-3.1h0m1.9-1.3h0m0.3-1.2h0m1-0.3h0m0.6 0.4h0m1.6 1.4h0m0.6 4.1h0m0.7-2h0m-23.4 7.4h0m7.6 1.4h0m0.3-2.7h0m2.6-2.6h0m0.2 5.8h0m1-4.9h0m1.9-0.4h0m1.1 1.1h0m0.5 4.4h0m1.1-6.5h0m0.3 4.2h0m1.4-0.1h0m0.3 3h0m0.6-0.3h0m1.2-6.7h0m1.2 3.6h0m2.9-2.3h0m-20.7 7.6h0m9.9-0.3h0m53.6 0.6h0m160.8 5.3h0m-212.9 2.9h0m29 5.8h0m-52.3 0.8h0m4.4-0.1h0m2 4.4h0m0.3-0.2h0m0.9 1.3h0m1.4-0.9h0m0.9 0.4h0m0.6-0.9h0m1.3 2.6h0m0-6.1h0m0.5 4.1h0m1-0.7h0m34.9-1.5h0m-46.5 8.8h0m7.5 3.9h0m6.9-3h0m352.2-0.1h0m-64.5 10.1h0m332.8-2h0m-631.4 11h0m582.4-4.8h0m-594.5 6.3h0m393.2 3.3h0m211.4-2.6h0m4.7 2.4h0m26.5-0.8h0m3.6-0.7h0m-634.9 9.6h0m404.4-0.8h0m204.2 0.8h0m23.9 1.1h0m-632.4 10.5h0m350.9-0.6h0m2-1.6h0m2.2 1.7h0m1.1-0.1h0m1.1 0.2h0m1.8-4.4h0m0.4 3.8h0m38-4.6h0m186.3 2.2h0m15.2 0.2h0m15.7 1.9h0m6.6 0h0m3.1-0.1h0m5.9 0.6h0m0.6-0.1h0m2-0.3h0m-652.8 3h0m96.3-0.9h0m274 1h0m1.4 1.1h0m1.6 0.8h0m0.3-0.2h0m0.4 0.8h0m0.4-0.4h0m2.6-1.9h0m1.3-0.3h0m0.6-1.1h0m0.7-0.1h0m1 6.6h0m1.8 0.1h0m55-1.5h0m145.9-1.7h0m3.4 3.9h0m5.7-4.5h0m2.5 4.3h0m2.2-3.6h0m16.2-1.2h0m21.4 3.6h0m7.1 1.3h0m1.9-1.2h0m1.1-2.4h0m0.7-1.4h0m0.7-0.2h0m0.4 3h0m0.3-1.2h0m0.4-1h0m0.1 3.8h0m0.5-4.5h0m0.5 1.4h0m0.5-1.4h0m0.2 0.7h0m0.2-0.9h0m0.3-0.2h0m0.5 3.1h0m0.2 0.1h0m0.3-1.1h0m0.3 2.4h0m0.1-6.3h0m0.3-0.4h0m0.1 7.1h0m0.2-0.8h0m0.3 0.4h0m0.2-0.7h0m0.3 0.7h0m0.1-1.1h0m0.8-5.1h0m0.8 3.2h0m1.1 0.6h0m8.9 3.4h0m-511.4 7.1h0m278.6-1.7h0m121.3-1.1h0m13.3-0.6h0m0.6-0.2h0m0.8-0.2h0m0.9-2.3h0m1.2 3.9h0m0.9-0.3h0m0.6-0.2h0m4.7 1.4h0m8.7-1.4h0m1.7-1.2h0m1.5-0.8h0m1.4-0.9h0m0.6 0.4h0m1.2 0.6h0m23-0.7h0m0.6 2h0m0.9-0.1h0m0.5-0.7h0m0.9 1.5h0m1.4-1.7h0m7.6-0.5h0m5.6 5.1h0m1.3-1.3h0m1.1-4.3h0m0.5 4.9h0m0.6 0.1h0m0.3 1.1h0m0.8-1.4h0m3.3-2.4h0m2.4 1.8h0m1.3-1.9h0m1.9-1h0m2.2 4.6h0m0.7 0.5h0m0.2-1.4h0m1.3-2.3h0m0.4-2.5h0m0.5 3.6h0m0.4-2.1h0m0.1 4.3h0m0.5 0.2h0m0.4-4.8h0m0.6-2.9h0m0.3 6.5h0m0.9-5.9h0m0.2 4.6h0m0.4-1.5h0m0.6-3.2h0m0.5-0.3h0m0.3 3.9h0m1.4 0.1h0m1.4-2.8h0m3.6 4.2h0m2.8 0.7h0m-668.3 5.7h0m339.3 3.3h0m49-4.2h0m77.3-1.7h0m29.6 4.9h0m9.4 1.1h0m54.4-2.7h0m0.5 1.7h0m0.3 0.5h0m0.7-6.5h0m1 4.6h0m0.6-4.2h0m0.8 6.2h0m0.3 0.3h0m0.9-2.7h0m6-1.4h0m26.8 4.6h0m4.5-1.3h0m16.9-5.2h0m4.9-1.2h0m2.1 7.4h0m26.3-7.1h0m0.8 0.7h0m0.6 1.7h0m0.8 1.1h0m1.9-3.1h0m1.4 0.4h0m1.7 0h0m-643.3 12.7h0m30.2-4.8h0m314.2 2.1h0m67 2.1h0m4 0.6h0m12.5-1.7h0m2.9 3h0m1.1 0.1h0m1.1-1.2h0m22.3-4.7h0m3.5 2.9h0m2.4-1.3h0m1.5-1h0m13.5 5.7h0m8.9-4.6h0m0.7 3.1h0m1.2-2.3h0m1.9-0.7h0m2.3 0.6h0m1.6-0.4h0m1.3-1.6h0m2.3 4.9h0m74.7-6.5h0m26.4 4.1h0m5.5 1.2h0m2.2 1.4h0m4.7-3.4h0m1.1 4.4h0m1.2-2h0m1.3 0.6h0m-584.8 8.8h0m309.4-3h0m78.5-3.6h0m14.1-0.6h0m1 6.5h0m0.7-5.7h0m1.4 1.9h0m34.7 4h0m6.5-3.1h0m5.5-3.5h0m5 6.9h0m0.8-6h0m1.4 0.5h0m0.4 5.1h0m0.6-6.1h0m0.6 7h0m0.4-5.3h0m0.7 3.6h0m0.5 0h0m0.8 1.6h0m0.5 0h0m0.6-3.6h0m0.2-1.5h0m1 3.7h0m2-2.5h0m40.6 1h0m51-3.6h0m13.3 5.5h0m1.4-5.8h0m1.8 5h0m0.7 0.6h0m0.4-0.5h0m0.5-3.9h0m0.3 4h0m0.2-5.2h0m0.6 4.7h0m0.4 2h0m0.4-1.5h0m0.6 1.2h0m0.6-2.4h0m0.2 2.3h0m1-3.7h0m0.3 1.4h0m0.1 1.4h0m0.2-3.1h0m0.1 3h0m0.3-5.8h0m0.6 0.3h0m0.1 1.3h0m0.3 3.3h0m0.4-0.2h0m0.6-4.1h0m0.2 2.1h0m0.4 1.7h0m0.4-1.7h0m0.7 4.9h0m0.7-0.6h0m0.7-0.5h0m0.5 0.2h0m0.8 1h0m1.5-1.2h0m0.7 1.1h0m1.2-1.3h0m0.7-1.6h0m0.8 0.6h0m0.6-1.2h0m0.6 0.3h0m0.2 0.9h0m0.6-0.8h0m0.4-0.4h0m0.2 1.3h0m0.2-1.4h0m1-1.5h0m0.9-1.2h0m1.2 0.6h0m0.7 0.2h0m1.2-0.7h0m-651.1 12.3h0m47.2-0.4h0m101.7 1.6h0m204.6-3.7h0m48.5 1h0m36.4-1.2h0m12 0.1h0m2-2.3h0m0.7 1.2h0m1.3 4.6h0m1.9 0.4h0m1.8 0.3h0m23.7-5.2h0m14.8-0.3h0m11.7 5.8h0m24.1-0.3h0m1-0.7h0m1.4 1.2h0m4.3-5.4h0m63.4-1.8h0m8.3 5.9h0m2.1 0.2h0m2.3 0.1h0m1.3 1h0m5.2-2.6h0m1-3.5h0m0.2 1.2h0m0.6-2.7h0m0.4 6h0m0.1-6h0m0.5 4.6h0m0.5-3.8h0m0.3 3.4h0m0.3 1.6h0m0.3-5.1h0m0.5 6.7h0m0.4-7.2h0m0.6 6.4h0m0.3 0h0m0.4-6.2h0m0.3 0h0m0.3 3.6h0m0.3-0.8h0m0.1 0.4h0m0-3h0m0.1-0.2h0m0.2 3.7h0m0.2-1.3h0m0.4 1.9h0m0.3 1.5h0m0.1 0.7h0m0.3-0.9h0m0.3-3.5h0m0.2 1.9h0m0.1-2.2h0m0.2 1.6h0m0.6-2.1h0m0.3-0.7h0m0.3 0h0m0.3 0.9h0m0.2 0h0m0.2 0.1h0m0.3 1.1h0m0.5-1.9h0m1.2-0.6h0m0.2 0.8h0m0.4 0.3h0m0.7-1.5h0m0.2 0.6h0m0.3-0.3h0m0.4-0.7h0m0.3 2h0m0.7-0.6h0m0.5-0.5h0m-611.3 7.4h0m119.2 7.5h0m3.5-0.2h0m231.9-0.7h0m23.9-3h0m39.6-1.2h0m3.2 1.6h0m1.8-2.4h0m1.3 2.5h0m0.9 0.4h0m1.2-3.4h0m1.1-1.5h0m0.5 7.7h0m0.4-3.4h0m0.9-2.6h0m0.3 3.8h0m0.5-3.1h0m0.4 2.5h0m0.4-2.3h0m0.5-1.1h0m1 6.4h0m11.7-7.8h0m2.5 2.9h0m3.8 2.4h0m4.6-0.3h0m22.6-4.3h0m2.5-0.8h0m18.4 4.8h0m3.1-3.2h0m3.4-0.5h0m1.5-0.9h0m0.1 2h0m0.7-2.1h0m0.3 1.1h0m0.4-1.2h0m0.6 6.7h0m1.5 0.1h0m7.4-1h0m2.2-0.1h0m26.8 1.1h0m23 0.3h0m3.1-0.9h0m9.1-1h0m1.2-0.9h0m0.3 2.6h0m0.2-6.5h0m1.4 0.1h0m0.6 7.3h0m1-3.9h0m0.5 1.1h0m1.3 0.9h0m0.7-1.1h0m0.8 1.1h0m0.3-1.9h0m0.5 0.1h0m0.5 0.7h0m0.5-0.2h0m0.3-0.9h0m0.6 1.7h0m0.6 0h0m0.5-1.9h0m0.2-2.3h0m1.1 5.8h0m1-3.1h0m0.5-2h0m0.5 0.8h0m0.4-0.4h0m0.2 1.5h0m0.3-1.3h0m0.2-1.1h0m0.8 1.7h0m0.5-0.9h0m0.4-1.2h0m0.4 3.7h0m0.4-3.3h0m0.7-0.6h0m0.5 2h0m0.3 4.6h0m0.2-6.6h0m0 0.9h0m0.3 1.8h0m0.5-1.5h0m0.5-1.5h0m0.4-0.2h0m0.8 5.3h0m1.1-4.5h0m0.4 0.2h0m-631.8 14.5h0m1.8-0.4h0m2.3-4.2h0m10.7 1.2h0m20.1 2.4h0m108.9-3.5h0m1.3 1.1h0m0.8-0.1h0m1.4 0.6h0m1.2-4.5h0m1.3 0h0m1.8 2.3h0m196.2 4.9h0m3.1-0.2h0m29.9-5.6h0m2.1-1.2h0m37.1 1.6h0m30.7 1.9h0m3.2-0.5h0m1.5-0.5h0m4.1-2.9h0m1.6 0.2h0m26.2 1.6h0m2.3 5.3h0m14-0.2h0m31.7-2.4h0m9.9-4.7h0m7.5 4.8h0m1.1-2.3h0m1.5 2.4h0m0.8-0.5h0m1.4 0h0m0.3 2.8h0m0.3 0.2h0m1.2-1.4h0m11.8-4.3h0m24.4 4.6h0m0.8-1.7h0m2.1 1.4h0m2.7 1.9h0m1.8-4.8h0m4.1-1.1h0m3.1 0.7h0m0.7 0.8h0m1.7-2.3h0m0.5 1.1h0m0.6 2h0m0.3-3.5h0m0.2-0.4h0m0.5 1.5h0m0.5-0.2h0m0.5-1.1h0m0.3 0h0m0.5 1.8h0m0.4 0.4h0m0.6-1.4h0m0.4-0.1h0m0.4 1h0m0.7 0.4h0m0.4 4.4h0m0.1-6.1h0m0.2 6.4h0m0.3-4.5h0m0.6-2.3h0m0.7 4.5h0m0.4 0.8h0m0.3-5.4h0m0.1 1.8h0m0.4 0.3h0m0.4 0.3h0m0.2 3.6h0m0.5-6h0m0.6-0.5h0m0.6 2.6h0m1 4.2h0m0.5-3.8h0m0.3-2.6h0m0.3 1.5h0m1.3 5h0m0.5-3.7h0m0.1-1.4h0m0.6-1h0m2 3.1h0m-633.9 5.4h0m1.9-0.7h0m1.4 4.3h0m3 2.3h0m3.9-5.8h0m1.9 1.2h0m1.4 0.7h0m1.6-0.7h0m1.3 5.2h0m2.8-2.6h0m0.6-1.4h0m1.1-2.2h0m0.3 3.1h0m0.3-0.3h0m1-2.6h0m0.5-0.7h0m0.4 4.8h0m0.6-3.2h0m1 5.2h0m0.4-6.1h0m0.6 5h0m0.4-3.8h0m126.6 2.8h0m86.6-0.2h0m107.1 0.7h0m3.4-5.5h0m2.4 0.2h0m52.8 3h0m28.9 1.3h0m39.3-2.9h0m46.5 4.6h0m32.4-3.2h0m5.1-3.1h0m1.5 0.1h0m17 6.7h0m14.4-5.4h0m8.9 5.5h0m2.1-1.2h0m1 0.2h0m0.7-0.8h0m1 1.9h0m0.3-3.1h0m0.4-0.1h0m0.5 1.1h0m0.4 1.4h0m0.6-3.1h0m1.1-1.5h0m3 1.2h0m4.6-1.5h0m0.9-1.3h0m0.4 1h0m0.7 2h0m2.8 3h0m2.7-4h0m0.6 2.1h0m1.9-3.8h0m0.7 2.7h0m1.5-1.8h0m0.8-0.9h0m0.3-0.3h0m0.5 0.1h0m1.2 1.7h0m0.7 0.5h0m1.2-1.7h0m-627.2 13h0m0.3-1.5h0m0.5-0.4h0m0.3-0.4h0m0.2 3.7h0m0.4-3h0m0.5 2.2h0m0.8-0.6h0m1.1-4.5h0m0.7-0.2h0m0.6 4.8h0m0.4-1.7h0m0.3-0.2h0m1.1-1.6h0m0.4 3.9h0m0.4-5.4h0m0.6 3.6h0m0.3-1.6h0m0.5 0.3h0m0.4 2.8h0m0.9-4h0m2.6 0.5h0m1.5-1.4h0m4.3 4.6h0m1.4-0.8h0m207.5 1.7h0m3.1-1.1h0m11.1-0.1h0m100-5.5h0m107.1 6.3h0m28.8-1.1h0m9.2-2h0m17.6 0.4h0m9.1-2.2h0m0.5 2.8h0m0.9-3.4h0m0.5 0.4h0m0.4 2.6h0m1.4 0.7h0m0.3-1.2h0m0.5 0.6h0m0.5 0.9h0m0.7-2.4h0m37.5 0.6h0m23.3-0.5h0m3.7-3h0m4.5 1.7h0m1.5-1.4h0m0.6 5.6h0m0.9-0.5h0m0.7 0.1h0m0.3-0.8h0m0.7 1.2h0m0.8 1.7h0m0.2-3h0m0.6-1.7h0m0.3 1.6h0m0.4 1.6h0m0.2-1.1h0m0.2 2.7h0m0.7-6.3h0m0.4 0.1h0m0.3 6.2h0m0.8-1.5h0m0.7-4.8h0m0.5-1h0m0.1-0.3h0m0.6 0.6h0m0.2 6.6h0m0.2 0.4h0m0.3-2.6h0m0.2-4h0m0.3 2.3h0m0.4 2.4h0m0.3-5.4h0m0.3 6.9h0m0.7-0.8h0m11.4-4.5h0m0.8-0.5h0m3.7 3.9h0m5.6-4.2h0m-624.8 7.9h0m1.8 4.1h0m0.4-4.9h0m0.9-0.1h0m0.8 0.8h0m0.9 0.4h0m0.3-1.2h0m0.7 6.6h0m1.3-5.2h0m0.6 2.7h0m0.5-3.3h0m0.4 3.2h0m0.7 2.1h0m1.2-2h0m4.1 2.5h0m1.9-2.8h0m4-3.6h0m207.6 4.5h0m2.3-2.1h0m1.8 2.6h0m0.4 0.8h0m1.1-0.5h0m1.1-1.6h0m0.7 0.2h0m0.1 2h0m0.9-2.5h0m2.7 3.7h0m1.9-0.8h0m4.1-1.8h0m4.2 2.2h0m199.4-6.7h0m7.1 0.7h0m19 2.4h0m0.4 2.1h0m1.1 0.5h0m0.6-3.4h0m0.5 0.9h0m0.3-1.3h0m0.9 2h0m18.1 2.3h0m1.6-5.2h0m0.8 4.7h0m0.4 0.4h0m0.5-6.5h0m1.4 0.9h0m0.7 5.3h0m19.5-5.7h0m29.6 1.9h0m38.9 1.1h0m0.8 0.1h0m0.8-2.4h0m0.4 2.2h0m0.8 1.7h0m0.1-1.6h0m0.3-1.8h0m0.5 1.6h0m0.6-1.2h0m0.5 0.8h0m0.2-1.3h0m0.4 0h0m0.2 0.5h0m0.3 0.2h0m0.1-0.9h0m0.3-0.3h0m0.2-0.7h0m0.3 1h0m0.3 0.2h0m0.2-0.1h0m0.8 0.4h0m0.4-0.7h0m0.3 5.7h0m0.4-4.3h0m0.8-2.5h0m0.6 1.5h0m0.8-1.4h0m1.4 0.1h0m5.9 0.7h0m8.2 4.1h0m1.6 0.5h0m-618 5.8h0m2.6-1.2h0m1.2 1.7h0m2.3-1.8h0m1.6 0.8h0m1.5-0.9h0m1-1.8h0m16.2 7.2h0m151.1-1.9h0m50.6-1.9h0m2-0.7h0m4.8-1.8h0m9.5-1h0m168.5 2.5h0m46.8-0.6h0m14.6 4.4h0m20.2-2.3h0m1.4-2.4h0m0.3-0.2h0m0.7 0h0m0.9 0.4h0m1 0.2h0m1.2 0.1h0m0.7 0.8h0m1.8 3.4h0m89.2-3.2h0m10.7-1.8h0m12.6 1.8h0m-609.1 11.9h0m6.1-2.6h0m11.3 2h0m8.4-2.6h0m6 0.1h0m153.9 2.1h0m42.9-4.1h0m6.4 5.8h0m113.5-2.3h0m8.9 0.8h0m2.7-1.6h0m1.1 1.2h0m2.4 1.4h0m0.6-2.8h0m0.3 0.5h0m1 0.3h0m0.8 1h0m26.5 0.4h0m73.2-6.7h0m49.9 4.7h0m16.8-2.1h0m2.3 4h0m38.4-4.3h0m2.4 0.1h0m14.3 4.6h0m-594.3 1h0m23.2 0.1h0m7.9 6.5h0m5.7-0.3h0m195.4-2.2h0m8.7-3.1h0m116.6-0.2h0m2.9 1h0m4.6-1.1h0m2.5-0.6h0m0.6 0.1h0m1.4 0h0m23.5 1.1h0m21.7 1.8h0m2.3 1.7h0m1.4-0.3h0m0.6 2.9h0m0.3-5.3h0m0.7 4.2h0m0.7-5.5h0m0.6 1.1h0m0.2 1.4h0m0.2-0.3h0m0.2 0.8h0m0.2-1.1h0m0.4 2.2h0m1.2 0.4h0m0.9 1.6h0m2.8-1.7h0m53-2.8h0m0.7-2.2h0m0.5 5.3h0m0.9 1.2h0m0.6 0.2h0m0.8 0.1h0m0.3-2.5h0m0.9 2h0m1.3-0.2h0m13.8-1h0m69.6 1.6h0m10.1-6.2h0m11.2 3.4h0m0.7-3.2h0m1-0.8h0m0.5 0.1h0m0.1 1.4h0m0.1-0.1h0m0.4-0.1h0m0.7 0.5h0m0.6-1.6h0m11.3 6.1h0m0.5-0.2h0m0.8 0.2h0m0.5-0.1h0m0.4 0.2h0m0.6-0.4h0m2.8 1.8h0m-564.2 1.1h0m36.9 5.4h0m1.7-3.1h0m3.3 1.9h0m3.4-1.8h0m1.3 0.4h0m1 1.6h0m1.7 2h0m135.1-4.8h0m76 0.4h0m117.6-3.1h0m2.8 0.7h0m30.3 4.1h0m25.3-4.5h0m15.4 0.6h0m16.1 5.9h0m44.2-2.5h0m1.7-1.8h0m26.1-1.7h0m8.3 7.1h0m2.6-5.3h0m8.3 3.9h0m3.1-2.4h0m0.3-2.7h0m0.2 4.2h0m0.5-5.6h0m0.3 0.2h0m0.8 0.5h0m0.5 4.4h0m0.3-3.8h0m1.1 3h0m1-3.8h0m-596.7 13.8h0m10.3-3.5h0m6.6 1.1h0m45.2-2.7h0m1.2-0.9h0m2.7 6.1h0m1.1-4.6h0m1.7 0.7h0m0.9 0.4h0m0.8-2.3h0m2.1 0h0m2.5 0.8h0m1.7 4.3h0m2.8-5.5h0m0.6 2.8h0m1.7 3.9h0m223.2-0.5h0m3-0.2h0m4.4 1.4h0m104.2-6.5h0m72.1 3.6h0m40.4-3.4h0m22.9 5.9h0m6.9 0.5h0m6.6-1h0m9.9-1.9h0m2.3 1.8h0m-587.5 7.7h0m15.5 0.2h0m15.1-4h0m3.7-0.9h0m2.9 2.3h0m22.5 4h0m12.8-2.3h0m2.1-4.1h0m2.5 2.6h0m1.9-1.1h0m3.4-2.6h0m0.9 1.6h0m1.2 1.8h0m3.4 1.5h0m0.9-4.9h0m1 2.6h0m46.3 3.3h0m181.8-5.8h0m52.6 4.6h0m4 2.2h0m62.6-0.4h0m30.8-2.2h0m48.7 2.3h0m6.6-0.7h0m22.2-5.8h0m5 6.1h0m1.3 0.3h0m0.4 0.4h0m1.4 0.5h0m2.4-1h0m1.5-5.4h0m0.6 4.8h0m0.2-1.1h0m1.6 2.4h0m0.4-0.6h0m1.8 0.2h0m5.8-0.8h0m1.4-0.2h0m1-0.4h0m0.4-0.8h0m0.7 1.7h0m0.6-4.2h0m1.1-2h0m1.1 7.3h0m1.3-1.5h0m8.4-2.5h0m4.3 2.4h0m3.1-4.1h0m24.9 1h0m-608.6 7.7h0m14-1.2h0m0.5 6h0m0.3-0.9h0m0.9-5.5h0m0.9 6.3h0m0.6-2.6h0m0.4-3.9h0m0.1 2h0m1.6 1h0m0.8-1.5h0m0.6-1.6h0m1.9 4.9h0m0.4-3.2h0m1 1.6h0m0.8 0.3h0m0.5-1.5h0m0.2-2.6h0m0.2 4.9h0m0.7-0.5h0m0.9-0.3h0m1.2 0h0m1.1-1.5h0m0.6 1.2h0m1.2-0.5h0m0.8 1.2h0m0.5 0.3h0m0.9 1.4h0m0.3 0.2h0m8.2-1.5h0m13.3 0.8h0m6.9 0.3h0m8.6-6.1h0m45.1 4.8h0m236 0.7h0m94-5.4h0m3.8 6.7h0m7.2 1h0m21.4-2.5h0m15.4 1.9h0m23.9-1.3h0m17.9 1.2h0m7-7h0m1.2 3.7h0m6.9-0.4h0m1.5-3.5h0m11.8 3.1h0m1-1.3h0m1.4-1.5h0m1.5 1h0m1.1 0.5h0m0.4-1.6h0m3 7h0m2.3-4.9h0m2-0.8h0m1.8 3.9h0m6-5.2h0m2.1-0.3h0m-580.2 8.7h0m4.2 5h0m1.8 0.3h0m2.2-3.6h0m0.8 0.5h0m2.6-0.1h0m1.5 0.2h0m1-2.1h0m3.3-0.1h0m2 2.2h0m1.5-1.7h0m0.3 2.6h0m0.6 0.1h0m0.9-3.7h0m0.5 3.7h0m0.5-0.3h0m0.8 0.5h0m0.5-1h0m0.5-1h0m0.5 2.4h0m0.3 1.1h0m0.5-2.5h0m0.4-1.8h0m3.5 4.1h0m11.9-4h0m7.1 0.2h0m11.5 1.6h0m8.6-0.2h0m54.9-2.3h0m196.4 1.3h0m3.8 4.1h0m22.8 1.5h0m3-1.2h0m85.4-0.9h0m10.8-3.8h0m1-0.8h0m0.4-0.6h0m0.9-0.3h0m0.7 4.6h0m1.1-4.6h0m0.7 2.5h0m0.3 0.4h0m0.9 4.6h0m2-5.8h0m31.4 0h0m3.5 1.3h0m17.4 2.2h0m1.3 2h0m2.1-3.1h0m15.4-3.3h0m3.5 6.5h0m1.2-0.8h0m0.9 0.9h0m0.9-0.5h0m1.9 0.2h0m0.4 0.4h0m1.1-4.8h0m14.4 2.3h0m7.7 0.7h0m0.9-4.1h0m0.8 1.7h0m0.9 3.9h0m1.9-2.5h0m6.6 1.1h0m6.9-4.7h0m9 0.7h0m-564.9 7.1h0m0.4 4.2h0m0.7 1.8h0m0.4-5.3h0m1.1 5.2h0m0.4-0.8h0m0.6-4.3h0m0.3 0.7h0m0.5 2.9h0m0.3 1.2h0m0.3-1.2h0m0.1 1.6h0m0.5-1.1h0m0.6 0.4h0m0.6-0.9h0m2.9 1.9h0m9.1-2.8h0m7 3.3h0m48.7-2.5h0m82.5 2.4h0m65.3 0.1h0m80.2-6.5h0m0.7 3.7h0m0.8-0.7h0m1.4-2.4h0m1.4 1.6h0m20.7-2.2h0m46.1 2.5h0m28.8 0.5h0m23.4 2.1h0m26.6 0.3h0m2.4-0.5h0m35.8 1.5h0m1.9 0h0m0.5 0.2h0m3.5-2.6h0m2 0.1h0m7.9-0.5h0m1.7-1.8h0m1.4 2.8h0m3.3-4.6h0m1.7-0.4h0m1 6.6h0m11.4-5.8h0m3.7 5.3h0m7.8 0.4h0m5.2-3.9h0m-554.6 6.7h0m11.7 0.5h0m0.4-0.7h0m0.5 2.1h0m0.5 2h0m0.2-3.4h0m0.6 1.9h0m0.8-0.9h0m0.2 2.7h0m0.5-5h0m0.3 1.5h0m0.5 0.4h0m0.3-1.6h0m0.2 0.6h0m0.5 3.6h0m0.2-1.6h0m0.3-0.8h0m0.4 4.4h0m0.3-3.9h0m0.3-2.7h0m0.4 4.9h0m0.1-0.4h0m0.6-2.6h0m0.6-0.8h0m0.4 2.3h0m0.8 2.8h0m0.6-3.5h0m1.3-1.5h0m3.6-2.1h0m2 5.4h0m1.3 1.9h0m0.3-7.4h0m1 6.8h0m0.3-5.2h0m0.7 5.4h0m0.5-3.9h0m1.7 3.8h0m3.5-5.9h0m1.5 5.3h0m3.6-3h0m1.8 0.9h0m1.3-0.2h0m1.6 0.4h0m2.1 2.4h0m3.1-6h0m1.4 5.6h0m1.3-2.1h0m5.1-3.9h0m28.6 2.4h0m72.9-2.5h0m3.7 0.9h0m0.8 4.6h0m3-0.4h0m3.1-2.3h0m1.9-0.8h0m60.1-2.2h0m57.9 1.2h0m0.9-0.4h0m0.4-0.2h0m0.7 2.1h0m0.7 0.3h0m1.3 1.9h0m0.7-0.9h0m0.8 0.3h0m1.9-4.6h0m44.1 2.7h0m49.1 0.4h0m2.2 1.3h0m1.4 0h0m0.8-1h0m1.2 0.6h0m0.6 0.6h0m0.5 3.2h0m0.9-0.5h0m1.8-0.4h0m25.1 0.3h0m33.7-7.2h0m3.1 1.8h0m2.1 0.5h0m27.5 3.1h0m4.8 0.9h0m2.8-4.1h0m1.2 0h0m1.3-2.1h0m3.7 5.6h0m5.2-2.4h0m13.5-1.9h0m18.2 0.2h0m3.6-1.4h0m16.4 2.3h0m0.5-1.4h0m1.6 1.8h0m-551.3 7.8h0m1.2 1h0m1.2-3.8h0m1.5 5.5h0m0.6 1.5h0m1.1-2.6h0m0.4 0.2h0m0.4-3.1h0m0.5 3.4h0m0.5 1.5h0m0.2-4.4h0m0.2 0.6h0m0.9-1.8h0m0.4 2.9h0m1.2-3.5h0m1.1 7.3h0m0.9-6.4h0m0.4 3.1h0m0.9-2.9h0m1 2.3h0m0.8-0.8h0m1.1-1.5h0m0.9 2.8h0m5.2-3.5h0m4.6 0.7h0m26.5 3.5h0m3.8 1.1h0m1.4-1h0m2.4 2.3h0m2.4-4.1h0m3.1-0.1h0m0.8 1.8h0m1.5-2.6h0m0.5-0.8h0m2.3-0.1h0m2.9 1h0m138 3.7h0m6.7-5h0m62.7-0.1h0m41.2 0.8h0m24.2 3.7h0m3.1 1.5h0m1.1-1.9h0m1.2 2.9h0m26.5-2.1h0m1.7-4.9h0m1.6 2.1h0m0.7-2.1h0m22.8 4.9h0m18.5 2.2h0m3.5-0.7h0m2.6-6.5h0m14.4 4.1h0m9.5 2.4h0m4.4-0.1h0m1.2 0.2h0m2.9 0.2h0m4.1-3.6h0m1.7 3.7h0m23.7-2.9h0m9.5 2.1h0m3.2-1.3h0m2.3-1.8h0m1.1-0.3h0m0.5 1h0m0.6 1.4h0m1-2.4h0m5.9 2.4h0m1.1-2.4h0m6.3-3.1h0m2.4 2.1h0m1.3-1.1h0m5.9 1.2h0m2.5 0.3h0m1.4-2.3h0m-538.5 12.8h0m0.4-3.6h0m0.9-0.8h0m1 0.7h0m0.4-0.8h0m0.3-0.8h0m1.7 4.6h0m0.7-1.7h0m0.8-2h0m0.8 5h0m1.1-3.2h0m0.7 3.3h0m0.2 0.1h0m1-2.3h0m1.8 2.3h0m1.3 0.3h0m1-4.3h0m0.5-0.7h0m0.9 4.9h0m0.2-3.9h0m0.9 3.9h0m1.2 0.1h0m7.9-4.2h0m27.3-0.2h0m1.1 5.1h0m3.2-5h0m2 1.8h0m2.9 1.3h0m1.3-0.7h0m1.7-3.4h0m1.9-1.2h0m2 4.9h0m1.8-0.4h0m2.4-0.5h0m1.7-0.1h0m2.2 2.6h0m2.2-2.4h0m1.4 1.5h0m1.4 1.7h0m247.2-5.6h0m20.7-1.1h0m2 0.5h0m7 4.5h0m38.4-5.5h0m38.8 4.4h0m13.7-0.3h0m4.7 0.4h0m2.2 0.6h0m0.5 0h0m0.5 1.5h0m1.1-1.5h0m0.3-2.6h0m0.3 3h0m0.4-2.3h0m0.3 0.7h0m0.2 0.3h0m0.2 1h0m0.2-0.7h0m0.2-2.8h0m0.2-0.5h0m0.1 4.7h0m0.2-5.1h0m0.2 4.4h0m0.4-0.9h0m0.7 1h0m0.6 2h0m0.4 0h0m0.5-5h0m0.3 3.2h0m0.3-1.6h0m0.4-0.7h0m0.4-1.7h0m0.2 4.5h0m0.2-2.5h0m0.6-1.4h0m0.3 1.1h0m0.6-0.8h0m0.9 2.8h0m0.3-0.5h0m0.6-2.1h0m0.7 5.1h0m1.3-6h0m2.7 1.6h0m2-1.1h0m20.6 0.2h0m4.3 3.9h0m3-6.2h0m7.5 5.5h0m3.4 0h0m6.1-5h0m6.9-0.5h0m-480.6 13.6h0m7.1-4.6h0m2.7 0.5h0m2.9 5h0m4.9-6.6h0m4.2 0.5h0m1.7 2.3h0m2.5 2.6h0m1.2 1.1h0m1.5-5.9h0m1.1 1.8h0m2.4 1.2h0m1-1.3h0m11.7 1.7h0m170 0h0m92.4-3.1h0m67 5.7h0m2-1.1h0m1.5 0.8h0m1-2.6h0m1.9 2.2h0m0.5-0.9h0m0.8 1.6h0m1.6-4h0m7.2-2.3h0m11.7-0.2h0m4.5 4.3h0m1.6-4h0m0.6 6.1h0m1.1-5.4h0m0.4 2.2h0m0-1.6h0m0.7 4.9h0m1-6.5h0m0.2 1.8h0m0.6-1.8h0m0.5 4.4h0m0.3-3.6h0m0.5 2.8h0m0.3-2.5h0m0.2 2.1h0m0.5-0.2h0m0.2 0.6h0m0.4-3.5h0m0.3 4.4h0m0.2-2h0m0.8 5.2h0m0.2-7h0m0.4-0.3h0m0.7 4h0m0.4-1.5h0m0.6 4.2h0m0.5-3.1h0m0.2-3.1h0m0.5 4.3h0m1.1-2.4h0m0.5 3.7h0m1.3-4.9h0m21.3-1.6h0m1.7 1.2h0m1.1 0.8h0m0.6 0.8h0m0.8-0.2h0m9.1-0.1h0m13.5-0.7h0m1.8 1.5h0m3.1 0.9h0m2.3-3h0m0.4 5.8h0m0.1 0.6h0m0.5-4.5h0m1.5 4.3h0m0.7-1.1h0m-465.5 1.9h0m3.9 4.1h0m9.3-1.5h0m7.1 3h0m129.8-5.9h0m4.1 4.3h0m101.7 0.9h0m11.5-1.5h0m68.9-1.4h0m9.8-0.7h0m6.8-1.6h0m7 1.6h0m2.4 2.2h0m0.8-1.4h0m1.6 1.5h0m0.4-2.2h0m1.6-1.3h0m2 3.6h0m22.3 1.3h0m9.4-5.3h0m8.7 5.9h0m0.7 0.9h0m0.5-1h0m4.6-4.1h0m7.3 1.2h0m23.4-2h0m7.2 4.6h0m8.7-5.3h0m-462.9 13.6h0m7.3-0.7h0m10.7-0.2h0m6.6-2.5h0m5.2 1.2h0m145.6-2.4h0m42.1 5.9h0m0.9-5.9h0m1.6-1.1h0m1 6.4h0m2.6 0.7h0m1.4 0.1h0m1.2-5.1h0m1.3 5.5h0m1.2-5.9h0m1.8-1.1h0m1.6 2.3h0m34.4 4.5h0m44.3-6.3h0m19.7 3.4h0m55.1 1.1h0m8.6-0.6h0m0.7 0h0m0.5 1h0m1-1.5h0m16.1-1h0m8.5-1.1h0m11-2.3h0m7.7 1.4h0m8.5 4.4h0m1.1 0.3h0m1.5 1.4h0m1-2h0m-452.1 2.2h0m15.9 0.4h0m59.1 2.5h0m111.5 5h0m28.4-6.5h0m0.9-1.3h0m0.6 5.5h0m0.5-3.2h0m1.1 0.1h0m1 3.1h0m0.3-2.8h0m0.6-0.5h0m0.7 1.1h0m0.6-2.8h0m0.8 1.3h0m1-1.7h0m0.1 0.6h0m1 0.2h0m1-0.2h0m1.2 4.3h0m1.3-2h0m0.8-0.1h0m0.4 0.4h0m0.4-3.3h0m0.6 3.4h0m4.5 4.2h0m16.5 0h0m3.1-0.8h0m10.6-2h0m2.3-1.3h0m2.4-0.7h0m4.3-2.3h0m16 3.3h0m5.5 2.5h0m18.9 1h0m2.6-0.8h0m2.2-3.4h0m1.3 4.4h0m3-6.1h0m17.7 0.6h0m24.8 3.1h0m8.8-1.7h0m1.3 0.4h0m1.6 3.1h0m1.9-2.2h0m1-0.3h0m25 0h0m6.3-1.2h0m12.6-2.1h0m21 1.9h0m5.6-2.8h0m-364.8 12.7h0m0.8-3.8h0m2-0.3h0m1.1 3.4h0m1.1 0.4h0m1-0.4h0m0.8 0.2h0m0.7-0.3h0m52.3-1.7h0m37.1-1.4h0m36.4 2.2h0m16.3 1.3h0m14.5-1.2h0m16.9-2.7h0m46.4 0.6h0m1 0.8h0m0.9-0.6h0m0.7 2.7h0m0.8 0h0m1.4-4h0m1.9 0.2h0m57.8 0h0m28.8 5h0m0.7 0.5h0m17.7-4h0m21.8 1.6h0m-231 11.5h0m5-2.9h0m22.7-0.9h0m62.8 3.6h0m84.6-4.6h0m14.8 4.4h0m8.4-6.1h0m6.8 5.7h0m11.5-3.3h0m-255 5.4h0m35.5 4h0m6-1.6h0m69.2 0h0m29.4 2.2h0m16.7-3.1h0m12.6 6.1h0m2.4-4.1h0m2.7 1.9h0m2.2 2.1h0m9.1-0.8h0m10.2-2h0m15.4 2.5h0m13.1-7.3h0m2.3 4.9h0m3.7 1.1h0m2 1.7h0m0.2-1.4h0m0.4-0.4h0m23.8 0.6h0m9.5-1.2h0m0.4-3.4h0m0.8 1.1h0m0.5 0.3h0m1 3.4h0m1.3-0.8h0m0.9 0h0m0.5-2.1h0m0.3-1.4h0m-240 10h0m2-2.4h0m2.2 5.5h0m2.1-1h0m3.6-5.9h0m23 7.1h0m52.4-2.5h0m11.5 2.2h0m0.3-1.3h0m1.2-0.9h0m1.4-0.1h0m0.8-2h0m0.6 3.5h0m1 0.1h0m2.9-0.6h0m5.9-0.2h0m10.4-4.8h0m8.6 3.8h0m6.9 0h0m2.9 2.1h0m2.7-5.1h0m2.6 1.1h0m7.8-2.1h0m0.5 1h0m0.5-0.3h0m0.7-0.4h0m9.3-1h0m14.9 3h0m2.5 2.7h0m27.9-1.1h0m17.5 3h0m1.2-5h0m3.1-0.5h0m4.8-0.1h0m4 5.1h0m2.4-7.3h0m-245 10.6h0m1.3 2.9h0m1.2-1.2h0m0.5-0.6h0m0.3-0.6h0m0.5 3.1h0m0.7-2.3h0m0.4 1.3h0m0.1-1.9h0m0.6 0.4h0m0.6-2.1h0m0.3 4.5h0m2.3-2.2h0m0.6-0.5h0m23.8 1.4h0m3.4 2.5h0m1.4-1.1h0m1.5 0.5h0m1.4 0.8h0m1-2h0m3.2-1.7h0m19.4 1.1h0m5.1 1.8h0m16.5-1.7h0m1.7-0.7h0m1-0.1h0m1.9-0.7h0m11.8-3.2h0m0.4 0.1h0m2.8 2.8h0m8.8-2.6h0m2.9 5.5h0m0.8-0.9h0m0.4-1.1h0m1.3 1.8h0m0.9-1.6h0m1 1.7h0m0.5 0.4h0m7.3-5.7h0m95.1 6.6h0m5.6-7h0m1-0.4h0m1.3 2.2h0m1.3-1.4h0m2.2 6.3h0m5.3-6.5h0m7.2 6.8h0m0.6 0h0m0.9-0.4h0m2.7-0.2h0m-261.3 9h0m2.5-1.7h0m2.2 1.8h0m4.1-6.7h0m32 6.3h0m1.4-0.7h0m0.6-2.4h0m0.3 2.8h0m0.2-1h0m0.6-4.7h0m1.9 0.9h0m0.2-1.7h0m0.2 6.9h0m0.6-6.5h0m0.8 6.3h0m1-5.6h0m2 6h0m1.5-3.5h0m0.4-2.6h0m0.3 3.5h0m1-0.4h0m10.5 1.1h0m2.1-0.4h0m2.9-3.7h0m31.7 1.7h0m18.3 2.6h0m6.1-4.6h0m0.4 6h0m0.3-1h0m0.1-5.2h0m0.4-0.7h0m0.4 3.4h0m113.9 3.8h0m2.1-5.7h0m3.4 5.1h0m1.4 0.6h0m3.1-3h0m2.1 1.2h0m0.9 1.3h0m2.9-6.8h0m0.6 0.6h0m0.5 4.7h0m0.3-0.5h0m0.7-0.4h0m0.7-2.5h0m0.4 2.8h0m0.6 2.2h0m0.6-6.6h0m5.5 5.4h0m1.2 0.6h0m-269.3 4.2h0m0.3 0.7h0m0.9 0h0m0.9 1.4h0m1-1.2h0m0.4-3h0m0.3 1.1h0m1.2 3.3h0m0.7-1.3h0m0.1-0.6h0m1.9-2.6h0m0.3 0.2h0m7.1-1h0m25.5 3.5h0m3.6-1.8h0m1.3-1.5h0m1.4 4.7h0m0.6-4.3h0m1.1-0.4h0m3.3 0.4h0m0.7-0.5h0m1.7 3.6h0m1.6 0.3h0m3.5-0.5h0m64.8 0.3h0m117.8 3.5h0m0.6-4.9h0m1.7 5.2h0m4.3-6.8h0m9.8 1.4h0m0.9-1.1h0m0.9 2.5h0m0.4-0.5h0m0.3-1.8h0m0.3 2.3h0m0.4-0.2h0m0.2 4.1h0m0.6-6.9h0m1.1 0.2h0m1.6 0h0m2.9 3.2h0m0.2 1.9h0m0.9 0.9h0m0.5-0.3h0m0.9-5.3h0m-226 7h0m6.2 0.8h0m188.9 4.7h0m0.6 2.1h0m0.8-1h0m2-0.4h0m0.6-5.4h0m0.5 0.2h0m0.2-1.1h0m0.7 5.4h0m0.6-0.3h0m0.8 1.5h0m0.1-2.4h0m1-0.3h0m0.9 3.1h0m3.1-4.8h0m0.4-1.1h0m0.6 5h0m1.2-5.4h0m0.8 0.4h0m0.2 5.7h0m0.8 0.4h0m0.5-6.2h0m1.4 1h0m0.8 2.1h0m0.6-0.7h0m0.9-0.1h0m1.7-1.6h0m2.5 2.4h0m1.9-2.8h0m3-1.2h0m2 5.6h0m3.2-1.1h0m-280.2 9.1h0m246.1-4.5h0m4.1 3.4h0m0.8-4.4h0m0.8 0.2h0m1.2 3.7h0m0.5 0.2h0m0.7-0.2h0m1 0.8h0m6.5-2.1h0m14.8 4.7h0m3.6-4.7h0m0.8-1.9h0m0.7 0.7h0m0.4-0.4h0m1.1 0.3h0m0.5 4.6h0m5.9 1.4h0m-268.1 6.4h0m6.9 1.7h0m223.1-6.6h0m1.5-0.5h0m0.5 3.3h0m0.8-2.8h0m0.9 2h0m0.8-1.5h0m4.4 5.4h0m11.9-4.3h0m3 3h0m1 0.8h0m0.3-1.6h0m0.4 2.9h0m0.3-5.6h0m0.4 2.6h0m0.6 0.7h0m1.3-4.2h0m0.6 4.1h0m0.7-2.5h0m0.6-2.7h0m0.6 1.6h0m0.5-1.8h0m1.1 2.9h0m0.3 4.2h0m1 0.6h0m0.4-5.3h0m0.9 0.6h0m1.1 1h0m0.9 1.9h0m0.7-5.3h0m0.5 0.9h0m-293.1 11.5h0m28.2-4.4h0m237.8 0.5h0m0.3 4.1h0m0.4-1.5h0m0.6-0.8h0m0.7 0.1h0m0.8 1.5h0m1.1-1.2h0m1.3 4.2h0m6.4-4h0m1.9-2.1h0m1-0.8h0m0.7 3.3h0m0.3 2.3h0m0.8-4.4h0m0.7-0.7h0m0.5 0.7h0m1.2-0.7h0m0.7 2h0m0.3 1.2h0m1.3-2.5h0m0.4 3.1h0m0.7-0.7h0m0.4 2.3h0m0.2-1h0m0.5 1.2h0m1.1-5.5h0m0.5 1.6h0m0.4 3.2h0m0.6-4h0m0.9 3h0m0.5 2.7h0m-23.5 1.6h0m1.6 2.9h0m2.8-1.7h0m1.5-0.5h0m2.8 0.4h0m1.4 0.7h0m0.2 3.2h0m1.1 0.2h0m0.7-2h0m1.4-3.3h0m0.4-0.5h0m0.4 3.4h0m1-2.5h0m0.5 3.4h0m1.2-1.4h0m0.5-2.3h0m1 0.4h0m0.5 3.4h0m0.6-0.7h0m0.7-1.4h0m0.3 0.7h0m1.1 1.7h0m0.6 0.8h0m0.1-1.2h0m1-4.5h0m-276.9 7.7h0m2.9 2.9h0m260.4 3.1h0m0.8-4.4h0m0.7 2.1h0m0.7 1.7h0m0.8-1.9h0m0.6-0.6h0m0.5-3h0m0.7 0.3h0m0.4 6h0m0.6-3.4h0m0.4-2h0m0.9 5.2h0m1.2 1.7h0m0.7-2.6h0m0.5-1.3h0m0.6-2.9h0m0.7 1.7h0m0.6-0.9h0m0.6 4.3h0m-270.5 2.3h0m9.3 0.6h0m0.4 3.8h0m261.5-5h0"/>
<g class="c"><circle cx="1535.1" cy="579.5" r="49.2"/><circle cx="1182.2" cy="564.4" r="49.2"/><circle cx="1192.3" cy="590.6" r="49.2"/><circle cx="1179.9" cy="567.3" r="49.2"/><circle cx="1057.3" cy="464.3" r="49.2"/><circle cx="1059.5" cy="470.7" r="49.2"/><circle cx="1094.4" cy="539.3" r="49.2"/><circle cx="1095.3" cy="539.3" r="49.2"/><circle cx="1110.4" cy="543.4" r="49.2"/><circle cx="1106.9" cy="565.3" r="49.2"/><circle cx="1106.3" cy="562.6" r="49.2"/><circle cx="1291.1" cy="473.8" r="49.2"/><circle cx="1652.3" cy="468.7" r="49.2"/><circle cx="1653.1" cy="468.2" r="49.2"/><circle cx="1648.8" cy="696.2" r="49.2"/><circle cx="1609.3" cy="665.8" r="49.2"/><circle cx="1618.5" cy="624.7" r="49.2"/><circle cx="1606.9" cy="637.1" r="49.2"/><circle cx="1623.9" cy="652.8" r="49.2"/><circle cx="1569.3" cy="570.9" r="49.2"/><circle cx="1568.2" cy="570.7" r="49.2"/><circle cx="1602.5" cy="571.9" r="49.2"/><circle cx="1510.9" cy="437.5" r="49.2"/><circle cx="1511.4" cy="439.4" r="49.2"/><circle cx="1510.4" cy="438.1" r="49.2"/><circle cx="1510.4" cy="438.0" r="49.2"/><circle cx="1508.2" cy="438.5" r="49.2"/><circle cx="1487.9" cy="475.4" r="49.2"/><circle cx="1532.7" cy="471.9" r="49.2"/><circle cx="1461.8" cy="445.0" r="49.2"/><circle cx="1423.8" cy="490.7" r="49.2"/><circle cx="1557.9" cy="499.2" r="49.2"/><circle cx="1541.1" cy="497.3" r="49.2"/><circle cx="1491.7" cy="643.5" r="49.2"/><circle cx="1492.8" cy="643.4" r="49.2"/><circle cx="1437.6" cy="602.9" r="49.2"/><circle cx="1657.2" cy="460.9" r="49.2"/><circle cx="1656.9" cy="461.1" r="49.2"/><circle cx="1713.8" cy="393.7" r="49.2"/><circle cx="1558.8" cy="425.8" r="49.2"/><circle cx="1566.6" cy="423.2" r="49.2"/><circle cx="1438.9" cy="389.3" r="49.2"/><circle cx="1448.7" cy="405.2" r="49.2"/><circle cx="1489.0" cy="603.3" r="49.2"/><circle cx="1481.2" cy="495.7" r="49.2"/><circle cx="1481.5" cy="496.0" r="49.2"/><circle cx="1405.9" cy="453.3" r="49.2"/><circle cx="1680.7" cy="430.2" r="49.2"/><circle cx="1680.0" cy="435.1" r="49.2"/><circle cx="1673.9" cy="446.3" r="49.2"/><circle cx="1259.2" cy="550.6" r="49.2"/><circle cx="1685.0" cy="427.7" r="49.2"/><circle cx="1685.2" cy="429.1" r="49.2"/><circle cx="1685.0" cy="428.6" r="49.2"/><circle cx="1685.5" cy="426.9" r="49.2"/><circle cx="1679.8" cy="397.2" r="49.2"/><circle cx="1617.4" cy="405.4" r="49.2"/><circle cx="1649.7" cy="397.1" r="49.2"/><circle cx="1637.2" cy="522.2" r="49.2"/><circle cx="1636.0" cy="524.3" r="49.2"/><circle cx="1619.1" cy="523.9" r="49.2"/><circle cx="1613.8" cy="540.2" r="49.2"/><circle cx="1659.2" cy="525.0" r="49.2"/><circle cx="1396.7" cy="414.3" r="49.2"/><circle cx="1586.9" cy="435.3" r="49.2"/><circle cx="1587.2" cy="435.1" r="49.2"/><circle cx="1572.9" cy="463.2" r="49.2"/><circle cx="1555.7" cy="480.3" r="49.2"/><circle cx="1383.9" cy="551.0" r="49.2"/><circle cx="1385.0" cy="551.9" r="49.2"/><circle cx="1091.1" cy="336.4" r="49.2"/><circle cx="1672.7" cy="446.2" r="49.2"/><circle cx="1673.1" cy="446.1" r="49.2"/><circle cx="1673.0" cy="445.2" r="49.2"/><circle cx="1652.9" cy="445.0" r="49.2"/><circle cx="1610.7" cy="449.8" r="49.2"/><circle cx="1610.2" cy="449.6" r="49.2"/><circle cx="1651.3" cy="432.9" r="49.2"/><circle cx="1666.3" cy="436.7" r="49.2"/><circle cx="1632.9" cy="578.9" r="49.2"/><circle cx="1530.8" cy="534.7" r="49.2"/><circle cx="1488.0" cy="555.3" r="49.2"/><circle cx="1394.5" cy="598.0" r="49.2"/><circle cx="1393.7" cy="597.6" r="49.2"/><circle cx="1393.8" cy="598.5" r="49.2"/><circle cx="1386.5" cy="598.9" r="49.2"/><circle cx="1414.5" cy="650.3" r="49.2"/><circle cx="1423.7" cy="657.0" r="49.2"/><circle cx="1367.4" cy="653.2" r="49.2"/><circle cx="1386.0" cy="627.0" r="49.2"/><circle cx="1203.9" cy="444.7" r="49.2"/><circle cx="1203.0" cy="446.4" r="49.2"/><circle cx="1636.8" cy="487.1" r="49.2"/><circle cx="1652.4" cy="492.6" r="49.2"/><circle cx="1650.5" cy="469.9" r="49.2"/><circle cx="1105.4" cy="302.6" r="49.2"/><circle cx="1105.0" cy="303.2" r="49.2"/><circle cx="1594.9" cy="488.6" r="49.2"/><circle cx="1613.0" cy="463.1" r="49.2"/><circle cx="1486.8" cy="419.2" r="49.2"/><circle cx="1504.3" cy="418.6" r="49.2"/></g>
<g transform="translate(900.2,0)"><path class="st" d="M206.5 279.3l30.1 8.3l32.7 7.9l10.8 2.4l45 8.6l44.8 6.6l44.5 4.8l45.7 2.9l31.4 0.8l23.5 0.1l0-6.4l2.2 0.1l1.5 0.9l1.7 7.3l0.9 2.7M179.5 319.7l2.7 1.4l3.4 1l2.5 2l2.5 2l0.6 4.2l-0.6 3.4l3.9 2.5l3.5 0.8l4.6-0.9l3.9 1.3l2 2l4.3 0.1l4.1 0.5l3.6 0.5l5.1-0.8l4.9 0l4.9-0.2l11.6 2.8l12.4 2.9M269.3 295.5l-9.6 42.2l0.4 4.6l-0.7 2.9M259.4 345.2l1 3.3l1.5 5.9l-2.6 4.6l-2.9 3.7l-3.1 2.8l-2.9 4.6l1 3.7l1.4 2.1l-1.7 3.1l-1 1.9l-6.9 30.4M156 388.2l26.7 7.9l24.2 6.5l36.3 8.7l36.8 7.7l37 6.5M206.9 402.6l-12.8 49.7l24.4 40.3l30.9 42.5M280 419l-16.3 84l-2.6 13.5l-3.2 2.5l-2.3-2.4l-3.9-0.2l-0.9 3.3l0.1 5.2l0 7l-1.5 3.2M249.4 535.1l0.2 2.7l1.3 4.6l2.7 6.1l-4 2l-2.5 3.3l-0.4 4.3l-3.9 3.6l-0.1 3.4l1.9 3.9l-0.1 2.6l-3.9 1.4M263.7 503l27.2 5l39.3 6l40.7 5l40.3 3.6l12.9 0.9l27.4 1.4l40.4 1.1l32.1-0.1M339.5 446.2l-9.3 67.8M317 425.5l-2.7 16.9l25.2 3.8M339.5 446.2l38.6 4.7l24.8 2.3l25.4 1.9l-1.1 17.1M323.7 383.9l-6.7 41.6M280.1 297.9l-3.5 16.4l2.1 8.2l3.8 6l2.9 6.1l3.1 5.4l3.1 0.6l-2.9 7.3l-2.5 6.7l-0.4 3.6l2.4 2l3.5-2.8l2.4 3.2l0.5 7.1l1.9 3.2l2.5 3.1l1.3 6.3l2.2 1.6l5.7-1.1l6.1 0.5l4.2 0.4l1.7-2.8l2 2.9l1.5 2.1M323.7 383.9l1.4-8.9l36.3 5.2l47.3 5M414.4 317.9l-5.7 67.3l-2.9 34l-2.9 34M410 369.3l48 3.1l40.8 0.9M405.8 419.2l37.7 2.6l30.9 1.2l2.5 2.1l3.6 2l5-1.3l5 0.1l3.1 2.2l3.1 2.1l2.5 1.7M427.2 472.2l39.4 1.9l47.7 0.6M427.2 472.2l-3.1 51.3M330.2 514l-13.3 95.9M411.2 522.6l-0.6 8.5l-3.7 42.6l-2.8 34l-27.8-2.4l-23.2-2.4l0 2.6l0.9 1.3M410.6 531.1l40.6 2.4l-1.4 33.1l4 3.3l4.2-0.2l2.7 1.8l3.5 1.8l4.8 1l2.8 0.9l4.2-0.4l2 4l4.3-1.3l2.7 2.3l3.5 1.7l2.9-2.5l3.5 1.2l4.9 1.1l3.5-0.9l4.9-0.6l4.2-0.4l4.2-1.2l5 3.3l5.2 1.8M524 525.9l0.1 8.6l2.9 18.8l-0.2 30l3.2 1l3 0.5l0.2 9M533.2 593.8l0.4 17.4l2 2.5l1.6 5.1l3 5.8l1.2 4.3l-2.4 6l-0.1 5.1l0.3 4.2l-2.1 3.4l0.2 2.9M524 525.9l-0.4-35.9l-3.2-3.4l-2.6-4.3l1.9-3.9l-2.6-1.7l-2.8-2M514.3 474.7l-3.7-5.2l-2.3-4.7l-1-5.5l-0.6-5.1l-2.6-6l-0.6-6.9l-2.5-4.2l-1.8-5.2M499.2 431.9l-1.5-3.7l2.1-6.5l-1.5-6.5l1.6-0.3l0.1-30.7l-3-2l-1.7-3.1l3-3.4l0.5-2.4l-0.5-6.1l-2.3-5.9l0.1-5.1l-0.5-9.3l-2.3-6.8l-1.1-5l0.1-6.7l-0.8-6.8M499.9 414.9l30.1-0.3l34.2-1.2M508.3 464.8l29.2-0.5l22.6-1.1l3.1 3.3l1.1 0.3M551.1 358.7l-2.2 1.6l0.4 9.5l-1.8 2.6l-4.8 5.3l2.2 5l-0.6 6.8l0.3 3.4l5.6 3.5l5 2.9l4.5 5.3l3.4 2.9l1.1 5.9l0.5 5.1l1.5 5l5.2 4.4l0.7 2.2M572.1 430.1l20.6-1.4l14.9-1.2M572.1 430.1l3.3 3.2l3.6 6.6l-2.2 6.1l-7.4 2.5l-1.7 4.1l2.1 4.1l-1.7 4.4l-3.8 5.7l-0.9 3.9l0.9 4.3l4.8 5.8l4.9 4.8l1.6 5.6l5.9 0.9l0.6 4.2l-1.9 7l6.3 4.7l5.7 5.7l0.4 4.6l5 4.8M612.1 440.5l3.7 40.4l-1.2 4.4l2.5 5.8l-2.9 5.4l-2.2 4.5l-1 4.4l0.2 2.5M651.4 481.5l-0.4 5.2l-7 2.2l-1.9 7.4l-2.5 1.2l-2.2 5l-4.2-2.6l-2.9 4.9l-5.3 0.2l-6 0l-5.9 1.1l-1.9 1.8l-1 4.4l-4.2 6.4l-0.4 2.2l-6.2-1.7l-1.8 3.9M646.2 437.3l5.2 44.2M616.2 439.4l29.9-3.1l0.1 1l17.1-2.6M651.4 481.5l4.8-0.6l3.2 4.3l5.4 0.7l2.9 1.7l4.6-0.1l3.6-2.7l2.3 1.9l3.7 2.6l3.8-1.1l0.6-5.3l2-4.6l2.7-3.9l3.4-3.9l5.3-3.5l1.4-3.7l1.4-8l-1-5.9l1.4-1.8M699.1 424.7l3.8 22.9l2.5 15.6l13.3-2.3l25.3-4.7l21.7-4.5M718.7 460.9l1.6 8.8l4.1-5.5l3.4-2.8l4.6 0l2.3-2.2l5.2-0.1l2.6 4.4M742.5 463.5l3.5 2.8l3.5 1l3 1.5l0.7 3.4l-1.9 3.8l-0.2 2.7l3.9-0.8l1.8 2.3l5.1 1.5l4.4 1.7M742.5 463.5l-0.8 3.4l-7.5-3.2l-1.3 7.2l-3.4 4.6l-2.2 5.1l-2.4 1.8l-5-1.9l-1.6 6l-4.4 10.3l0.6 3.4l-6.4 2.4l-2.2 2.8l-3.3 1l-5.9 1.5l-4.1-5.1M681.9 489.3l0.6 4.6l2.6 3.9l2.5 3.5l5 1.5M692.6 502.8l-4.6 5.5l-4.2 4.4l-5.3 5.9l-6.7 3.5M671.8 522.1l26.8-3.6l22.6-2.9l26.7-4.9l28.2-5.7M671.8 522.1l-31.3 3.2l-28 1.8l0.3 3l-18.2 1.4l-1.1 0.1M597.6 523.1l0.6 3.9l-2.8 2.8l-1.9 1.8l-0.4 4.3l-1.8 4.4l-2.3 6.2l-2.5 4.4l0.3 4.3l-2.6 2.7l-3.2 5.3l-0.4 5.2l-4.6 5.4l-1.9 3.5l0.4 6.8l-1.1 6.1l0.8 2.5l1 5l3.1 5.9l-2.6 4.4l-4 6.1l-1.2 6l-1.5 6.9M524.1 534.5l35.5-1l25.1-1.3l1.3 3.3l-3.8 5.4l9.1-0.6M698.6 518.5l-0.3 4.2l-3.5 4.5l-4.6 1.4l-2.4 2.2l-4.6 1.9l-3.6 3.6l-4.5 3.1l-5 3.6l-3.7 3.9l0.1 3.5M683.1 548.2l-16.6 2.2l-17.6 2l-35.7 3.5l-29 2M683.1 548.2l4.1-1.9l5.2-2.8l18.5-2l0.3 1.7l1.5-1.1l2.8 4.4l15.2-2.2l18.2 13M683.1 548.2l-2.6 5.5l4.6 2.9l2.9 0.4l4.5 7.2l5.5 3.5l4.8 3.6l5.2 6.1l3.4 3.8l1.4 4.1l4.6 6.2l2.4 1.6l2 0.4M648.9 552.4l9.9 35.5l3.5 7.7l-0.1 5.1l-0.2 6.9l1.6 5l1.5 6.6M665.1 619.2l2.6 4.8l27.2-1.7l11.3-1.1l3 3l-0.5-6.5l6.1-0.4l2.5-0.2M665.1 619.2l-37.7 3.9l1.1 4.1l2.5 2.4l-0.5 3.4l-0.8 2.2M613.2 555.9l1.5 1.5l-0.9 32.7l-0.2 18.8l2.4 20.3l0.9 7.9M569 627l27.5-1.5l-1.3 6l2.4 3.3l2.5 4.4M533.2 593.8l41-1.1M570.9 360.8l3.8 3.8l12.2 2.6l3.7 1.6l8.4 1l0.2 2l3.7 1.8l-0.1 5.6l2.4-0.2l-0.4 2.6l1.4 1.6M707.7 418.5l0.8 4.6l34.1-6.4l20.3-4.3l3.8 2.6l3.8 5.3l2.8 1l-2.1 5l-1.3 2.9l-0.3 4.5l2.8 3.7l4.7 3.4l-0.9 1.9l-2.6 3.2l-3.2 3.4M765.7 451.7l0.9-1.6l1.1-0.9l1.6-0.2l1.1 0.3M765.7 451.7l5.8 21l8.4-1.8M771 481.2l3-0.3l4.9-2.4M773.3 421.3l11.3 3.7M787.7 424.2l-1.4-1.4l2.7-2.4l-1.2-1.5l-2.4-12.6l0.1-12.3l-3.3-14.1l-2-0.4l-1.4-5.8l-1.5-8.4l-2-8.5M785.5 394l9.7-2.1l14.1-3.1l0.4-0.8l2.5-3l2.1-0.6M785.4 406.3l20.8-4.7l5.1-1.3l0.5 2l1.2 1.8l2 1.2l1.8 2.7M806.2 401.6l1.9 6.9l0.4 4.9M795.2 391.9l-1.7-2l-0.1-5.8l-0.7-6l1.2-4.3l0.4-5.8l0.1-4.4l3.5-3.5l0.1-4.5l-1.1-4.2M814.9 380.8l-2.2-2.1l-2.7-2.5l-5.4-17.9l-4.1-13M796.9 351.4l-21.6 5.4l-15.8 3.9M182 282.9l-1.3 6.3l0.6 2.8l0.7 5.8l-0.4 4l-0.5 6l1.1 1.2l-1.3 2.3l0.1 1.8l-2.1 5.9l0.5 1.1l-0.5 3.9l-1.7 4.8l-1.8 5.8l-2.5 6.2l-2.2 5l-3 7.8l-3.3 7.7l-3.9 4.9l-2.7 4.7l-1.8 2.3l-0.3 6.9l-0.5 6.1l0.8 2l-1.1 4.2l-0.1 5.3l-2.8 6.1l-2.1 4.9l-4.2 4.3l-0.2 3.3l2.3 4.9l1.4 5.2l-1 5.2l-1.2 8.4l2.1 7.3l2.8 5.8l1 2.4l-1.8 2.7l3.2 1.9l2.5 3.3l-1.4 5l-0.1 5.3l2.2 4.5l3.4 1.5l0.4 2.8l-2.5 2.1l-1.2 5.8l2.3 4.5l1.5 3.8l2.5 4.9l3.1 5.8l-0.9 1.9l2.9 2.7l-1.4 3.9l-1.1 5.4l1.8 2.7l6.4 1.5l3.8 2.1l5 3.5l2.4 3.8l3 2.3l4.3 0.7l0.7 3.1l-0.7 1.6l3.2 0.6l2.9 3.5l2.6 3.1l3.3 5.5l0.2 6l-0.1 3.1l1.1 2.7M156.8 463.4l1.6 0.5l-0.6 1.6l0 1.8l0.7 1.3l1 1l0.8 1.1l0.9-0.7l-0.4-1.5l-0.5-1.5l0.1-1.6l-0.3-1.4l-0.2-1.5l-0.9-2l1.7-0.9l-1.7-1.2l-0.7 1.3l-0.8 1.3l-0.5 2M206.4 569.1l34.2 3.9l-2.1 3.6l23.7 14.3l25.8 14.7l41 5.9l1-7.6l24 2.9l2 1.1l2.2 4.7l3.4 2l4.5 5.5l8 8.1l3.7 7.2l2.1 10.4l1.7 1.7l4.4 4.4l3.7 1.2l5.6 4.5l3.6 1.3l4.8-3.9l3.2-8.6l5.7-2l5 1.7l8.1 1l5.6 5.7l4.6 6.2l2.2 6.9l2.7 7.7l3.6 2.7l4.3 6.9l3.6 3.5l0.5 7.6l2.6 3.5l2.4 6.8l4.3 1.5l4.8 2.6l4.1 2.6l6.6 0.5l4.6 3.1l5.4-1.4M487.6 713.5l-0.2-5.7l-1.9-8.4l-1-6.8l1.2-5l1.5-2.5l2.3-3l3.1-4.1l6.8-4.6l6.7-4.3l8.3-4.5l4.4-4l5.6-3.9l4.7-3.5l8.2-2.7M487.2 685.1l-1.2-0.6l-1-0.9l-0.8-1.1l1.4-0.3l0.9-1l1.1-0.9l0.8-1.2l1.2-0.8l1.1-0.8l1.2-0.8l1.5-0.8l1.2-1.2l1-1.4l0.7-1.1l0-1.4l0.5-1.3l0.4-1.2l0.6 1.2l1.1 0.8l0.5 1.4l1.2-0.6l1.1-0.7l1.4-0.2l0.9-1.1l1.4-0.3M524 656.3l-3-0.8l-0.8-5l2.9-1.4l1.5 3l3 1.6M537.3 650.5l1.6-0.1l1.5-0.1l1.3-1.2l1.7 0.6l1.4-0.9l1.2 0.9l1.6-0.8l1 1.3l1.5-0.6l1.1 1l1.5 0.4l1.5 0.2l1.5 0.5l1.5-0.4l1.5 0.3l1.4 0.7l1.5-0.4l1.4-0.8l1.6-0.5l1.5 0.8l0.8 1.5l0.2-1.4l-0.4-1.4l0-1.4l1.1 0.8l1.5-0.4l1.1 0.8l1.2 0.6l0.6 1.3l1.3 0.5l0.8 1.3l0.8 1.4l0.9 1.4l1.3 0.4l1.3 0.4l0.5 1.8l1.5 0.2l1.3-0.8l1.7 0.8l1.4-0.7l1.9-0.2l1.8 0.3l1.6 0.3l1.4-0.8l0.8-1l1.5-0.4l0.5-1.4l2.1-1.3l1.9 0.6l1.9 0.4l1.1 1.1l0.2 1.6l0.8 1.3l1 1.2l1-1.4l0.6-1.6l1.2 0.7l1.3 0.8l-0.2-1.4l0.6-1.2l1.4-0.9l-1.2-1l-1.7-0.1l-1-1.2l-1-1.2l-1.2-0.9l-1.5-0.7l-1-1.1l-0.9-1.5l-1.5-0.9l1.7-1l1.9-0.1l0.9-1.4l1.1-1.3l1.1-0.9l0.3-1.4l-1.8 0.6l-1.9 0.2l-1.5-0.2l-1.4 0.2l-1.5 0.3l0.6-2.3l2.2-0.1M597.3 640.7l-3.7 1.1l-5.9-0.5l-0.2-3.4l4.3-1.4l4.6 1.7l0.9 2.5M600.1 639.2l3.5-2.3l2.9-1.2l2.9-0.8l5.1 0.5l2.4 1.7l3.8-1.9l0.2-3l0.8-3.2l1.5 0.4l0.8 4.2l1.6 2.4l-3.2 0.6l4.7-0.7l2.6-0.7M629.7 635.2l3.1-1l1.9-3.3l2.3 0.7l3 0.9l4.4-0.5l6 0.8l5.4 2.3l5.6 3.3l1.1 3.8l5.3 0.6l4.2-2.2l4.7-4l1.9-3.3l3.7 0.1l4.8 2.8l4 2.5l2.1 3.8l2.5 1.9l1.8 2.7l4.7 1.5l1.3 3.3l1.6 6.1l-1.6 5l-0.2 4.2l2.5 3.6l1.3-2l0.6-3l1.7 1.4l-0.9 4.1l-2.6 2.4l2.9 3l2.3 3.6l3 3.6l2.8-2.4l1.5 4.9l-1.5 3.6l3.5-0.2l3.1 4.6l2.5 4.4l5.2 0l2.9 3.8l1.4 4l0.9 2.8l3.1-0.5l4.1-1.3l3.7-1.2l0.7-3.5l-0.2-3.3l1.3-3.1l0.3-6l-0.6-9.8l-1.3-4.1l-1.9-3.9l-3-4.1l-1.6-2.8l-4.1-6.7l-1.3-5.3l0.8-1.1l-2.7-5.4l-4.3-3.3l-2-3.1l-4.1-6.9l-1.6-3.7l-2.8-6.4l-1.6-6.8M748.8 704.1l-1 1.7l-0.3 1.9l-1.2 1l-0.8 1.4l-0.8 1.3l-1.5 1l-1 1.5l-1.4 0.9l-1.6 0.7l-1.3 0.9l-1.6 0.4l-1.4 1l-1.5 0.5l-1.5 0.5l-1.5 0.7l-1.6 0.2l-1.4 0.9M717.3 617.1l-0.1-3.2l-0.1-4l1.5-5.7l1-5.3l2.6-4.7l-0.4-0.7l2.4-2.3l2.7-3.5l1.7-3.2l2.5-2.2l2.9-2.7l3.2-4l3.2-1.8l1.8-3.8l1-6.2l1.8-3l3.9-3.5l3.3-1.5l4.3-0.1l0.6 0.3l1.1-6.3l3.3-5l4.7-4.5l5.3-1.9l2.7 1.2l2.1-5.7l3.4-3.7l3.6-3l2.2-1l-0.4-6.4l-1.7-3.2l-3.1-4.5l-2.7-4.7l-1.5-2.3l-2.4-4.8l-0.6-1.2M771.5 538.3l0.3-1.5l0.5-1.3l0-1.5l0.9-1.3l-1.6 0.1l-1.7-0.1l-1.6 0.1l1.8-0.8l1.2-1.5l0.8-1.8l-0.1-1.8l-1.6 0l-1.6-0.8l-1.7 0.7l-1.5-0.4l1.4-0.1l1.1-1.1l1.4-0.2l1.2-0.8l1.4 0l1.6 0.5l1.6 0l1.7-0.6l1.5 0.5l0.7-1.2l0.3-1.4l0.9-1.1l0.6-1.2l-0.2-1.6l-0.7-1.5l0.1-1.6l-1.4-0.4l-1.5 0.6l-1.5-0.2l-1.4 0.5l-1.4 0.7l-1.4 0.5l-1.4 0.2l-1.5 0.2l-1.5 0.3l1.5-0.8l1.1-1.2l0.9-1.4l1.3-0.5l1.3-0.5l1.3-0.3l1.3-0.7l0.5-1.4l-0.4-1.5l0.3-1.5M773.1 499l-1.4-0.1l-1.3 0.5l-1.4 0.1l-2.1-0.4l-1.1-1l-1-1.1l-1.2-0.7l1.4 0.5l1.5 0.8l1.5 0.4l0.3-1.9l-1.6-1.4l-1.1-1l-1.6-0.2l-1.2-0.9l-0.9-1.2l1.5 0.1l1.5 0.6l1.5 0.4l1.3 0.8l-0.6-1.2l0-1.4l0.1-1.3l-1.4-1l-1.2-1.1l-1.6-0.5l-1.3-0.9l-1.1-1l-1.2-1l-0.9-1.2l-1.3-0.9l0.9 1l1 0.9l1.4 0.3l0.9 1l1.3 0.5l0.8 1.2l1.5 0.2l0.9 1l0.5-1.4l-0.2-1.6l0.1-1.5l-1.4-2.1l-0.5-1.5l-0.9-1.3l-0.8-1.3l-1.5-0.7l-1.4-1l-1.4-0.9l1.6 0l1.4 0.4l1.3 0.8l-0.6-1.3l-0.8-1.2l-0.3-1.4l-1-1.1l-0.5-1.6l0.6-1.6l-0.1-1.6l-0.3-1.2l-0.1-1.3l-0.4-1.3l-2.1-0.4l1.3-0.4l1.1-0.7l1.3-0.6l1.1-1l1.1-1.2l-0.3-2.6l1.8 0.5l-0.8 1.4l-0.9 1.2l-0.8 1.4l0.3 1.5l-0.3 1.5l-0.1 1.6l0.1 1.6l1.1 1.2l1.3 0.9l-0.6 1.5l-1.2 1.2l1.5 0.7l1.7-0.2l-1 0.9l-1 0.9l-0.4 1.3l1.3 1.4l1.1 1.6l1.7 0.1l1.7 0.1l0.8 1.1l0.8 1.1l0.2 1.4l2.5 0.7l0.6 1.4l-0.2 1.5l-0.1 1.4l-1.4 1.4l-0.7 1.7l0.3 1.5l-0.5 1.4l0.2 1.5l1.1 2l0.8-1.1l1.1-0.7l-0.1-1.4l0.4-1.2l0.7-1.2l0.1-1.3l0.3-1.3l0.2-1.4l0.2-1.3l0-1.4l0.4-1.4l0.7-1.2l1-1l0.3-1.3l-0.1-1.5l0.8-1.3l-0.2-1.4l0.5-1.4l0-2l-0.7-1.4l-0.3-1.6l-0.3-1.5l-0.5-1.3l-1.4-0.6l-0.7-1.5l-1.4-0.6l-0.7-1.1l-0.8-1.1l-0.7-1.1l-0.2-1.5l-1.2-0.6l-0.7-1.1l-0.7-1.2l-0.7-2.5l0.7-1.5l0.8-1.4M770.4 449.3l-0.8 2.3l0 3.1l3.2 2.5l3.6 1.3l2.7-0.1l0.3 4.1l1.6-1.6l3.7-7.3l2.3-7.2l-0.4-3.4l-0.1-2.7l-0.1-3.4l-0.9-2.8l-3.2 0.5l0-2.6l1.9-1.7l0.4-3.6l0-1.7M784.6 425l-1.8-4.9l1.8 6.6l2.1 1.3l1-3.8l1.4-0.8l3.8-3.1l2.8-2.4l7-2.1l3.1-1.7l2.7-0.7l4.5-1.9l0.1-2.5l-1.1-5l1.9 2.1l0.5 3.4l1.6-0.5l0.8-1l2-2.3l2.6-3.2l0.8 3.7l4.2-3.1l3.9-1.8l-0.4-2.2l-1.4-3.2l-3.4-0.4l0.7 0.7l2.2 1.7l1.2 1.8l-3.5 1.8l-2.6 0l-2.6-2.4l-0.2-1.8l-1.8-2.1l-2.4-1.2l-2-0.3l0.8-2l0.7-1.1l2.3-3.2l-2.2-0.3l-1.2-1.8l-0.2-0.9l0.6-3.6M850.4 339.2l-1-1.1l-3-3.5l-1.6 0l-2.3-1.4l-1.4-4.6l-4.8-0.3l-1-4.3l-5.7-18.2l-2.3-1l-5.2-1.9l-2.4 2.7l-3.1 2.1l-2.2-1.5l-0.6-2.1l-2 0.1l-5.3 14.8l0.6 4.8l-1.7 4.3l1.7 4l-0.7 4l-3.1 6.7l0.3 2.6l-3.1-0.1l-3.4 2.3l-0.2 3.8M784.5 431.7l1.2 0.6l1.8-0.6l3.7-1.3l5.8-3.2l6.7-4.6l5.9-5.1l-2.7 2l-2.2-2.1l-3.8 4.1l-5.9 1.5l-5.1 2.1l-2.7 2.3l-2.1 1.3l-0.6 3M821 409.6l2.2-3l2.2 0.9l0 0.8l-3.2 1.8l-1.2-0.5M828.7 408.7l1.6-2.4l1.7 1.6l-1.6 1l-1.7-0.2M759.5 360.7l-2.3 0.9l-4.1 3.5l-1.9 2.7l-3.5 6.9l-4.5 4.8l2.4 2.6l1.4 6.7l-3.3 2l-5.4 4.5l-7.2 1.6l-11.3 0.4l-6.5 3.1l0.9 2.6l2.3 3.4l-4.4 7.4l-4.4 4.7l-3.8 2.8l-4.7 3.7l-3.3 1.9l-5.8 3.5l-4.4 5l-6.1 1.5l-6.3 1.2l-0.6-1.5l-2.7 0.8l-3.3-1.5l-3.4-1.2l0.9-3.1l2.4-2.9l-0.2-3.8l2.3-2l0-4l3.7-0.5l0.4-3.5l0.3-3.5l-2-4.4l-1.7-5.4l-1.2-4.2l-4.4-3.1l-4.2 3l-3.6 5.8l-2.5-0.2l-1-3.3l2.6-3.5l2.5-4.1l1.1-3l-0.5-6.5l-2.1-4l0-2.6l-1.3-2.4l-3.9-0.7l-5.2-2.9l-3.3 0.1l-3.3-1.9l-3.5 3l1 3.3l0.7 1l-3.6 1.2l-1.2 2.2l0.1 5.1l-2.1 2.5l1-3.5l-1.6-3.8l-1.7 3.3l-3.4 2.4l-1.4 4.7l-0.6 6.6l-1.9 3.6l0.4 6.8l3.2 6.9l2.5 7.6l-0.3 6.4l-2.3 5.4l-2.6 5.4l-1.7 1.6l-3.6 2l-2.6 0.3l-1.7-1.3l-1.2-2.9l-1.1-2.9l-2.4-5.2l0.1-2.3l-0.4-4.2l-1.4-4.7l-0.4-6.3l1.6-6.1l0.1-6l1.1-1l0.1-5.3l0.7-2.4l1.2-3.6l2.6-5.3l0.8-3.5l-1.7 1l-1.6 2.3l-1.4 4.4l-3.9 4.1l-2.8 2.3l0.3-3.7l1-2.7l2.7-3.6l2.5-5.4l3-6.2l1.1 1.2l2.9-3.3l2.2 4l0.8-3.5l2.1-2.7l4.2 0l5-3.4l5.5 0.9l3.5 1.8l4.2-2.2l5.3-0.7l-3-4.4l-3.4-3.8l-2.9 0.8l-5 0.1l0.4-4.6l-6.3 2.2l-5.6 0.6l-4.7 2.7l-2.7 2.5l-4.2-1.4l-4.8 0.1l-4.2-4.4l-5.6-1.2l-2.7 2.9l2.3-7.5l3.2-3.7l2-0.5l-1.9-0.7l-3.1 0.5l-4.9 3.9l-3.8 4.6l-4.1 2.5l-5.6 1.2l-2.7 2.7l-4.3 2l-5.4-0.2l0.8-3.5l0.4-2.5l-5.2 1.6l-2.2 1.6l-7.2 1.7l-1-0.8l4.8-4.8l4.4-4.9l4.9-4.8l5.6-3.4l7.2-4l2.1-0.8l-5.9-1.3l-8.6 0.5l-1.2-2.5l-6.2 3.4l-1.7-0.5l-5.3-3.1l-3.5-0.7l-2.4-1.6l-5.7-2.6l-4.6 0.4l-4.5 1.3l-5.2-2.2l-4-0.8M649 362.8l4.8 0.2l-1.5-2l-3.3 1.8M583.7 338.3l8.2-6.2l-1 2.2l-7.2 4M189 288.7l-5.6-5.2l-1.4-0.6M203 278.3l0.4 0.5M206.5 279.3l-0.7 1.6l0.6 1.2l0.3 1.5l1.4 0.6l-1.3 0.9l0.2 1.8l-1.1 1l0.1 1.6l-0.2 1.7l1.1 1.4l1 1.5l-1.1 1.9l0.9 1.5l-0.6 1.3l-1.3 0.7l-0.1 1.6l-1.2 0.8l-0.6 1.2l-0.1 1.5l0.6 1.4l-0.8 1.4l-1.8 0.9l-1.6 0.1l-1.6 0.4l-1.3 1.1l-1.5 0.5l1-1.2l1.8-0.5l0.6-1.7l0.8-1.3l1.6-0.6l0.4-1.6l0.4-1.5l0.5-1.4l0.5-1.4l0.8-1.3l-0.8 1.7l-1.6 0.8l-1.5 0.8l-1.1 1.2l-1.1 0.9l-1.7 0l-1.2 0.8l0.9-1.2l0.3-1.6l1.1-1l2-0.2l0.4-1.7l0.6-1.3l1.3-0.6l1.2-0.6l-0.5-2.3l-0.8-1.4l-2 0.6l-0.8-1.3l-1.9 0l-2-0.3l-1-1l-1.7 0.8l-1.2-0.6l-0.6-1.9l-1.5 0.2M204.9 289.4l-1.3 1.3l-0.8 1.6l0.8 1.2l0.1 1.4l0.4 1.3l1.4 1.3l-0.6-1.4l0.9-1.5l-0.2-1.4l-0.9-1.2l0.2-2.6M200.3 284.6l1.2 1.2l-0.2 1.7l2.2 0.6l0.7-1.5l0.8-1.6l-2-1.4l-1.2 0.9l-1.5 0.1M814.6 378.6L814.6 377.4L815.9 376.5L816.1 375.4L814.8 373.9L816 373L815.9 371.8L816.5 370.9L817 370L817.8 368.9L819.3 368.8L820 367.5L821.3 367.6L821.4 365.9L822.4 365.6L822.6 364.1L823.9 364.3L825 364L826.7 364L826.4 362.3L827.3 361.5L828.1 360.8L828.7 359.8L830 359.4L830 358L830.3 356.7L831.2 356L833.2 356.4L833.2 354.8L834 354L835.6 354.6L835.1 352L837 353L837.4 351.6L838.2 351.1L839.8 351.5L840 350L840.1 348.5L841.7 348.7L842 347.4L843 347L844.8 347.4L845 346L845.5 345L847 344.9L846 342.6L848.9 343.7L849.5 342.8L849.6 341.5L849.2 339.7L850.6 339.5"/><g style="fill:none;stroke:#5a5a5a;stroke-linecap:round;stroke-linejoin:round"><path d="M203 283.5l2.5 3l-1.5 3" stroke-width="5.5"/><path d="M204.5 290l-.6 8" stroke-width="3.6"/><path d="M203 299.5l-2 4l-2.6 5" stroke-width="4.6"/><path d="M190 549.6l1.2 2M188.6 558l1 2.2" stroke-width="2"/><path d="M168.9 533.6l3 .4l2 1.6l3 .6l2.6 1M176 549h.5M183.5 547.3h.4" stroke-width="1.3"/><path d="M828 360.5l4.5-5l5-4l4.5-3.5" stroke-width="2.4"/></g></g>
<text x="899" y="127" font-size="52.1" font-weight="bold" text-anchor="middle">Active pancreas transplant center, 200 miles</text>
<text transform="translate(484.3,186) scale(1,1.05)" font-size="62.4" text-anchor="middle">PLWH: 99%</text>
<text x="485" y="222" font-size="33.1" text-anchor="middle">934,488 / 943,972</text>
<text transform="translate(1384.6,186) scale(1,1.05)" font-size="62.4" text-anchor="middle">PLWH: 98.7%</text>
<text x="1386.2" y="222" font-size="33.1" text-anchor="middle">1,048,747 / 1,062,528</text>
<text transform="translate(62.4,499.6) rotate(-90)" font-size="76" text-anchor="middle">2017</text>
<text transform="translate(962.4,499.6) rotate(-90)" font-size="76" text-anchor="middle">2022</text>
<text x="36.5" y="779.3" font-size="29.1" font-style="italic">Each blue dot represents 100 people with HIV</text>
<text x="36.5" y="810" font-size="29.1" font-style="italic">Red outlines represent the catchment area for each transplant center</text>
</svg></body></html>
